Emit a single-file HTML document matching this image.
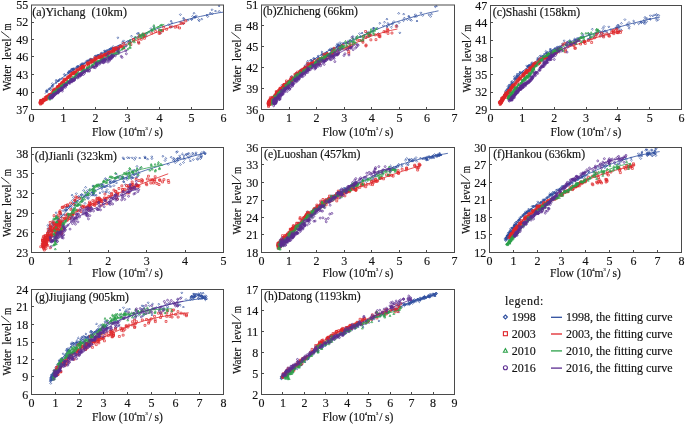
<!DOCTYPE html>
<html><head><meta charset="utf-8"><style>
html,body{margin:0;padding:0;background:#fff;}
svg{display:block;will-change:transform;}
svg{font-family:"Liberation Serif", serif;font-size:12px;} text{fill:#111;stroke:#111;stroke-width:0.15px;}
</style></head><body>
<svg width="685" height="424" viewBox="0 0 685 424">
<rect width="685" height="424" fill="#fff"/>
<defs><clipPath id="ca"><rect x="31.5" y="4.5" width="192.0" height="105.0"/></clipPath><clipPath id="cb"><rect x="261.5" y="4.5" width="193.0" height="105.0"/></clipPath><clipPath id="cc"><rect x="490.5" y="5.5" width="191.0" height="104.0"/></clipPath><clipPath id="cd"><rect x="31.5" y="147.5" width="192.0" height="105.0"/></clipPath><clipPath id="ce"><rect x="261.5" y="147.5" width="193.0" height="105.0"/></clipPath><clipPath id="cf"><rect x="489.5" y="147.5" width="192.0" height="105.0"/></clipPath><clipPath id="cg"><rect x="31.5" y="289.5" width="192.0" height="105.0"/></clipPath><clipPath id="ch"><rect x="261.5" y="289.5" width="193.0" height="105.0"/></clipPath></defs>
<g clip-path="url(#ca)"><path d="M73.0 68.5l0.95 0.95 -0.95 0.95 -0.95 -0.95zM89.7 58.9l0.95 0.95 -0.95 0.95 -0.95 -0.95zM46.7 90.1l0.95 0.95 -0.95 0.95 -0.95 -0.95zM107.0 50.2l0.95 0.95 -0.95 0.95 -0.95 -0.95zM73.1 68.4l0.95 0.95 -0.95 0.95 -0.95 -0.95zM57.9 80.0l0.95 0.95 -0.95 0.95 -0.95 -0.95zM98.2 54.2l0.95 0.95 -0.95 0.95 -0.95 -0.95zM69.5 70.2l0.95 0.95 -0.95 0.95 -0.95 -0.95zM71.5 68.3l0.95 0.95 -0.95 0.95 -0.95 -0.95zM56.1 79.3l0.95 0.95 -0.95 0.95 -0.95 -0.95zM65.1 74.3l0.95 0.95 -0.95 0.95 -0.95 -0.95zM78.1 66.0l0.95 0.95 -0.95 0.95 -0.95 -0.95zM77.6 65.3l0.95 0.95 -0.95 0.95 -0.95 -0.95zM52.4 85.5l0.95 0.95 -0.95 0.95 -0.95 -0.95zM49.5 87.8l0.95 0.95 -0.95 0.95 -0.95 -0.95zM90.7 57.9l0.95 0.95 -0.95 0.95 -0.95 -0.95zM71.5 69.3l0.95 0.95 -0.95 0.95 -0.95 -0.95zM59.7 78.4l0.95 0.95 -0.95 0.95 -0.95 -0.95zM88.0 60.0l0.95 0.95 -0.95 0.95 -0.95 -0.95zM70.8 70.5l0.95 0.95 -0.95 0.95 -0.95 -0.95zM47.4 88.9l0.95 0.95 -0.95 0.95 -0.95 -0.95zM68.7 71.7l0.95 0.95 -0.95 0.95 -0.95 -0.95zM47.2 91.1l0.95 0.95 -0.95 0.95 -0.95 -0.95zM81.4 64.1l0.95 0.95 -0.95 0.95 -0.95 -0.95zM86.9 59.9l0.95 0.95 -0.95 0.95 -0.95 -0.95zM102.0 51.9l0.95 0.95 -0.95 0.95 -0.95 -0.95zM86.3 60.9l0.95 0.95 -0.95 0.95 -0.95 -0.95zM73.9 67.7l0.95 0.95 -0.95 0.95 -0.95 -0.95zM97.1 54.7l0.95 0.95 -0.95 0.95 -0.95 -0.95zM80.9 65.1l0.95 0.95 -0.95 0.95 -0.95 -0.95zM100.5 53.0l0.95 0.95 -0.95 0.95 -0.95 -0.95zM80.9 64.0l0.95 0.95 -0.95 0.95 -0.95 -0.95zM73.2 67.9l0.95 0.95 -0.95 0.95 -0.95 -0.95zM108.8 49.3l0.95 0.95 -0.95 0.95 -0.95 -0.95zM90.0 58.9l0.95 0.95 -0.95 0.95 -0.95 -0.95zM94.8 55.2l0.95 0.95 -0.95 0.95 -0.95 -0.95zM104.6 50.1l0.95 0.95 -0.95 0.95 -0.95 -0.95zM58.5 80.0l0.95 0.95 -0.95 0.95 -0.95 -0.95zM89.7 59.7l0.95 0.95 -0.95 0.95 -0.95 -0.95zM50.6 88.7l0.95 0.95 -0.95 0.95 -0.95 -0.95zM110.6 49.3l0.95 0.95 -0.95 0.95 -0.95 -0.95zM109.3 48.3l0.95 0.95 -0.95 0.95 -0.95 -0.95zM107.1 49.2l0.95 0.95 -0.95 0.95 -0.95 -0.95zM84.9 61.9l0.95 0.95 -0.95 0.95 -0.95 -0.95zM96.7 54.9l0.95 0.95 -0.95 0.95 -0.95 -0.95zM83.9 62.9l0.95 0.95 -0.95 0.95 -0.95 -0.95zM90.9 58.4l0.95 0.95 -0.95 0.95 -0.95 -0.95zM59.1 79.2l0.95 0.95 -0.95 0.95 -0.95 -0.95zM52.4 82.7l0.95 0.95 -0.95 0.95 -0.95 -0.95zM90.3 58.6l0.95 0.95 -0.95 0.95 -0.95 -0.95zM82.7 63.2l0.95 0.95 -0.95 0.95 -0.95 -0.95zM95.9 55.0l0.95 0.95 -0.95 0.95 -0.95 -0.95zM77.6 65.9l0.95 0.95 -0.95 0.95 -0.95 -0.95zM97.8 55.2l0.95 0.95 -0.95 0.95 -0.95 -0.95zM56.1 81.8l0.95 0.95 -0.95 0.95 -0.95 -0.95zM98.9 54.3l0.95 0.95 -0.95 0.95 -0.95 -0.95zM70.6 70.0l0.95 0.95 -0.95 0.95 -0.95 -0.95zM56.7 80.5l0.95 0.95 -0.95 0.95 -0.95 -0.95zM110.0 48.2l0.95 0.95 -0.95 0.95 -0.95 -0.95zM77.4 66.6l0.95 0.95 -0.95 0.95 -0.95 -0.95zM73.8 68.9l0.95 0.95 -0.95 0.95 -0.95 -0.95zM72.6 67.9l0.95 0.95 -0.95 0.95 -0.95 -0.95zM46.2 90.1l0.95 0.95 -0.95 0.95 -0.95 -0.95zM98.0 54.3l0.95 0.95 -0.95 0.95 -0.95 -0.95zM76.4 66.7l0.95 0.95 -0.95 0.95 -0.95 -0.95zM68.7 71.6l0.95 0.95 -0.95 0.95 -0.95 -0.95zM101.1 52.5l0.95 0.95 -0.95 0.95 -0.95 -0.95zM80.8 63.8l0.95 0.95 -0.95 0.95 -0.95 -0.95zM104.7 49.8l0.95 0.95 -0.95 0.95 -0.95 -0.95zM67.9 72.3l0.95 0.95 -0.95 0.95 -0.95 -0.95zM77.3 65.9l0.95 0.95 -0.95 0.95 -0.95 -0.95zM68.9 70.6l0.95 0.95 -0.95 0.95 -0.95 -0.95zM111.1 47.8l0.95 0.95 -0.95 0.95 -0.95 -0.95zM87.9 59.7l0.95 0.95 -0.95 0.95 -0.95 -0.95zM111.6 48.4l0.95 0.95 -0.95 0.95 -0.95 -0.95zM64.3 73.4l0.95 0.95 -0.95 0.95 -0.95 -0.95zM69.2 71.2l0.95 0.95 -0.95 0.95 -0.95 -0.95zM110.8 47.5l0.95 0.95 -0.95 0.95 -0.95 -0.95zM105.7 51.5l0.95 0.95 -0.95 0.95 -0.95 -0.95zM105.0 51.2l0.95 0.95 -0.95 0.95 -0.95 -0.95zM74.1 67.9l0.95 0.95 -0.95 0.95 -0.95 -0.95zM52.8 84.2l0.95 0.95 -0.95 0.95 -0.95 -0.95zM61.9 77.8l0.95 0.95 -0.95 0.95 -0.95 -0.95zM105.4 50.8l0.95 0.95 -0.95 0.95 -0.95 -0.95zM71.7 69.6l0.95 0.95 -0.95 0.95 -0.95 -0.95zM51.8 85.3l0.95 0.95 -0.95 0.95 -0.95 -0.95zM82.0 62.8l0.95 0.95 -0.95 0.95 -0.95 -0.95zM50.1 87.4l0.95 0.95 -0.95 0.95 -0.95 -0.95zM82.7 62.6l0.95 0.95 -0.95 0.95 -0.95 -0.95zM78.7 65.2l0.95 0.95 -0.95 0.95 -0.95 -0.95z" fill="none" stroke="#2f4f9f" stroke-width="0.7"/>
<path d="M210.2 12.2l0.95 0.95 -0.95 0.95 -0.95 -0.95zM172.2 25.6l0.95 0.95 -0.95 0.95 -0.95 -0.95zM168.8 23.7l0.95 0.95 -0.95 0.95 -0.95 -0.95zM129.7 40.5l0.95 0.95 -0.95 0.95 -0.95 -0.95zM194.0 12.3l0.95 0.95 -0.95 0.95 -0.95 -0.95zM206.9 14.1l0.95 0.95 -0.95 0.95 -0.95 -0.95zM131.5 35.3l0.95 0.95 -0.95 0.95 -0.95 -0.95zM194.4 16.2l0.95 0.95 -0.95 0.95 -0.95 -0.95zM160.5 32.2l0.95 0.95 -0.95 0.95 -0.95 -0.95zM171.8 22.0l0.95 0.95 -0.95 0.95 -0.95 -0.95zM201.7 18.2l0.95 0.95 -0.95 0.95 -0.95 -0.95zM151.0 27.7l0.95 0.95 -0.95 0.95 -0.95 -0.95zM170.7 26.3l0.95 0.95 -0.95 0.95 -0.95 -0.95zM116.2 49.4l0.95 0.95 -0.95 0.95 -0.95 -0.95zM117.9 36.8l0.95 0.95 -0.95 0.95 -0.95 -0.95zM127.5 40.6l0.95 0.95 -0.95 0.95 -0.95 -0.95zM114.3 53.0l0.95 0.95 -0.95 0.95 -0.95 -0.95zM146.2 35.4l0.95 0.95 -0.95 0.95 -0.95 -0.95zM184.1 18.3l0.95 0.95 -0.95 0.95 -0.95 -0.95zM183.5 22.7l0.95 0.95 -0.95 0.95 -0.95 -0.95zM212.3 12.7l0.95 0.95 -0.95 0.95 -0.95 -0.95zM138.8 41.8l0.95 0.95 -0.95 0.95 -0.95 -0.95zM112.1 47.0l0.95 0.95 -0.95 0.95 -0.95 -0.95zM138.4 32.1l0.95 0.95 -0.95 0.95 -0.95 -0.95zM112.3 47.7l0.95 0.95 -0.95 0.95 -0.95 -0.95zM215.5 10.1l0.95 0.95 -0.95 0.95 -0.95 -0.95zM212.0 8.8l0.95 0.95 -0.95 0.95 -0.95 -0.95zM219.1 5.0l0.95 0.95 -0.95 0.95 -0.95 -0.95zM118.4 45.4l0.95 0.95 -0.95 0.95 -0.95 -0.95zM134.7 37.0l0.95 0.95 -0.95 0.95 -0.95 -0.95zM219.2 10.4l0.95 0.95 -0.95 0.95 -0.95 -0.95zM171.1 20.2l0.95 0.95 -0.95 0.95 -0.95 -0.95zM123.6 39.9l0.95 0.95 -0.95 0.95 -0.95 -0.95zM180.9 21.5l0.95 0.95 -0.95 0.95 -0.95 -0.95zM115.8 48.0l0.95 0.95 -0.95 0.95 -0.95 -0.95zM153.8 25.9l0.95 0.95 -0.95 0.95 -0.95 -0.95zM130.5 41.2l0.95 0.95 -0.95 0.95 -0.95 -0.95zM119.4 44.9l0.95 0.95 -0.95 0.95 -0.95 -0.95zM123.9 45.9l0.95 0.95 -0.95 0.95 -0.95 -0.95zM194.7 16.3l0.95 0.95 -0.95 0.95 -0.95 -0.95zM122.5 41.3l0.95 0.95 -0.95 0.95 -0.95 -0.95zM140.0 35.5l0.95 0.95 -0.95 0.95 -0.95 -0.95zM113.2 45.6l0.95 0.95 -0.95 0.95 -0.95 -0.95zM125.2 42.7l0.95 0.95 -0.95 0.95 -0.95 -0.95zM137.4 32.8l0.95 0.95 -0.95 0.95 -0.95 -0.95zM183.5 17.2l0.95 0.95 -0.95 0.95 -0.95 -0.95zM192.6 15.5l0.95 0.95 -0.95 0.95 -0.95 -0.95zM191.7 18.1l0.95 0.95 -0.95 0.95 -0.95 -0.95zM191.6 18.7l0.95 0.95 -0.95 0.95 -0.95 -0.95zM199.2 19.8l0.95 0.95 -0.95 0.95 -0.95 -0.95zM207.7 15.6l0.95 0.95 -0.95 0.95 -0.95 -0.95zM142.7 33.3l0.95 0.95 -0.95 0.95 -0.95 -0.95zM196.2 14.9l0.95 0.95 -0.95 0.95 -0.95 -0.95zM187.9 19.3l0.95 0.95 -0.95 0.95 -0.95 -0.95zM198.6 18.6l0.95 0.95 -0.95 0.95 -0.95 -0.95zM195.1 16.3l0.95 0.95 -0.95 0.95 -0.95 -0.95zM129.3 40.1l0.95 0.95 -0.95 0.95 -0.95 -0.95zM151.6 29.6l0.95 0.95 -0.95 0.95 -0.95 -0.95zM180.4 13.7l0.95 0.95 -0.95 0.95 -0.95 -0.95zM146.6 32.8l0.95 0.95 -0.95 0.95 -0.95 -0.95z" fill="none" stroke="#2f4f9f" stroke-width="0.7"/>
<polyline points="44.9,93.7 49.5,88.7 54.1,84.2 58.7,80.4 63.3,77.0 67.8,73.8 72.4,70.8 77.0,67.9 81.6,65.1 86.1,62.3 90.7,59.6 95.3,57.1 99.9,54.7 104.5,52.3 109.0,50.0 113.6,47.7 118.2,45.6 122.8,43.4 127.4,41.3 131.9,39.2 136.5,37.2 141.1,35.2 145.7,33.2 150.2,31.3 154.8,29.5 159.4,27.9 164.0,26.3 168.6,24.8 173.1,23.4 177.7,22.1 182.3,20.8 186.9,19.6 191.5,18.5 196.0,17.4 200.6,16.4 205.2,15.4 209.8,14.5 214.3,13.6 218.9,12.8 223.5,12.1" fill="none" stroke="#2f4f9f" stroke-width="0.8"/>
<path d="M42.1 99.1h1.9v1.9h-1.9zM105.3 53.2h1.9v1.9h-1.9zM40.3 99.6h1.9v1.9h-1.9zM53.7 89.6h1.9v1.9h-1.9zM68.2 75.1h1.9v1.9h-1.9zM46.8 95.2h1.9v1.9h-1.9zM105.1 53.6h1.9v1.9h-1.9zM43.0 98.7h1.9v1.9h-1.9zM82.8 65.8h1.9v1.9h-1.9zM63.1 78.8h1.9v1.9h-1.9zM86.4 62.0h1.9v1.9h-1.9zM110.8 50.6h1.9v1.9h-1.9zM49.1 94.1h1.9v1.9h-1.9zM79.3 66.7h1.9v1.9h-1.9zM81.3 65.6h1.9v1.9h-1.9zM45.2 98.7h1.9v1.9h-1.9zM48.8 93.5h1.9v1.9h-1.9zM90.3 60.9h1.9v1.9h-1.9zM103.8 54.2h1.9v1.9h-1.9zM81.6 65.9h1.9v1.9h-1.9zM98.3 56.5h1.9v1.9h-1.9zM115.2 46.7h1.9v1.9h-1.9zM101.0 55.2h1.9v1.9h-1.9zM52.7 90.1h1.9v1.9h-1.9zM108.1 51.0h1.9v1.9h-1.9zM45.6 95.4h1.9v1.9h-1.9zM72.2 72.5h1.9v1.9h-1.9zM117.5 47.3h1.9v1.9h-1.9zM99.2 56.2h1.9v1.9h-1.9zM42.3 99.2h1.9v1.9h-1.9zM110.3 50.4h1.9v1.9h-1.9zM42.8 100.1h1.9v1.9h-1.9zM100.7 56.1h1.9v1.9h-1.9zM108.9 51.5h1.9v1.9h-1.9zM40.5 100.6h1.9v1.9h-1.9zM42.3 98.2h1.9v1.9h-1.9zM112.8 50.2h1.9v1.9h-1.9zM40.5 100.4h1.9v1.9h-1.9zM52.9 89.6h1.9v1.9h-1.9zM79.8 68.3h1.9v1.9h-1.9zM51.2 91.8h1.9v1.9h-1.9zM107.1 51.5h1.9v1.9h-1.9zM104.1 54.1h1.9v1.9h-1.9zM68.8 75.0h1.9v1.9h-1.9zM74.9 72.1h1.9v1.9h-1.9zM65.1 78.7h1.9v1.9h-1.9zM92.6 60.1h1.9v1.9h-1.9zM90.0 58.9h1.9v1.9h-1.9zM74.4 71.2h1.9v1.9h-1.9zM118.0 47.1h1.9v1.9h-1.9zM105.0 53.4h1.9v1.9h-1.9zM58.7 83.5h1.9v1.9h-1.9zM81.7 65.6h1.9v1.9h-1.9zM47.9 94.0h1.9v1.9h-1.9zM47.0 96.2h1.9v1.9h-1.9zM59.1 84.4h1.9v1.9h-1.9zM99.5 56.8h1.9v1.9h-1.9zM112.0 49.5h1.9v1.9h-1.9zM40.9 101.3h1.9v1.9h-1.9zM44.9 96.5h1.9v1.9h-1.9zM40.6 100.6h1.9v1.9h-1.9zM100.3 55.8h1.9v1.9h-1.9zM82.2 67.2h1.9v1.9h-1.9zM81.5 67.1h1.9v1.9h-1.9zM71.8 72.8h1.9v1.9h-1.9zM40.5 101.6h1.9v1.9h-1.9zM55.9 87.9h1.9v1.9h-1.9zM82.9 65.0h1.9v1.9h-1.9zM49.7 94.1h1.9v1.9h-1.9zM57.3 85.5h1.9v1.9h-1.9zM107.8 52.5h1.9v1.9h-1.9zM87.5 64.2h1.9v1.9h-1.9zM52.9 88.1h1.9v1.9h-1.9zM39.4 102.3h1.9v1.9h-1.9zM88.0 62.9h1.9v1.9h-1.9zM112.9 47.8h1.9v1.9h-1.9zM82.5 66.1h1.9v1.9h-1.9zM55.8 87.6h1.9v1.9h-1.9zM39.7 99.9h1.9v1.9h-1.9zM64.8 78.3h1.9v1.9h-1.9zM103.3 53.8h1.9v1.9h-1.9zM113.4 48.6h1.9v1.9h-1.9zM75.1 69.0h1.9v1.9h-1.9zM40.2 101.7h1.9v1.9h-1.9zM73.8 72.2h1.9v1.9h-1.9zM81.6 65.5h1.9v1.9h-1.9zM73.0 71.7h1.9v1.9h-1.9zM57.4 86.6h1.9v1.9h-1.9zM116.2 47.4h1.9v1.9h-1.9zM119.7 45.3h1.9v1.9h-1.9zM100.2 53.7h1.9v1.9h-1.9zM94.2 60.8h1.9v1.9h-1.9zM40.0 101.4h1.9v1.9h-1.9zM72.5 72.9h1.9v1.9h-1.9zM51.9 90.4h1.9v1.9h-1.9zM49.9 93.4h1.9v1.9h-1.9zM108.5 51.7h1.9v1.9h-1.9zM40.6 101.5h1.9v1.9h-1.9zM40.1 101.0h1.9v1.9h-1.9zM89.9 61.8h1.9v1.9h-1.9zM77.0 68.1h1.9v1.9h-1.9zM102.1 54.8h1.9v1.9h-1.9zM70.2 72.8h1.9v1.9h-1.9zM58.6 83.8h1.9v1.9h-1.9zM91.9 60.2h1.9v1.9h-1.9zM48.2 94.3h1.9v1.9h-1.9zM120.9 45.3h1.9v1.9h-1.9zM44.4 98.4h1.9v1.9h-1.9zM61.3 81.3h1.9v1.9h-1.9zM61.0 81.6h1.9v1.9h-1.9zM41.3 101.2h1.9v1.9h-1.9zM58.3 86.2h1.9v1.9h-1.9zM59.2 84.8h1.9v1.9h-1.9zM98.8 56.2h1.9v1.9h-1.9zM113.4 49.0h1.9v1.9h-1.9zM101.2 55.2h1.9v1.9h-1.9zM53.4 89.3h1.9v1.9h-1.9zM66.8 76.4h1.9v1.9h-1.9zM42.2 99.5h1.9v1.9h-1.9zM91.5 59.8h1.9v1.9h-1.9zM39.8 99.7h1.9v1.9h-1.9zM45.8 98.2h1.9v1.9h-1.9zM82.8 66.8h1.9v1.9h-1.9zM88.9 61.1h1.9v1.9h-1.9zM79.0 67.2h1.9v1.9h-1.9zM68.3 76.6h1.9v1.9h-1.9zM71.0 72.7h1.9v1.9h-1.9zM73.1 71.1h1.9v1.9h-1.9zM57.2 85.7h1.9v1.9h-1.9zM114.9 48.2h1.9v1.9h-1.9zM41.4 99.9h1.9v1.9h-1.9zM63.2 79.8h1.9v1.9h-1.9zM77.6 69.0h1.9v1.9h-1.9zM40.3 102.3h1.9v1.9h-1.9zM47.3 95.8h1.9v1.9h-1.9zM101.3 55.2h1.9v1.9h-1.9zM52.7 89.7h1.9v1.9h-1.9zM40.1 100.2h1.9v1.9h-1.9zM91.6 60.0h1.9v1.9h-1.9zM69.5 75.0h1.9v1.9h-1.9zM80.7 67.2h1.9v1.9h-1.9zM66.9 76.3h1.9v1.9h-1.9zM41.6 99.9h1.9v1.9h-1.9zM56.3 86.1h1.9v1.9h-1.9zM101.6 56.9h1.9v1.9h-1.9zM62.9 80.5h1.9v1.9h-1.9zM104.3 53.5h1.9v1.9h-1.9zM94.8 58.0h1.9v1.9h-1.9zM53.2 89.5h1.9v1.9h-1.9zM69.8 74.4h1.9v1.9h-1.9zM46.6 95.5h1.9v1.9h-1.9zM39.6 103.2h1.9v1.9h-1.9zM85.6 64.3h1.9v1.9h-1.9zM44.0 98.9h1.9v1.9h-1.9zM57.7 85.4h1.9v1.9h-1.9zM42.4 98.8h1.9v1.9h-1.9zM44.8 97.5h1.9v1.9h-1.9zM87.2 62.2h1.9v1.9h-1.9zM81.1 67.4h1.9v1.9h-1.9zM119.8 45.2h1.9v1.9h-1.9zM41.7 99.7h1.9v1.9h-1.9zM44.2 96.6h1.9v1.9h-1.9zM105.2 53.1h1.9v1.9h-1.9zM94.1 59.9h1.9v1.9h-1.9zM65.4 78.4h1.9v1.9h-1.9zM48.5 94.1h1.9v1.9h-1.9zM87.5 63.2h1.9v1.9h-1.9zM79.6 68.5h1.9v1.9h-1.9zM42.6 99.0h1.9v1.9h-1.9zM40.2 100.0h1.9v1.9h-1.9zM58.7 84.2h1.9v1.9h-1.9zM45.4 96.7h1.9v1.9h-1.9zM100.6 57.8h1.9v1.9h-1.9zM44.9 98.0h1.9v1.9h-1.9zM96.4 57.2h1.9v1.9h-1.9zM92.8 58.9h1.9v1.9h-1.9zM69.8 74.0h1.9v1.9h-1.9zM94.3 58.7h1.9v1.9h-1.9zM66.4 77.2h1.9v1.9h-1.9zM98.5 56.0h1.9v1.9h-1.9zM105.3 54.6h1.9v1.9h-1.9zM40.8 100.8h1.9v1.9h-1.9zM39.2 102.0h1.9v1.9h-1.9zM50.7 92.8h1.9v1.9h-1.9zM52.9 90.4h1.9v1.9h-1.9zM107.8 52.1h1.9v1.9h-1.9zM49.7 93.8h1.9v1.9h-1.9zM73.0 72.5h1.9v1.9h-1.9zM40.8 101.0h1.9v1.9h-1.9zM116.3 48.2h1.9v1.9h-1.9zM43.0 98.7h1.9v1.9h-1.9zM103.5 53.4h1.9v1.9h-1.9zM101.1 55.6h1.9v1.9h-1.9zM91.0 60.8h1.9v1.9h-1.9zM43.2 99.6h1.9v1.9h-1.9zM96.6 57.0h1.9v1.9h-1.9zM63.5 78.2h1.9v1.9h-1.9zM67.6 75.8h1.9v1.9h-1.9zM39.5 101.2h1.9v1.9h-1.9zM56.5 86.8h1.9v1.9h-1.9zM109.9 51.3h1.9v1.9h-1.9zM46.4 96.7h1.9v1.9h-1.9zM68.5 75.9h1.9v1.9h-1.9zM53.8 88.5h1.9v1.9h-1.9zM97.7 55.6h1.9v1.9h-1.9zM73.8 71.6h1.9v1.9h-1.9zM60.7 82.4h1.9v1.9h-1.9zM62.9 81.1h1.9v1.9h-1.9zM54.6 88.3h1.9v1.9h-1.9zM39.5 101.3h1.9v1.9h-1.9zM94.3 58.2h1.9v1.9h-1.9zM41.4 102.1h1.9v1.9h-1.9zM40.6 101.2h1.9v1.9h-1.9zM45.0 96.9h1.9v1.9h-1.9zM60.6 82.6h1.9v1.9h-1.9zM56.3 86.9h1.9v1.9h-1.9zM56.8 85.5h1.9v1.9h-1.9zM93.9 56.8h1.9v1.9h-1.9zM112.7 49.1h1.9v1.9h-1.9zM92.5 60.3h1.9v1.9h-1.9zM86.5 62.3h1.9v1.9h-1.9zM112.6 50.8h1.9v1.9h-1.9zM92.4 59.6h1.9v1.9h-1.9zM107.2 52.7h1.9v1.9h-1.9zM42.7 99.0h1.9v1.9h-1.9zM38.9 101.5h1.9v1.9h-1.9zM39.9 99.4h1.9v1.9h-1.9zM71.9 71.7h1.9v1.9h-1.9zM95.0 57.2h1.9v1.9h-1.9zM82.1 65.8h1.9v1.9h-1.9zM76.2 70.1h1.9v1.9h-1.9zM91.5 60.9h1.9v1.9h-1.9zM94.7 57.7h1.9v1.9h-1.9zM75.0 71.8h1.9v1.9h-1.9zM76.6 69.2h1.9v1.9h-1.9zM80.4 67.3h1.9v1.9h-1.9zM40.3 101.7h1.9v1.9h-1.9zM46.0 97.0h1.9v1.9h-1.9zM62.5 80.6h1.9v1.9h-1.9zM81.5 65.4h1.9v1.9h-1.9z" fill="none" stroke="#e0262a" stroke-width="0.7"/>
<path d="M129.9 43.7h1.9v1.9h-1.9zM150.8 32.2h1.9v1.9h-1.9zM165.7 28.3h1.9v1.9h-1.9zM169.5 25.9h1.9v1.9h-1.9zM180.2 22.2h1.9v1.9h-1.9zM143.0 33.1h1.9v1.9h-1.9zM122.1 46.7h1.9v1.9h-1.9zM113.4 49.4h1.9v1.9h-1.9zM128.6 42.0h1.9v1.9h-1.9zM162.7 26.2h1.9v1.9h-1.9zM154.7 30.6h1.9v1.9h-1.9zM178.6 27.0h1.9v1.9h-1.9zM158.2 32.4h1.9v1.9h-1.9zM184.7 19.9h1.9v1.9h-1.9zM112.6 47.5h1.9v1.9h-1.9zM142.1 34.4h1.9v1.9h-1.9zM122.7 42.6h1.9v1.9h-1.9zM161.6 30.0h1.9v1.9h-1.9zM159.1 32.1h1.9v1.9h-1.9zM137.9 42.2h1.9v1.9h-1.9zM114.8 47.7h1.9v1.9h-1.9zM132.7 38.9h1.9v1.9h-1.9zM137.5 40.9h1.9v1.9h-1.9zM142.9 35.2h1.9v1.9h-1.9zM132.5 38.6h1.9v1.9h-1.9zM161.4 29.6h1.9v1.9h-1.9zM174.2 26.2h1.9v1.9h-1.9zM143.8 34.3h1.9v1.9h-1.9zM158.6 29.3h1.9v1.9h-1.9zM140.3 38.3h1.9v1.9h-1.9zM143.5 37.3h1.9v1.9h-1.9zM176.5 25.9h1.9v1.9h-1.9zM118.3 46.3h1.9v1.9h-1.9zM117.1 49.3h1.9v1.9h-1.9zM115.4 47.7h1.9v1.9h-1.9zM110.8 51.2h1.9v1.9h-1.9zM138.6 34.5h1.9v1.9h-1.9zM122.6 47.3h1.9v1.9h-1.9zM182.3 22.1h1.9v1.9h-1.9zM137.1 37.1h1.9v1.9h-1.9z" fill="none" stroke="#e0262a" stroke-width="0.7"/>
<polyline points="40.5,102.5 44.2,99.8 47.9,96.7 51.6,93.3 55.3,89.7 59.0,86.0 62.7,82.2 66.4,78.9 70.1,75.8 73.8,73.0 77.5,70.5 81.3,68.1 85.0,65.8 88.7,63.5 92.4,61.3 96.1,59.2 99.8,57.2 103.5,55.2 107.2,53.3 110.9,51.5 114.6,49.6 118.3,47.9 122.1,46.2 125.8,44.7 129.5,43.1 133.2,41.6 136.9,40.2 140.6,38.7 144.3,37.3 148.0,35.9 151.7,34.4 155.4,32.8 159.1,31.3 162.8,29.9 166.6,28.6 170.3,27.4 174.0,26.2 177.7,25.1 181.4,24.1 185.1,23.2" fill="none" stroke="#e0262a" stroke-width="0.8"/>
<path d="M54.6 92.3l0.95 1.71h-1.9zM112.4 55.8l0.95 1.71h-1.9zM66.6 81.8l0.95 1.71h-1.9zM66.8 81.9l0.95 1.71h-1.9zM61.0 87.1l0.95 1.71h-1.9zM53.9 91.5l0.95 1.71h-1.9zM108.1 56.0l0.95 1.71h-1.9zM108.1 55.1l0.95 1.71h-1.9zM111.9 54.5l0.95 1.71h-1.9zM72.7 76.1l0.95 1.71h-1.9zM60.9 86.6l0.95 1.71h-1.9zM111.3 55.0l0.95 1.71h-1.9zM57.3 90.3l0.95 1.71h-1.9zM83.9 69.0l0.95 1.71h-1.9zM66.7 81.9l0.95 1.71h-1.9zM83.3 69.1l0.95 1.71h-1.9zM92.1 63.8l0.95 1.71h-1.9zM52.4 93.4l0.95 1.71h-1.9zM95.9 61.6l0.95 1.71h-1.9zM94.2 62.8l0.95 1.71h-1.9zM95.7 61.7l0.95 1.71h-1.9zM50.4 96.2l0.95 1.71h-1.9zM54.9 90.7l0.95 1.71h-1.9zM58.3 89.2l0.95 1.71h-1.9zM72.0 78.3l0.95 1.71h-1.9zM96.1 62.6l0.95 1.71h-1.9zM83.6 68.7l0.95 1.71h-1.9zM97.5 60.1l0.95 1.71h-1.9zM53.9 92.4l0.95 1.71h-1.9zM56.3 89.0l0.95 1.71h-1.9zM52.1 94.0l0.95 1.71h-1.9zM61.4 85.3l0.95 1.71h-1.9zM75.7 76.5l0.95 1.71h-1.9zM92.4 64.8l0.95 1.71h-1.9zM49.4 95.8l0.95 1.71h-1.9zM113.3 52.8l0.95 1.71h-1.9zM103.5 58.3l0.95 1.71h-1.9zM48.6 96.5l0.95 1.71h-1.9zM101.4 58.4l0.95 1.71h-1.9zM50.8 94.8l0.95 1.71h-1.9zM108.4 54.8l0.95 1.71h-1.9zM50.4 96.6l0.95 1.71h-1.9zM87.1 67.6l0.95 1.71h-1.9zM62.7 85.4l0.95 1.71h-1.9zM59.0 87.5l0.95 1.71h-1.9zM74.4 76.4l0.95 1.71h-1.9zM76.1 73.4l0.95 1.71h-1.9zM69.6 79.4l0.95 1.71h-1.9zM109.2 55.3l0.95 1.71h-1.9zM51.4 94.9l0.95 1.71h-1.9zM54.2 90.6l0.95 1.71h-1.9zM59.2 87.8l0.95 1.71h-1.9zM62.6 84.9l0.95 1.71h-1.9zM109.0 55.8l0.95 1.71h-1.9zM103.5 58.0l0.95 1.71h-1.9zM99.9 60.1l0.95 1.71h-1.9zM98.1 60.4l0.95 1.71h-1.9zM56.4 90.5l0.95 1.71h-1.9zM62.4 84.5l0.95 1.71h-1.9zM118.6 50.6l0.95 1.71h-1.9zM63.3 83.1l0.95 1.71h-1.9zM102.1 59.2l0.95 1.71h-1.9zM118.2 52.6l0.95 1.71h-1.9zM99.7 59.8l0.95 1.71h-1.9zM106.5 58.4l0.95 1.71h-1.9zM65.2 82.8l0.95 1.71h-1.9zM74.3 75.7l0.95 1.71h-1.9zM70.5 77.9l0.95 1.71h-1.9zM86.9 66.8l0.95 1.71h-1.9zM50.8 94.7l0.95 1.71h-1.9zM62.1 86.3l0.95 1.71h-1.9zM113.0 53.7l0.95 1.71h-1.9zM65.9 82.1l0.95 1.71h-1.9zM63.4 84.4l0.95 1.71h-1.9zM59.4 87.6l0.95 1.71h-1.9zM89.4 65.8l0.95 1.71h-1.9zM82.4 70.7l0.95 1.71h-1.9zM54.9 91.0l0.95 1.71h-1.9zM82.1 70.0l0.95 1.71h-1.9zM78.3 71.3l0.95 1.71h-1.9zM102.2 58.5l0.95 1.71h-1.9zM64.9 83.4l0.95 1.71h-1.9zM75.9 74.0l0.95 1.71h-1.9zM50.8 96.5l0.95 1.71h-1.9zM67.7 80.6l0.95 1.71h-1.9zM86.0 68.9l0.95 1.71h-1.9zM50.0 96.5l0.95 1.71h-1.9zM87.7 66.7l0.95 1.71h-1.9zM56.4 90.9l0.95 1.71h-1.9zM121.8 48.4l0.95 1.71h-1.9zM116.2 52.8l0.95 1.71h-1.9zM73.1 77.3l0.95 1.71h-1.9zM70.5 78.4l0.95 1.71h-1.9zM77.6 72.6l0.95 1.71h-1.9zM53.6 91.2l0.95 1.71h-1.9zM83.9 69.8l0.95 1.71h-1.9zM69.0 80.8l0.95 1.71h-1.9zM87.5 66.9l0.95 1.71h-1.9zM77.0 73.0l0.95 1.71h-1.9zM107.9 56.1l0.95 1.71h-1.9zM84.5 70.1l0.95 1.71h-1.9zM89.4 65.1l0.95 1.71h-1.9zM66.0 83.1l0.95 1.71h-1.9zM111.9 54.1l0.95 1.71h-1.9zM104.3 56.5l0.95 1.71h-1.9zM83.7 70.6l0.95 1.71h-1.9zM61.0 84.6l0.95 1.71h-1.9zM115.3 52.1l0.95 1.71h-1.9zM65.3 83.5l0.95 1.71h-1.9zM104.3 57.5l0.95 1.71h-1.9zM50.6 96.0l0.95 1.71h-1.9zM72.4 78.0l0.95 1.71h-1.9zM49.1 98.0l0.95 1.71h-1.9zM81.5 71.6l0.95 1.71h-1.9zM53.3 92.8l0.95 1.71h-1.9zM65.6 82.3l0.95 1.71h-1.9zM118.5 51.6l0.95 1.71h-1.9zM67.7 80.1l0.95 1.71h-1.9zM94.4 61.6l0.95 1.71h-1.9zM58.8 88.5l0.95 1.71h-1.9zM99.1 60.3l0.95 1.71h-1.9zM67.8 81.8l0.95 1.71h-1.9zM52.9 95.0l0.95 1.71h-1.9zM81.2 71.2l0.95 1.71h-1.9zM65.3 83.0l0.95 1.71h-1.9zM117.5 51.0l0.95 1.71h-1.9zM67.3 81.0l0.95 1.71h-1.9zM63.6 84.6l0.95 1.71h-1.9zM50.8 95.6l0.95 1.71h-1.9zM50.1 95.7l0.95 1.71h-1.9zM54.0 91.5l0.95 1.71h-1.9zM93.0 64.4l0.95 1.71h-1.9zM111.3 52.8l0.95 1.71h-1.9zM70.7 78.6l0.95 1.71h-1.9zM76.4 75.1l0.95 1.71h-1.9zM53.4 93.3l0.95 1.71h-1.9zM100.1 59.5l0.95 1.71h-1.9zM97.6 61.2l0.95 1.71h-1.9zM54.6 91.9l0.95 1.71h-1.9zM64.4 84.4l0.95 1.71h-1.9zM57.0 88.0l0.95 1.71h-1.9zM49.7 95.5l0.95 1.71h-1.9zM100.7 59.9l0.95 1.71h-1.9zM50.6 95.7l0.95 1.71h-1.9zM52.6 92.6l0.95 1.71h-1.9zM75.8 74.0l0.95 1.71h-1.9zM98.5 60.3l0.95 1.71h-1.9zM91.8 65.8l0.95 1.71h-1.9zM50.1 98.3l0.95 1.71h-1.9zM63.2 84.0l0.95 1.71h-1.9zM50.9 94.2l0.95 1.71h-1.9zM50.6 94.4l0.95 1.71h-1.9zM88.8 67.7l0.95 1.71h-1.9zM100.4 61.2l0.95 1.71h-1.9zM53.3 92.2l0.95 1.71h-1.9zM55.2 91.8l0.95 1.71h-1.9zM84.5 68.9l0.95 1.71h-1.9zM71.9 78.3l0.95 1.71h-1.9zM72.1 78.2l0.95 1.71h-1.9zM118.2 49.9l0.95 1.71h-1.9z" fill="none" stroke="#2ca14a" stroke-width="0.7"/>
<path d="M143.5 34.1l0.95 1.71h-1.9zM142.7 32.6l0.95 1.71h-1.9zM123.9 46.8l0.95 1.71h-1.9zM161.8 23.9l0.95 1.71h-1.9zM141.7 36.4l0.95 1.71h-1.9zM134.4 41.0l0.95 1.71h-1.9zM141.7 33.7l0.95 1.71h-1.9zM148.8 31.1l0.95 1.71h-1.9zM159.4 28.9l0.95 1.71h-1.9zM140.6 35.6l0.95 1.71h-1.9zM127.9 48.0l0.95 1.71h-1.9zM154.1 27.1l0.95 1.71h-1.9zM129.2 42.4l0.95 1.71h-1.9zM161.2 29.1l0.95 1.71h-1.9zM129.6 46.5l0.95 1.71h-1.9zM154.6 27.9l0.95 1.71h-1.9zM130.2 43.9l0.95 1.71h-1.9zM139.5 33.7l0.95 1.71h-1.9zM135.4 36.0l0.95 1.71h-1.9zM158.4 26.0l0.95 1.71h-1.9zM123.9 46.6l0.95 1.71h-1.9zM160.4 24.4l0.95 1.71h-1.9zM130.3 46.5l0.95 1.71h-1.9zM152.4 29.6l0.95 1.71h-1.9zM143.9 34.6l0.95 1.71h-1.9zM153.9 24.5l0.95 1.71h-1.9zM151.9 28.8l0.95 1.71h-1.9zM161.1 29.2l0.95 1.71h-1.9zM146.4 32.2l0.95 1.71h-1.9zM130.1 39.2l0.95 1.71h-1.9z" fill="none" stroke="#2ca14a" stroke-width="0.7"/>
<polyline points="49.1,97.8 52.1,95.0 55.0,92.2 58.0,89.6 60.9,87.1 63.9,84.7 66.8,82.4 69.8,80.3 72.7,78.2 75.7,76.1 78.6,74.1 81.6,72.0 84.5,70.0 87.5,68.0 90.5,66.1 93.4,64.3 96.4,62.6 99.3,61.0 102.3,59.6 105.2,58.2 108.2,56.8 111.1,55.4 114.1,54.0 117.0,52.4 120.0,50.7 122.9,48.7 125.9,46.4 128.9,44.1 131.8,42.0 134.8,40.0 137.7,38.1 140.7,36.1 143.6,34.3 146.6,32.5 149.5,30.8 152.5,29.3 155.4,27.9 158.4,26.6 161.3,25.4 164.3,24.3" fill="none" stroke="#2ca14a" stroke-width="0.8"/>
<path d="M49.0 97.5a0.95 0.95 0 1 0 1.9 0a0.95 0.95 0 1 0 -1.9 0M51.1 96.7a0.95 0.95 0 1 0 1.9 0a0.95 0.95 0 1 0 -1.9 0M57.8 90.8a0.95 0.95 0 1 0 1.9 0a0.95 0.95 0 1 0 -1.9 0M102.6 62.5a0.95 0.95 0 1 0 1.9 0a0.95 0.95 0 1 0 -1.9 0M71.1 81.9a0.95 0.95 0 1 0 1.9 0a0.95 0.95 0 1 0 -1.9 0M71.1 79.7a0.95 0.95 0 1 0 1.9 0a0.95 0.95 0 1 0 -1.9 0M108.4 57.8a0.95 0.95 0 1 0 1.9 0a0.95 0.95 0 1 0 -1.9 0M59.5 89.4a0.95 0.95 0 1 0 1.9 0a0.95 0.95 0 1 0 -1.9 0M95.5 63.6a0.95 0.95 0 1 0 1.9 0a0.95 0.95 0 1 0 -1.9 0M63.9 84.8a0.95 0.95 0 1 0 1.9 0a0.95 0.95 0 1 0 -1.9 0M73.8 78.8a0.95 0.95 0 1 0 1.9 0a0.95 0.95 0 1 0 -1.9 0M52.3 94.1a0.95 0.95 0 1 0 1.9 0a0.95 0.95 0 1 0 -1.9 0M50.7 97.2a0.95 0.95 0 1 0 1.9 0a0.95 0.95 0 1 0 -1.9 0M103.9 62.0a0.95 0.95 0 1 0 1.9 0a0.95 0.95 0 1 0 -1.9 0M55.8 92.6a0.95 0.95 0 1 0 1.9 0a0.95 0.95 0 1 0 -1.9 0M51.1 96.8a0.95 0.95 0 1 0 1.9 0a0.95 0.95 0 1 0 -1.9 0M95.7 62.7a0.95 0.95 0 1 0 1.9 0a0.95 0.95 0 1 0 -1.9 0M83.4 71.9a0.95 0.95 0 1 0 1.9 0a0.95 0.95 0 1 0 -1.9 0M51.0 98.3a0.95 0.95 0 1 0 1.9 0a0.95 0.95 0 1 0 -1.9 0M73.6 80.0a0.95 0.95 0 1 0 1.9 0a0.95 0.95 0 1 0 -1.9 0M78.4 74.5a0.95 0.95 0 1 0 1.9 0a0.95 0.95 0 1 0 -1.9 0M86.1 70.8a0.95 0.95 0 1 0 1.9 0a0.95 0.95 0 1 0 -1.9 0M80.9 73.8a0.95 0.95 0 1 0 1.9 0a0.95 0.95 0 1 0 -1.9 0M108.1 59.7a0.95 0.95 0 1 0 1.9 0a0.95 0.95 0 1 0 -1.9 0M68.1 81.8a0.95 0.95 0 1 0 1.9 0a0.95 0.95 0 1 0 -1.9 0M101.8 60.4a0.95 0.95 0 1 0 1.9 0a0.95 0.95 0 1 0 -1.9 0M95.4 65.6a0.95 0.95 0 1 0 1.9 0a0.95 0.95 0 1 0 -1.9 0M68.8 83.5a0.95 0.95 0 1 0 1.9 0a0.95 0.95 0 1 0 -1.9 0M103.9 60.9a0.95 0.95 0 1 0 1.9 0a0.95 0.95 0 1 0 -1.9 0M64.5 87.3a0.95 0.95 0 1 0 1.9 0a0.95 0.95 0 1 0 -1.9 0M79.1 75.1a0.95 0.95 0 1 0 1.9 0a0.95 0.95 0 1 0 -1.9 0M101.6 62.1a0.95 0.95 0 1 0 1.9 0a0.95 0.95 0 1 0 -1.9 0M68.0 82.7a0.95 0.95 0 1 0 1.9 0a0.95 0.95 0 1 0 -1.9 0M59.0 90.9a0.95 0.95 0 1 0 1.9 0a0.95 0.95 0 1 0 -1.9 0M57.3 89.8a0.95 0.95 0 1 0 1.9 0a0.95 0.95 0 1 0 -1.9 0M72.3 79.9a0.95 0.95 0 1 0 1.9 0a0.95 0.95 0 1 0 -1.9 0M105.4 61.0a0.95 0.95 0 1 0 1.9 0a0.95 0.95 0 1 0 -1.9 0M69.2 82.1a0.95 0.95 0 1 0 1.9 0a0.95 0.95 0 1 0 -1.9 0M79.2 75.4a0.95 0.95 0 1 0 1.9 0a0.95 0.95 0 1 0 -1.9 0M60.4 88.3a0.95 0.95 0 1 0 1.9 0a0.95 0.95 0 1 0 -1.9 0M70.6 81.4a0.95 0.95 0 1 0 1.9 0a0.95 0.95 0 1 0 -1.9 0M51.6 95.8a0.95 0.95 0 1 0 1.9 0a0.95 0.95 0 1 0 -1.9 0M51.6 96.2a0.95 0.95 0 1 0 1.9 0a0.95 0.95 0 1 0 -1.9 0M57.4 90.5a0.95 0.95 0 1 0 1.9 0a0.95 0.95 0 1 0 -1.9 0M92.8 67.2a0.95 0.95 0 1 0 1.9 0a0.95 0.95 0 1 0 -1.9 0M68.6 82.0a0.95 0.95 0 1 0 1.9 0a0.95 0.95 0 1 0 -1.9 0M87.0 71.3a0.95 0.95 0 1 0 1.9 0a0.95 0.95 0 1 0 -1.9 0M50.8 97.5a0.95 0.95 0 1 0 1.9 0a0.95 0.95 0 1 0 -1.9 0M53.3 95.6a0.95 0.95 0 1 0 1.9 0a0.95 0.95 0 1 0 -1.9 0M51.5 96.4a0.95 0.95 0 1 0 1.9 0a0.95 0.95 0 1 0 -1.9 0M53.7 93.8a0.95 0.95 0 1 0 1.9 0a0.95 0.95 0 1 0 -1.9 0M96.2 65.7a0.95 0.95 0 1 0 1.9 0a0.95 0.95 0 1 0 -1.9 0M50.9 96.1a0.95 0.95 0 1 0 1.9 0a0.95 0.95 0 1 0 -1.9 0M61.2 89.3a0.95 0.95 0 1 0 1.9 0a0.95 0.95 0 1 0 -1.9 0M49.0 98.5a0.95 0.95 0 1 0 1.9 0a0.95 0.95 0 1 0 -1.9 0M55.3 93.1a0.95 0.95 0 1 0 1.9 0a0.95 0.95 0 1 0 -1.9 0M58.2 91.1a0.95 0.95 0 1 0 1.9 0a0.95 0.95 0 1 0 -1.9 0M61.9 87.7a0.95 0.95 0 1 0 1.9 0a0.95 0.95 0 1 0 -1.9 0M77.6 75.3a0.95 0.95 0 1 0 1.9 0a0.95 0.95 0 1 0 -1.9 0M70.8 79.0a0.95 0.95 0 1 0 1.9 0a0.95 0.95 0 1 0 -1.9 0M74.4 77.8a0.95 0.95 0 1 0 1.9 0a0.95 0.95 0 1 0 -1.9 0M100.4 62.4a0.95 0.95 0 1 0 1.9 0a0.95 0.95 0 1 0 -1.9 0M80.2 73.6a0.95 0.95 0 1 0 1.9 0a0.95 0.95 0 1 0 -1.9 0M109.9 57.6a0.95 0.95 0 1 0 1.9 0a0.95 0.95 0 1 0 -1.9 0M100.1 60.9a0.95 0.95 0 1 0 1.9 0a0.95 0.95 0 1 0 -1.9 0M80.4 74.0a0.95 0.95 0 1 0 1.9 0a0.95 0.95 0 1 0 -1.9 0M76.7 77.2a0.95 0.95 0 1 0 1.9 0a0.95 0.95 0 1 0 -1.9 0M52.1 96.4a0.95 0.95 0 1 0 1.9 0a0.95 0.95 0 1 0 -1.9 0M88.4 71.1a0.95 0.95 0 1 0 1.9 0a0.95 0.95 0 1 0 -1.9 0M66.1 84.7a0.95 0.95 0 1 0 1.9 0a0.95 0.95 0 1 0 -1.9 0M73.1 79.5a0.95 0.95 0 1 0 1.9 0a0.95 0.95 0 1 0 -1.9 0M50.9 95.6a0.95 0.95 0 1 0 1.9 0a0.95 0.95 0 1 0 -1.9 0M68.5 82.0a0.95 0.95 0 1 0 1.9 0a0.95 0.95 0 1 0 -1.9 0M94.4 67.7a0.95 0.95 0 1 0 1.9 0a0.95 0.95 0 1 0 -1.9 0M61.3 89.5a0.95 0.95 0 1 0 1.9 0a0.95 0.95 0 1 0 -1.9 0M108.5 60.8a0.95 0.95 0 1 0 1.9 0a0.95 0.95 0 1 0 -1.9 0M114.4 55.8a0.95 0.95 0 1 0 1.9 0a0.95 0.95 0 1 0 -1.9 0M54.4 94.4a0.95 0.95 0 1 0 1.9 0a0.95 0.95 0 1 0 -1.9 0M78.3 73.7a0.95 0.95 0 1 0 1.9 0a0.95 0.95 0 1 0 -1.9 0M78.5 76.9a0.95 0.95 0 1 0 1.9 0a0.95 0.95 0 1 0 -1.9 0M63.3 85.1a0.95 0.95 0 1 0 1.9 0a0.95 0.95 0 1 0 -1.9 0M71.9 80.8a0.95 0.95 0 1 0 1.9 0a0.95 0.95 0 1 0 -1.9 0M81.4 73.4a0.95 0.95 0 1 0 1.9 0a0.95 0.95 0 1 0 -1.9 0M51.6 96.7a0.95 0.95 0 1 0 1.9 0a0.95 0.95 0 1 0 -1.9 0M96.3 64.7a0.95 0.95 0 1 0 1.9 0a0.95 0.95 0 1 0 -1.9 0M68.0 82.3a0.95 0.95 0 1 0 1.9 0a0.95 0.95 0 1 0 -1.9 0M71.3 80.8a0.95 0.95 0 1 0 1.9 0a0.95 0.95 0 1 0 -1.9 0M59.2 90.4a0.95 0.95 0 1 0 1.9 0a0.95 0.95 0 1 0 -1.9 0M107.9 57.4a0.95 0.95 0 1 0 1.9 0a0.95 0.95 0 1 0 -1.9 0M98.4 62.6a0.95 0.95 0 1 0 1.9 0a0.95 0.95 0 1 0 -1.9 0M49.0 97.7a0.95 0.95 0 1 0 1.9 0a0.95 0.95 0 1 0 -1.9 0M111.4 56.2a0.95 0.95 0 1 0 1.9 0a0.95 0.95 0 1 0 -1.9 0M110.4 57.3a0.95 0.95 0 1 0 1.9 0a0.95 0.95 0 1 0 -1.9 0M95.5 64.5a0.95 0.95 0 1 0 1.9 0a0.95 0.95 0 1 0 -1.9 0M107.9 58.8a0.95 0.95 0 1 0 1.9 0a0.95 0.95 0 1 0 -1.9 0M54.7 94.1a0.95 0.95 0 1 0 1.9 0a0.95 0.95 0 1 0 -1.9 0M98.6 64.2a0.95 0.95 0 1 0 1.9 0a0.95 0.95 0 1 0 -1.9 0M57.3 92.9a0.95 0.95 0 1 0 1.9 0a0.95 0.95 0 1 0 -1.9 0M86.4 70.4a0.95 0.95 0 1 0 1.9 0a0.95 0.95 0 1 0 -1.9 0M55.9 93.3a0.95 0.95 0 1 0 1.9 0a0.95 0.95 0 1 0 -1.9 0M61.4 91.1a0.95 0.95 0 1 0 1.9 0a0.95 0.95 0 1 0 -1.9 0M71.2 80.6a0.95 0.95 0 1 0 1.9 0a0.95 0.95 0 1 0 -1.9 0M103.4 59.9a0.95 0.95 0 1 0 1.9 0a0.95 0.95 0 1 0 -1.9 0M75.7 76.3a0.95 0.95 0 1 0 1.9 0a0.95 0.95 0 1 0 -1.9 0M79.6 74.4a0.95 0.95 0 1 0 1.9 0a0.95 0.95 0 1 0 -1.9 0M72.8 80.4a0.95 0.95 0 1 0 1.9 0a0.95 0.95 0 1 0 -1.9 0M103.0 59.8a0.95 0.95 0 1 0 1.9 0a0.95 0.95 0 1 0 -1.9 0M50.8 97.2a0.95 0.95 0 1 0 1.9 0a0.95 0.95 0 1 0 -1.9 0M70.7 79.4a0.95 0.95 0 1 0 1.9 0a0.95 0.95 0 1 0 -1.9 0M112.8 55.9a0.95 0.95 0 1 0 1.9 0a0.95 0.95 0 1 0 -1.9 0M60.1 88.6a0.95 0.95 0 1 0 1.9 0a0.95 0.95 0 1 0 -1.9 0M103.0 59.7a0.95 0.95 0 1 0 1.9 0a0.95 0.95 0 1 0 -1.9 0M63.4 85.5a0.95 0.95 0 1 0 1.9 0a0.95 0.95 0 1 0 -1.9 0M108.4 57.9a0.95 0.95 0 1 0 1.9 0a0.95 0.95 0 1 0 -1.9 0M49.4 95.6a0.95 0.95 0 1 0 1.9 0a0.95 0.95 0 1 0 -1.9 0M60.9 89.7a0.95 0.95 0 1 0 1.9 0a0.95 0.95 0 1 0 -1.9 0M63.0 87.2a0.95 0.95 0 1 0 1.9 0a0.95 0.95 0 1 0 -1.9 0M51.8 94.9a0.95 0.95 0 1 0 1.9 0a0.95 0.95 0 1 0 -1.9 0M53.1 95.2a0.95 0.95 0 1 0 1.9 0a0.95 0.95 0 1 0 -1.9 0M102.4 62.8a0.95 0.95 0 1 0 1.9 0a0.95 0.95 0 1 0 -1.9 0M102.4 61.3a0.95 0.95 0 1 0 1.9 0a0.95 0.95 0 1 0 -1.9 0M82.4 71.8a0.95 0.95 0 1 0 1.9 0a0.95 0.95 0 1 0 -1.9 0M55.0 92.8a0.95 0.95 0 1 0 1.9 0a0.95 0.95 0 1 0 -1.9 0M106.4 59.5a0.95 0.95 0 1 0 1.9 0a0.95 0.95 0 1 0 -1.9 0M69.8 81.6a0.95 0.95 0 1 0 1.9 0a0.95 0.95 0 1 0 -1.9 0M111.4 56.9a0.95 0.95 0 1 0 1.9 0a0.95 0.95 0 1 0 -1.9 0M93.3 67.5a0.95 0.95 0 1 0 1.9 0a0.95 0.95 0 1 0 -1.9 0M49.5 97.8a0.95 0.95 0 1 0 1.9 0a0.95 0.95 0 1 0 -1.9 0M50.2 96.9a0.95 0.95 0 1 0 1.9 0a0.95 0.95 0 1 0 -1.9 0M82.4 74.5a0.95 0.95 0 1 0 1.9 0a0.95 0.95 0 1 0 -1.9 0M57.2 92.2a0.95 0.95 0 1 0 1.9 0a0.95 0.95 0 1 0 -1.9 0M83.5 73.3a0.95 0.95 0 1 0 1.9 0a0.95 0.95 0 1 0 -1.9 0M70.6 80.9a0.95 0.95 0 1 0 1.9 0a0.95 0.95 0 1 0 -1.9 0M91.3 66.9a0.95 0.95 0 1 0 1.9 0a0.95 0.95 0 1 0 -1.9 0M63.3 87.0a0.95 0.95 0 1 0 1.9 0a0.95 0.95 0 1 0 -1.9 0M60.3 88.3a0.95 0.95 0 1 0 1.9 0a0.95 0.95 0 1 0 -1.9 0M101.8 60.1a0.95 0.95 0 1 0 1.9 0a0.95 0.95 0 1 0 -1.9 0M51.5 95.9a0.95 0.95 0 1 0 1.9 0a0.95 0.95 0 1 0 -1.9 0M60.3 89.7a0.95 0.95 0 1 0 1.9 0a0.95 0.95 0 1 0 -1.9 0M94.7 65.2a0.95 0.95 0 1 0 1.9 0a0.95 0.95 0 1 0 -1.9 0M56.6 92.0a0.95 0.95 0 1 0 1.9 0a0.95 0.95 0 1 0 -1.9 0M80.0 73.8a0.95 0.95 0 1 0 1.9 0a0.95 0.95 0 1 0 -1.9 0M50.1 97.5a0.95 0.95 0 1 0 1.9 0a0.95 0.95 0 1 0 -1.9 0M95.3 66.1a0.95 0.95 0 1 0 1.9 0a0.95 0.95 0 1 0 -1.9 0M92.8 66.5a0.95 0.95 0 1 0 1.9 0a0.95 0.95 0 1 0 -1.9 0M61.0 88.4a0.95 0.95 0 1 0 1.9 0a0.95 0.95 0 1 0 -1.9 0M64.9 85.0a0.95 0.95 0 1 0 1.9 0a0.95 0.95 0 1 0 -1.9 0M76.7 78.0a0.95 0.95 0 1 0 1.9 0a0.95 0.95 0 1 0 -1.9 0M59.4 89.7a0.95 0.95 0 1 0 1.9 0a0.95 0.95 0 1 0 -1.9 0M58.1 91.6a0.95 0.95 0 1 0 1.9 0a0.95 0.95 0 1 0 -1.9 0M50.6 97.2a0.95 0.95 0 1 0 1.9 0a0.95 0.95 0 1 0 -1.9 0M104.2 59.3a0.95 0.95 0 1 0 1.9 0a0.95 0.95 0 1 0 -1.9 0M79.9 75.1a0.95 0.95 0 1 0 1.9 0a0.95 0.95 0 1 0 -1.9 0M56.8 92.6a0.95 0.95 0 1 0 1.9 0a0.95 0.95 0 1 0 -1.9 0M111.2 57.9a0.95 0.95 0 1 0 1.9 0a0.95 0.95 0 1 0 -1.9 0M52.9 94.9a0.95 0.95 0 1 0 1.9 0a0.95 0.95 0 1 0 -1.9 0M98.3 63.2a0.95 0.95 0 1 0 1.9 0a0.95 0.95 0 1 0 -1.9 0M52.2 96.5a0.95 0.95 0 1 0 1.9 0a0.95 0.95 0 1 0 -1.9 0M68.5 81.7a0.95 0.95 0 1 0 1.9 0a0.95 0.95 0 1 0 -1.9 0M79.5 74.1a0.95 0.95 0 1 0 1.9 0a0.95 0.95 0 1 0 -1.9 0M109.7 58.3a0.95 0.95 0 1 0 1.9 0a0.95 0.95 0 1 0 -1.9 0M73.7 79.3a0.95 0.95 0 1 0 1.9 0a0.95 0.95 0 1 0 -1.9 0M80.3 75.0a0.95 0.95 0 1 0 1.9 0a0.95 0.95 0 1 0 -1.9 0M65.4 85.4a0.95 0.95 0 1 0 1.9 0a0.95 0.95 0 1 0 -1.9 0M59.4 89.9a0.95 0.95 0 1 0 1.9 0a0.95 0.95 0 1 0 -1.9 0M95.2 63.7a0.95 0.95 0 1 0 1.9 0a0.95 0.95 0 1 0 -1.9 0M67.9 82.4a0.95 0.95 0 1 0 1.9 0a0.95 0.95 0 1 0 -1.9 0M64.2 85.7a0.95 0.95 0 1 0 1.9 0a0.95 0.95 0 1 0 -1.9 0M77.3 75.9a0.95 0.95 0 1 0 1.9 0a0.95 0.95 0 1 0 -1.9 0M61.1 87.4a0.95 0.95 0 1 0 1.9 0a0.95 0.95 0 1 0 -1.9 0M65.3 84.9a0.95 0.95 0 1 0 1.9 0a0.95 0.95 0 1 0 -1.9 0M61.3 89.0a0.95 0.95 0 1 0 1.9 0a0.95 0.95 0 1 0 -1.9 0M53.7 94.4a0.95 0.95 0 1 0 1.9 0a0.95 0.95 0 1 0 -1.9 0M51.9 96.8a0.95 0.95 0 1 0 1.9 0a0.95 0.95 0 1 0 -1.9 0M86.0 69.5a0.95 0.95 0 1 0 1.9 0a0.95 0.95 0 1 0 -1.9 0M64.4 84.8a0.95 0.95 0 1 0 1.9 0a0.95 0.95 0 1 0 -1.9 0M73.1 80.4a0.95 0.95 0 1 0 1.9 0a0.95 0.95 0 1 0 -1.9 0M71.5 80.5a0.95 0.95 0 1 0 1.9 0a0.95 0.95 0 1 0 -1.9 0M49.8 96.9a0.95 0.95 0 1 0 1.9 0a0.95 0.95 0 1 0 -1.9 0M84.0 71.5a0.95 0.95 0 1 0 1.9 0a0.95 0.95 0 1 0 -1.9 0M78.5 75.5a0.95 0.95 0 1 0 1.9 0a0.95 0.95 0 1 0 -1.9 0M84.0 71.3a0.95 0.95 0 1 0 1.9 0a0.95 0.95 0 1 0 -1.9 0M108.4 58.4a0.95 0.95 0 1 0 1.9 0a0.95 0.95 0 1 0 -1.9 0M88.9 68.4a0.95 0.95 0 1 0 1.9 0a0.95 0.95 0 1 0 -1.9 0M56.6 92.7a0.95 0.95 0 1 0 1.9 0a0.95 0.95 0 1 0 -1.9 0M51.5 95.4a0.95 0.95 0 1 0 1.9 0a0.95 0.95 0 1 0 -1.9 0M65.4 84.3a0.95 0.95 0 1 0 1.9 0a0.95 0.95 0 1 0 -1.9 0M51.3 96.9a0.95 0.95 0 1 0 1.9 0a0.95 0.95 0 1 0 -1.9 0M88.5 70.4a0.95 0.95 0 1 0 1.9 0a0.95 0.95 0 1 0 -1.9 0M80.1 75.2a0.95 0.95 0 1 0 1.9 0a0.95 0.95 0 1 0 -1.9 0" fill="none" stroke="#5b2c91" stroke-width="0.7"/>
<path d="M117.7 48.9a0.95 0.95 0 1 0 1.9 0a0.95 0.95 0 1 0 -1.9 0M120.3 56.3a0.95 0.95 0 1 0 1.9 0a0.95 0.95 0 1 0 -1.9 0M110.1 58.8a0.95 0.95 0 1 0 1.9 0a0.95 0.95 0 1 0 -1.9 0M104.3 59.6a0.95 0.95 0 1 0 1.9 0a0.95 0.95 0 1 0 -1.9 0M105.9 55.2a0.95 0.95 0 1 0 1.9 0a0.95 0.95 0 1 0 -1.9 0M109.3 59.4a0.95 0.95 0 1 0 1.9 0a0.95 0.95 0 1 0 -1.9 0M110.5 55.6a0.95 0.95 0 1 0 1.9 0a0.95 0.95 0 1 0 -1.9 0M107.0 62.1a0.95 0.95 0 1 0 1.9 0a0.95 0.95 0 1 0 -1.9 0M125.0 46.1a0.95 0.95 0 1 0 1.9 0a0.95 0.95 0 1 0 -1.9 0M111.4 55.0a0.95 0.95 0 1 0 1.9 0a0.95 0.95 0 1 0 -1.9 0M107.5 53.3a0.95 0.95 0 1 0 1.9 0a0.95 0.95 0 1 0 -1.9 0M124.9 50.7a0.95 0.95 0 1 0 1.9 0a0.95 0.95 0 1 0 -1.9 0M109.9 56.1a0.95 0.95 0 1 0 1.9 0a0.95 0.95 0 1 0 -1.9 0M105.0 58.1a0.95 0.95 0 1 0 1.9 0a0.95 0.95 0 1 0 -1.9 0M111.7 56.7a0.95 0.95 0 1 0 1.9 0a0.95 0.95 0 1 0 -1.9 0M116.1 51.3a0.95 0.95 0 1 0 1.9 0a0.95 0.95 0 1 0 -1.9 0M118.1 51.7a0.95 0.95 0 1 0 1.9 0a0.95 0.95 0 1 0 -1.9 0M125.4 53.8a0.95 0.95 0 1 0 1.9 0a0.95 0.95 0 1 0 -1.9 0M108.7 58.3a0.95 0.95 0 1 0 1.9 0a0.95 0.95 0 1 0 -1.9 0M121.1 57.4a0.95 0.95 0 1 0 1.9 0a0.95 0.95 0 1 0 -1.9 0" fill="none" stroke="#5b2c91" stroke-width="0.7"/>
<polyline points="50.7,97.8 52.7,96.1 54.6,94.5 56.6,92.8 58.6,91.2 60.5,89.7 62.5,88.1 64.5,86.6 66.5,85.1 68.4,83.6 70.4,82.1 72.4,80.7 74.3,79.2 76.3,77.9 78.3,76.5 80.2,75.2 82.2,73.9 84.2,72.6 86.1,71.4 88.1,70.2 90.1,69.0 92.1,67.8 94.0,66.6 96.0,65.5 98.0,64.3 99.9,63.2 101.9,62.1 103.9,61.0 105.8,59.9 107.8,58.9 109.8,57.9 111.7,56.9 113.7,55.9 115.7,55.0 117.7,54.1 119.6,53.2 121.6,52.4 123.6,51.6 125.5,50.8 127.5,50.0" fill="none" stroke="#5b2c91" stroke-width="0.8"/></g>
<g clip-path="url(#cb)"><path d="M279.3 92.0l0.95 0.95 -0.95 0.95 -0.95 -0.95zM331.0 50.0l0.95 0.95 -0.95 0.95 -0.95 -0.95zM282.8 86.7l0.95 0.95 -0.95 0.95 -0.95 -0.95zM275.0 97.5l0.95 0.95 -0.95 0.95 -0.95 -0.95zM352.7 40.6l0.95 0.95 -0.95 0.95 -0.95 -0.95zM333.0 49.3l0.95 0.95 -0.95 0.95 -0.95 -0.95zM285.3 83.7l0.95 0.95 -0.95 0.95 -0.95 -0.95zM280.6 88.3l0.95 0.95 -0.95 0.95 -0.95 -0.95zM313.1 60.8l0.95 0.95 -0.95 0.95 -0.95 -0.95zM286.7 84.2l0.95 0.95 -0.95 0.95 -0.95 -0.95zM341.0 45.6l0.95 0.95 -0.95 0.95 -0.95 -0.95zM321.8 53.3l0.95 0.95 -0.95 0.95 -0.95 -0.95zM339.2 45.6l0.95 0.95 -0.95 0.95 -0.95 -0.95zM312.8 58.6l0.95 0.95 -0.95 0.95 -0.95 -0.95zM340.6 44.0l0.95 0.95 -0.95 0.95 -0.95 -0.95zM337.5 43.9l0.95 0.95 -0.95 0.95 -0.95 -0.95zM305.2 64.8l0.95 0.95 -0.95 0.95 -0.95 -0.95zM282.1 88.8l0.95 0.95 -0.95 0.95 -0.95 -0.95zM306.6 63.2l0.95 0.95 -0.95 0.95 -0.95 -0.95zM281.9 90.3l0.95 0.95 -0.95 0.95 -0.95 -0.95zM282.6 87.5l0.95 0.95 -0.95 0.95 -0.95 -0.95zM307.7 60.3l0.95 0.95 -0.95 0.95 -0.95 -0.95zM304.8 66.2l0.95 0.95 -0.95 0.95 -0.95 -0.95zM336.4 47.4l0.95 0.95 -0.95 0.95 -0.95 -0.95zM348.6 39.9l0.95 0.95 -0.95 0.95 -0.95 -0.95zM347.2 42.1l0.95 0.95 -0.95 0.95 -0.95 -0.95zM311.2 59.2l0.95 0.95 -0.95 0.95 -0.95 -0.95zM290.0 81.1l0.95 0.95 -0.95 0.95 -0.95 -0.95zM326.9 51.2l0.95 0.95 -0.95 0.95 -0.95 -0.95zM322.6 53.6l0.95 0.95 -0.95 0.95 -0.95 -0.95zM288.5 82.1l0.95 0.95 -0.95 0.95 -0.95 -0.95zM291.3 75.7l0.95 0.95 -0.95 0.95 -0.95 -0.95zM321.9 51.0l0.95 0.95 -0.95 0.95 -0.95 -0.95zM341.5 42.8l0.95 0.95 -0.95 0.95 -0.95 -0.95zM273.1 97.5l0.95 0.95 -0.95 0.95 -0.95 -0.95zM286.9 82.7l0.95 0.95 -0.95 0.95 -0.95 -0.95zM351.5 41.2l0.95 0.95 -0.95 0.95 -0.95 -0.95zM282.6 86.3l0.95 0.95 -0.95 0.95 -0.95 -0.95zM291.9 75.7l0.95 0.95 -0.95 0.95 -0.95 -0.95zM276.7 92.8l0.95 0.95 -0.95 0.95 -0.95 -0.95zM338.8 44.7l0.95 0.95 -0.95 0.95 -0.95 -0.95zM318.1 55.0l0.95 0.95 -0.95 0.95 -0.95 -0.95zM281.8 84.6l0.95 0.95 -0.95 0.95 -0.95 -0.95zM332.1 47.8l0.95 0.95 -0.95 0.95 -0.95 -0.95zM308.0 63.7l0.95 0.95 -0.95 0.95 -0.95 -0.95zM297.3 72.2l0.95 0.95 -0.95 0.95 -0.95 -0.95zM290.7 77.8l0.95 0.95 -0.95 0.95 -0.95 -0.95zM290.4 79.8l0.95 0.95 -0.95 0.95 -0.95 -0.95zM338.6 44.2l0.95 0.95 -0.95 0.95 -0.95 -0.95zM313.8 57.3l0.95 0.95 -0.95 0.95 -0.95 -0.95zM314.6 58.1l0.95 0.95 -0.95 0.95 -0.95 -0.95zM336.8 46.2l0.95 0.95 -0.95 0.95 -0.95 -0.95zM288.3 82.6l0.95 0.95 -0.95 0.95 -0.95 -0.95zM274.2 96.4l0.95 0.95 -0.95 0.95 -0.95 -0.95zM333.3 47.6l0.95 0.95 -0.95 0.95 -0.95 -0.95zM288.2 80.5l0.95 0.95 -0.95 0.95 -0.95 -0.95zM274.3 99.0l0.95 0.95 -0.95 0.95 -0.95 -0.95zM330.7 47.8l0.95 0.95 -0.95 0.95 -0.95 -0.95zM318.3 57.3l0.95 0.95 -0.95 0.95 -0.95 -0.95zM281.8 89.2l0.95 0.95 -0.95 0.95 -0.95 -0.95zM279.9 92.6l0.95 0.95 -0.95 0.95 -0.95 -0.95zM304.4 67.9l0.95 0.95 -0.95 0.95 -0.95 -0.95zM304.0 68.9l0.95 0.95 -0.95 0.95 -0.95 -0.95zM304.9 66.4l0.95 0.95 -0.95 0.95 -0.95 -0.95zM329.1 49.0l0.95 0.95 -0.95 0.95 -0.95 -0.95zM340.0 41.7l0.95 0.95 -0.95 0.95 -0.95 -0.95zM279.5 89.7l0.95 0.95 -0.95 0.95 -0.95 -0.95zM277.7 91.6l0.95 0.95 -0.95 0.95 -0.95 -0.95zM325.5 52.4l0.95 0.95 -0.95 0.95 -0.95 -0.95zM301.6 68.9l0.95 0.95 -0.95 0.95 -0.95 -0.95zM309.7 63.2l0.95 0.95 -0.95 0.95 -0.95 -0.95zM283.1 86.1l0.95 0.95 -0.95 0.95 -0.95 -0.95zM321.8 54.4l0.95 0.95 -0.95 0.95 -0.95 -0.95zM299.7 70.6l0.95 0.95 -0.95 0.95 -0.95 -0.95zM291.3 80.4l0.95 0.95 -0.95 0.95 -0.95 -0.95zM339.5 44.8l0.95 0.95 -0.95 0.95 -0.95 -0.95zM283.8 85.9l0.95 0.95 -0.95 0.95 -0.95 -0.95zM279.1 91.3l0.95 0.95 -0.95 0.95 -0.95 -0.95zM301.6 69.6l0.95 0.95 -0.95 0.95 -0.95 -0.95zM330.4 48.9l0.95 0.95 -0.95 0.95 -0.95 -0.95zM286.5 82.0l0.95 0.95 -0.95 0.95 -0.95 -0.95zM271.7 98.0l0.95 0.95 -0.95 0.95 -0.95 -0.95zM307.6 61.9l0.95 0.95 -0.95 0.95 -0.95 -0.95zM287.7 82.1l0.95 0.95 -0.95 0.95 -0.95 -0.95zM336.9 44.6l0.95 0.95 -0.95 0.95 -0.95 -0.95zM280.1 89.9l0.95 0.95 -0.95 0.95 -0.95 -0.95zM291.9 79.8l0.95 0.95 -0.95 0.95 -0.95 -0.95zM290.5 79.7l0.95 0.95 -0.95 0.95 -0.95 -0.95zM274.8 97.0l0.95 0.95 -0.95 0.95 -0.95 -0.95zM323.5 53.7l0.95 0.95 -0.95 0.95 -0.95 -0.95zM314.6 57.9l0.95 0.95 -0.95 0.95 -0.95 -0.95zM333.8 48.2l0.95 0.95 -0.95 0.95 -0.95 -0.95zM295.3 75.7l0.95 0.95 -0.95 0.95 -0.95 -0.95zM296.5 72.6l0.95 0.95 -0.95 0.95 -0.95 -0.95zM350.2 39.2l0.95 0.95 -0.95 0.95 -0.95 -0.95zM278.5 96.1l0.95 0.95 -0.95 0.95 -0.95 -0.95zM300.6 69.1l0.95 0.95 -0.95 0.95 -0.95 -0.95zM336.5 50.3l0.95 0.95 -0.95 0.95 -0.95 -0.95zM300.5 69.9l0.95 0.95 -0.95 0.95 -0.95 -0.95zM337.7 42.9l0.95 0.95 -0.95 0.95 -0.95 -0.95zM310.4 59.4l0.95 0.95 -0.95 0.95 -0.95 -0.95zM275.7 94.4l0.95 0.95 -0.95 0.95 -0.95 -0.95zM337.4 46.4l0.95 0.95 -0.95 0.95 -0.95 -0.95zM338.9 44.7l0.95 0.95 -0.95 0.95 -0.95 -0.95zM311.9 60.2l0.95 0.95 -0.95 0.95 -0.95 -0.95zM305.3 66.1l0.95 0.95 -0.95 0.95 -0.95 -0.95zM308.2 66.0l0.95 0.95 -0.95 0.95 -0.95 -0.95zM283.4 88.8l0.95 0.95 -0.95 0.95 -0.95 -0.95zM325.2 53.4l0.95 0.95 -0.95 0.95 -0.95 -0.95zM288.2 81.2l0.95 0.95 -0.95 0.95 -0.95 -0.95zM317.9 56.7l0.95 0.95 -0.95 0.95 -0.95 -0.95zM296.6 71.8l0.95 0.95 -0.95 0.95 -0.95 -0.95zM294.4 76.7l0.95 0.95 -0.95 0.95 -0.95 -0.95zM308.3 66.4l0.95 0.95 -0.95 0.95 -0.95 -0.95zM344.3 42.5l0.95 0.95 -0.95 0.95 -0.95 -0.95zM343.4 42.1l0.95 0.95 -0.95 0.95 -0.95 -0.95zM318.3 58.3l0.95 0.95 -0.95 0.95 -0.95 -0.95zM308.3 63.7l0.95 0.95 -0.95 0.95 -0.95 -0.95zM331.4 49.4l0.95 0.95 -0.95 0.95 -0.95 -0.95zM294.1 77.1l0.95 0.95 -0.95 0.95 -0.95 -0.95z" fill="none" stroke="#2f4f9f" stroke-width="0.7"/>
<path d="M369.0 32.7l0.95 0.95 -0.95 0.95 -0.95 -0.95zM362.1 32.1l0.95 0.95 -0.95 0.95 -0.95 -0.95zM396.6 24.3l0.95 0.95 -0.95 0.95 -0.95 -0.95zM410.2 18.6l0.95 0.95 -0.95 0.95 -0.95 -0.95zM360.4 35.4l0.95 0.95 -0.95 0.95 -0.95 -0.95zM366.4 36.3l0.95 0.95 -0.95 0.95 -0.95 -0.95zM408.7 15.2l0.95 0.95 -0.95 0.95 -0.95 -0.95zM399.1 21.6l0.95 0.95 -0.95 0.95 -0.95 -0.95zM392.5 22.4l0.95 0.95 -0.95 0.95 -0.95 -0.95zM372.0 30.6l0.95 0.95 -0.95 0.95 -0.95 -0.95zM415.3 13.8l0.95 0.95 -0.95 0.95 -0.95 -0.95zM364.5 34.1l0.95 0.95 -0.95 0.95 -0.95 -0.95zM392.2 23.3l0.95 0.95 -0.95 0.95 -0.95 -0.95zM352.9 35.5l0.95 0.95 -0.95 0.95 -0.95 -0.95zM417.0 20.1l0.95 0.95 -0.95 0.95 -0.95 -0.95zM373.1 29.8l0.95 0.95 -0.95 0.95 -0.95 -0.95zM399.8 31.9l0.95 0.95 -0.95 0.95 -0.95 -0.95zM403.5 19.8l0.95 0.95 -0.95 0.95 -0.95 -0.95zM377.5 27.4l0.95 0.95 -0.95 0.95 -0.95 -0.95zM389.4 23.8l0.95 0.95 -0.95 0.95 -0.95 -0.95zM397.1 25.5l0.95 0.95 -0.95 0.95 -0.95 -0.95zM420.9 11.9l0.95 0.95 -0.95 0.95 -0.95 -0.95zM362.4 39.5l0.95 0.95 -0.95 0.95 -0.95 -0.95zM398.7 12.4l0.95 0.95 -0.95 0.95 -0.95 -0.95zM360.7 36.1l0.95 0.95 -0.95 0.95 -0.95 -0.95zM370.5 34.1l0.95 0.95 -0.95 0.95 -0.95 -0.95zM416.4 15.4l0.95 0.95 -0.95 0.95 -0.95 -0.95zM436.4 5.2l0.95 0.95 -0.95 0.95 -0.95 -0.95zM366.7 31.7l0.95 0.95 -0.95 0.95 -0.95 -0.95zM369.2 35.5l0.95 0.95 -0.95 0.95 -0.95 -0.95zM386.9 18.2l0.95 0.95 -0.95 0.95 -0.95 -0.95zM359.6 32.7l0.95 0.95 -0.95 0.95 -0.95 -0.95zM422.7 14.5l0.95 0.95 -0.95 0.95 -0.95 -0.95zM387.9 22.5l0.95 0.95 -0.95 0.95 -0.95 -0.95zM431.5 13.2l0.95 0.95 -0.95 0.95 -0.95 -0.95zM411.3 19.4l0.95 0.95 -0.95 0.95 -0.95 -0.95zM379.8 22.3l0.95 0.95 -0.95 0.95 -0.95 -0.95zM414.9 15.7l0.95 0.95 -0.95 0.95 -0.95 -0.95zM367.5 31.7l0.95 0.95 -0.95 0.95 -0.95 -0.95zM407.4 18.6l0.95 0.95 -0.95 0.95 -0.95 -0.95zM387.0 26.0l0.95 0.95 -0.95 0.95 -0.95 -0.95zM403.7 13.2l0.95 0.95 -0.95 0.95 -0.95 -0.95zM391.4 26.3l0.95 0.95 -0.95 0.95 -0.95 -0.95zM435.3 5.8l0.95 0.95 -0.95 0.95 -0.95 -0.95zM429.0 13.8l0.95 0.95 -0.95 0.95 -0.95 -0.95zM373.5 28.0l0.95 0.95 -0.95 0.95 -0.95 -0.95zM353.4 38.1l0.95 0.95 -0.95 0.95 -0.95 -0.95zM369.4 33.7l0.95 0.95 -0.95 0.95 -0.95 -0.95zM387.6 24.7l0.95 0.95 -0.95 0.95 -0.95 -0.95zM384.5 21.3l0.95 0.95 -0.95 0.95 -0.95 -0.95zM356.2 36.3l0.95 0.95 -0.95 0.95 -0.95 -0.95zM373.8 27.3l0.95 0.95 -0.95 0.95 -0.95 -0.95zM368.8 31.5l0.95 0.95 -0.95 0.95 -0.95 -0.95zM383.4 24.8l0.95 0.95 -0.95 0.95 -0.95 -0.95zM393.9 20.7l0.95 0.95 -0.95 0.95 -0.95 -0.95zM373.5 27.1l0.95 0.95 -0.95 0.95 -0.95 -0.95zM409.2 16.0l0.95 0.95 -0.95 0.95 -0.95 -0.95zM378.5 32.6l0.95 0.95 -0.95 0.95 -0.95 -0.95zM404.3 17.3l0.95 0.95 -0.95 0.95 -0.95 -0.95zM430.6 15.5l0.95 0.95 -0.95 0.95 -0.95 -0.95z" fill="none" stroke="#2f4f9f" stroke-width="0.7"/>
<polyline points="272.5,100.4 276.8,95.1 281.0,90.1 285.3,85.4 289.6,81.0 293.8,76.9 298.1,73.1 302.3,69.4 306.6,65.6 310.8,62.0 315.1,58.7 319.3,55.9 323.6,53.4 327.9,51.0 332.1,48.9 336.4,46.8 340.6,45.0 344.9,43.2 349.1,41.5 353.4,39.7 357.6,37.8 361.9,35.9 366.2,34.0 370.4,32.1 374.7,30.3 378.9,28.5 383.2,26.8 387.4,25.2 391.7,23.6 395.9,22.1 400.2,20.7 404.5,19.4 408.7,18.2 413.0,17.0 417.2,15.8 421.5,14.7 425.7,13.6 430.0,12.6 434.3,11.7 438.5,10.8" fill="none" stroke="#2f4f9f" stroke-width="0.8"/>
<path d="M285.5 80.0h1.9v1.9h-1.9zM267.6 102.5h1.9v1.9h-1.9zM273.6 96.2h1.9v1.9h-1.9zM282.2 86.2h1.9v1.9h-1.9zM275.6 92.2h1.9v1.9h-1.9zM267.7 102.5h1.9v1.9h-1.9zM291.9 77.5h1.9v1.9h-1.9zM280.3 88.2h1.9v1.9h-1.9zM267.2 102.2h1.9v1.9h-1.9zM316.0 59.9h1.9v1.9h-1.9zM283.3 85.9h1.9v1.9h-1.9zM313.9 62.2h1.9v1.9h-1.9zM292.2 77.7h1.9v1.9h-1.9zM267.7 101.0h1.9v1.9h-1.9zM268.1 102.1h1.9v1.9h-1.9zM311.9 62.8h1.9v1.9h-1.9zM326.1 52.7h1.9v1.9h-1.9zM279.5 88.5h1.9v1.9h-1.9zM306.9 66.2h1.9v1.9h-1.9zM292.9 78.2h1.9v1.9h-1.9zM290.7 78.8h1.9v1.9h-1.9zM270.5 98.7h1.9v1.9h-1.9zM328.4 54.0h1.9v1.9h-1.9zM303.0 67.5h1.9v1.9h-1.9zM273.0 98.6h1.9v1.9h-1.9zM283.5 84.3h1.9v1.9h-1.9zM290.9 76.2h1.9v1.9h-1.9zM268.2 99.6h1.9v1.9h-1.9zM270.9 99.6h1.9v1.9h-1.9zM291.0 79.5h1.9v1.9h-1.9zM299.2 70.4h1.9v1.9h-1.9zM311.9 61.8h1.9v1.9h-1.9zM275.2 94.0h1.9v1.9h-1.9zM318.8 57.8h1.9v1.9h-1.9zM306.8 62.5h1.9v1.9h-1.9zM274.0 93.9h1.9v1.9h-1.9zM301.0 68.4h1.9v1.9h-1.9zM288.1 80.8h1.9v1.9h-1.9zM287.8 81.2h1.9v1.9h-1.9zM267.6 105.5h1.9v1.9h-1.9zM316.2 60.3h1.9v1.9h-1.9zM279.2 87.2h1.9v1.9h-1.9zM267.9 101.8h1.9v1.9h-1.9zM273.9 95.9h1.9v1.9h-1.9zM267.5 103.7h1.9v1.9h-1.9zM299.0 71.8h1.9v1.9h-1.9zM291.0 78.4h1.9v1.9h-1.9zM276.1 91.2h1.9v1.9h-1.9zM267.4 101.7h1.9v1.9h-1.9zM271.5 100.6h1.9v1.9h-1.9zM269.8 98.2h1.9v1.9h-1.9zM282.1 86.0h1.9v1.9h-1.9zM290.8 79.8h1.9v1.9h-1.9zM271.1 99.6h1.9v1.9h-1.9zM271.2 100.9h1.9v1.9h-1.9zM305.3 66.2h1.9v1.9h-1.9zM268.3 103.3h1.9v1.9h-1.9zM307.0 64.3h1.9v1.9h-1.9zM286.6 82.7h1.9v1.9h-1.9zM268.7 101.0h1.9v1.9h-1.9zM320.3 58.0h1.9v1.9h-1.9zM315.1 63.0h1.9v1.9h-1.9zM279.6 89.1h1.9v1.9h-1.9zM269.0 100.5h1.9v1.9h-1.9zM319.5 57.8h1.9v1.9h-1.9zM318.8 59.0h1.9v1.9h-1.9zM326.9 56.9h1.9v1.9h-1.9zM268.3 101.3h1.9v1.9h-1.9zM318.6 62.8h1.9v1.9h-1.9zM276.0 92.5h1.9v1.9h-1.9zM310.9 62.3h1.9v1.9h-1.9zM274.0 95.3h1.9v1.9h-1.9zM269.8 99.6h1.9v1.9h-1.9zM298.5 71.8h1.9v1.9h-1.9zM304.8 67.8h1.9v1.9h-1.9zM276.4 91.9h1.9v1.9h-1.9zM283.5 87.2h1.9v1.9h-1.9zM321.2 59.1h1.9v1.9h-1.9zM317.2 60.6h1.9v1.9h-1.9zM272.7 96.0h1.9v1.9h-1.9zM299.3 70.3h1.9v1.9h-1.9zM303.7 68.8h1.9v1.9h-1.9zM273.0 96.5h1.9v1.9h-1.9zM303.4 68.7h1.9v1.9h-1.9zM275.7 92.0h1.9v1.9h-1.9zM277.7 91.4h1.9v1.9h-1.9zM289.0 80.2h1.9v1.9h-1.9zM325.0 54.7h1.9v1.9h-1.9zM323.0 57.0h1.9v1.9h-1.9zM268.8 103.2h1.9v1.9h-1.9zM289.8 77.7h1.9v1.9h-1.9zM284.6 83.8h1.9v1.9h-1.9zM271.8 98.2h1.9v1.9h-1.9zM278.9 90.9h1.9v1.9h-1.9zM315.8 61.2h1.9v1.9h-1.9zM314.2 62.3h1.9v1.9h-1.9zM319.4 60.0h1.9v1.9h-1.9zM325.6 54.9h1.9v1.9h-1.9zM328.0 53.4h1.9v1.9h-1.9zM269.3 102.8h1.9v1.9h-1.9zM283.5 83.6h1.9v1.9h-1.9zM282.2 87.3h1.9v1.9h-1.9zM289.4 80.3h1.9v1.9h-1.9zM283.1 84.8h1.9v1.9h-1.9zM323.2 54.8h1.9v1.9h-1.9zM331.5 52.3h1.9v1.9h-1.9zM309.4 63.6h1.9v1.9h-1.9zM275.3 90.7h1.9v1.9h-1.9zM272.0 98.7h1.9v1.9h-1.9zM268.3 101.4h1.9v1.9h-1.9zM317.3 59.2h1.9v1.9h-1.9zM287.4 84.0h1.9v1.9h-1.9zM279.4 87.5h1.9v1.9h-1.9zM297.4 74.2h1.9v1.9h-1.9zM275.9 93.1h1.9v1.9h-1.9zM312.1 63.2h1.9v1.9h-1.9zM310.7 62.3h1.9v1.9h-1.9zM307.8 66.2h1.9v1.9h-1.9zM329.1 54.3h1.9v1.9h-1.9zM268.6 103.3h1.9v1.9h-1.9zM311.6 63.4h1.9v1.9h-1.9zM272.4 98.3h1.9v1.9h-1.9zM273.0 97.7h1.9v1.9h-1.9zM290.9 79.8h1.9v1.9h-1.9zM293.0 77.3h1.9v1.9h-1.9zM305.5 67.0h1.9v1.9h-1.9zM294.0 78.2h1.9v1.9h-1.9zM328.4 53.7h1.9v1.9h-1.9zM300.4 72.0h1.9v1.9h-1.9zM284.2 86.2h1.9v1.9h-1.9zM313.5 59.9h1.9v1.9h-1.9zM276.2 91.7h1.9v1.9h-1.9zM268.4 101.2h1.9v1.9h-1.9zM299.7 72.5h1.9v1.9h-1.9zM270.4 99.1h1.9v1.9h-1.9zM330.8 52.5h1.9v1.9h-1.9zM290.1 79.6h1.9v1.9h-1.9zM302.8 69.1h1.9v1.9h-1.9zM278.7 90.3h1.9v1.9h-1.9zM301.6 69.8h1.9v1.9h-1.9zM281.0 86.9h1.9v1.9h-1.9zM269.2 101.6h1.9v1.9h-1.9zM269.9 99.1h1.9v1.9h-1.9zM296.3 74.9h1.9v1.9h-1.9zM271.4 100.3h1.9v1.9h-1.9zM268.5 103.2h1.9v1.9h-1.9zM295.7 74.2h1.9v1.9h-1.9zM283.2 84.1h1.9v1.9h-1.9zM304.0 66.1h1.9v1.9h-1.9zM278.2 89.2h1.9v1.9h-1.9zM292.9 78.6h1.9v1.9h-1.9zM295.2 72.6h1.9v1.9h-1.9zM274.2 94.8h1.9v1.9h-1.9zM324.5 57.2h1.9v1.9h-1.9zM293.0 77.9h1.9v1.9h-1.9zM309.8 66.1h1.9v1.9h-1.9zM270.9 99.8h1.9v1.9h-1.9zM307.4 64.5h1.9v1.9h-1.9zM298.7 72.6h1.9v1.9h-1.9zM267.1 102.8h1.9v1.9h-1.9zM294.8 74.4h1.9v1.9h-1.9zM278.2 92.1h1.9v1.9h-1.9zM275.4 92.1h1.9v1.9h-1.9zM267.7 104.4h1.9v1.9h-1.9zM309.0 63.0h1.9v1.9h-1.9zM298.9 70.6h1.9v1.9h-1.9zM283.5 83.8h1.9v1.9h-1.9zM273.0 96.9h1.9v1.9h-1.9zM321.0 56.9h1.9v1.9h-1.9zM296.9 72.8h1.9v1.9h-1.9zM310.4 65.2h1.9v1.9h-1.9zM275.9 93.9h1.9v1.9h-1.9zM268.3 103.1h1.9v1.9h-1.9zM271.4 98.6h1.9v1.9h-1.9zM327.8 53.5h1.9v1.9h-1.9zM268.1 101.0h1.9v1.9h-1.9zM268.0 102.5h1.9v1.9h-1.9zM282.8 84.4h1.9v1.9h-1.9zM275.0 93.5h1.9v1.9h-1.9zM271.0 96.4h1.9v1.9h-1.9zM274.1 97.9h1.9v1.9h-1.9zM309.9 62.6h1.9v1.9h-1.9zM284.9 85.7h1.9v1.9h-1.9zM328.5 53.9h1.9v1.9h-1.9zM320.2 59.0h1.9v1.9h-1.9zM312.3 63.8h1.9v1.9h-1.9zM278.8 88.0h1.9v1.9h-1.9zM296.7 71.1h1.9v1.9h-1.9zM318.0 59.2h1.9v1.9h-1.9zM304.4 68.1h1.9v1.9h-1.9zM270.4 99.8h1.9v1.9h-1.9zM295.1 74.0h1.9v1.9h-1.9zM267.6 101.9h1.9v1.9h-1.9zM326.1 52.9h1.9v1.9h-1.9zM289.3 81.6h1.9v1.9h-1.9zM274.0 95.9h1.9v1.9h-1.9zM268.8 101.3h1.9v1.9h-1.9zM272.9 96.4h1.9v1.9h-1.9zM302.8 68.4h1.9v1.9h-1.9zM278.2 90.8h1.9v1.9h-1.9zM291.0 77.2h1.9v1.9h-1.9zM268.7 100.8h1.9v1.9h-1.9zM269.3 99.7h1.9v1.9h-1.9zM280.4 87.1h1.9v1.9h-1.9zM267.6 100.6h1.9v1.9h-1.9zM277.9 92.7h1.9v1.9h-1.9zM312.2 62.5h1.9v1.9h-1.9zM277.2 93.3h1.9v1.9h-1.9zM271.0 98.0h1.9v1.9h-1.9zM317.2 60.5h1.9v1.9h-1.9zM269.4 96.8h1.9v1.9h-1.9zM282.5 85.6h1.9v1.9h-1.9zM328.0 53.6h1.9v1.9h-1.9zM287.8 83.7h1.9v1.9h-1.9zM269.5 103.3h1.9v1.9h-1.9zM272.0 98.7h1.9v1.9h-1.9zM273.6 95.5h1.9v1.9h-1.9zM268.8 98.8h1.9v1.9h-1.9zM315.6 61.1h1.9v1.9h-1.9zM323.7 57.8h1.9v1.9h-1.9zM275.4 93.5h1.9v1.9h-1.9zM287.4 81.8h1.9v1.9h-1.9zM271.0 99.8h1.9v1.9h-1.9zM288.1 80.8h1.9v1.9h-1.9zM275.9 90.9h1.9v1.9h-1.9zM302.8 68.3h1.9v1.9h-1.9zM291.0 78.5h1.9v1.9h-1.9zM287.4 82.9h1.9v1.9h-1.9zM279.7 89.4h1.9v1.9h-1.9zM288.8 80.0h1.9v1.9h-1.9zM299.7 71.6h1.9v1.9h-1.9zM327.3 54.1h1.9v1.9h-1.9zM301.0 70.9h1.9v1.9h-1.9zM268.9 102.2h1.9v1.9h-1.9zM268.8 102.2h1.9v1.9h-1.9zM314.9 61.9h1.9v1.9h-1.9zM275.5 94.3h1.9v1.9h-1.9zM331.7 53.6h1.9v1.9h-1.9zM270.9 97.8h1.9v1.9h-1.9zM279.3 89.8h1.9v1.9h-1.9zM269.7 99.7h1.9v1.9h-1.9zM274.2 95.0h1.9v1.9h-1.9zM319.1 59.0h1.9v1.9h-1.9zM268.6 100.9h1.9v1.9h-1.9zM276.0 93.2h1.9v1.9h-1.9zM277.6 89.5h1.9v1.9h-1.9zM282.2 84.2h1.9v1.9h-1.9zM283.2 83.8h1.9v1.9h-1.9zM323.0 53.3h1.9v1.9h-1.9zM281.6 86.5h1.9v1.9h-1.9zM284.6 83.1h1.9v1.9h-1.9zM294.3 74.5h1.9v1.9h-1.9zM322.1 58.0h1.9v1.9h-1.9zM275.1 95.2h1.9v1.9h-1.9zM283.7 87.0h1.9v1.9h-1.9zM315.2 62.1h1.9v1.9h-1.9zM283.6 85.1h1.9v1.9h-1.9zM273.2 96.7h1.9v1.9h-1.9zM293.9 73.5h1.9v1.9h-1.9zM316.9 58.6h1.9v1.9h-1.9zM289.0 82.1h1.9v1.9h-1.9zM305.9 66.5h1.9v1.9h-1.9zM267.8 102.0h1.9v1.9h-1.9zM289.0 79.3h1.9v1.9h-1.9zM285.6 81.7h1.9v1.9h-1.9zM290.4 80.8h1.9v1.9h-1.9zM281.7 87.0h1.9v1.9h-1.9zM283.9 85.1h1.9v1.9h-1.9zM286.8 84.0h1.9v1.9h-1.9zM325.7 53.5h1.9v1.9h-1.9zM300.6 69.7h1.9v1.9h-1.9zM283.0 87.1h1.9v1.9h-1.9zM293.9 78.4h1.9v1.9h-1.9zM274.0 94.9h1.9v1.9h-1.9zM332.4 51.2h1.9v1.9h-1.9zM281.0 87.4h1.9v1.9h-1.9zM271.3 97.2h1.9v1.9h-1.9zM269.7 98.1h1.9v1.9h-1.9zM276.9 92.7h1.9v1.9h-1.9zM324.7 57.5h1.9v1.9h-1.9z" fill="none" stroke="#e0262a" stroke-width="0.7"/>
<path d="M378.9 34.3h1.9v1.9h-1.9zM367.0 35.2h1.9v1.9h-1.9zM338.7 46.7h1.9v1.9h-1.9zM348.1 46.3h1.9v1.9h-1.9zM365.1 44.1h1.9v1.9h-1.9zM346.0 45.8h1.9v1.9h-1.9zM349.1 43.2h1.9v1.9h-1.9zM331.5 49.9h1.9v1.9h-1.9zM378.2 35.4h1.9v1.9h-1.9zM367.4 32.8h1.9v1.9h-1.9zM333.2 47.3h1.9v1.9h-1.9zM386.4 28.3h1.9v1.9h-1.9zM368.4 34.4h1.9v1.9h-1.9zM333.0 48.9h1.9v1.9h-1.9zM361.6 40.0h1.9v1.9h-1.9zM347.8 52.3h1.9v1.9h-1.9zM347.8 50.4h1.9v1.9h-1.9zM369.9 38.9h1.9v1.9h-1.9zM362.0 41.3h1.9v1.9h-1.9zM374.3 33.9h1.9v1.9h-1.9zM356.3 39.0h1.9v1.9h-1.9zM349.1 46.3h1.9v1.9h-1.9zM365.0 45.0h1.9v1.9h-1.9zM336.9 52.8h1.9v1.9h-1.9zM352.8 42.8h1.9v1.9h-1.9zM330.2 52.7h1.9v1.9h-1.9zM362.5 35.4h1.9v1.9h-1.9zM377.0 33.8h1.9v1.9h-1.9zM358.9 39.5h1.9v1.9h-1.9zM343.8 48.0h1.9v1.9h-1.9zM395.3 25.4h1.9v1.9h-1.9zM342.0 44.2h1.9v1.9h-1.9zM379.0 35.8h1.9v1.9h-1.9zM346.6 48.1h1.9v1.9h-1.9zM384.7 30.9h1.9v1.9h-1.9zM364.7 36.2h1.9v1.9h-1.9zM391.0 32.1h1.9v1.9h-1.9zM375.0 38.7h1.9v1.9h-1.9zM387.0 29.5h1.9v1.9h-1.9zM387.1 32.4h1.9v1.9h-1.9zM340.9 45.3h1.9v1.9h-1.9zM350.5 45.1h1.9v1.9h-1.9zM369.4 34.0h1.9v1.9h-1.9zM364.6 30.5h1.9v1.9h-1.9zM383.0 30.7h1.9v1.9h-1.9z" fill="none" stroke="#e0262a" stroke-width="0.7"/>
<polyline points="268.9,103.2 272.2,99.2 275.5,95.4 278.8,91.9 282.1,88.6 285.4,85.5 288.7,82.5 292.0,79.5 295.3,76.5 298.6,73.7 301.9,71.0 305.2,68.6 308.5,66.4 311.8,64.3 315.1,62.4 318.4,60.5 321.7,58.6 324.9,56.9 328.2,55.3 331.5,53.7 334.8,52.2 338.1,50.7 341.4,49.3 344.7,48.0 348.0,46.5 351.3,45.0 354.6,43.5 357.9,41.9 361.2,40.4 364.5,38.9 367.8,37.5 371.1,36.2 374.4,35.1 377.7,34.1 381.0,33.1 384.2,32.1 387.5,31.2 390.8,30.4 394.1,29.7 397.4,29.0" fill="none" stroke="#e0262a" stroke-width="0.8"/>
<path d="M302.5 72.6l0.95 1.71h-1.9zM282.2 89.2l0.95 1.71h-1.9zM278.3 94.3l0.95 1.71h-1.9zM289.0 80.5l0.95 1.71h-1.9zM335.0 50.7l0.95 1.71h-1.9zM285.8 85.8l0.95 1.71h-1.9zM286.6 83.6l0.95 1.71h-1.9zM322.2 57.1l0.95 1.71h-1.9zM278.0 92.3l0.95 1.71h-1.9zM317.2 61.1l0.95 1.71h-1.9zM328.7 54.2l0.95 1.71h-1.9zM335.3 48.6l0.95 1.71h-1.9zM310.4 64.9l0.95 1.71h-1.9zM272.4 101.5l0.95 1.71h-1.9zM302.7 71.2l0.95 1.71h-1.9zM277.7 93.3l0.95 1.71h-1.9zM316.5 59.5l0.95 1.71h-1.9zM285.8 86.5l0.95 1.71h-1.9zM277.1 95.1l0.95 1.71h-1.9zM284.0 87.7l0.95 1.71h-1.9zM280.0 92.2l0.95 1.71h-1.9zM276.2 97.9l0.95 1.71h-1.9zM274.3 98.0l0.95 1.71h-1.9zM276.7 94.0l0.95 1.71h-1.9zM323.7 59.4l0.95 1.71h-1.9zM318.9 59.6l0.95 1.71h-1.9zM275.1 99.0l0.95 1.71h-1.9zM308.2 67.8l0.95 1.71h-1.9zM340.2 47.6l0.95 1.71h-1.9zM273.0 100.6l0.95 1.71h-1.9zM289.9 80.1l0.95 1.71h-1.9zM272.3 100.6l0.95 1.71h-1.9zM318.2 60.0l0.95 1.71h-1.9zM299.9 73.8l0.95 1.71h-1.9zM289.8 82.1l0.95 1.71h-1.9zM344.4 45.8l0.95 1.71h-1.9zM339.9 46.6l0.95 1.71h-1.9zM283.0 86.9l0.95 1.71h-1.9zM341.8 44.4l0.95 1.71h-1.9zM315.6 61.2l0.95 1.71h-1.9zM319.9 57.3l0.95 1.71h-1.9zM292.8 78.2l0.95 1.71h-1.9zM301.5 73.3l0.95 1.71h-1.9zM304.8 70.2l0.95 1.71h-1.9zM317.6 59.6l0.95 1.71h-1.9zM301.8 72.6l0.95 1.71h-1.9zM301.1 72.4l0.95 1.71h-1.9zM329.5 54.2l0.95 1.71h-1.9zM324.0 56.0l0.95 1.71h-1.9zM315.4 61.5l0.95 1.71h-1.9zM272.4 98.4l0.95 1.71h-1.9zM330.3 52.4l0.95 1.71h-1.9zM285.4 84.0l0.95 1.71h-1.9zM280.2 90.6l0.95 1.71h-1.9zM321.6 58.5l0.95 1.71h-1.9zM275.3 99.1l0.95 1.71h-1.9zM289.7 81.7l0.95 1.71h-1.9zM296.4 73.7l0.95 1.71h-1.9zM316.0 61.7l0.95 1.71h-1.9zM286.4 84.8l0.95 1.71h-1.9zM276.6 97.9l0.95 1.71h-1.9zM296.5 76.4l0.95 1.71h-1.9zM278.0 95.2l0.95 1.71h-1.9zM275.5 95.9l0.95 1.71h-1.9zM273.7 98.8l0.95 1.71h-1.9zM275.7 97.8l0.95 1.71h-1.9zM341.9 47.3l0.95 1.71h-1.9zM321.8 58.0l0.95 1.71h-1.9zM319.6 57.8l0.95 1.71h-1.9zM274.1 100.2l0.95 1.71h-1.9zM297.2 75.0l0.95 1.71h-1.9zM332.3 51.0l0.95 1.71h-1.9zM326.5 55.0l0.95 1.71h-1.9zM322.3 58.4l0.95 1.71h-1.9zM272.9 102.5l0.95 1.71h-1.9zM325.5 54.9l0.95 1.71h-1.9zM293.3 77.1l0.95 1.71h-1.9zM288.0 81.8l0.95 1.71h-1.9zM327.6 54.0l0.95 1.71h-1.9zM275.5 98.4l0.95 1.71h-1.9zM271.8 103.3l0.95 1.71h-1.9zM302.5 71.2l0.95 1.71h-1.9zM330.3 53.8l0.95 1.71h-1.9zM300.1 71.5l0.95 1.71h-1.9zM288.7 81.7l0.95 1.71h-1.9zM342.9 45.0l0.95 1.71h-1.9zM291.0 81.3l0.95 1.71h-1.9zM322.3 57.4l0.95 1.71h-1.9zM325.0 56.6l0.95 1.71h-1.9zM296.2 76.8l0.95 1.71h-1.9zM280.8 91.9l0.95 1.71h-1.9zM343.2 46.5l0.95 1.71h-1.9zM275.0 96.8l0.95 1.71h-1.9zM279.9 90.4l0.95 1.71h-1.9zM273.0 100.7l0.95 1.71h-1.9zM273.4 101.1l0.95 1.71h-1.9zM288.8 83.2l0.95 1.71h-1.9zM315.1 61.9l0.95 1.71h-1.9zM282.6 90.1l0.95 1.71h-1.9zM324.1 55.3l0.95 1.71h-1.9zM304.6 69.4l0.95 1.71h-1.9zM294.7 77.6l0.95 1.71h-1.9zM288.7 83.2l0.95 1.71h-1.9zM320.4 59.9l0.95 1.71h-1.9zM277.3 95.6l0.95 1.71h-1.9zM312.5 65.1l0.95 1.71h-1.9zM274.8 100.1l0.95 1.71h-1.9zM339.8 48.8l0.95 1.71h-1.9zM329.1 54.1l0.95 1.71h-1.9zM277.6 95.7l0.95 1.71h-1.9zM272.4 99.4l0.95 1.71h-1.9zM274.1 94.9l0.95 1.71h-1.9zM284.7 88.4l0.95 1.71h-1.9zM330.3 52.0l0.95 1.71h-1.9zM338.2 47.5l0.95 1.71h-1.9zM310.6 65.6l0.95 1.71h-1.9zM272.9 100.9l0.95 1.71h-1.9zM294.8 76.2l0.95 1.71h-1.9zM283.8 89.5l0.95 1.71h-1.9zM297.6 74.4l0.95 1.71h-1.9zM301.3 73.2l0.95 1.71h-1.9zM311.5 64.6l0.95 1.71h-1.9zM273.4 100.2l0.95 1.71h-1.9zM305.3 68.1l0.95 1.71h-1.9zM282.2 89.8l0.95 1.71h-1.9zM328.4 53.2l0.95 1.71h-1.9zM279.2 91.1l0.95 1.71h-1.9zM305.3 69.7l0.95 1.71h-1.9zM293.7 79.4l0.95 1.71h-1.9zM322.4 58.2l0.95 1.71h-1.9zM296.7 76.6l0.95 1.71h-1.9zM277.0 95.0l0.95 1.71h-1.9zM300.0 71.5l0.95 1.71h-1.9zM299.6 72.1l0.95 1.71h-1.9zM329.2 54.1l0.95 1.71h-1.9zM274.7 99.7l0.95 1.71h-1.9zM341.7 45.3l0.95 1.71h-1.9zM314.8 62.0l0.95 1.71h-1.9zM275.0 99.7l0.95 1.71h-1.9zM296.8 76.0l0.95 1.71h-1.9zM327.1 53.5l0.95 1.71h-1.9zM310.2 65.1l0.95 1.71h-1.9zM309.5 66.4l0.95 1.71h-1.9zM319.4 59.0l0.95 1.71h-1.9zM315.4 62.1l0.95 1.71h-1.9zM319.0 60.3l0.95 1.71h-1.9zM314.6 63.7l0.95 1.71h-1.9zM292.6 79.1l0.95 1.71h-1.9zM295.2 74.6l0.95 1.71h-1.9zM310.3 65.4l0.95 1.71h-1.9zM322.4 57.5l0.95 1.71h-1.9zM276.1 96.9l0.95 1.71h-1.9zM325.2 55.9l0.95 1.71h-1.9zM333.0 48.9l0.95 1.71h-1.9zM297.6 73.1l0.95 1.71h-1.9zM295.3 76.5l0.95 1.71h-1.9zM272.9 99.8l0.95 1.71h-1.9zM322.3 59.5l0.95 1.71h-1.9zM329.7 53.5l0.95 1.71h-1.9zM319.0 60.5l0.95 1.71h-1.9zM308.1 66.1l0.95 1.71h-1.9zM277.9 92.8l0.95 1.71h-1.9zM301.5 73.2l0.95 1.71h-1.9zM281.2 91.2l0.95 1.71h-1.9zM321.5 56.5l0.95 1.71h-1.9zM304.6 70.4l0.95 1.71h-1.9zM306.9 69.2l0.95 1.71h-1.9zM281.8 90.7l0.95 1.71h-1.9zM303.4 69.1l0.95 1.71h-1.9zM313.2 64.9l0.95 1.71h-1.9z" fill="none" stroke="#2ca14a" stroke-width="0.7"/>
<path d="M373.4 31.7l0.95 1.71h-1.9zM346.2 41.8l0.95 1.71h-1.9zM353.1 40.6l0.95 1.71h-1.9zM349.7 43.3l0.95 1.71h-1.9zM354.6 40.8l0.95 1.71h-1.9zM352.9 43.1l0.95 1.71h-1.9zM356.6 36.8l0.95 1.71h-1.9zM373.6 33.4l0.95 1.71h-1.9zM363.2 36.8l0.95 1.71h-1.9zM352.7 37.4l0.95 1.71h-1.9zM346.9 45.0l0.95 1.71h-1.9zM368.8 34.7l0.95 1.71h-1.9zM370.7 30.6l0.95 1.71h-1.9zM374.5 29.7l0.95 1.71h-1.9zM367.4 32.6l0.95 1.71h-1.9zM363.8 35.2l0.95 1.71h-1.9zM370.0 31.8l0.95 1.71h-1.9zM363.1 39.1l0.95 1.71h-1.9zM357.4 35.3l0.95 1.71h-1.9zM371.1 28.5l0.95 1.71h-1.9zM349.9 39.9l0.95 1.71h-1.9zM345.5 40.4l0.95 1.71h-1.9zM355.4 42.0l0.95 1.71h-1.9zM360.8 39.5l0.95 1.71h-1.9zM376.2 27.5l0.95 1.71h-1.9z" fill="none" stroke="#2ca14a" stroke-width="0.7"/>
<polyline points="272.5,102.5 275.2,98.9 277.9,95.4 280.6,92.1 283.3,88.9 286.0,86.0 288.6,83.3 291.3,80.8 294.0,78.5 296.7,76.3 299.4,74.3 302.1,72.3 304.8,70.3 307.5,68.4 310.1,66.5 312.8,64.7 315.5,63.0 318.2,61.3 320.9,59.6 323.6,57.9 326.3,56.2 328.9,54.6 331.6,53.0 334.3,51.4 337.0,49.9 339.7,48.3 342.4,46.8 345.1,45.3 347.7,43.8 350.4,42.3 353.1,40.9 355.8,39.4 358.5,38.0 361.2,36.6 363.9,35.2 366.6,33.9 369.2,32.6 371.9,31.3 374.6,30.2 377.3,29.0" fill="none" stroke="#2ca14a" stroke-width="0.8"/>
<path d="M301.7 74.3a0.95 0.95 0 1 0 1.9 0a0.95 0.95 0 1 0 -1.9 0M282.2 93.9a0.95 0.95 0 1 0 1.9 0a0.95 0.95 0 1 0 -1.9 0M272.6 102.8a0.95 0.95 0 1 0 1.9 0a0.95 0.95 0 1 0 -1.9 0M331.5 56.2a0.95 0.95 0 1 0 1.9 0a0.95 0.95 0 1 0 -1.9 0M283.4 88.1a0.95 0.95 0 1 0 1.9 0a0.95 0.95 0 1 0 -1.9 0M323.8 61.3a0.95 0.95 0 1 0 1.9 0a0.95 0.95 0 1 0 -1.9 0M299.0 75.8a0.95 0.95 0 1 0 1.9 0a0.95 0.95 0 1 0 -1.9 0M336.6 54.4a0.95 0.95 0 1 0 1.9 0a0.95 0.95 0 1 0 -1.9 0M325.7 59.0a0.95 0.95 0 1 0 1.9 0a0.95 0.95 0 1 0 -1.9 0M300.5 76.4a0.95 0.95 0 1 0 1.9 0a0.95 0.95 0 1 0 -1.9 0M310.8 64.5a0.95 0.95 0 1 0 1.9 0a0.95 0.95 0 1 0 -1.9 0M274.9 102.3a0.95 0.95 0 1 0 1.9 0a0.95 0.95 0 1 0 -1.9 0M306.8 72.5a0.95 0.95 0 1 0 1.9 0a0.95 0.95 0 1 0 -1.9 0M283.8 91.9a0.95 0.95 0 1 0 1.9 0a0.95 0.95 0 1 0 -1.9 0M307.0 68.9a0.95 0.95 0 1 0 1.9 0a0.95 0.95 0 1 0 -1.9 0M275.4 98.4a0.95 0.95 0 1 0 1.9 0a0.95 0.95 0 1 0 -1.9 0M273.9 100.5a0.95 0.95 0 1 0 1.9 0a0.95 0.95 0 1 0 -1.9 0M304.7 72.3a0.95 0.95 0 1 0 1.9 0a0.95 0.95 0 1 0 -1.9 0M330.6 59.4a0.95 0.95 0 1 0 1.9 0a0.95 0.95 0 1 0 -1.9 0M323.3 64.4a0.95 0.95 0 1 0 1.9 0a0.95 0.95 0 1 0 -1.9 0M277.0 94.8a0.95 0.95 0 1 0 1.9 0a0.95 0.95 0 1 0 -1.9 0M274.9 100.9a0.95 0.95 0 1 0 1.9 0a0.95 0.95 0 1 0 -1.9 0M322.9 61.6a0.95 0.95 0 1 0 1.9 0a0.95 0.95 0 1 0 -1.9 0M333.2 58.4a0.95 0.95 0 1 0 1.9 0a0.95 0.95 0 1 0 -1.9 0M321.0 59.7a0.95 0.95 0 1 0 1.9 0a0.95 0.95 0 1 0 -1.9 0M274.2 101.5a0.95 0.95 0 1 0 1.9 0a0.95 0.95 0 1 0 -1.9 0M279.1 95.2a0.95 0.95 0 1 0 1.9 0a0.95 0.95 0 1 0 -1.9 0M320.7 63.6a0.95 0.95 0 1 0 1.9 0a0.95 0.95 0 1 0 -1.9 0M305.6 70.9a0.95 0.95 0 1 0 1.9 0a0.95 0.95 0 1 0 -1.9 0M333.4 56.1a0.95 0.95 0 1 0 1.9 0a0.95 0.95 0 1 0 -1.9 0M281.6 93.2a0.95 0.95 0 1 0 1.9 0a0.95 0.95 0 1 0 -1.9 0M273.3 103.8a0.95 0.95 0 1 0 1.9 0a0.95 0.95 0 1 0 -1.9 0M299.6 75.3a0.95 0.95 0 1 0 1.9 0a0.95 0.95 0 1 0 -1.9 0M299.8 75.6a0.95 0.95 0 1 0 1.9 0a0.95 0.95 0 1 0 -1.9 0M329.4 58.8a0.95 0.95 0 1 0 1.9 0a0.95 0.95 0 1 0 -1.9 0M314.4 68.2a0.95 0.95 0 1 0 1.9 0a0.95 0.95 0 1 0 -1.9 0M276.5 99.0a0.95 0.95 0 1 0 1.9 0a0.95 0.95 0 1 0 -1.9 0M273.2 102.4a0.95 0.95 0 1 0 1.9 0a0.95 0.95 0 1 0 -1.9 0M313.5 66.0a0.95 0.95 0 1 0 1.9 0a0.95 0.95 0 1 0 -1.9 0M280.2 90.4a0.95 0.95 0 1 0 1.9 0a0.95 0.95 0 1 0 -1.9 0M284.1 89.4a0.95 0.95 0 1 0 1.9 0a0.95 0.95 0 1 0 -1.9 0M277.1 96.0a0.95 0.95 0 1 0 1.9 0a0.95 0.95 0 1 0 -1.9 0M273.7 98.3a0.95 0.95 0 1 0 1.9 0a0.95 0.95 0 1 0 -1.9 0M284.9 88.8a0.95 0.95 0 1 0 1.9 0a0.95 0.95 0 1 0 -1.9 0M300.6 76.2a0.95 0.95 0 1 0 1.9 0a0.95 0.95 0 1 0 -1.9 0M309.5 69.7a0.95 0.95 0 1 0 1.9 0a0.95 0.95 0 1 0 -1.9 0M279.6 94.4a0.95 0.95 0 1 0 1.9 0a0.95 0.95 0 1 0 -1.9 0M273.4 104.0a0.95 0.95 0 1 0 1.9 0a0.95 0.95 0 1 0 -1.9 0M298.4 77.2a0.95 0.95 0 1 0 1.9 0a0.95 0.95 0 1 0 -1.9 0M272.8 101.1a0.95 0.95 0 1 0 1.9 0a0.95 0.95 0 1 0 -1.9 0M276.0 100.5a0.95 0.95 0 1 0 1.9 0a0.95 0.95 0 1 0 -1.9 0M276.7 98.0a0.95 0.95 0 1 0 1.9 0a0.95 0.95 0 1 0 -1.9 0M316.1 64.5a0.95 0.95 0 1 0 1.9 0a0.95 0.95 0 1 0 -1.9 0M273.4 100.2a0.95 0.95 0 1 0 1.9 0a0.95 0.95 0 1 0 -1.9 0M295.1 78.6a0.95 0.95 0 1 0 1.9 0a0.95 0.95 0 1 0 -1.9 0M332.5 57.6a0.95 0.95 0 1 0 1.9 0a0.95 0.95 0 1 0 -1.9 0M306.8 70.0a0.95 0.95 0 1 0 1.9 0a0.95 0.95 0 1 0 -1.9 0M274.0 99.7a0.95 0.95 0 1 0 1.9 0a0.95 0.95 0 1 0 -1.9 0M329.3 54.3a0.95 0.95 0 1 0 1.9 0a0.95 0.95 0 1 0 -1.9 0M288.4 89.5a0.95 0.95 0 1 0 1.9 0a0.95 0.95 0 1 0 -1.9 0M323.4 61.0a0.95 0.95 0 1 0 1.9 0a0.95 0.95 0 1 0 -1.9 0M279.2 94.0a0.95 0.95 0 1 0 1.9 0a0.95 0.95 0 1 0 -1.9 0M319.7 65.8a0.95 0.95 0 1 0 1.9 0a0.95 0.95 0 1 0 -1.9 0M301.5 74.6a0.95 0.95 0 1 0 1.9 0a0.95 0.95 0 1 0 -1.9 0M304.2 73.1a0.95 0.95 0 1 0 1.9 0a0.95 0.95 0 1 0 -1.9 0M286.2 91.4a0.95 0.95 0 1 0 1.9 0a0.95 0.95 0 1 0 -1.9 0M301.4 74.2a0.95 0.95 0 1 0 1.9 0a0.95 0.95 0 1 0 -1.9 0M274.5 101.4a0.95 0.95 0 1 0 1.9 0a0.95 0.95 0 1 0 -1.9 0M274.6 103.6a0.95 0.95 0 1 0 1.9 0a0.95 0.95 0 1 0 -1.9 0M328.1 57.6a0.95 0.95 0 1 0 1.9 0a0.95 0.95 0 1 0 -1.9 0M317.6 64.1a0.95 0.95 0 1 0 1.9 0a0.95 0.95 0 1 0 -1.9 0M291.8 84.4a0.95 0.95 0 1 0 1.9 0a0.95 0.95 0 1 0 -1.9 0M274.6 102.7a0.95 0.95 0 1 0 1.9 0a0.95 0.95 0 1 0 -1.9 0M286.7 86.1a0.95 0.95 0 1 0 1.9 0a0.95 0.95 0 1 0 -1.9 0M312.4 65.0a0.95 0.95 0 1 0 1.9 0a0.95 0.95 0 1 0 -1.9 0M281.0 94.1a0.95 0.95 0 1 0 1.9 0a0.95 0.95 0 1 0 -1.9 0M291.5 83.3a0.95 0.95 0 1 0 1.9 0a0.95 0.95 0 1 0 -1.9 0M314.8 67.8a0.95 0.95 0 1 0 1.9 0a0.95 0.95 0 1 0 -1.9 0M330.2 55.9a0.95 0.95 0 1 0 1.9 0a0.95 0.95 0 1 0 -1.9 0M291.6 86.1a0.95 0.95 0 1 0 1.9 0a0.95 0.95 0 1 0 -1.9 0M307.2 70.6a0.95 0.95 0 1 0 1.9 0a0.95 0.95 0 1 0 -1.9 0M284.9 88.7a0.95 0.95 0 1 0 1.9 0a0.95 0.95 0 1 0 -1.9 0M296.0 77.1a0.95 0.95 0 1 0 1.9 0a0.95 0.95 0 1 0 -1.9 0M311.7 65.6a0.95 0.95 0 1 0 1.9 0a0.95 0.95 0 1 0 -1.9 0M293.8 79.2a0.95 0.95 0 1 0 1.9 0a0.95 0.95 0 1 0 -1.9 0M291.6 83.4a0.95 0.95 0 1 0 1.9 0a0.95 0.95 0 1 0 -1.9 0M294.1 81.0a0.95 0.95 0 1 0 1.9 0a0.95 0.95 0 1 0 -1.9 0M286.0 88.0a0.95 0.95 0 1 0 1.9 0a0.95 0.95 0 1 0 -1.9 0M279.8 95.0a0.95 0.95 0 1 0 1.9 0a0.95 0.95 0 1 0 -1.9 0M321.7 60.6a0.95 0.95 0 1 0 1.9 0a0.95 0.95 0 1 0 -1.9 0M315.6 66.1a0.95 0.95 0 1 0 1.9 0a0.95 0.95 0 1 0 -1.9 0M317.3 66.2a0.95 0.95 0 1 0 1.9 0a0.95 0.95 0 1 0 -1.9 0M278.6 99.4a0.95 0.95 0 1 0 1.9 0a0.95 0.95 0 1 0 -1.9 0M289.6 87.4a0.95 0.95 0 1 0 1.9 0a0.95 0.95 0 1 0 -1.9 0M274.9 102.2a0.95 0.95 0 1 0 1.9 0a0.95 0.95 0 1 0 -1.9 0M278.8 94.5a0.95 0.95 0 1 0 1.9 0a0.95 0.95 0 1 0 -1.9 0M284.3 89.1a0.95 0.95 0 1 0 1.9 0a0.95 0.95 0 1 0 -1.9 0M282.3 90.1a0.95 0.95 0 1 0 1.9 0a0.95 0.95 0 1 0 -1.9 0M287.6 87.5a0.95 0.95 0 1 0 1.9 0a0.95 0.95 0 1 0 -1.9 0M292.6 83.6a0.95 0.95 0 1 0 1.9 0a0.95 0.95 0 1 0 -1.9 0M298.0 79.2a0.95 0.95 0 1 0 1.9 0a0.95 0.95 0 1 0 -1.9 0M308.0 69.8a0.95 0.95 0 1 0 1.9 0a0.95 0.95 0 1 0 -1.9 0M335.8 54.5a0.95 0.95 0 1 0 1.9 0a0.95 0.95 0 1 0 -1.9 0M280.4 92.5a0.95 0.95 0 1 0 1.9 0a0.95 0.95 0 1 0 -1.9 0M301.2 74.3a0.95 0.95 0 1 0 1.9 0a0.95 0.95 0 1 0 -1.9 0M291.2 84.6a0.95 0.95 0 1 0 1.9 0a0.95 0.95 0 1 0 -1.9 0M333.5 52.8a0.95 0.95 0 1 0 1.9 0a0.95 0.95 0 1 0 -1.9 0M291.7 85.4a0.95 0.95 0 1 0 1.9 0a0.95 0.95 0 1 0 -1.9 0M290.6 82.7a0.95 0.95 0 1 0 1.9 0a0.95 0.95 0 1 0 -1.9 0M275.0 103.2a0.95 0.95 0 1 0 1.9 0a0.95 0.95 0 1 0 -1.9 0M293.2 83.4a0.95 0.95 0 1 0 1.9 0a0.95 0.95 0 1 0 -1.9 0M281.9 91.9a0.95 0.95 0 1 0 1.9 0a0.95 0.95 0 1 0 -1.9 0M295.2 80.6a0.95 0.95 0 1 0 1.9 0a0.95 0.95 0 1 0 -1.9 0M318.5 64.3a0.95 0.95 0 1 0 1.9 0a0.95 0.95 0 1 0 -1.9 0M276.8 97.0a0.95 0.95 0 1 0 1.9 0a0.95 0.95 0 1 0 -1.9 0M336.0 54.4a0.95 0.95 0 1 0 1.9 0a0.95 0.95 0 1 0 -1.9 0M336.1 55.2a0.95 0.95 0 1 0 1.9 0a0.95 0.95 0 1 0 -1.9 0M315.0 64.4a0.95 0.95 0 1 0 1.9 0a0.95 0.95 0 1 0 -1.9 0M274.5 103.1a0.95 0.95 0 1 0 1.9 0a0.95 0.95 0 1 0 -1.9 0M274.6 99.3a0.95 0.95 0 1 0 1.9 0a0.95 0.95 0 1 0 -1.9 0M296.3 78.8a0.95 0.95 0 1 0 1.9 0a0.95 0.95 0 1 0 -1.9 0M293.8 79.7a0.95 0.95 0 1 0 1.9 0a0.95 0.95 0 1 0 -1.9 0M274.4 100.9a0.95 0.95 0 1 0 1.9 0a0.95 0.95 0 1 0 -1.9 0M330.7 56.7a0.95 0.95 0 1 0 1.9 0a0.95 0.95 0 1 0 -1.9 0M283.1 90.7a0.95 0.95 0 1 0 1.9 0a0.95 0.95 0 1 0 -1.9 0M327.4 56.0a0.95 0.95 0 1 0 1.9 0a0.95 0.95 0 1 0 -1.9 0M332.4 54.8a0.95 0.95 0 1 0 1.9 0a0.95 0.95 0 1 0 -1.9 0M334.8 55.1a0.95 0.95 0 1 0 1.9 0a0.95 0.95 0 1 0 -1.9 0M295.4 81.8a0.95 0.95 0 1 0 1.9 0a0.95 0.95 0 1 0 -1.9 0M306.3 67.8a0.95 0.95 0 1 0 1.9 0a0.95 0.95 0 1 0 -1.9 0M278.3 99.5a0.95 0.95 0 1 0 1.9 0a0.95 0.95 0 1 0 -1.9 0M272.8 101.5a0.95 0.95 0 1 0 1.9 0a0.95 0.95 0 1 0 -1.9 0M298.5 75.9a0.95 0.95 0 1 0 1.9 0a0.95 0.95 0 1 0 -1.9 0M305.5 72.3a0.95 0.95 0 1 0 1.9 0a0.95 0.95 0 1 0 -1.9 0M273.7 102.1a0.95 0.95 0 1 0 1.9 0a0.95 0.95 0 1 0 -1.9 0M278.3 96.0a0.95 0.95 0 1 0 1.9 0a0.95 0.95 0 1 0 -1.9 0M302.7 72.1a0.95 0.95 0 1 0 1.9 0a0.95 0.95 0 1 0 -1.9 0M279.7 96.9a0.95 0.95 0 1 0 1.9 0a0.95 0.95 0 1 0 -1.9 0M275.7 101.6a0.95 0.95 0 1 0 1.9 0a0.95 0.95 0 1 0 -1.9 0M272.7 103.4a0.95 0.95 0 1 0 1.9 0a0.95 0.95 0 1 0 -1.9 0M324.0 61.3a0.95 0.95 0 1 0 1.9 0a0.95 0.95 0 1 0 -1.9 0M279.4 95.2a0.95 0.95 0 1 0 1.9 0a0.95 0.95 0 1 0 -1.9 0M325.4 60.3a0.95 0.95 0 1 0 1.9 0a0.95 0.95 0 1 0 -1.9 0M305.3 70.7a0.95 0.95 0 1 0 1.9 0a0.95 0.95 0 1 0 -1.9 0M294.0 79.3a0.95 0.95 0 1 0 1.9 0a0.95 0.95 0 1 0 -1.9 0M280.7 94.6a0.95 0.95 0 1 0 1.9 0a0.95 0.95 0 1 0 -1.9 0M322.8 61.4a0.95 0.95 0 1 0 1.9 0a0.95 0.95 0 1 0 -1.9 0M291.6 84.5a0.95 0.95 0 1 0 1.9 0a0.95 0.95 0 1 0 -1.9 0M296.8 79.2a0.95 0.95 0 1 0 1.9 0a0.95 0.95 0 1 0 -1.9 0M294.6 80.6a0.95 0.95 0 1 0 1.9 0a0.95 0.95 0 1 0 -1.9 0M273.4 103.7a0.95 0.95 0 1 0 1.9 0a0.95 0.95 0 1 0 -1.9 0M319.0 60.7a0.95 0.95 0 1 0 1.9 0a0.95 0.95 0 1 0 -1.9 0M297.4 80.0a0.95 0.95 0 1 0 1.9 0a0.95 0.95 0 1 0 -1.9 0M286.6 87.2a0.95 0.95 0 1 0 1.9 0a0.95 0.95 0 1 0 -1.9 0M313.9 69.1a0.95 0.95 0 1 0 1.9 0a0.95 0.95 0 1 0 -1.9 0M288.9 89.1a0.95 0.95 0 1 0 1.9 0a0.95 0.95 0 1 0 -1.9 0M275.7 100.4a0.95 0.95 0 1 0 1.9 0a0.95 0.95 0 1 0 -1.9 0M284.8 87.8a0.95 0.95 0 1 0 1.9 0a0.95 0.95 0 1 0 -1.9 0M277.4 96.8a0.95 0.95 0 1 0 1.9 0a0.95 0.95 0 1 0 -1.9 0M288.4 84.9a0.95 0.95 0 1 0 1.9 0a0.95 0.95 0 1 0 -1.9 0M332.4 56.3a0.95 0.95 0 1 0 1.9 0a0.95 0.95 0 1 0 -1.9 0M279.3 98.9a0.95 0.95 0 1 0 1.9 0a0.95 0.95 0 1 0 -1.9 0M322.3 62.2a0.95 0.95 0 1 0 1.9 0a0.95 0.95 0 1 0 -1.9 0M286.7 87.2a0.95 0.95 0 1 0 1.9 0a0.95 0.95 0 1 0 -1.9 0M272.7 105.8a0.95 0.95 0 1 0 1.9 0a0.95 0.95 0 1 0 -1.9 0M315.3 67.4a0.95 0.95 0 1 0 1.9 0a0.95 0.95 0 1 0 -1.9 0M274.5 102.2a0.95 0.95 0 1 0 1.9 0a0.95 0.95 0 1 0 -1.9 0M281.1 93.3a0.95 0.95 0 1 0 1.9 0a0.95 0.95 0 1 0 -1.9 0M272.8 103.2a0.95 0.95 0 1 0 1.9 0a0.95 0.95 0 1 0 -1.9 0M279.2 96.2a0.95 0.95 0 1 0 1.9 0a0.95 0.95 0 1 0 -1.9 0M329.5 57.1a0.95 0.95 0 1 0 1.9 0a0.95 0.95 0 1 0 -1.9 0M314.4 66.6a0.95 0.95 0 1 0 1.9 0a0.95 0.95 0 1 0 -1.9 0M280.9 90.5a0.95 0.95 0 1 0 1.9 0a0.95 0.95 0 1 0 -1.9 0M278.0 97.7a0.95 0.95 0 1 0 1.9 0a0.95 0.95 0 1 0 -1.9 0M280.8 95.2a0.95 0.95 0 1 0 1.9 0a0.95 0.95 0 1 0 -1.9 0M296.0 81.2a0.95 0.95 0 1 0 1.9 0a0.95 0.95 0 1 0 -1.9 0M278.6 98.6a0.95 0.95 0 1 0 1.9 0a0.95 0.95 0 1 0 -1.9 0M303.0 73.2a0.95 0.95 0 1 0 1.9 0a0.95 0.95 0 1 0 -1.9 0M300.9 73.5a0.95 0.95 0 1 0 1.9 0a0.95 0.95 0 1 0 -1.9 0M282.5 92.5a0.95 0.95 0 1 0 1.9 0a0.95 0.95 0 1 0 -1.9 0M274.4 100.3a0.95 0.95 0 1 0 1.9 0a0.95 0.95 0 1 0 -1.9 0M283.6 90.1a0.95 0.95 0 1 0 1.9 0a0.95 0.95 0 1 0 -1.9 0M313.5 65.7a0.95 0.95 0 1 0 1.9 0a0.95 0.95 0 1 0 -1.9 0M286.9 88.8a0.95 0.95 0 1 0 1.9 0a0.95 0.95 0 1 0 -1.9 0M300.0 75.5a0.95 0.95 0 1 0 1.9 0a0.95 0.95 0 1 0 -1.9 0M305.4 71.0a0.95 0.95 0 1 0 1.9 0a0.95 0.95 0 1 0 -1.9 0M308.2 69.8a0.95 0.95 0 1 0 1.9 0a0.95 0.95 0 1 0 -1.9 0M272.4 100.0a0.95 0.95 0 1 0 1.9 0a0.95 0.95 0 1 0 -1.9 0M273.9 100.8a0.95 0.95 0 1 0 1.9 0a0.95 0.95 0 1 0 -1.9 0M275.0 101.8a0.95 0.95 0 1 0 1.9 0a0.95 0.95 0 1 0 -1.9 0M308.0 68.4a0.95 0.95 0 1 0 1.9 0a0.95 0.95 0 1 0 -1.9 0M274.4 98.4a0.95 0.95 0 1 0 1.9 0a0.95 0.95 0 1 0 -1.9 0M289.8 85.2a0.95 0.95 0 1 0 1.9 0a0.95 0.95 0 1 0 -1.9 0M281.8 94.3a0.95 0.95 0 1 0 1.9 0a0.95 0.95 0 1 0 -1.9 0M272.7 100.6a0.95 0.95 0 1 0 1.9 0a0.95 0.95 0 1 0 -1.9 0M327.0 59.2a0.95 0.95 0 1 0 1.9 0a0.95 0.95 0 1 0 -1.9 0M329.4 59.7a0.95 0.95 0 1 0 1.9 0a0.95 0.95 0 1 0 -1.9 0M287.5 87.3a0.95 0.95 0 1 0 1.9 0a0.95 0.95 0 1 0 -1.9 0M284.2 89.4a0.95 0.95 0 1 0 1.9 0a0.95 0.95 0 1 0 -1.9 0M307.7 70.2a0.95 0.95 0 1 0 1.9 0a0.95 0.95 0 1 0 -1.9 0M318.0 65.2a0.95 0.95 0 1 0 1.9 0a0.95 0.95 0 1 0 -1.9 0M298.4 77.7a0.95 0.95 0 1 0 1.9 0a0.95 0.95 0 1 0 -1.9 0M273.7 102.0a0.95 0.95 0 1 0 1.9 0a0.95 0.95 0 1 0 -1.9 0M278.0 95.8a0.95 0.95 0 1 0 1.9 0a0.95 0.95 0 1 0 -1.9 0M317.5 62.3a0.95 0.95 0 1 0 1.9 0a0.95 0.95 0 1 0 -1.9 0M275.6 97.6a0.95 0.95 0 1 0 1.9 0a0.95 0.95 0 1 0 -1.9 0M311.6 67.7a0.95 0.95 0 1 0 1.9 0a0.95 0.95 0 1 0 -1.9 0M303.7 75.1a0.95 0.95 0 1 0 1.9 0a0.95 0.95 0 1 0 -1.9 0M296.9 78.1a0.95 0.95 0 1 0 1.9 0a0.95 0.95 0 1 0 -1.9 0M278.1 95.7a0.95 0.95 0 1 0 1.9 0a0.95 0.95 0 1 0 -1.9 0M274.1 102.7a0.95 0.95 0 1 0 1.9 0a0.95 0.95 0 1 0 -1.9 0M283.9 90.4a0.95 0.95 0 1 0 1.9 0a0.95 0.95 0 1 0 -1.9 0M325.0 60.3a0.95 0.95 0 1 0 1.9 0a0.95 0.95 0 1 0 -1.9 0M323.8 60.8a0.95 0.95 0 1 0 1.9 0a0.95 0.95 0 1 0 -1.9 0M311.1 67.9a0.95 0.95 0 1 0 1.9 0a0.95 0.95 0 1 0 -1.9 0M298.5 78.5a0.95 0.95 0 1 0 1.9 0a0.95 0.95 0 1 0 -1.9 0M289.3 87.4a0.95 0.95 0 1 0 1.9 0a0.95 0.95 0 1 0 -1.9 0M325.7 59.1a0.95 0.95 0 1 0 1.9 0a0.95 0.95 0 1 0 -1.9 0M333.0 55.4a0.95 0.95 0 1 0 1.9 0a0.95 0.95 0 1 0 -1.9 0M301.7 76.7a0.95 0.95 0 1 0 1.9 0a0.95 0.95 0 1 0 -1.9 0M293.0 80.6a0.95 0.95 0 1 0 1.9 0a0.95 0.95 0 1 0 -1.9 0M306.9 69.6a0.95 0.95 0 1 0 1.9 0a0.95 0.95 0 1 0 -1.9 0M329.8 56.1a0.95 0.95 0 1 0 1.9 0a0.95 0.95 0 1 0 -1.9 0M296.7 78.8a0.95 0.95 0 1 0 1.9 0a0.95 0.95 0 1 0 -1.9 0M316.7 61.1a0.95 0.95 0 1 0 1.9 0a0.95 0.95 0 1 0 -1.9 0M275.3 98.3a0.95 0.95 0 1 0 1.9 0a0.95 0.95 0 1 0 -1.9 0M304.3 73.6a0.95 0.95 0 1 0 1.9 0a0.95 0.95 0 1 0 -1.9 0M287.0 87.9a0.95 0.95 0 1 0 1.9 0a0.95 0.95 0 1 0 -1.9 0M272.7 102.7a0.95 0.95 0 1 0 1.9 0a0.95 0.95 0 1 0 -1.9 0M337.4 54.1a0.95 0.95 0 1 0 1.9 0a0.95 0.95 0 1 0 -1.9 0" fill="none" stroke="#5b2c91" stroke-width="0.7"/>
<path d="M356.5 44.8a0.95 0.95 0 1 0 1.9 0a0.95 0.95 0 1 0 -1.9 0M354.6 48.0a0.95 0.95 0 1 0 1.9 0a0.95 0.95 0 1 0 -1.9 0M338.4 50.7a0.95 0.95 0 1 0 1.9 0a0.95 0.95 0 1 0 -1.9 0M336.2 50.8a0.95 0.95 0 1 0 1.9 0a0.95 0.95 0 1 0 -1.9 0M355.8 46.7a0.95 0.95 0 1 0 1.9 0a0.95 0.95 0 1 0 -1.9 0M352.2 49.7a0.95 0.95 0 1 0 1.9 0a0.95 0.95 0 1 0 -1.9 0M349.9 47.9a0.95 0.95 0 1 0 1.9 0a0.95 0.95 0 1 0 -1.9 0M351.3 46.9a0.95 0.95 0 1 0 1.9 0a0.95 0.95 0 1 0 -1.9 0M351.0 37.4a0.95 0.95 0 1 0 1.9 0a0.95 0.95 0 1 0 -1.9 0M349.9 48.2a0.95 0.95 0 1 0 1.9 0a0.95 0.95 0 1 0 -1.9 0M336.7 49.0a0.95 0.95 0 1 0 1.9 0a0.95 0.95 0 1 0 -1.9 0M332.2 57.4a0.95 0.95 0 1 0 1.9 0a0.95 0.95 0 1 0 -1.9 0M334.4 52.8a0.95 0.95 0 1 0 1.9 0a0.95 0.95 0 1 0 -1.9 0M343.0 55.5a0.95 0.95 0 1 0 1.9 0a0.95 0.95 0 1 0 -1.9 0M357.3 45.2a0.95 0.95 0 1 0 1.9 0a0.95 0.95 0 1 0 -1.9 0M334.4 54.1a0.95 0.95 0 1 0 1.9 0a0.95 0.95 0 1 0 -1.9 0M333.9 61.6a0.95 0.95 0 1 0 1.9 0a0.95 0.95 0 1 0 -1.9 0M348.5 48.0a0.95 0.95 0 1 0 1.9 0a0.95 0.95 0 1 0 -1.9 0M341.0 49.1a0.95 0.95 0 1 0 1.9 0a0.95 0.95 0 1 0 -1.9 0M337.6 53.1a0.95 0.95 0 1 0 1.9 0a0.95 0.95 0 1 0 -1.9 0M346.4 49.7a0.95 0.95 0 1 0 1.9 0a0.95 0.95 0 1 0 -1.9 0M337.9 52.6a0.95 0.95 0 1 0 1.9 0a0.95 0.95 0 1 0 -1.9 0M347.0 42.5a0.95 0.95 0 1 0 1.9 0a0.95 0.95 0 1 0 -1.9 0M348.0 55.0a0.95 0.95 0 1 0 1.9 0a0.95 0.95 0 1 0 -1.9 0M344.0 53.7a0.95 0.95 0 1 0 1.9 0a0.95 0.95 0 1 0 -1.9 0" fill="none" stroke="#5b2c91" stroke-width="0.7"/>
<polyline points="273.9,102.5 276.0,100.0 278.2,97.6 280.3,95.3 282.5,93.0 284.6,90.8 286.8,88.6 288.9,86.6 291.0,84.5 293.2,82.6 295.3,80.7 297.5,78.8 299.6,77.1 301.8,75.4 303.9,73.7 306.0,72.1 308.2,70.6 310.3,69.1 312.5,67.7 314.6,66.3 316.7,64.9 318.9,63.6 321.0,62.4 323.2,61.2 325.3,60.1 327.5,58.9 329.6,57.8 331.7,56.7 333.9,55.7 336.0,54.6 338.2,53.5 340.3,52.4 342.5,51.3 344.6,50.2 346.7,49.1 348.9,48.0 351.0,46.9 353.2,45.8 355.3,44.8 357.4,43.7" fill="none" stroke="#5b2c91" stroke-width="0.8"/></g>
<g clip-path="url(#cc)"><path d="M529.3 66.3l0.95 0.95 -0.95 0.95 -0.95 -0.95zM511.2 83.3l0.95 0.95 -0.95 0.95 -0.95 -0.95zM517.2 76.6l0.95 0.95 -0.95 0.95 -0.95 -0.95zM506.1 92.3l0.95 0.95 -0.95 0.95 -0.95 -0.95zM506.7 91.5l0.95 0.95 -0.95 0.95 -0.95 -0.95zM541.0 54.8l0.95 0.95 -0.95 0.95 -0.95 -0.95zM514.1 78.1l0.95 0.95 -0.95 0.95 -0.95 -0.95zM516.9 75.0l0.95 0.95 -0.95 0.95 -0.95 -0.95zM537.6 57.3l0.95 0.95 -0.95 0.95 -0.95 -0.95zM552.0 50.3l0.95 0.95 -0.95 0.95 -0.95 -0.95zM514.1 81.7l0.95 0.95 -0.95 0.95 -0.95 -0.95zM528.1 65.2l0.95 0.95 -0.95 0.95 -0.95 -0.95zM522.3 71.6l0.95 0.95 -0.95 0.95 -0.95 -0.95zM506.1 89.6l0.95 0.95 -0.95 0.95 -0.95 -0.95zM533.3 63.1l0.95 0.95 -0.95 0.95 -0.95 -0.95zM516.2 76.9l0.95 0.95 -0.95 0.95 -0.95 -0.95zM519.1 74.1l0.95 0.95 -0.95 0.95 -0.95 -0.95zM545.9 50.5l0.95 0.95 -0.95 0.95 -0.95 -0.95zM532.3 65.0l0.95 0.95 -0.95 0.95 -0.95 -0.95zM557.2 49.1l0.95 0.95 -0.95 0.95 -0.95 -0.95zM529.0 64.5l0.95 0.95 -0.95 0.95 -0.95 -0.95zM542.8 55.1l0.95 0.95 -0.95 0.95 -0.95 -0.95zM529.1 65.4l0.95 0.95 -0.95 0.95 -0.95 -0.95zM550.4 49.7l0.95 0.95 -0.95 0.95 -0.95 -0.95zM532.1 61.7l0.95 0.95 -0.95 0.95 -0.95 -0.95zM528.7 65.8l0.95 0.95 -0.95 0.95 -0.95 -0.95zM508.8 87.2l0.95 0.95 -0.95 0.95 -0.95 -0.95zM521.7 71.8l0.95 0.95 -0.95 0.95 -0.95 -0.95zM511.2 84.2l0.95 0.95 -0.95 0.95 -0.95 -0.95zM509.1 86.8l0.95 0.95 -0.95 0.95 -0.95 -0.95zM515.8 78.0l0.95 0.95 -0.95 0.95 -0.95 -0.95zM529.2 64.3l0.95 0.95 -0.95 0.95 -0.95 -0.95zM538.0 58.3l0.95 0.95 -0.95 0.95 -0.95 -0.95zM505.1 93.2l0.95 0.95 -0.95 0.95 -0.95 -0.95zM512.0 81.8l0.95 0.95 -0.95 0.95 -0.95 -0.95zM519.9 71.1l0.95 0.95 -0.95 0.95 -0.95 -0.95zM529.1 65.4l0.95 0.95 -0.95 0.95 -0.95 -0.95zM557.1 46.0l0.95 0.95 -0.95 0.95 -0.95 -0.95zM510.1 87.8l0.95 0.95 -0.95 0.95 -0.95 -0.95zM507.2 88.1l0.95 0.95 -0.95 0.95 -0.95 -0.95zM517.7 75.8l0.95 0.95 -0.95 0.95 -0.95 -0.95zM532.0 63.5l0.95 0.95 -0.95 0.95 -0.95 -0.95zM547.4 51.4l0.95 0.95 -0.95 0.95 -0.95 -0.95zM537.8 58.6l0.95 0.95 -0.95 0.95 -0.95 -0.95zM542.4 55.9l0.95 0.95 -0.95 0.95 -0.95 -0.95zM518.4 75.9l0.95 0.95 -0.95 0.95 -0.95 -0.95zM547.2 53.2l0.95 0.95 -0.95 0.95 -0.95 -0.95zM529.3 65.9l0.95 0.95 -0.95 0.95 -0.95 -0.95zM511.5 81.3l0.95 0.95 -0.95 0.95 -0.95 -0.95zM553.6 49.5l0.95 0.95 -0.95 0.95 -0.95 -0.95zM553.8 49.9l0.95 0.95 -0.95 0.95 -0.95 -0.95zM512.0 83.3l0.95 0.95 -0.95 0.95 -0.95 -0.95zM526.0 69.8l0.95 0.95 -0.95 0.95 -0.95 -0.95zM550.8 50.6l0.95 0.95 -0.95 0.95 -0.95 -0.95zM512.1 80.4l0.95 0.95 -0.95 0.95 -0.95 -0.95zM547.0 52.9l0.95 0.95 -0.95 0.95 -0.95 -0.95zM561.0 46.2l0.95 0.95 -0.95 0.95 -0.95 -0.95zM517.3 73.1l0.95 0.95 -0.95 0.95 -0.95 -0.95zM544.3 53.1l0.95 0.95 -0.95 0.95 -0.95 -0.95zM523.5 70.2l0.95 0.95 -0.95 0.95 -0.95 -0.95zM526.7 64.9l0.95 0.95 -0.95 0.95 -0.95 -0.95zM528.2 65.4l0.95 0.95 -0.95 0.95 -0.95 -0.95zM505.8 90.4l0.95 0.95 -0.95 0.95 -0.95 -0.95zM555.0 47.4l0.95 0.95 -0.95 0.95 -0.95 -0.95zM510.1 86.7l0.95 0.95 -0.95 0.95 -0.95 -0.95zM516.0 80.6l0.95 0.95 -0.95 0.95 -0.95 -0.95zM520.3 73.3l0.95 0.95 -0.95 0.95 -0.95 -0.95zM551.1 51.2l0.95 0.95 -0.95 0.95 -0.95 -0.95zM550.2 48.1l0.95 0.95 -0.95 0.95 -0.95 -0.95zM546.1 52.1l0.95 0.95 -0.95 0.95 -0.95 -0.95zM508.4 90.2l0.95 0.95 -0.95 0.95 -0.95 -0.95zM509.8 83.9l0.95 0.95 -0.95 0.95 -0.95 -0.95zM555.3 47.8l0.95 0.95 -0.95 0.95 -0.95 -0.95zM512.0 82.4l0.95 0.95 -0.95 0.95 -0.95 -0.95zM522.8 71.9l0.95 0.95 -0.95 0.95 -0.95 -0.95zM507.9 88.5l0.95 0.95 -0.95 0.95 -0.95 -0.95zM554.8 48.7l0.95 0.95 -0.95 0.95 -0.95 -0.95zM516.3 77.8l0.95 0.95 -0.95 0.95 -0.95 -0.95zM516.9 74.6l0.95 0.95 -0.95 0.95 -0.95 -0.95zM531.1 63.7l0.95 0.95 -0.95 0.95 -0.95 -0.95zM551.2 48.7l0.95 0.95 -0.95 0.95 -0.95 -0.95zM528.8 66.0l0.95 0.95 -0.95 0.95 -0.95 -0.95zM504.9 93.6l0.95 0.95 -0.95 0.95 -0.95 -0.95zM509.4 86.6l0.95 0.95 -0.95 0.95 -0.95 -0.95zM507.3 89.1l0.95 0.95 -0.95 0.95 -0.95 -0.95zM527.3 67.5l0.95 0.95 -0.95 0.95 -0.95 -0.95zM505.4 94.5l0.95 0.95 -0.95 0.95 -0.95 -0.95zM539.7 55.4l0.95 0.95 -0.95 0.95 -0.95 -0.95zM504.9 93.7l0.95 0.95 -0.95 0.95 -0.95 -0.95zM530.4 63.9l0.95 0.95 -0.95 0.95 -0.95 -0.95zM519.8 72.2l0.95 0.95 -0.95 0.95 -0.95 -0.95zM515.3 78.1l0.95 0.95 -0.95 0.95 -0.95 -0.95zM509.0 85.8l0.95 0.95 -0.95 0.95 -0.95 -0.95zM531.9 62.4l0.95 0.95 -0.95 0.95 -0.95 -0.95zM519.5 72.7l0.95 0.95 -0.95 0.95 -0.95 -0.95zM505.8 91.9l0.95 0.95 -0.95 0.95 -0.95 -0.95zM527.1 68.4l0.95 0.95 -0.95 0.95 -0.95 -0.95zM559.4 45.7l0.95 0.95 -0.95 0.95 -0.95 -0.95zM528.3 65.7l0.95 0.95 -0.95 0.95 -0.95 -0.95zM509.5 88.4l0.95 0.95 -0.95 0.95 -0.95 -0.95zM509.1 86.7l0.95 0.95 -0.95 0.95 -0.95 -0.95zM514.4 75.6l0.95 0.95 -0.95 0.95 -0.95 -0.95zM539.0 57.6l0.95 0.95 -0.95 0.95 -0.95 -0.95zM509.1 84.2l0.95 0.95 -0.95 0.95 -0.95 -0.95zM517.4 74.6l0.95 0.95 -0.95 0.95 -0.95 -0.95zM506.6 93.3l0.95 0.95 -0.95 0.95 -0.95 -0.95zM506.7 91.9l0.95 0.95 -0.95 0.95 -0.95 -0.95zM515.0 76.6l0.95 0.95 -0.95 0.95 -0.95 -0.95zM507.9 85.6l0.95 0.95 -0.95 0.95 -0.95 -0.95zM509.6 88.0l0.95 0.95 -0.95 0.95 -0.95 -0.95z" fill="none" stroke="#2f4f9f" stroke-width="0.7"/>
<path d="M629.0 21.6l0.95 0.95 -0.95 0.95 -0.95 -0.95zM604.1 25.6l0.95 0.95 -0.95 0.95 -0.95 -0.95zM592.3 28.3l0.95 0.95 -0.95 0.95 -0.95 -0.95zM588.7 38.2l0.95 0.95 -0.95 0.95 -0.95 -0.95zM654.7 13.9l0.95 0.95 -0.95 0.95 -0.95 -0.95zM582.7 34.9l0.95 0.95 -0.95 0.95 -0.95 -0.95zM588.7 32.9l0.95 0.95 -0.95 0.95 -0.95 -0.95zM590.0 36.1l0.95 0.95 -0.95 0.95 -0.95 -0.95zM619.7 25.5l0.95 0.95 -0.95 0.95 -0.95 -0.95zM596.2 32.3l0.95 0.95 -0.95 0.95 -0.95 -0.95zM601.0 31.3l0.95 0.95 -0.95 0.95 -0.95 -0.95zM627.5 24.3l0.95 0.95 -0.95 0.95 -0.95 -0.95zM624.9 18.7l0.95 0.95 -0.95 0.95 -0.95 -0.95zM617.1 27.3l0.95 0.95 -0.95 0.95 -0.95 -0.95zM593.9 35.9l0.95 0.95 -0.95 0.95 -0.95 -0.95zM575.3 41.5l0.95 0.95 -0.95 0.95 -0.95 -0.95zM577.2 37.4l0.95 0.95 -0.95 0.95 -0.95 -0.95zM574.5 38.0l0.95 0.95 -0.95 0.95 -0.95 -0.95zM603.5 29.7l0.95 0.95 -0.95 0.95 -0.95 -0.95zM589.9 37.9l0.95 0.95 -0.95 0.95 -0.95 -0.95zM641.2 21.7l0.95 0.95 -0.95 0.95 -0.95 -0.95zM658.7 14.4l0.95 0.95 -0.95 0.95 -0.95 -0.95zM600.6 33.2l0.95 0.95 -0.95 0.95 -0.95 -0.95zM658.1 18.6l0.95 0.95 -0.95 0.95 -0.95 -0.95zM570.7 41.0l0.95 0.95 -0.95 0.95 -0.95 -0.95zM570.2 42.6l0.95 0.95 -0.95 0.95 -0.95 -0.95zM569.7 39.5l0.95 0.95 -0.95 0.95 -0.95 -0.95zM620.8 28.8l0.95 0.95 -0.95 0.95 -0.95 -0.95zM571.0 41.1l0.95 0.95 -0.95 0.95 -0.95 -0.95zM652.8 14.9l0.95 0.95 -0.95 0.95 -0.95 -0.95zM582.8 40.4l0.95 0.95 -0.95 0.95 -0.95 -0.95zM644.9 22.7l0.95 0.95 -0.95 0.95 -0.95 -0.95zM616.7 26.4l0.95 0.95 -0.95 0.95 -0.95 -0.95zM564.1 39.8l0.95 0.95 -0.95 0.95 -0.95 -0.95zM629.1 25.4l0.95 0.95 -0.95 0.95 -0.95 -0.95zM568.3 42.4l0.95 0.95 -0.95 0.95 -0.95 -0.95zM656.6 13.5l0.95 0.95 -0.95 0.95 -0.95 -0.95zM643.7 21.8l0.95 0.95 -0.95 0.95 -0.95 -0.95zM638.7 22.8l0.95 0.95 -0.95 0.95 -0.95 -0.95zM644.6 21.2l0.95 0.95 -0.95 0.95 -0.95 -0.95zM649.8 18.1l0.95 0.95 -0.95 0.95 -0.95 -0.95zM602.9 27.4l0.95 0.95 -0.95 0.95 -0.95 -0.95zM617.4 24.7l0.95 0.95 -0.95 0.95 -0.95 -0.95zM582.9 33.5l0.95 0.95 -0.95 0.95 -0.95 -0.95zM603.1 31.8l0.95 0.95 -0.95 0.95 -0.95 -0.95zM599.6 30.2l0.95 0.95 -0.95 0.95 -0.95 -0.95zM617.8 27.4l0.95 0.95 -0.95 0.95 -0.95 -0.95zM634.3 22.8l0.95 0.95 -0.95 0.95 -0.95 -0.95zM650.4 14.8l0.95 0.95 -0.95 0.95 -0.95 -0.95zM619.1 26.3l0.95 0.95 -0.95 0.95 -0.95 -0.95zM619.1 30.2l0.95 0.95 -0.95 0.95 -0.95 -0.95zM615.9 26.8l0.95 0.95 -0.95 0.95 -0.95 -0.95zM627.2 23.4l0.95 0.95 -0.95 0.95 -0.95 -0.95zM587.9 38.3l0.95 0.95 -0.95 0.95 -0.95 -0.95zM633.7 20.0l0.95 0.95 -0.95 0.95 -0.95 -0.95zM646.6 20.7l0.95 0.95 -0.95 0.95 -0.95 -0.95zM578.8 37.2l0.95 0.95 -0.95 0.95 -0.95 -0.95zM656.8 14.7l0.95 0.95 -0.95 0.95 -0.95 -0.95zM621.4 22.4l0.95 0.95 -0.95 0.95 -0.95 -0.95zM596.1 31.6l0.95 0.95 -0.95 0.95 -0.95 -0.95zM640.7 21.0l0.95 0.95 -0.95 0.95 -0.95 -0.95zM629.1 27.3l0.95 0.95 -0.95 0.95 -0.95 -0.95zM590.1 33.8l0.95 0.95 -0.95 0.95 -0.95 -0.95zM596.5 33.1l0.95 0.95 -0.95 0.95 -0.95 -0.95zM641.6 21.3l0.95 0.95 -0.95 0.95 -0.95 -0.95zM647.1 17.7l0.95 0.95 -0.95 0.95 -0.95 -0.95zM645.9 17.6l0.95 0.95 -0.95 0.95 -0.95 -0.95zM608.8 25.9l0.95 0.95 -0.95 0.95 -0.95 -0.95zM574.9 38.8l0.95 0.95 -0.95 0.95 -0.95 -0.95zM644.0 19.5l0.95 0.95 -0.95 0.95 -0.95 -0.95zM562.8 42.7l0.95 0.95 -0.95 0.95 -0.95 -0.95zM581.6 36.6l0.95 0.95 -0.95 0.95 -0.95 -0.95zM567.4 41.4l0.95 0.95 -0.95 0.95 -0.95 -0.95zM605.1 30.0l0.95 0.95 -0.95 0.95 -0.95 -0.95zM610.8 28.7l0.95 0.95 -0.95 0.95 -0.95 -0.95zM606.9 31.2l0.95 0.95 -0.95 0.95 -0.95 -0.95zM562.5 44.2l0.95 0.95 -0.95 0.95 -0.95 -0.95zM589.2 33.7l0.95 0.95 -0.95 0.95 -0.95 -0.95zM602.9 35.5l0.95 0.95 -0.95 0.95 -0.95 -0.95zM655.8 17.3l0.95 0.95 -0.95 0.95 -0.95 -0.95zM570.5 41.1l0.95 0.95 -0.95 0.95 -0.95 -0.95zM609.0 33.2l0.95 0.95 -0.95 0.95 -0.95 -0.95zM645.0 16.4l0.95 0.95 -0.95 0.95 -0.95 -0.95zM618.2 24.1l0.95 0.95 -0.95 0.95 -0.95 -0.95zM602.1 34.4l0.95 0.95 -0.95 0.95 -0.95 -0.95zM650.3 18.3l0.95 0.95 -0.95 0.95 -0.95 -0.95zM656.8 19.5l0.95 0.95 -0.95 0.95 -0.95 -0.95zM571.6 44.1l0.95 0.95 -0.95 0.95 -0.95 -0.95zM567.1 44.1l0.95 0.95 -0.95 0.95 -0.95 -0.95zM574.6 40.2l0.95 0.95 -0.95 0.95 -0.95 -0.95z" fill="none" stroke="#2f4f9f" stroke-width="0.7"/>
<polyline points="504.8,94.5 508.8,88.3 512.8,82.6 516.8,77.6 520.7,73.2 524.7,69.5 528.7,66.5 532.7,63.6 536.6,60.6 540.6,57.4 544.6,54.4 548.6,51.9 552.5,49.7 556.5,47.8 560.5,46.0 564.5,44.2 568.4,42.4 572.4,40.8 576.4,39.2 580.4,37.9 584.3,36.6 588.3,35.5 592.3,34.4 596.3,33.4 600.2,32.3 604.2,31.3 608.2,30.1 612.2,29.0 616.1,27.8 620.1,26.7 624.1,25.6 628.1,24.5 632.0,23.4 636.0,22.5 640.0,21.5 644.0,20.5 647.9,19.6 651.9,18.7 655.9,17.9 659.9,17.1" fill="none" stroke="#2f4f9f" stroke-width="0.8"/>
<path d="M511.0 86.3h1.9v1.9h-1.9zM545.0 56.7h1.9v1.9h-1.9zM500.6 99.4h1.9v1.9h-1.9zM505.9 92.8h1.9v1.9h-1.9zM529.2 67.5h1.9v1.9h-1.9zM526.2 71.9h1.9v1.9h-1.9zM526.5 70.0h1.9v1.9h-1.9zM539.0 58.0h1.9v1.9h-1.9zM533.2 65.7h1.9v1.9h-1.9zM510.1 87.6h1.9v1.9h-1.9zM500.4 100.0h1.9v1.9h-1.9zM535.0 63.4h1.9v1.9h-1.9zM505.0 92.9h1.9v1.9h-1.9zM505.3 96.2h1.9v1.9h-1.9zM548.4 53.6h1.9v1.9h-1.9zM555.7 52.1h1.9v1.9h-1.9zM544.1 56.4h1.9v1.9h-1.9zM534.5 62.2h1.9v1.9h-1.9zM511.3 85.7h1.9v1.9h-1.9zM506.2 93.2h1.9v1.9h-1.9zM512.6 83.5h1.9v1.9h-1.9zM501.3 100.4h1.9v1.9h-1.9zM498.9 101.5h1.9v1.9h-1.9zM500.6 101.6h1.9v1.9h-1.9zM511.7 84.7h1.9v1.9h-1.9zM510.5 86.2h1.9v1.9h-1.9zM518.2 78.0h1.9v1.9h-1.9zM515.1 81.0h1.9v1.9h-1.9zM530.1 67.6h1.9v1.9h-1.9zM501.2 99.0h1.9v1.9h-1.9zM500.2 99.4h1.9v1.9h-1.9zM501.5 99.2h1.9v1.9h-1.9zM545.1 55.8h1.9v1.9h-1.9zM523.3 72.6h1.9v1.9h-1.9zM529.8 66.6h1.9v1.9h-1.9zM503.1 96.2h1.9v1.9h-1.9zM524.2 71.7h1.9v1.9h-1.9zM522.3 73.6h1.9v1.9h-1.9zM550.3 53.2h1.9v1.9h-1.9zM509.4 88.1h1.9v1.9h-1.9zM502.1 98.2h1.9v1.9h-1.9zM508.9 91.0h1.9v1.9h-1.9zM521.4 75.6h1.9v1.9h-1.9zM529.6 66.8h1.9v1.9h-1.9zM529.1 68.5h1.9v1.9h-1.9zM526.2 70.6h1.9v1.9h-1.9zM537.0 61.9h1.9v1.9h-1.9zM506.9 91.9h1.9v1.9h-1.9zM502.3 96.2h1.9v1.9h-1.9zM528.4 67.2h1.9v1.9h-1.9zM509.7 89.1h1.9v1.9h-1.9zM534.3 64.1h1.9v1.9h-1.9zM534.6 64.0h1.9v1.9h-1.9zM540.6 58.6h1.9v1.9h-1.9zM537.4 62.9h1.9v1.9h-1.9zM530.9 65.9h1.9v1.9h-1.9zM516.1 79.0h1.9v1.9h-1.9zM526.3 69.7h1.9v1.9h-1.9zM508.5 91.9h1.9v1.9h-1.9zM500.2 101.2h1.9v1.9h-1.9zM500.9 99.8h1.9v1.9h-1.9zM548.1 56.3h1.9v1.9h-1.9zM499.8 102.3h1.9v1.9h-1.9zM544.6 56.9h1.9v1.9h-1.9zM544.5 56.7h1.9v1.9h-1.9zM546.2 54.6h1.9v1.9h-1.9zM528.8 69.1h1.9v1.9h-1.9zM521.4 74.5h1.9v1.9h-1.9zM499.7 100.5h1.9v1.9h-1.9zM517.2 81.5h1.9v1.9h-1.9zM501.1 98.5h1.9v1.9h-1.9zM513.7 83.7h1.9v1.9h-1.9zM500.7 97.4h1.9v1.9h-1.9zM539.0 61.7h1.9v1.9h-1.9zM533.8 63.5h1.9v1.9h-1.9zM522.3 73.2h1.9v1.9h-1.9zM551.5 53.3h1.9v1.9h-1.9zM501.2 97.1h1.9v1.9h-1.9zM537.9 60.0h1.9v1.9h-1.9zM525.4 69.4h1.9v1.9h-1.9zM512.2 86.9h1.9v1.9h-1.9zM499.5 102.5h1.9v1.9h-1.9zM524.7 71.7h1.9v1.9h-1.9zM509.9 86.9h1.9v1.9h-1.9zM506.2 92.1h1.9v1.9h-1.9zM500.4 100.7h1.9v1.9h-1.9zM531.7 65.5h1.9v1.9h-1.9zM557.6 49.1h1.9v1.9h-1.9zM517.6 78.9h1.9v1.9h-1.9zM557.8 50.1h1.9v1.9h-1.9zM510.2 88.5h1.9v1.9h-1.9zM554.9 51.5h1.9v1.9h-1.9zM538.4 60.2h1.9v1.9h-1.9zM503.1 97.0h1.9v1.9h-1.9zM512.6 85.2h1.9v1.9h-1.9zM536.8 61.1h1.9v1.9h-1.9zM511.4 84.6h1.9v1.9h-1.9zM529.2 69.4h1.9v1.9h-1.9zM549.5 54.0h1.9v1.9h-1.9zM498.8 101.9h1.9v1.9h-1.9zM513.0 85.0h1.9v1.9h-1.9zM507.1 91.1h1.9v1.9h-1.9zM502.6 96.9h1.9v1.9h-1.9zM556.9 50.2h1.9v1.9h-1.9zM511.1 86.1h1.9v1.9h-1.9zM518.1 77.6h1.9v1.9h-1.9zM502.3 96.7h1.9v1.9h-1.9zM545.6 56.5h1.9v1.9h-1.9zM507.6 91.5h1.9v1.9h-1.9zM501.3 99.0h1.9v1.9h-1.9zM543.5 57.5h1.9v1.9h-1.9zM503.2 95.2h1.9v1.9h-1.9zM499.2 103.6h1.9v1.9h-1.9zM503.3 96.8h1.9v1.9h-1.9zM511.8 85.6h1.9v1.9h-1.9zM502.1 98.8h1.9v1.9h-1.9zM529.6 67.4h1.9v1.9h-1.9zM539.0 60.0h1.9v1.9h-1.9zM532.4 65.8h1.9v1.9h-1.9zM505.1 93.3h1.9v1.9h-1.9zM546.5 56.1h1.9v1.9h-1.9zM533.4 62.4h1.9v1.9h-1.9zM503.9 94.8h1.9v1.9h-1.9zM499.6 101.7h1.9v1.9h-1.9zM498.8 101.7h1.9v1.9h-1.9zM545.4 56.6h1.9v1.9h-1.9zM537.8 62.8h1.9v1.9h-1.9zM499.9 102.4h1.9v1.9h-1.9zM546.6 54.0h1.9v1.9h-1.9zM553.5 51.4h1.9v1.9h-1.9zM543.5 56.5h1.9v1.9h-1.9zM508.9 89.5h1.9v1.9h-1.9zM519.7 77.7h1.9v1.9h-1.9zM500.1 101.3h1.9v1.9h-1.9zM508.5 90.8h1.9v1.9h-1.9zM534.0 63.5h1.9v1.9h-1.9zM506.1 91.9h1.9v1.9h-1.9zM525.9 71.3h1.9v1.9h-1.9zM504.2 95.0h1.9v1.9h-1.9zM555.5 50.0h1.9v1.9h-1.9zM512.1 85.4h1.9v1.9h-1.9zM501.7 98.1h1.9v1.9h-1.9zM499.3 101.2h1.9v1.9h-1.9zM503.5 94.0h1.9v1.9h-1.9zM518.9 76.9h1.9v1.9h-1.9zM542.3 57.6h1.9v1.9h-1.9zM523.1 74.5h1.9v1.9h-1.9zM525.6 71.4h1.9v1.9h-1.9zM501.5 97.9h1.9v1.9h-1.9zM518.5 78.5h1.9v1.9h-1.9zM532.2 65.5h1.9v1.9h-1.9zM499.7 101.0h1.9v1.9h-1.9zM499.7 100.6h1.9v1.9h-1.9zM552.6 52.6h1.9v1.9h-1.9zM541.2 58.2h1.9v1.9h-1.9zM534.8 61.8h1.9v1.9h-1.9zM549.6 53.6h1.9v1.9h-1.9zM522.6 74.3h1.9v1.9h-1.9zM498.4 101.3h1.9v1.9h-1.9zM526.5 70.9h1.9v1.9h-1.9zM523.3 73.7h1.9v1.9h-1.9zM501.7 99.2h1.9v1.9h-1.9zM527.5 71.1h1.9v1.9h-1.9zM538.8 61.3h1.9v1.9h-1.9zM552.7 51.7h1.9v1.9h-1.9zM502.4 97.7h1.9v1.9h-1.9zM549.8 53.4h1.9v1.9h-1.9zM507.9 90.1h1.9v1.9h-1.9zM525.1 72.0h1.9v1.9h-1.9zM506.0 93.5h1.9v1.9h-1.9zM503.8 96.5h1.9v1.9h-1.9zM516.7 80.3h1.9v1.9h-1.9zM510.2 86.9h1.9v1.9h-1.9zM529.1 68.9h1.9v1.9h-1.9zM499.3 100.5h1.9v1.9h-1.9zM553.9 51.1h1.9v1.9h-1.9zM503.8 95.1h1.9v1.9h-1.9zM508.1 90.5h1.9v1.9h-1.9zM501.5 98.0h1.9v1.9h-1.9zM501.8 99.1h1.9v1.9h-1.9zM554.1 51.4h1.9v1.9h-1.9zM519.3 75.9h1.9v1.9h-1.9zM499.3 102.0h1.9v1.9h-1.9zM514.7 83.3h1.9v1.9h-1.9zM559.0 48.4h1.9v1.9h-1.9zM519.8 77.4h1.9v1.9h-1.9zM507.0 92.1h1.9v1.9h-1.9zM507.3 91.2h1.9v1.9h-1.9zM512.7 84.5h1.9v1.9h-1.9zM542.0 58.2h1.9v1.9h-1.9zM503.7 95.7h1.9v1.9h-1.9zM504.6 91.9h1.9v1.9h-1.9zM532.1 64.0h1.9v1.9h-1.9zM514.7 82.1h1.9v1.9h-1.9zM505.1 93.5h1.9v1.9h-1.9zM524.6 70.7h1.9v1.9h-1.9zM507.7 89.5h1.9v1.9h-1.9zM500.0 101.7h1.9v1.9h-1.9zM500.2 99.9h1.9v1.9h-1.9zM501.9 96.9h1.9v1.9h-1.9zM534.2 64.2h1.9v1.9h-1.9zM541.3 58.9h1.9v1.9h-1.9zM526.2 69.8h1.9v1.9h-1.9zM523.0 72.9h1.9v1.9h-1.9zM500.5 99.0h1.9v1.9h-1.9zM532.4 63.2h1.9v1.9h-1.9zM507.5 90.0h1.9v1.9h-1.9zM540.9 57.7h1.9v1.9h-1.9zM509.9 90.8h1.9v1.9h-1.9zM508.0 90.0h1.9v1.9h-1.9zM507.7 90.1h1.9v1.9h-1.9zM534.9 62.9h1.9v1.9h-1.9zM505.3 95.1h1.9v1.9h-1.9zM504.7 94.5h1.9v1.9h-1.9zM522.5 74.8h1.9v1.9h-1.9zM551.2 53.2h1.9v1.9h-1.9zM544.3 56.0h1.9v1.9h-1.9zM507.3 93.4h1.9v1.9h-1.9zM544.7 56.9h1.9v1.9h-1.9zM500.9 99.0h1.9v1.9h-1.9z" fill="none" stroke="#e0262a" stroke-width="0.7"/>
<path d="M574.6 41.9h1.9v1.9h-1.9zM564.0 42.4h1.9v1.9h-1.9zM599.2 35.1h1.9v1.9h-1.9zM579.6 43.1h1.9v1.9h-1.9zM607.8 34.8h1.9v1.9h-1.9zM583.4 40.7h1.9v1.9h-1.9zM605.8 33.0h1.9v1.9h-1.9zM583.8 40.4h1.9v1.9h-1.9zM558.2 48.3h1.9v1.9h-1.9zM612.5 29.8h1.9v1.9h-1.9zM583.1 41.3h1.9v1.9h-1.9zM612.4 31.4h1.9v1.9h-1.9zM564.6 49.1h1.9v1.9h-1.9zM600.7 32.2h1.9v1.9h-1.9zM619.6 31.4h1.9v1.9h-1.9zM584.3 42.5h1.9v1.9h-1.9zM602.8 33.8h1.9v1.9h-1.9zM583.1 40.5h1.9v1.9h-1.9zM616.6 31.5h1.9v1.9h-1.9zM573.9 47.2h1.9v1.9h-1.9zM610.7 31.3h1.9v1.9h-1.9zM595.4 33.7h1.9v1.9h-1.9zM568.1 44.9h1.9v1.9h-1.9zM572.9 44.6h1.9v1.9h-1.9zM617.3 31.8h1.9v1.9h-1.9zM614.7 29.3h1.9v1.9h-1.9zM593.4 36.9h1.9v1.9h-1.9zM562.0 43.7h1.9v1.9h-1.9zM578.0 39.3h1.9v1.9h-1.9zM602.7 36.0h1.9v1.9h-1.9zM608.5 35.2h1.9v1.9h-1.9zM617.7 30.1h1.9v1.9h-1.9zM596.6 32.0h1.9v1.9h-1.9zM590.2 38.0h1.9v1.9h-1.9zM594.8 35.5h1.9v1.9h-1.9zM574.4 47.3h1.9v1.9h-1.9zM612.8 32.7h1.9v1.9h-1.9zM587.5 39.6h1.9v1.9h-1.9zM590.7 41.5h1.9v1.9h-1.9zM570.4 42.8h1.9v1.9h-1.9zM571.8 42.1h1.9v1.9h-1.9zM615.8 28.2h1.9v1.9h-1.9zM564.3 50.8h1.9v1.9h-1.9zM615.9 31.7h1.9v1.9h-1.9zM611.9 29.8h1.9v1.9h-1.9z" fill="none" stroke="#e0262a" stroke-width="0.7"/>
<polyline points="500.1,103.1 503.2,98.7 506.4,94.4 509.5,90.4 512.7,86.6 515.8,83.0 519.0,79.6 522.1,76.4 525.3,73.3 528.4,70.2 531.6,67.2 534.7,64.6 537.9,62.4 541.0,60.3 544.2,58.4 547.3,56.5 550.5,54.8 553.6,53.2 556.8,51.6 559.9,50.3 563.1,49.0 566.2,47.8 569.4,46.8 572.5,45.7 575.7,44.8 578.8,43.8 582.0,42.7 585.1,41.6 588.3,40.5 591.4,39.3 594.6,38.3 597.7,37.2 600.9,36.2 604.0,35.3 607.2,34.5 610.3,33.6 613.5,32.8 616.6,32.0 619.8,31.3 622.9,30.6" fill="none" stroke="#e0262a" stroke-width="0.8"/>
<path d="M548.1 54.2l0.95 1.71h-1.9zM552.4 51.7l0.95 1.71h-1.9zM528.0 76.6l0.95 1.71h-1.9zM529.3 74.4l0.95 1.71h-1.9zM556.6 49.4l0.95 1.71h-1.9zM524.9 76.7l0.95 1.71h-1.9zM527.9 74.3l0.95 1.71h-1.9zM512.5 92.7l0.95 1.71h-1.9zM508.5 97.0l0.95 1.71h-1.9zM514.5 90.9l0.95 1.71h-1.9zM518.7 83.4l0.95 1.71h-1.9zM558.1 47.7l0.95 1.71h-1.9zM526.7 75.4l0.95 1.71h-1.9zM526.6 76.6l0.95 1.71h-1.9zM509.6 93.9l0.95 1.71h-1.9zM524.2 77.9l0.95 1.71h-1.9zM546.1 55.0l0.95 1.71h-1.9zM547.1 53.6l0.95 1.71h-1.9zM548.9 53.0l0.95 1.71h-1.9zM516.1 87.7l0.95 1.71h-1.9zM529.1 74.7l0.95 1.71h-1.9zM546.8 54.4l0.95 1.71h-1.9zM522.5 79.6l0.95 1.71h-1.9zM517.2 86.7l0.95 1.71h-1.9zM532.5 70.0l0.95 1.71h-1.9zM514.3 89.0l0.95 1.71h-1.9zM512.2 92.8l0.95 1.71h-1.9zM517.2 85.8l0.95 1.71h-1.9zM530.0 74.2l0.95 1.71h-1.9zM526.9 75.0l0.95 1.71h-1.9zM557.9 49.7l0.95 1.71h-1.9zM529.2 72.2l0.95 1.71h-1.9zM511.7 94.7l0.95 1.71h-1.9zM515.5 87.3l0.95 1.71h-1.9zM522.2 79.2l0.95 1.71h-1.9zM532.6 70.1l0.95 1.71h-1.9zM541.4 59.4l0.95 1.71h-1.9zM547.8 54.7l0.95 1.71h-1.9zM509.6 98.0l0.95 1.71h-1.9zM549.8 52.3l0.95 1.71h-1.9zM535.2 64.7l0.95 1.71h-1.9zM555.1 49.5l0.95 1.71h-1.9zM521.1 82.6l0.95 1.71h-1.9zM526.1 78.5l0.95 1.71h-1.9zM540.5 58.9l0.95 1.71h-1.9zM524.6 77.9l0.95 1.71h-1.9zM542.1 58.5l0.95 1.71h-1.9zM530.1 73.1l0.95 1.71h-1.9zM542.3 58.1l0.95 1.71h-1.9zM528.3 75.6l0.95 1.71h-1.9zM510.3 94.6l0.95 1.71h-1.9zM558.1 49.1l0.95 1.71h-1.9zM537.4 61.8l0.95 1.71h-1.9zM518.4 83.5l0.95 1.71h-1.9zM541.6 59.6l0.95 1.71h-1.9zM548.1 53.7l0.95 1.71h-1.9zM543.7 55.5l0.95 1.71h-1.9zM515.1 86.0l0.95 1.71h-1.9zM530.6 72.7l0.95 1.71h-1.9zM517.3 86.1l0.95 1.71h-1.9zM508.3 97.2l0.95 1.71h-1.9zM515.2 87.2l0.95 1.71h-1.9zM512.2 92.5l0.95 1.71h-1.9zM508.6 95.2l0.95 1.71h-1.9zM551.2 52.0l0.95 1.71h-1.9zM512.1 91.2l0.95 1.71h-1.9zM529.6 73.2l0.95 1.71h-1.9zM520.9 82.3l0.95 1.71h-1.9zM512.2 94.3l0.95 1.71h-1.9zM523.6 78.5l0.95 1.71h-1.9zM508.5 95.0l0.95 1.71h-1.9zM531.3 71.7l0.95 1.71h-1.9zM552.0 52.4l0.95 1.71h-1.9zM513.5 89.7l0.95 1.71h-1.9zM518.4 84.0l0.95 1.71h-1.9zM518.6 84.4l0.95 1.71h-1.9zM536.1 65.0l0.95 1.71h-1.9zM544.7 55.4l0.95 1.71h-1.9zM544.1 55.6l0.95 1.71h-1.9zM559.2 47.1l0.95 1.71h-1.9zM559.0 48.5l0.95 1.71h-1.9zM554.7 49.3l0.95 1.71h-1.9zM530.7 72.3l0.95 1.71h-1.9zM558.4 50.0l0.95 1.71h-1.9zM522.1 81.0l0.95 1.71h-1.9zM525.4 77.2l0.95 1.71h-1.9zM534.0 68.4l0.95 1.71h-1.9zM532.9 71.3l0.95 1.71h-1.9zM555.9 49.4l0.95 1.71h-1.9zM527.3 76.2l0.95 1.71h-1.9zM513.4 89.3l0.95 1.71h-1.9zM557.5 47.9l0.95 1.71h-1.9zM515.6 88.2l0.95 1.71h-1.9zM554.1 49.8l0.95 1.71h-1.9zM542.4 58.0l0.95 1.71h-1.9zM521.5 81.3l0.95 1.71h-1.9zM509.3 97.9l0.95 1.71h-1.9zM533.8 68.4l0.95 1.71h-1.9zM524.4 77.1l0.95 1.71h-1.9zM554.3 50.1l0.95 1.71h-1.9zM550.8 52.3l0.95 1.71h-1.9zM543.5 55.7l0.95 1.71h-1.9zM533.5 67.9l0.95 1.71h-1.9zM560.1 48.0l0.95 1.71h-1.9zM524.9 77.5l0.95 1.71h-1.9zM539.1 60.6l0.95 1.71h-1.9zM557.9 48.7l0.95 1.71h-1.9zM514.8 90.8l0.95 1.71h-1.9zM514.8 87.7l0.95 1.71h-1.9zM507.9 97.3l0.95 1.71h-1.9zM523.2 80.0l0.95 1.71h-1.9zM508.7 97.0l0.95 1.71h-1.9zM529.7 73.4l0.95 1.71h-1.9zM511.0 93.9l0.95 1.71h-1.9zM541.1 58.4l0.95 1.71h-1.9zM508.5 96.4l0.95 1.71h-1.9zM508.7 96.7l0.95 1.71h-1.9zM533.9 67.2l0.95 1.71h-1.9zM522.1 81.9l0.95 1.71h-1.9zM524.7 79.2l0.95 1.71h-1.9zM527.1 75.6l0.95 1.71h-1.9zM511.1 94.1l0.95 1.71h-1.9zM559.3 47.6l0.95 1.71h-1.9zM508.9 96.0l0.95 1.71h-1.9zM542.3 58.5l0.95 1.71h-1.9zM511.5 93.8l0.95 1.71h-1.9zM553.7 51.1l0.95 1.71h-1.9zM556.4 49.5l0.95 1.71h-1.9zM557.6 49.7l0.95 1.71h-1.9zM512.1 91.5l0.95 1.71h-1.9zM548.4 52.3l0.95 1.71h-1.9zM509.8 91.5l0.95 1.71h-1.9zM558.9 48.3l0.95 1.71h-1.9zM546.0 54.6l0.95 1.71h-1.9zM552.6 50.7l0.95 1.71h-1.9zM511.5 94.2l0.95 1.71h-1.9zM524.2 79.5l0.95 1.71h-1.9zM510.5 94.5l0.95 1.71h-1.9zM513.3 91.8l0.95 1.71h-1.9zM532.4 68.3l0.95 1.71h-1.9zM514.2 88.0l0.95 1.71h-1.9zM513.1 91.0l0.95 1.71h-1.9zM537.3 64.1l0.95 1.71h-1.9zM551.3 52.9l0.95 1.71h-1.9zM521.1 84.3l0.95 1.71h-1.9zM516.3 86.9l0.95 1.71h-1.9zM551.6 52.1l0.95 1.71h-1.9zM510.2 95.2l0.95 1.71h-1.9zM530.0 73.4l0.95 1.71h-1.9zM548.4 52.8l0.95 1.71h-1.9zM529.1 72.7l0.95 1.71h-1.9zM515.7 89.8l0.95 1.71h-1.9zM511.9 93.6l0.95 1.71h-1.9zM516.5 86.8l0.95 1.71h-1.9zM549.6 53.9l0.95 1.71h-1.9zM510.8 95.5l0.95 1.71h-1.9zM512.2 93.3l0.95 1.71h-1.9zM508.2 96.9l0.95 1.71h-1.9zM511.4 92.6l0.95 1.71h-1.9zM531.9 70.1l0.95 1.71h-1.9zM529.3 74.8l0.95 1.71h-1.9zM536.3 64.2l0.95 1.71h-1.9zM533.3 67.0l0.95 1.71h-1.9zM519.5 83.9l0.95 1.71h-1.9zM522.5 79.3l0.95 1.71h-1.9zM517.2 86.3l0.95 1.71h-1.9zM559.3 47.8l0.95 1.71h-1.9zM526.4 75.5l0.95 1.71h-1.9zM532.6 68.6l0.95 1.71h-1.9zM509.5 96.2l0.95 1.71h-1.9z" fill="none" stroke="#2ca14a" stroke-width="0.7"/>
<path d="M583.3 36.5l0.95 1.71h-1.9zM577.1 40.3l0.95 1.71h-1.9zM594.0 33.9l0.95 1.71h-1.9zM562.3 48.6l0.95 1.71h-1.9zM569.5 40.0l0.95 1.71h-1.9zM591.2 31.7l0.95 1.71h-1.9zM583.8 36.0l0.95 1.71h-1.9zM596.6 28.7l0.95 1.71h-1.9zM578.1 38.3l0.95 1.71h-1.9zM597.8 28.7l0.95 1.71h-1.9zM598.3 29.5l0.95 1.71h-1.9zM588.2 32.0l0.95 1.71h-1.9zM596.6 28.4l0.95 1.71h-1.9zM591.9 35.7l0.95 1.71h-1.9zM590.3 36.4l0.95 1.71h-1.9zM581.7 32.3l0.95 1.71h-1.9zM575.7 42.8l0.95 1.71h-1.9zM570.2 41.1l0.95 1.71h-1.9zM585.9 32.3l0.95 1.71h-1.9zM581.4 36.5l0.95 1.71h-1.9zM561.6 47.7l0.95 1.71h-1.9zM579.3 38.5l0.95 1.71h-1.9zM597.6 29.8l0.95 1.71h-1.9zM580.3 36.3l0.95 1.71h-1.9zM563.3 49.9l0.95 1.71h-1.9zM581.3 40.7l0.95 1.71h-1.9zM583.8 38.3l0.95 1.71h-1.9zM565.9 43.7l0.95 1.71h-1.9zM581.2 36.4l0.95 1.71h-1.9zM573.4 41.8l0.95 1.71h-1.9z" fill="none" stroke="#2ca14a" stroke-width="0.7"/>
<polyline points="508.6,97.9 511.0,94.7 513.3,91.6 515.6,88.6 518.0,85.9 520.3,83.4 522.6,81.1 524.9,78.9 527.3,76.7 529.6,74.3 531.9,71.6 534.2,68.4 536.6,65.3 538.9,62.3 541.2,59.7 543.5,57.8 545.9,56.1 548.2,54.7 550.5,53.3 552.8,52.1 555.2,50.9 557.5,49.8 559.8,48.6 562.1,47.4 564.5,46.2 566.8,45.0 569.1,43.9 571.5,42.7 573.8,41.6 576.1,40.5 578.4,39.5 580.8,38.5 583.1,37.5 585.4,36.6 587.7,35.7 590.1,34.8 592.4,33.9 594.7,33.1 597.0,32.3 599.4,31.5" fill="none" stroke="#2ca14a" stroke-width="0.8"/>
<path d="M529.1 80.3a0.95 0.95 0 1 0 1.9 0a0.95 0.95 0 1 0 -1.9 0M520.6 86.8a0.95 0.95 0 1 0 1.9 0a0.95 0.95 0 1 0 -1.9 0M519.9 89.3a0.95 0.95 0 1 0 1.9 0a0.95 0.95 0 1 0 -1.9 0M522.9 83.8a0.95 0.95 0 1 0 1.9 0a0.95 0.95 0 1 0 -1.9 0M544.1 61.0a0.95 0.95 0 1 0 1.9 0a0.95 0.95 0 1 0 -1.9 0M534.1 73.8a0.95 0.95 0 1 0 1.9 0a0.95 0.95 0 1 0 -1.9 0M528.6 81.8a0.95 0.95 0 1 0 1.9 0a0.95 0.95 0 1 0 -1.9 0M525.2 83.0a0.95 0.95 0 1 0 1.9 0a0.95 0.95 0 1 0 -1.9 0M520.9 87.1a0.95 0.95 0 1 0 1.9 0a0.95 0.95 0 1 0 -1.9 0M511.4 97.3a0.95 0.95 0 1 0 1.9 0a0.95 0.95 0 1 0 -1.9 0M527.6 82.8a0.95 0.95 0 1 0 1.9 0a0.95 0.95 0 1 0 -1.9 0M521.7 86.2a0.95 0.95 0 1 0 1.9 0a0.95 0.95 0 1 0 -1.9 0M545.6 61.8a0.95 0.95 0 1 0 1.9 0a0.95 0.95 0 1 0 -1.9 0M518.7 88.3a0.95 0.95 0 1 0 1.9 0a0.95 0.95 0 1 0 -1.9 0M514.4 94.5a0.95 0.95 0 1 0 1.9 0a0.95 0.95 0 1 0 -1.9 0M521.9 87.2a0.95 0.95 0 1 0 1.9 0a0.95 0.95 0 1 0 -1.9 0M517.7 90.7a0.95 0.95 0 1 0 1.9 0a0.95 0.95 0 1 0 -1.9 0M533.9 75.1a0.95 0.95 0 1 0 1.9 0a0.95 0.95 0 1 0 -1.9 0M514.1 93.7a0.95 0.95 0 1 0 1.9 0a0.95 0.95 0 1 0 -1.9 0M552.4 55.4a0.95 0.95 0 1 0 1.9 0a0.95 0.95 0 1 0 -1.9 0M546.3 60.6a0.95 0.95 0 1 0 1.9 0a0.95 0.95 0 1 0 -1.9 0M514.6 94.2a0.95 0.95 0 1 0 1.9 0a0.95 0.95 0 1 0 -1.9 0M521.3 86.1a0.95 0.95 0 1 0 1.9 0a0.95 0.95 0 1 0 -1.9 0M519.7 88.5a0.95 0.95 0 1 0 1.9 0a0.95 0.95 0 1 0 -1.9 0M510.5 98.0a0.95 0.95 0 1 0 1.9 0a0.95 0.95 0 1 0 -1.9 0M543.8 64.1a0.95 0.95 0 1 0 1.9 0a0.95 0.95 0 1 0 -1.9 0M548.9 58.7a0.95 0.95 0 1 0 1.9 0a0.95 0.95 0 1 0 -1.9 0M543.0 62.3a0.95 0.95 0 1 0 1.9 0a0.95 0.95 0 1 0 -1.9 0M550.5 56.9a0.95 0.95 0 1 0 1.9 0a0.95 0.95 0 1 0 -1.9 0M535.3 72.4a0.95 0.95 0 1 0 1.9 0a0.95 0.95 0 1 0 -1.9 0M541.1 66.9a0.95 0.95 0 1 0 1.9 0a0.95 0.95 0 1 0 -1.9 0M514.0 94.9a0.95 0.95 0 1 0 1.9 0a0.95 0.95 0 1 0 -1.9 0M521.1 85.9a0.95 0.95 0 1 0 1.9 0a0.95 0.95 0 1 0 -1.9 0M512.1 96.0a0.95 0.95 0 1 0 1.9 0a0.95 0.95 0 1 0 -1.9 0M533.1 72.8a0.95 0.95 0 1 0 1.9 0a0.95 0.95 0 1 0 -1.9 0M533.4 74.8a0.95 0.95 0 1 0 1.9 0a0.95 0.95 0 1 0 -1.9 0M511.9 97.3a0.95 0.95 0 1 0 1.9 0a0.95 0.95 0 1 0 -1.9 0M535.0 73.3a0.95 0.95 0 1 0 1.9 0a0.95 0.95 0 1 0 -1.9 0M548.9 59.9a0.95 0.95 0 1 0 1.9 0a0.95 0.95 0 1 0 -1.9 0M521.4 87.9a0.95 0.95 0 1 0 1.9 0a0.95 0.95 0 1 0 -1.9 0M510.5 99.7a0.95 0.95 0 1 0 1.9 0a0.95 0.95 0 1 0 -1.9 0M527.9 82.3a0.95 0.95 0 1 0 1.9 0a0.95 0.95 0 1 0 -1.9 0M521.1 85.4a0.95 0.95 0 1 0 1.9 0a0.95 0.95 0 1 0 -1.9 0M516.1 92.0a0.95 0.95 0 1 0 1.9 0a0.95 0.95 0 1 0 -1.9 0M544.1 63.7a0.95 0.95 0 1 0 1.9 0a0.95 0.95 0 1 0 -1.9 0M511.7 98.0a0.95 0.95 0 1 0 1.9 0a0.95 0.95 0 1 0 -1.9 0M524.5 84.7a0.95 0.95 0 1 0 1.9 0a0.95 0.95 0 1 0 -1.9 0M542.1 65.5a0.95 0.95 0 1 0 1.9 0a0.95 0.95 0 1 0 -1.9 0M550.2 55.9a0.95 0.95 0 1 0 1.9 0a0.95 0.95 0 1 0 -1.9 0M516.9 92.1a0.95 0.95 0 1 0 1.9 0a0.95 0.95 0 1 0 -1.9 0M515.2 91.6a0.95 0.95 0 1 0 1.9 0a0.95 0.95 0 1 0 -1.9 0M536.7 73.5a0.95 0.95 0 1 0 1.9 0a0.95 0.95 0 1 0 -1.9 0M530.9 78.8a0.95 0.95 0 1 0 1.9 0a0.95 0.95 0 1 0 -1.9 0M510.6 96.9a0.95 0.95 0 1 0 1.9 0a0.95 0.95 0 1 0 -1.9 0M534.5 75.6a0.95 0.95 0 1 0 1.9 0a0.95 0.95 0 1 0 -1.9 0M519.9 87.9a0.95 0.95 0 1 0 1.9 0a0.95 0.95 0 1 0 -1.9 0M527.8 81.1a0.95 0.95 0 1 0 1.9 0a0.95 0.95 0 1 0 -1.9 0M509.2 100.0a0.95 0.95 0 1 0 1.9 0a0.95 0.95 0 1 0 -1.9 0M517.6 90.7a0.95 0.95 0 1 0 1.9 0a0.95 0.95 0 1 0 -1.9 0M549.6 58.2a0.95 0.95 0 1 0 1.9 0a0.95 0.95 0 1 0 -1.9 0M550.0 59.7a0.95 0.95 0 1 0 1.9 0a0.95 0.95 0 1 0 -1.9 0M520.1 88.1a0.95 0.95 0 1 0 1.9 0a0.95 0.95 0 1 0 -1.9 0M536.3 72.3a0.95 0.95 0 1 0 1.9 0a0.95 0.95 0 1 0 -1.9 0M546.6 59.3a0.95 0.95 0 1 0 1.9 0a0.95 0.95 0 1 0 -1.9 0M532.3 75.6a0.95 0.95 0 1 0 1.9 0a0.95 0.95 0 1 0 -1.9 0M550.1 59.1a0.95 0.95 0 1 0 1.9 0a0.95 0.95 0 1 0 -1.9 0M520.3 86.9a0.95 0.95 0 1 0 1.9 0a0.95 0.95 0 1 0 -1.9 0M521.4 86.5a0.95 0.95 0 1 0 1.9 0a0.95 0.95 0 1 0 -1.9 0M513.7 95.0a0.95 0.95 0 1 0 1.9 0a0.95 0.95 0 1 0 -1.9 0M518.3 89.1a0.95 0.95 0 1 0 1.9 0a0.95 0.95 0 1 0 -1.9 0M548.3 57.0a0.95 0.95 0 1 0 1.9 0a0.95 0.95 0 1 0 -1.9 0M521.6 87.1a0.95 0.95 0 1 0 1.9 0a0.95 0.95 0 1 0 -1.9 0M511.0 100.1a0.95 0.95 0 1 0 1.9 0a0.95 0.95 0 1 0 -1.9 0M529.8 78.7a0.95 0.95 0 1 0 1.9 0a0.95 0.95 0 1 0 -1.9 0M537.9 70.0a0.95 0.95 0 1 0 1.9 0a0.95 0.95 0 1 0 -1.9 0M508.0 100.4a0.95 0.95 0 1 0 1.9 0a0.95 0.95 0 1 0 -1.9 0M544.4 64.6a0.95 0.95 0 1 0 1.9 0a0.95 0.95 0 1 0 -1.9 0M512.9 96.9a0.95 0.95 0 1 0 1.9 0a0.95 0.95 0 1 0 -1.9 0M520.2 87.7a0.95 0.95 0 1 0 1.9 0a0.95 0.95 0 1 0 -1.9 0M521.2 86.7a0.95 0.95 0 1 0 1.9 0a0.95 0.95 0 1 0 -1.9 0M519.7 86.0a0.95 0.95 0 1 0 1.9 0a0.95 0.95 0 1 0 -1.9 0M512.9 95.0a0.95 0.95 0 1 0 1.9 0a0.95 0.95 0 1 0 -1.9 0M530.0 78.9a0.95 0.95 0 1 0 1.9 0a0.95 0.95 0 1 0 -1.9 0M514.5 92.8a0.95 0.95 0 1 0 1.9 0a0.95 0.95 0 1 0 -1.9 0M523.7 84.2a0.95 0.95 0 1 0 1.9 0a0.95 0.95 0 1 0 -1.9 0M525.2 82.8a0.95 0.95 0 1 0 1.9 0a0.95 0.95 0 1 0 -1.9 0M531.7 77.6a0.95 0.95 0 1 0 1.9 0a0.95 0.95 0 1 0 -1.9 0M523.7 84.8a0.95 0.95 0 1 0 1.9 0a0.95 0.95 0 1 0 -1.9 0M516.8 90.8a0.95 0.95 0 1 0 1.9 0a0.95 0.95 0 1 0 -1.9 0M514.7 94.4a0.95 0.95 0 1 0 1.9 0a0.95 0.95 0 1 0 -1.9 0M511.4 98.1a0.95 0.95 0 1 0 1.9 0a0.95 0.95 0 1 0 -1.9 0M522.4 87.4a0.95 0.95 0 1 0 1.9 0a0.95 0.95 0 1 0 -1.9 0M526.8 82.2a0.95 0.95 0 1 0 1.9 0a0.95 0.95 0 1 0 -1.9 0M516.7 88.5a0.95 0.95 0 1 0 1.9 0a0.95 0.95 0 1 0 -1.9 0M516.9 92.6a0.95 0.95 0 1 0 1.9 0a0.95 0.95 0 1 0 -1.9 0M547.6 58.6a0.95 0.95 0 1 0 1.9 0a0.95 0.95 0 1 0 -1.9 0M550.7 56.5a0.95 0.95 0 1 0 1.9 0a0.95 0.95 0 1 0 -1.9 0M551.2 56.2a0.95 0.95 0 1 0 1.9 0a0.95 0.95 0 1 0 -1.9 0M542.9 63.4a0.95 0.95 0 1 0 1.9 0a0.95 0.95 0 1 0 -1.9 0M526.5 82.9a0.95 0.95 0 1 0 1.9 0a0.95 0.95 0 1 0 -1.9 0M529.8 80.5a0.95 0.95 0 1 0 1.9 0a0.95 0.95 0 1 0 -1.9 0M508.4 101.1a0.95 0.95 0 1 0 1.9 0a0.95 0.95 0 1 0 -1.9 0M526.3 83.6a0.95 0.95 0 1 0 1.9 0a0.95 0.95 0 1 0 -1.9 0M510.1 98.5a0.95 0.95 0 1 0 1.9 0a0.95 0.95 0 1 0 -1.9 0M524.9 83.3a0.95 0.95 0 1 0 1.9 0a0.95 0.95 0 1 0 -1.9 0M550.4 56.2a0.95 0.95 0 1 0 1.9 0a0.95 0.95 0 1 0 -1.9 0M523.4 84.9a0.95 0.95 0 1 0 1.9 0a0.95 0.95 0 1 0 -1.9 0M510.4 99.4a0.95 0.95 0 1 0 1.9 0a0.95 0.95 0 1 0 -1.9 0M539.2 69.7a0.95 0.95 0 1 0 1.9 0a0.95 0.95 0 1 0 -1.9 0M553.6 53.6a0.95 0.95 0 1 0 1.9 0a0.95 0.95 0 1 0 -1.9 0M520.4 87.6a0.95 0.95 0 1 0 1.9 0a0.95 0.95 0 1 0 -1.9 0M523.7 83.3a0.95 0.95 0 1 0 1.9 0a0.95 0.95 0 1 0 -1.9 0M517.5 91.1a0.95 0.95 0 1 0 1.9 0a0.95 0.95 0 1 0 -1.9 0M524.5 84.6a0.95 0.95 0 1 0 1.9 0a0.95 0.95 0 1 0 -1.9 0M545.9 62.7a0.95 0.95 0 1 0 1.9 0a0.95 0.95 0 1 0 -1.9 0M518.4 88.8a0.95 0.95 0 1 0 1.9 0a0.95 0.95 0 1 0 -1.9 0M513.0 96.1a0.95 0.95 0 1 0 1.9 0a0.95 0.95 0 1 0 -1.9 0M534.6 72.6a0.95 0.95 0 1 0 1.9 0a0.95 0.95 0 1 0 -1.9 0M552.8 56.3a0.95 0.95 0 1 0 1.9 0a0.95 0.95 0 1 0 -1.9 0M546.8 62.5a0.95 0.95 0 1 0 1.9 0a0.95 0.95 0 1 0 -1.9 0M515.1 92.5a0.95 0.95 0 1 0 1.9 0a0.95 0.95 0 1 0 -1.9 0M513.4 95.5a0.95 0.95 0 1 0 1.9 0a0.95 0.95 0 1 0 -1.9 0M548.0 56.8a0.95 0.95 0 1 0 1.9 0a0.95 0.95 0 1 0 -1.9 0M543.0 61.7a0.95 0.95 0 1 0 1.9 0a0.95 0.95 0 1 0 -1.9 0M511.3 97.5a0.95 0.95 0 1 0 1.9 0a0.95 0.95 0 1 0 -1.9 0M547.2 59.4a0.95 0.95 0 1 0 1.9 0a0.95 0.95 0 1 0 -1.9 0M553.7 54.3a0.95 0.95 0 1 0 1.9 0a0.95 0.95 0 1 0 -1.9 0M550.2 57.2a0.95 0.95 0 1 0 1.9 0a0.95 0.95 0 1 0 -1.9 0M522.4 84.5a0.95 0.95 0 1 0 1.9 0a0.95 0.95 0 1 0 -1.9 0M539.8 67.7a0.95 0.95 0 1 0 1.9 0a0.95 0.95 0 1 0 -1.9 0M516.3 90.4a0.95 0.95 0 1 0 1.9 0a0.95 0.95 0 1 0 -1.9 0M515.3 93.5a0.95 0.95 0 1 0 1.9 0a0.95 0.95 0 1 0 -1.9 0M524.7 84.4a0.95 0.95 0 1 0 1.9 0a0.95 0.95 0 1 0 -1.9 0M522.7 84.6a0.95 0.95 0 1 0 1.9 0a0.95 0.95 0 1 0 -1.9 0M520.3 86.6a0.95 0.95 0 1 0 1.9 0a0.95 0.95 0 1 0 -1.9 0M519.3 87.6a0.95 0.95 0 1 0 1.9 0a0.95 0.95 0 1 0 -1.9 0M542.9 63.2a0.95 0.95 0 1 0 1.9 0a0.95 0.95 0 1 0 -1.9 0M518.9 87.8a0.95 0.95 0 1 0 1.9 0a0.95 0.95 0 1 0 -1.9 0M541.3 67.0a0.95 0.95 0 1 0 1.9 0a0.95 0.95 0 1 0 -1.9 0M515.3 93.8a0.95 0.95 0 1 0 1.9 0a0.95 0.95 0 1 0 -1.9 0M517.1 91.0a0.95 0.95 0 1 0 1.9 0a0.95 0.95 0 1 0 -1.9 0M509.9 99.9a0.95 0.95 0 1 0 1.9 0a0.95 0.95 0 1 0 -1.9 0M523.0 83.9a0.95 0.95 0 1 0 1.9 0a0.95 0.95 0 1 0 -1.9 0M531.4 78.6a0.95 0.95 0 1 0 1.9 0a0.95 0.95 0 1 0 -1.9 0M541.1 66.2a0.95 0.95 0 1 0 1.9 0a0.95 0.95 0 1 0 -1.9 0M540.1 66.9a0.95 0.95 0 1 0 1.9 0a0.95 0.95 0 1 0 -1.9 0M546.2 59.7a0.95 0.95 0 1 0 1.9 0a0.95 0.95 0 1 0 -1.9 0M552.0 55.4a0.95 0.95 0 1 0 1.9 0a0.95 0.95 0 1 0 -1.9 0M526.2 81.9a0.95 0.95 0 1 0 1.9 0a0.95 0.95 0 1 0 -1.9 0M531.3 78.7a0.95 0.95 0 1 0 1.9 0a0.95 0.95 0 1 0 -1.9 0M534.6 72.2a0.95 0.95 0 1 0 1.9 0a0.95 0.95 0 1 0 -1.9 0M529.7 77.3a0.95 0.95 0 1 0 1.9 0a0.95 0.95 0 1 0 -1.9 0M540.9 65.6a0.95 0.95 0 1 0 1.9 0a0.95 0.95 0 1 0 -1.9 0M509.7 98.9a0.95 0.95 0 1 0 1.9 0a0.95 0.95 0 1 0 -1.9 0M509.9 100.0a0.95 0.95 0 1 0 1.9 0a0.95 0.95 0 1 0 -1.9 0M546.1 60.3a0.95 0.95 0 1 0 1.9 0a0.95 0.95 0 1 0 -1.9 0M521.2 85.7a0.95 0.95 0 1 0 1.9 0a0.95 0.95 0 1 0 -1.9 0M542.3 66.4a0.95 0.95 0 1 0 1.9 0a0.95 0.95 0 1 0 -1.9 0M532.4 77.1a0.95 0.95 0 1 0 1.9 0a0.95 0.95 0 1 0 -1.9 0M542.1 65.9a0.95 0.95 0 1 0 1.9 0a0.95 0.95 0 1 0 -1.9 0M549.7 56.3a0.95 0.95 0 1 0 1.9 0a0.95 0.95 0 1 0 -1.9 0M510.5 99.6a0.95 0.95 0 1 0 1.9 0a0.95 0.95 0 1 0 -1.9 0M519.4 89.4a0.95 0.95 0 1 0 1.9 0a0.95 0.95 0 1 0 -1.9 0M513.4 97.7a0.95 0.95 0 1 0 1.9 0a0.95 0.95 0 1 0 -1.9 0M519.2 87.3a0.95 0.95 0 1 0 1.9 0a0.95 0.95 0 1 0 -1.9 0M523.1 86.3a0.95 0.95 0 1 0 1.9 0a0.95 0.95 0 1 0 -1.9 0M515.0 93.6a0.95 0.95 0 1 0 1.9 0a0.95 0.95 0 1 0 -1.9 0M550.8 55.7a0.95 0.95 0 1 0 1.9 0a0.95 0.95 0 1 0 -1.9 0M551.8 55.9a0.95 0.95 0 1 0 1.9 0a0.95 0.95 0 1 0 -1.9 0M530.9 77.2a0.95 0.95 0 1 0 1.9 0a0.95 0.95 0 1 0 -1.9 0M539.0 68.3a0.95 0.95 0 1 0 1.9 0a0.95 0.95 0 1 0 -1.9 0M513.5 95.5a0.95 0.95 0 1 0 1.9 0a0.95 0.95 0 1 0 -1.9 0M531.1 76.7a0.95 0.95 0 1 0 1.9 0a0.95 0.95 0 1 0 -1.9 0M515.5 93.3a0.95 0.95 0 1 0 1.9 0a0.95 0.95 0 1 0 -1.9 0M519.9 89.5a0.95 0.95 0 1 0 1.9 0a0.95 0.95 0 1 0 -1.9 0M512.2 96.0a0.95 0.95 0 1 0 1.9 0a0.95 0.95 0 1 0 -1.9 0M539.5 67.7a0.95 0.95 0 1 0 1.9 0a0.95 0.95 0 1 0 -1.9 0M522.1 87.0a0.95 0.95 0 1 0 1.9 0a0.95 0.95 0 1 0 -1.9 0M529.0 81.1a0.95 0.95 0 1 0 1.9 0a0.95 0.95 0 1 0 -1.9 0M524.6 85.8a0.95 0.95 0 1 0 1.9 0a0.95 0.95 0 1 0 -1.9 0M520.0 87.1a0.95 0.95 0 1 0 1.9 0a0.95 0.95 0 1 0 -1.9 0M538.8 70.5a0.95 0.95 0 1 0 1.9 0a0.95 0.95 0 1 0 -1.9 0M526.3 82.9a0.95 0.95 0 1 0 1.9 0a0.95 0.95 0 1 0 -1.9 0M511.2 99.9a0.95 0.95 0 1 0 1.9 0a0.95 0.95 0 1 0 -1.9 0M550.7 57.1a0.95 0.95 0 1 0 1.9 0a0.95 0.95 0 1 0 -1.9 0M530.3 80.1a0.95 0.95 0 1 0 1.9 0a0.95 0.95 0 1 0 -1.9 0M553.0 54.7a0.95 0.95 0 1 0 1.9 0a0.95 0.95 0 1 0 -1.9 0M512.0 98.4a0.95 0.95 0 1 0 1.9 0a0.95 0.95 0 1 0 -1.9 0M510.3 99.6a0.95 0.95 0 1 0 1.9 0a0.95 0.95 0 1 0 -1.9 0M528.0 80.4a0.95 0.95 0 1 0 1.9 0a0.95 0.95 0 1 0 -1.9 0M519.4 88.6a0.95 0.95 0 1 0 1.9 0a0.95 0.95 0 1 0 -1.9 0M511.1 98.5a0.95 0.95 0 1 0 1.9 0a0.95 0.95 0 1 0 -1.9 0M519.4 89.0a0.95 0.95 0 1 0 1.9 0a0.95 0.95 0 1 0 -1.9 0M515.4 91.3a0.95 0.95 0 1 0 1.9 0a0.95 0.95 0 1 0 -1.9 0M513.3 96.3a0.95 0.95 0 1 0 1.9 0a0.95 0.95 0 1 0 -1.9 0M522.1 85.8a0.95 0.95 0 1 0 1.9 0a0.95 0.95 0 1 0 -1.9 0M543.4 63.5a0.95 0.95 0 1 0 1.9 0a0.95 0.95 0 1 0 -1.9 0M542.9 66.5a0.95 0.95 0 1 0 1.9 0a0.95 0.95 0 1 0 -1.9 0M531.6 77.2a0.95 0.95 0 1 0 1.9 0a0.95 0.95 0 1 0 -1.9 0M519.9 87.5a0.95 0.95 0 1 0 1.9 0a0.95 0.95 0 1 0 -1.9 0" fill="none" stroke="#5b2c91" stroke-width="0.7"/>
<path d="M566.4 42.3a0.95 0.95 0 1 0 1.9 0a0.95 0.95 0 1 0 -1.9 0M550.6 55.5a0.95 0.95 0 1 0 1.9 0a0.95 0.95 0 1 0 -1.9 0M565.4 44.8a0.95 0.95 0 1 0 1.9 0a0.95 0.95 0 1 0 -1.9 0M555.2 53.3a0.95 0.95 0 1 0 1.9 0a0.95 0.95 0 1 0 -1.9 0M544.2 63.0a0.95 0.95 0 1 0 1.9 0a0.95 0.95 0 1 0 -1.9 0M569.2 44.9a0.95 0.95 0 1 0 1.9 0a0.95 0.95 0 1 0 -1.9 0M563.8 48.4a0.95 0.95 0 1 0 1.9 0a0.95 0.95 0 1 0 -1.9 0M560.8 51.0a0.95 0.95 0 1 0 1.9 0a0.95 0.95 0 1 0 -1.9 0M550.3 55.1a0.95 0.95 0 1 0 1.9 0a0.95 0.95 0 1 0 -1.9 0M557.7 48.0a0.95 0.95 0 1 0 1.9 0a0.95 0.95 0 1 0 -1.9 0M574.3 43.2a0.95 0.95 0 1 0 1.9 0a0.95 0.95 0 1 0 -1.9 0M569.1 43.5a0.95 0.95 0 1 0 1.9 0a0.95 0.95 0 1 0 -1.9 0M552.3 54.7a0.95 0.95 0 1 0 1.9 0a0.95 0.95 0 1 0 -1.9 0M566.6 47.2a0.95 0.95 0 1 0 1.9 0a0.95 0.95 0 1 0 -1.9 0M557.8 50.8a0.95 0.95 0 1 0 1.9 0a0.95 0.95 0 1 0 -1.9 0M548.4 59.7a0.95 0.95 0 1 0 1.9 0a0.95 0.95 0 1 0 -1.9 0M570.6 44.7a0.95 0.95 0 1 0 1.9 0a0.95 0.95 0 1 0 -1.9 0M578.2 40.5a0.95 0.95 0 1 0 1.9 0a0.95 0.95 0 1 0 -1.9 0M558.4 51.9a0.95 0.95 0 1 0 1.9 0a0.95 0.95 0 1 0 -1.9 0M545.8 61.1a0.95 0.95 0 1 0 1.9 0a0.95 0.95 0 1 0 -1.9 0M555.8 49.2a0.95 0.95 0 1 0 1.9 0a0.95 0.95 0 1 0 -1.9 0M576.0 40.8a0.95 0.95 0 1 0 1.9 0a0.95 0.95 0 1 0 -1.9 0M550.1 52.9a0.95 0.95 0 1 0 1.9 0a0.95 0.95 0 1 0 -1.9 0M556.6 50.8a0.95 0.95 0 1 0 1.9 0a0.95 0.95 0 1 0 -1.9 0M553.3 59.5a0.95 0.95 0 1 0 1.9 0a0.95 0.95 0 1 0 -1.9 0M566.1 52.1a0.95 0.95 0 1 0 1.9 0a0.95 0.95 0 1 0 -1.9 0M560.3 46.9a0.95 0.95 0 1 0 1.9 0a0.95 0.95 0 1 0 -1.9 0M573.0 42.9a0.95 0.95 0 1 0 1.9 0a0.95 0.95 0 1 0 -1.9 0M549.2 56.5a0.95 0.95 0 1 0 1.9 0a0.95 0.95 0 1 0 -1.9 0M554.6 53.5a0.95 0.95 0 1 0 1.9 0a0.95 0.95 0 1 0 -1.9 0M545.4 62.5a0.95 0.95 0 1 0 1.9 0a0.95 0.95 0 1 0 -1.9 0M543.2 63.9a0.95 0.95 0 1 0 1.9 0a0.95 0.95 0 1 0 -1.9 0M545.4 62.0a0.95 0.95 0 1 0 1.9 0a0.95 0.95 0 1 0 -1.9 0M575.5 40.4a0.95 0.95 0 1 0 1.9 0a0.95 0.95 0 1 0 -1.9 0M554.5 55.4a0.95 0.95 0 1 0 1.9 0a0.95 0.95 0 1 0 -1.9 0" fill="none" stroke="#5b2c91" stroke-width="0.7"/>
<polyline points="509.9,100.8 511.7,98.5 513.5,96.3 515.3,94.2 517.1,92.1 518.9,90.2 520.6,88.3 522.4,86.5 524.2,84.9 526.0,83.3 527.8,81.7 529.6,80.1 531.4,78.4 533.2,76.6 534.9,74.7 536.7,72.8 538.5,70.8 540.3,68.7 542.1,66.6 543.9,64.6 545.7,62.6 547.5,60.7 549.2,59.1 551.0,57.5 552.8,56.1 554.6,54.7 556.4,53.3 558.2,52.0 560.0,50.8 561.8,49.6 563.5,48.5 565.3,47.4 567.1,46.4 568.9,45.4 570.7,44.5 572.5,43.6 574.3,42.8 576.1,42.1 577.8,41.4 579.6,40.7" fill="none" stroke="#5b2c91" stroke-width="0.8"/></g>
<g clip-path="url(#cd)"><path d="M86.6 192.1l0.95 0.95 -0.95 0.95 -0.95 -0.95zM116.9 176.5l0.95 0.95 -0.95 0.95 -0.95 -0.95zM89.9 188.4l0.95 0.95 -0.95 0.95 -0.95 -0.95zM82.1 200.6l0.95 0.95 -0.95 0.95 -0.95 -0.95zM93.1 191.3l0.95 0.95 -0.95 0.95 -0.95 -0.95zM128.5 170.3l0.95 0.95 -0.95 0.95 -0.95 -0.95zM107.0 185.1l0.95 0.95 -0.95 0.95 -0.95 -0.95zM114.3 179.7l0.95 0.95 -0.95 0.95 -0.95 -0.95zM106.2 190.6l0.95 0.95 -0.95 0.95 -0.95 -0.95zM60.1 221.3l0.95 0.95 -0.95 0.95 -0.95 -0.95zM85.6 186.4l0.95 0.95 -0.95 0.95 -0.95 -0.95zM72.6 202.5l0.95 0.95 -0.95 0.95 -0.95 -0.95zM73.6 196.6l0.95 0.95 -0.95 0.95 -0.95 -0.95zM51.6 230.3l0.95 0.95 -0.95 0.95 -0.95 -0.95zM78.5 203.1l0.95 0.95 -0.95 0.95 -0.95 -0.95zM123.6 178.2l0.95 0.95 -0.95 0.95 -0.95 -0.95zM72.1 194.2l0.95 0.95 -0.95 0.95 -0.95 -0.95zM53.3 220.8l0.95 0.95 -0.95 0.95 -0.95 -0.95zM50.6 229.3l0.95 0.95 -0.95 0.95 -0.95 -0.95zM122.7 177.4l0.95 0.95 -0.95 0.95 -0.95 -0.95zM117.3 176.0l0.95 0.95 -0.95 0.95 -0.95 -0.95zM135.9 176.8l0.95 0.95 -0.95 0.95 -0.95 -0.95zM100.8 183.6l0.95 0.95 -0.95 0.95 -0.95 -0.95zM109.3 191.6l0.95 0.95 -0.95 0.95 -0.95 -0.95zM102.9 183.4l0.95 0.95 -0.95 0.95 -0.95 -0.95zM126.9 177.1l0.95 0.95 -0.95 0.95 -0.95 -0.95zM85.9 194.5l0.95 0.95 -0.95 0.95 -0.95 -0.95zM113.9 184.7l0.95 0.95 -0.95 0.95 -0.95 -0.95zM76.3 203.6l0.95 0.95 -0.95 0.95 -0.95 -0.95zM48.2 234.2l0.95 0.95 -0.95 0.95 -0.95 -0.95zM105.3 186.0l0.95 0.95 -0.95 0.95 -0.95 -0.95zM87.5 191.2l0.95 0.95 -0.95 0.95 -0.95 -0.95zM110.0 181.0l0.95 0.95 -0.95 0.95 -0.95 -0.95zM133.1 176.9l0.95 0.95 -0.95 0.95 -0.95 -0.95zM134.4 169.1l0.95 0.95 -0.95 0.95 -0.95 -0.95zM55.8 221.7l0.95 0.95 -0.95 0.95 -0.95 -0.95zM71.1 213.7l0.95 0.95 -0.95 0.95 -0.95 -0.95zM72.0 208.4l0.95 0.95 -0.95 0.95 -0.95 -0.95zM76.3 192.7l0.95 0.95 -0.95 0.95 -0.95 -0.95zM106.0 178.5l0.95 0.95 -0.95 0.95 -0.95 -0.95zM69.1 205.4l0.95 0.95 -0.95 0.95 -0.95 -0.95zM60.9 213.8l0.95 0.95 -0.95 0.95 -0.95 -0.95zM56.2 225.1l0.95 0.95 -0.95 0.95 -0.95 -0.95zM56.1 215.0l0.95 0.95 -0.95 0.95 -0.95 -0.95zM66.4 206.1l0.95 0.95 -0.95 0.95 -0.95 -0.95zM132.7 170.0l0.95 0.95 -0.95 0.95 -0.95 -0.95zM59.9 222.7l0.95 0.95 -0.95 0.95 -0.95 -0.95zM93.1 184.9l0.95 0.95 -0.95 0.95 -0.95 -0.95zM49.7 228.0l0.95 0.95 -0.95 0.95 -0.95 -0.95zM107.1 188.6l0.95 0.95 -0.95 0.95 -0.95 -0.95zM77.6 200.2l0.95 0.95 -0.95 0.95 -0.95 -0.95zM102.3 184.4l0.95 0.95 -0.95 0.95 -0.95 -0.95zM87.6 189.7l0.95 0.95 -0.95 0.95 -0.95 -0.95zM57.1 217.4l0.95 0.95 -0.95 0.95 -0.95 -0.95zM68.3 206.3l0.95 0.95 -0.95 0.95 -0.95 -0.95zM63.1 209.7l0.95 0.95 -0.95 0.95 -0.95 -0.95zM61.4 216.2l0.95 0.95 -0.95 0.95 -0.95 -0.95zM130.4 176.2l0.95 0.95 -0.95 0.95 -0.95 -0.95zM136.4 173.0l0.95 0.95 -0.95 0.95 -0.95 -0.95zM106.0 191.3l0.95 0.95 -0.95 0.95 -0.95 -0.95zM104.6 185.6l0.95 0.95 -0.95 0.95 -0.95 -0.95zM88.3 196.6l0.95 0.95 -0.95 0.95 -0.95 -0.95zM56.1 211.8l0.95 0.95 -0.95 0.95 -0.95 -0.95zM85.2 195.6l0.95 0.95 -0.95 0.95 -0.95 -0.95zM75.1 199.3l0.95 0.95 -0.95 0.95 -0.95 -0.95zM49.4 229.5l0.95 0.95 -0.95 0.95 -0.95 -0.95zM137.0 165.4l0.95 0.95 -0.95 0.95 -0.95 -0.95zM74.9 204.1l0.95 0.95 -0.95 0.95 -0.95 -0.95zM123.5 177.1l0.95 0.95 -0.95 0.95 -0.95 -0.95zM85.3 194.2l0.95 0.95 -0.95 0.95 -0.95 -0.95zM57.8 217.5l0.95 0.95 -0.95 0.95 -0.95 -0.95zM87.8 194.2l0.95 0.95 -0.95 0.95 -0.95 -0.95zM47.8 224.5l0.95 0.95 -0.95 0.95 -0.95 -0.95zM75.8 200.4l0.95 0.95 -0.95 0.95 -0.95 -0.95zM127.2 178.6l0.95 0.95 -0.95 0.95 -0.95 -0.95zM66.7 206.1l0.95 0.95 -0.95 0.95 -0.95 -0.95zM67.3 207.6l0.95 0.95 -0.95 0.95 -0.95 -0.95zM90.4 194.4l0.95 0.95 -0.95 0.95 -0.95 -0.95zM88.1 197.7l0.95 0.95 -0.95 0.95 -0.95 -0.95zM53.0 223.7l0.95 0.95 -0.95 0.95 -0.95 -0.95zM137.5 168.6l0.95 0.95 -0.95 0.95 -0.95 -0.95zM127.5 173.6l0.95 0.95 -0.95 0.95 -0.95 -0.95zM49.0 229.7l0.95 0.95 -0.95 0.95 -0.95 -0.95zM110.3 179.9l0.95 0.95 -0.95 0.95 -0.95 -0.95zM126.1 177.4l0.95 0.95 -0.95 0.95 -0.95 -0.95zM120.0 177.7l0.95 0.95 -0.95 0.95 -0.95 -0.95zM133.3 171.0l0.95 0.95 -0.95 0.95 -0.95 -0.95zM61.9 219.5l0.95 0.95 -0.95 0.95 -0.95 -0.95zM125.4 183.7l0.95 0.95 -0.95 0.95 -0.95 -0.95zM49.6 224.3l0.95 0.95 -0.95 0.95 -0.95 -0.95zM101.8 187.8l0.95 0.95 -0.95 0.95 -0.95 -0.95zM118.3 175.9l0.95 0.95 -0.95 0.95 -0.95 -0.95zM64.9 209.5l0.95 0.95 -0.95 0.95 -0.95 -0.95zM67.9 214.5l0.95 0.95 -0.95 0.95 -0.95 -0.95zM83.7 189.5l0.95 0.95 -0.95 0.95 -0.95 -0.95zM78.2 204.1l0.95 0.95 -0.95 0.95 -0.95 -0.95zM72.4 199.6l0.95 0.95 -0.95 0.95 -0.95 -0.95zM58.3 223.2l0.95 0.95 -0.95 0.95 -0.95 -0.95zM52.6 222.5l0.95 0.95 -0.95 0.95 -0.95 -0.95zM82.6 194.2l0.95 0.95 -0.95 0.95 -0.95 -0.95zM58.4 219.4l0.95 0.95 -0.95 0.95 -0.95 -0.95zM94.5 189.0l0.95 0.95 -0.95 0.95 -0.95 -0.95zM103.8 186.0l0.95 0.95 -0.95 0.95 -0.95 -0.95zM96.2 194.3l0.95 0.95 -0.95 0.95 -0.95 -0.95zM65.6 208.6l0.95 0.95 -0.95 0.95 -0.95 -0.95zM140.2 167.2l0.95 0.95 -0.95 0.95 -0.95 -0.95zM113.7 180.7l0.95 0.95 -0.95 0.95 -0.95 -0.95zM49.3 228.0l0.95 0.95 -0.95 0.95 -0.95 -0.95zM120.0 175.4l0.95 0.95 -0.95 0.95 -0.95 -0.95zM139.0 172.3l0.95 0.95 -0.95 0.95 -0.95 -0.95zM66.2 209.4l0.95 0.95 -0.95 0.95 -0.95 -0.95zM94.0 191.4l0.95 0.95 -0.95 0.95 -0.95 -0.95zM123.9 181.1l0.95 0.95 -0.95 0.95 -0.95 -0.95zM66.2 208.9l0.95 0.95 -0.95 0.95 -0.95 -0.95zM110.8 185.6l0.95 0.95 -0.95 0.95 -0.95 -0.95zM122.5 175.9l0.95 0.95 -0.95 0.95 -0.95 -0.95zM64.5 214.1l0.95 0.95 -0.95 0.95 -0.95 -0.95zM75.8 201.6l0.95 0.95 -0.95 0.95 -0.95 -0.95zM102.2 184.3l0.95 0.95 -0.95 0.95 -0.95 -0.95zM122.4 175.9l0.95 0.95 -0.95 0.95 -0.95 -0.95zM48.7 232.1l0.95 0.95 -0.95 0.95 -0.95 -0.95zM99.4 183.7l0.95 0.95 -0.95 0.95 -0.95 -0.95zM93.3 194.2l0.95 0.95 -0.95 0.95 -0.95 -0.95zM102.9 190.7l0.95 0.95 -0.95 0.95 -0.95 -0.95zM69.5 204.9l0.95 0.95 -0.95 0.95 -0.95 -0.95zM92.5 188.6l0.95 0.95 -0.95 0.95 -0.95 -0.95zM131.3 177.7l0.95 0.95 -0.95 0.95 -0.95 -0.95zM132.0 176.6l0.95 0.95 -0.95 0.95 -0.95 -0.95zM87.1 196.6l0.95 0.95 -0.95 0.95 -0.95 -0.95zM92.1 191.2l0.95 0.95 -0.95 0.95 -0.95 -0.95zM85.0 202.4l0.95 0.95 -0.95 0.95 -0.95 -0.95zM58.3 218.7l0.95 0.95 -0.95 0.95 -0.95 -0.95zM110.3 181.8l0.95 0.95 -0.95 0.95 -0.95 -0.95zM138.0 174.7l0.95 0.95 -0.95 0.95 -0.95 -0.95zM93.9 192.0l0.95 0.95 -0.95 0.95 -0.95 -0.95zM108.6 178.7l0.95 0.95 -0.95 0.95 -0.95 -0.95zM123.5 180.4l0.95 0.95 -0.95 0.95 -0.95 -0.95zM131.7 172.4l0.95 0.95 -0.95 0.95 -0.95 -0.95zM82.3 199.8l0.95 0.95 -0.95 0.95 -0.95 -0.95zM74.4 206.5l0.95 0.95 -0.95 0.95 -0.95 -0.95zM83.6 196.2l0.95 0.95 -0.95 0.95 -0.95 -0.95zM63.4 221.0l0.95 0.95 -0.95 0.95 -0.95 -0.95zM93.3 185.6l0.95 0.95 -0.95 0.95 -0.95 -0.95zM80.8 194.1l0.95 0.95 -0.95 0.95 -0.95 -0.95zM58.3 221.3l0.95 0.95 -0.95 0.95 -0.95 -0.95zM67.4 214.5l0.95 0.95 -0.95 0.95 -0.95 -0.95zM93.0 193.2l0.95 0.95 -0.95 0.95 -0.95 -0.95zM137.3 175.9l0.95 0.95 -0.95 0.95 -0.95 -0.95zM137.7 170.3l0.95 0.95 -0.95 0.95 -0.95 -0.95zM134.0 173.7l0.95 0.95 -0.95 0.95 -0.95 -0.95zM93.0 192.5l0.95 0.95 -0.95 0.95 -0.95 -0.95zM51.4 226.0l0.95 0.95 -0.95 0.95 -0.95 -0.95zM78.4 195.6l0.95 0.95 -0.95 0.95 -0.95 -0.95zM52.3 221.9l0.95 0.95 -0.95 0.95 -0.95 -0.95zM116.3 173.1l0.95 0.95 -0.95 0.95 -0.95 -0.95zM81.7 193.4l0.95 0.95 -0.95 0.95 -0.95 -0.95zM53.5 223.9l0.95 0.95 -0.95 0.95 -0.95 -0.95zM101.6 185.8l0.95 0.95 -0.95 0.95 -0.95 -0.95zM92.4 194.2l0.95 0.95 -0.95 0.95 -0.95 -0.95zM132.0 176.4l0.95 0.95 -0.95 0.95 -0.95 -0.95zM47.6 231.3l0.95 0.95 -0.95 0.95 -0.95 -0.95zM105.4 177.6l0.95 0.95 -0.95 0.95 -0.95 -0.95zM99.9 192.0l0.95 0.95 -0.95 0.95 -0.95 -0.95zM94.9 194.4l0.95 0.95 -0.95 0.95 -0.95 -0.95zM111.8 180.8l0.95 0.95 -0.95 0.95 -0.95 -0.95zM71.5 203.6l0.95 0.95 -0.95 0.95 -0.95 -0.95zM113.6 181.2l0.95 0.95 -0.95 0.95 -0.95 -0.95zM109.7 185.4l0.95 0.95 -0.95 0.95 -0.95 -0.95zM71.4 205.9l0.95 0.95 -0.95 0.95 -0.95 -0.95zM48.2 227.4l0.95 0.95 -0.95 0.95 -0.95 -0.95zM49.1 230.4l0.95 0.95 -0.95 0.95 -0.95 -0.95zM134.2 173.7l0.95 0.95 -0.95 0.95 -0.95 -0.95zM115.3 179.7l0.95 0.95 -0.95 0.95 -0.95 -0.95zM78.8 195.9l0.95 0.95 -0.95 0.95 -0.95 -0.95zM61.7 221.5l0.95 0.95 -0.95 0.95 -0.95 -0.95zM116.5 182.0l0.95 0.95 -0.95 0.95 -0.95 -0.95zM51.2 225.8l0.95 0.95 -0.95 0.95 -0.95 -0.95zM99.3 186.4l0.95 0.95 -0.95 0.95 -0.95 -0.95zM73.7 202.2l0.95 0.95 -0.95 0.95 -0.95 -0.95zM61.4 213.0l0.95 0.95 -0.95 0.95 -0.95 -0.95z" fill="none" stroke="#2f4f9f" stroke-width="0.7"/>
<path d="M134.5 158.5l0.95 0.95 -0.95 0.95 -0.95 -0.95zM144.8 155.9l0.95 0.95 -0.95 0.95 -0.95 -0.95zM129.2 156.9l0.95 0.95 -0.95 0.95 -0.95 -0.95zM132.3 156.9l0.95 0.95 -0.95 0.95 -0.95 -0.95zM123.0 156.8l0.95 0.95 -0.95 0.95 -0.95 -0.95zM151.8 155.8l0.95 0.95 -0.95 0.95 -0.95 -0.95zM123.9 158.1l0.95 0.95 -0.95 0.95 -0.95 -0.95zM135.6 156.7l0.95 0.95 -0.95 0.95 -0.95 -0.95zM145.3 156.9l0.95 0.95 -0.95 0.95 -0.95 -0.95zM147.6 158.2l0.95 0.95 -0.95 0.95 -0.95 -0.95zM127.5 156.7l0.95 0.95 -0.95 0.95 -0.95 -0.95zM151.9 157.7l0.95 0.95 -0.95 0.95 -0.95 -0.95zM139.7 157.1l0.95 0.95 -0.95 0.95 -0.95 -0.95zM145.1 157.1l0.95 0.95 -0.95 0.95 -0.95 -0.95z" fill="none" stroke="#2f4f9f" stroke-width="0.7"/>
<path d="M192.6 152.3l0.95 0.95 -0.95 0.95 -0.95 -0.95zM197.2 157.6l0.95 0.95 -0.95 0.95 -0.95 -0.95zM201.2 156.3l0.95 0.95 -0.95 0.95 -0.95 -0.95zM201.4 155.8l0.95 0.95 -0.95 0.95 -0.95 -0.95zM201.4 154.8l0.95 0.95 -0.95 0.95 -0.95 -0.95zM179.7 154.9l0.95 0.95 -0.95 0.95 -0.95 -0.95zM189.4 157.3l0.95 0.95 -0.95 0.95 -0.95 -0.95zM168.3 163.4l0.95 0.95 -0.95 0.95 -0.95 -0.95zM177.7 159.8l0.95 0.95 -0.95 0.95 -0.95 -0.95zM203.9 151.0l0.95 0.95 -0.95 0.95 -0.95 -0.95zM205.1 153.0l0.95 0.95 -0.95 0.95 -0.95 -0.95zM174.1 158.4l0.95 0.95 -0.95 0.95 -0.95 -0.95zM180.2 157.4l0.95 0.95 -0.95 0.95 -0.95 -0.95zM178.0 157.8l0.95 0.95 -0.95 0.95 -0.95 -0.95zM186.2 153.3l0.95 0.95 -0.95 0.95 -0.95 -0.95zM190.8 154.7l0.95 0.95 -0.95 0.95 -0.95 -0.95zM188.2 155.8l0.95 0.95 -0.95 0.95 -0.95 -0.95zM177.8 157.4l0.95 0.95 -0.95 0.95 -0.95 -0.95zM197.7 158.5l0.95 0.95 -0.95 0.95 -0.95 -0.95zM162.9 155.3l0.95 0.95 -0.95 0.95 -0.95 -0.95zM177.2 150.7l0.95 0.95 -0.95 0.95 -0.95 -0.95zM199.1 155.4l0.95 0.95 -0.95 0.95 -0.95 -0.95zM187.9 153.0l0.95 0.95 -0.95 0.95 -0.95 -0.95zM196.0 153.2l0.95 0.95 -0.95 0.95 -0.95 -0.95zM177.2 157.9l0.95 0.95 -0.95 0.95 -0.95 -0.95zM193.4 153.2l0.95 0.95 -0.95 0.95 -0.95 -0.95zM183.9 154.9l0.95 0.95 -0.95 0.95 -0.95 -0.95zM165.8 157.5l0.95 0.95 -0.95 0.95 -0.95 -0.95zM183.8 157.2l0.95 0.95 -0.95 0.95 -0.95 -0.95zM171.2 156.3l0.95 0.95 -0.95 0.95 -0.95 -0.95zM188.8 152.4l0.95 0.95 -0.95 0.95 -0.95 -0.95zM184.6 158.3l0.95 0.95 -0.95 0.95 -0.95 -0.95zM180.4 163.5l0.95 0.95 -0.95 0.95 -0.95 -0.95zM175.6 159.6l0.95 0.95 -0.95 0.95 -0.95 -0.95zM173.6 159.6l0.95 0.95 -0.95 0.95 -0.95 -0.95zM190.4 160.1l0.95 0.95 -0.95 0.95 -0.95 -0.95zM186.3 153.9l0.95 0.95 -0.95 0.95 -0.95 -0.95zM200.8 153.1l0.95 0.95 -0.95 0.95 -0.95 -0.95zM205.0 152.5l0.95 0.95 -0.95 0.95 -0.95 -0.95zM196.0 151.8l0.95 0.95 -0.95 0.95 -0.95 -0.95zM173.7 157.4l0.95 0.95 -0.95 0.95 -0.95 -0.95zM175.3 161.6l0.95 0.95 -0.95 0.95 -0.95 -0.95zM201.9 151.6l0.95 0.95 -0.95 0.95 -0.95 -0.95zM182.4 153.0l0.95 0.95 -0.95 0.95 -0.95 -0.95zM179.9 156.9l0.95 0.95 -0.95 0.95 -0.95 -0.95zM193.3 158.7l0.95 0.95 -0.95 0.95 -0.95 -0.95zM183.5 161.5l0.95 0.95 -0.95 0.95 -0.95 -0.95zM165.1 159.6l0.95 0.95 -0.95 0.95 -0.95 -0.95zM176.6 151.3l0.95 0.95 -0.95 0.95 -0.95 -0.95zM200.4 157.7l0.95 0.95 -0.95 0.95 -0.95 -0.95z" fill="none" stroke="#2f4f9f" stroke-width="0.7"/>
<polyline points="47.6,231.5 51.7,227.1 55.8,222.8 59.8,218.4 63.9,213.9 68.0,209.0 72.0,204.7 76.1,201.6 80.2,198.9 84.2,196.5 88.3,194.3 92.4,192.2 96.4,190.2 100.5,188.2 104.6,186.3 108.6,184.4 112.7,182.7 116.8,180.9 120.8,179.3 124.9,177.7 129.0,176.1 133.0,174.6 137.1,173.2 141.2,171.8 145.2,170.4 149.3,169.1 153.4,167.8 157.4,166.6 161.5,165.3 165.6,164.1 169.6,162.9 173.7,161.7 177.8,160.5 181.8,159.3 185.9,158.2 190.0,157.0 194.0,155.9 198.1,154.8 202.2,153.8 206.2,152.8" fill="none" stroke="#2f4f9f" stroke-width="0.8"/>
<path d="M43.1 235.2h1.9v1.9h-1.9zM56.3 227.6h1.9v1.9h-1.9zM49.8 235.4h1.9v1.9h-1.9zM41.3 242.9h1.9v1.9h-1.9zM42.4 235.8h1.9v1.9h-1.9zM47.5 231.0h1.9v1.9h-1.9zM42.6 246.8h1.9v1.9h-1.9zM55.5 226.5h1.9v1.9h-1.9zM46.7 244.5h1.9v1.9h-1.9zM43.4 249.1h1.9v1.9h-1.9zM52.0 234.1h1.9v1.9h-1.9zM42.9 239.1h1.9v1.9h-1.9zM45.0 243.6h1.9v1.9h-1.9zM58.0 228.8h1.9v1.9h-1.9zM41.4 245.0h1.9v1.9h-1.9zM52.5 234.5h1.9v1.9h-1.9zM43.5 241.1h1.9v1.9h-1.9zM53.7 230.2h1.9v1.9h-1.9zM58.9 224.7h1.9v1.9h-1.9zM55.5 231.9h1.9v1.9h-1.9zM50.7 231.6h1.9v1.9h-1.9zM46.1 234.7h1.9v1.9h-1.9zM47.3 228.7h1.9v1.9h-1.9zM41.2 252.5h1.9v1.9h-1.9zM44.6 237.1h1.9v1.9h-1.9zM57.9 221.9h1.9v1.9h-1.9zM43.7 238.3h1.9v1.9h-1.9zM50.4 234.0h1.9v1.9h-1.9zM45.1 238.3h1.9v1.9h-1.9zM53.4 221.9h1.9v1.9h-1.9zM55.1 233.2h1.9v1.9h-1.9zM61.4 228.0h1.9v1.9h-1.9zM41.9 237.8h1.9v1.9h-1.9zM51.8 227.3h1.9v1.9h-1.9zM41.5 239.5h1.9v1.9h-1.9zM55.4 224.5h1.9v1.9h-1.9zM45.3 238.8h1.9v1.9h-1.9zM55.9 230.9h1.9v1.9h-1.9zM59.7 221.2h1.9v1.9h-1.9zM45.0 242.5h1.9v1.9h-1.9zM45.0 237.0h1.9v1.9h-1.9zM49.1 226.7h1.9v1.9h-1.9zM59.4 229.0h1.9v1.9h-1.9zM49.0 234.5h1.9v1.9h-1.9zM42.1 241.1h1.9v1.9h-1.9zM53.6 228.1h1.9v1.9h-1.9zM60.3 233.3h1.9v1.9h-1.9zM57.5 224.7h1.9v1.9h-1.9zM59.6 229.3h1.9v1.9h-1.9zM44.3 239.8h1.9v1.9h-1.9zM49.9 235.2h1.9v1.9h-1.9zM55.8 229.1h1.9v1.9h-1.9zM45.2 240.2h1.9v1.9h-1.9zM49.8 229.4h1.9v1.9h-1.9zM61.0 230.8h1.9v1.9h-1.9zM44.5 240.3h1.9v1.9h-1.9zM42.9 245.3h1.9v1.9h-1.9zM45.5 241.6h1.9v1.9h-1.9zM52.9 224.5h1.9v1.9h-1.9zM52.9 229.2h1.9v1.9h-1.9zM48.0 240.0h1.9v1.9h-1.9zM46.5 232.3h1.9v1.9h-1.9zM47.2 235.3h1.9v1.9h-1.9zM45.7 241.5h1.9v1.9h-1.9zM45.1 247.4h1.9v1.9h-1.9zM42.3 242.3h1.9v1.9h-1.9zM46.6 238.6h1.9v1.9h-1.9zM44.0 242.2h1.9v1.9h-1.9zM44.0 246.2h1.9v1.9h-1.9zM44.5 234.7h1.9v1.9h-1.9zM57.2 230.1h1.9v1.9h-1.9zM42.8 247.7h1.9v1.9h-1.9zM49.4 235.3h1.9v1.9h-1.9zM59.2 223.6h1.9v1.9h-1.9zM44.7 236.4h1.9v1.9h-1.9zM56.4 233.0h1.9v1.9h-1.9zM55.0 223.1h1.9v1.9h-1.9zM59.6 229.8h1.9v1.9h-1.9zM44.8 240.5h1.9v1.9h-1.9zM45.6 243.5h1.9v1.9h-1.9zM53.7 229.8h1.9v1.9h-1.9zM55.6 233.7h1.9v1.9h-1.9zM42.9 244.7h1.9v1.9h-1.9zM41.7 239.8h1.9v1.9h-1.9zM43.5 240.4h1.9v1.9h-1.9zM42.0 243.0h1.9v1.9h-1.9zM54.0 224.7h1.9v1.9h-1.9zM60.5 228.9h1.9v1.9h-1.9zM44.1 236.2h1.9v1.9h-1.9zM53.8 227.5h1.9v1.9h-1.9zM50.8 229.6h1.9v1.9h-1.9zM48.1 237.8h1.9v1.9h-1.9zM49.7 226.3h1.9v1.9h-1.9zM47.2 238.4h1.9v1.9h-1.9zM49.2 236.6h1.9v1.9h-1.9zM52.6 222.2h1.9v1.9h-1.9zM43.5 243.3h1.9v1.9h-1.9zM49.4 225.3h1.9v1.9h-1.9zM59.6 223.5h1.9v1.9h-1.9zM45.3 242.8h1.9v1.9h-1.9zM50.9 232.5h1.9v1.9h-1.9zM45.3 244.1h1.9v1.9h-1.9zM47.5 234.9h1.9v1.9h-1.9zM62.9 227.2h1.9v1.9h-1.9zM43.5 238.9h1.9v1.9h-1.9zM49.3 246.8h1.9v1.9h-1.9zM44.4 244.5h1.9v1.9h-1.9zM55.7 232.5h1.9v1.9h-1.9zM45.5 243.2h1.9v1.9h-1.9zM51.9 229.0h1.9v1.9h-1.9zM41.6 243.5h1.9v1.9h-1.9zM55.1 223.7h1.9v1.9h-1.9zM55.6 231.8h1.9v1.9h-1.9zM46.1 236.8h1.9v1.9h-1.9zM60.6 232.6h1.9v1.9h-1.9zM45.2 238.5h1.9v1.9h-1.9zM56.7 230.8h1.9v1.9h-1.9zM49.5 234.5h1.9v1.9h-1.9zM54.5 232.8h1.9v1.9h-1.9zM42.4 242.1h1.9v1.9h-1.9zM49.2 224.6h1.9v1.9h-1.9zM59.7 229.9h1.9v1.9h-1.9zM48.2 232.2h1.9v1.9h-1.9zM50.7 229.2h1.9v1.9h-1.9zM41.5 239.4h1.9v1.9h-1.9zM49.3 234.1h1.9v1.9h-1.9zM49.2 238.4h1.9v1.9h-1.9zM46.9 235.3h1.9v1.9h-1.9zM46.3 235.2h1.9v1.9h-1.9zM44.7 234.8h1.9v1.9h-1.9zM42.0 246.0h1.9v1.9h-1.9zM46.7 234.8h1.9v1.9h-1.9zM55.5 223.4h1.9v1.9h-1.9zM55.3 228.1h1.9v1.9h-1.9zM49.4 238.7h1.9v1.9h-1.9zM58.0 223.2h1.9v1.9h-1.9zM55.5 230.8h1.9v1.9h-1.9zM42.5 245.1h1.9v1.9h-1.9zM39.8 245.8h1.9v1.9h-1.9zM59.0 219.5h1.9v1.9h-1.9zM46.7 232.9h1.9v1.9h-1.9zM47.3 238.7h1.9v1.9h-1.9zM42.3 246.1h1.9v1.9h-1.9zM42.9 245.0h1.9v1.9h-1.9zM50.1 228.1h1.9v1.9h-1.9zM60.2 228.9h1.9v1.9h-1.9zM51.5 227.0h1.9v1.9h-1.9zM61.2 226.4h1.9v1.9h-1.9zM51.4 229.6h1.9v1.9h-1.9zM42.9 238.6h1.9v1.9h-1.9z" fill="none" stroke="#e0262a" stroke-width="0.7"/>
<path d="M69.7 202.1h1.9v1.9h-1.9zM73.0 203.4h1.9v1.9h-1.9zM49.2 221.5h1.9v1.9h-1.9zM73.9 199.6h1.9v1.9h-1.9zM57.3 214.1h1.9v1.9h-1.9zM78.9 197.3h1.9v1.9h-1.9zM64.7 204.7h1.9v1.9h-1.9zM74.9 195.9h1.9v1.9h-1.9zM74.0 199.1h1.9v1.9h-1.9zM66.7 203.8h1.9v1.9h-1.9zM58.7 211.4h1.9v1.9h-1.9zM66.5 204.7h1.9v1.9h-1.9zM61.2 206.6h1.9v1.9h-1.9zM53.1 214.7h1.9v1.9h-1.9zM59.0 211.4h1.9v1.9h-1.9zM51.9 220.7h1.9v1.9h-1.9zM59.6 212.7h1.9v1.9h-1.9zM57.8 216.4h1.9v1.9h-1.9zM63.0 205.9h1.9v1.9h-1.9zM59.1 209.9h1.9v1.9h-1.9zM76.0 196.9h1.9v1.9h-1.9zM61.7 206.2h1.9v1.9h-1.9z" fill="none" stroke="#e0262a" stroke-width="0.7"/>
<path d="M97.9 201.0h1.9v1.9h-1.9zM89.1 205.6h1.9v1.9h-1.9zM100.2 198.7h1.9v1.9h-1.9zM98.4 197.3h1.9v1.9h-1.9zM118.0 187.5h1.9v1.9h-1.9zM115.6 196.5h1.9v1.9h-1.9zM116.7 192.2h1.9v1.9h-1.9zM59.1 223.1h1.9v1.9h-1.9zM85.8 207.3h1.9v1.9h-1.9zM73.0 212.8h1.9v1.9h-1.9zM116.9 193.4h1.9v1.9h-1.9zM68.5 214.0h1.9v1.9h-1.9zM99.0 199.1h1.9v1.9h-1.9zM104.9 200.0h1.9v1.9h-1.9zM104.9 197.4h1.9v1.9h-1.9zM57.3 226.4h1.9v1.9h-1.9zM110.0 195.9h1.9v1.9h-1.9zM88.6 201.1h1.9v1.9h-1.9zM89.3 202.9h1.9v1.9h-1.9zM93.8 204.5h1.9v1.9h-1.9zM87.7 206.4h1.9v1.9h-1.9zM127.4 184.8h1.9v1.9h-1.9zM60.1 222.3h1.9v1.9h-1.9zM61.8 220.7h1.9v1.9h-1.9zM82.9 205.2h1.9v1.9h-1.9zM129.3 186.4h1.9v1.9h-1.9zM53.5 228.7h1.9v1.9h-1.9zM96.6 200.2h1.9v1.9h-1.9zM65.7 219.4h1.9v1.9h-1.9zM115.0 190.4h1.9v1.9h-1.9zM107.9 195.4h1.9v1.9h-1.9zM94.1 200.0h1.9v1.9h-1.9zM55.6 225.6h1.9v1.9h-1.9zM56.8 221.6h1.9v1.9h-1.9zM91.9 203.6h1.9v1.9h-1.9zM130.6 184.4h1.9v1.9h-1.9zM55.3 227.4h1.9v1.9h-1.9zM96.2 197.3h1.9v1.9h-1.9zM88.3 202.8h1.9v1.9h-1.9zM135.5 183.7h1.9v1.9h-1.9zM58.2 222.1h1.9v1.9h-1.9zM100.4 204.3h1.9v1.9h-1.9zM53.7 229.0h1.9v1.9h-1.9zM56.9 220.3h1.9v1.9h-1.9zM93.9 203.4h1.9v1.9h-1.9zM121.9 188.6h1.9v1.9h-1.9zM89.3 205.6h1.9v1.9h-1.9zM131.2 183.6h1.9v1.9h-1.9zM64.9 214.2h1.9v1.9h-1.9zM60.1 224.1h1.9v1.9h-1.9zM63.8 218.0h1.9v1.9h-1.9zM93.0 202.7h1.9v1.9h-1.9zM136.4 185.0h1.9v1.9h-1.9zM114.6 190.6h1.9v1.9h-1.9zM71.7 213.3h1.9v1.9h-1.9zM95.7 201.3h1.9v1.9h-1.9zM116.2 193.4h1.9v1.9h-1.9zM56.9 223.9h1.9v1.9h-1.9zM131.8 186.8h1.9v1.9h-1.9zM90.0 202.7h1.9v1.9h-1.9zM81.6 205.9h1.9v1.9h-1.9zM128.0 191.9h1.9v1.9h-1.9zM80.0 210.7h1.9v1.9h-1.9zM86.5 205.9h1.9v1.9h-1.9zM80.6 205.0h1.9v1.9h-1.9zM88.1 207.4h1.9v1.9h-1.9zM104.0 193.1h1.9v1.9h-1.9zM131.9 183.5h1.9v1.9h-1.9zM61.7 217.2h1.9v1.9h-1.9zM83.5 206.0h1.9v1.9h-1.9zM127.1 185.9h1.9v1.9h-1.9zM71.4 214.0h1.9v1.9h-1.9zM87.0 204.8h1.9v1.9h-1.9zM53.8 227.5h1.9v1.9h-1.9zM106.0 197.3h1.9v1.9h-1.9zM59.2 225.7h1.9v1.9h-1.9zM136.1 184.8h1.9v1.9h-1.9zM54.5 232.7h1.9v1.9h-1.9zM56.7 228.3h1.9v1.9h-1.9zM96.0 197.8h1.9v1.9h-1.9zM88.4 204.4h1.9v1.9h-1.9zM75.8 210.1h1.9v1.9h-1.9zM66.9 216.6h1.9v1.9h-1.9zM69.9 208.4h1.9v1.9h-1.9zM124.0 188.3h1.9v1.9h-1.9zM120.9 184.9h1.9v1.9h-1.9zM68.7 217.2h1.9v1.9h-1.9zM101.1 200.8h1.9v1.9h-1.9zM68.6 217.6h1.9v1.9h-1.9zM57.5 222.5h1.9v1.9h-1.9zM99.4 199.2h1.9v1.9h-1.9zM113.0 189.2h1.9v1.9h-1.9zM116.4 198.1h1.9v1.9h-1.9zM64.9 217.2h1.9v1.9h-1.9zM110.8 192.4h1.9v1.9h-1.9zM128.7 186.3h1.9v1.9h-1.9zM126.3 192.1h1.9v1.9h-1.9zM59.5 220.4h1.9v1.9h-1.9zM91.9 199.7h1.9v1.9h-1.9zM133.5 186.9h1.9v1.9h-1.9zM136.4 184.8h1.9v1.9h-1.9zM96.0 202.5h1.9v1.9h-1.9zM55.1 226.6h1.9v1.9h-1.9zM53.7 228.4h1.9v1.9h-1.9zM66.5 213.2h1.9v1.9h-1.9zM110.6 193.5h1.9v1.9h-1.9zM66.8 219.0h1.9v1.9h-1.9zM121.6 188.4h1.9v1.9h-1.9zM70.9 214.1h1.9v1.9h-1.9zM58.6 227.5h1.9v1.9h-1.9zM55.7 227.6h1.9v1.9h-1.9zM88.0 208.9h1.9v1.9h-1.9zM71.2 213.0h1.9v1.9h-1.9zM64.0 217.3h1.9v1.9h-1.9zM98.5 199.1h1.9v1.9h-1.9zM105.7 202.8h1.9v1.9h-1.9zM77.1 209.3h1.9v1.9h-1.9zM54.6 225.7h1.9v1.9h-1.9zM99.2 200.7h1.9v1.9h-1.9zM130.0 188.1h1.9v1.9h-1.9zM58.1 222.5h1.9v1.9h-1.9zM98.0 197.1h1.9v1.9h-1.9zM100.5 200.5h1.9v1.9h-1.9zM121.9 190.7h1.9v1.9h-1.9zM125.5 184.6h1.9v1.9h-1.9zM55.2 228.6h1.9v1.9h-1.9zM70.9 213.2h1.9v1.9h-1.9zM69.9 216.2h1.9v1.9h-1.9zM103.4 197.0h1.9v1.9h-1.9zM133.5 186.1h1.9v1.9h-1.9z" fill="none" stroke="#e0262a" stroke-width="0.7"/>
<path d="M138.1 185.4h1.9v1.9h-1.9zM134.7 184.7h1.9v1.9h-1.9zM151.2 178.8h1.9v1.9h-1.9zM140.7 180.9h1.9v1.9h-1.9zM152.5 182.1h1.9v1.9h-1.9zM147.5 175.2h1.9v1.9h-1.9zM138.0 179.6h1.9v1.9h-1.9zM149.1 179.0h1.9v1.9h-1.9zM161.6 181.0h1.9v1.9h-1.9zM163.0 178.7h1.9v1.9h-1.9zM158.7 178.9h1.9v1.9h-1.9zM155.9 182.5h1.9v1.9h-1.9zM158.9 179.4h1.9v1.9h-1.9zM145.8 183.8h1.9v1.9h-1.9zM146.4 178.1h1.9v1.9h-1.9zM135.2 178.2h1.9v1.9h-1.9zM151.8 179.1h1.9v1.9h-1.9zM137.2 184.6h1.9v1.9h-1.9zM153.7 178.8h1.9v1.9h-1.9zM167.3 179.5h1.9v1.9h-1.9zM154.2 175.8h1.9v1.9h-1.9zM141.6 179.7h1.9v1.9h-1.9zM167.8 181.5h1.9v1.9h-1.9zM149.9 182.1h1.9v1.9h-1.9zM131.2 181.0h1.9v1.9h-1.9zM130.3 187.6h1.9v1.9h-1.9zM145.3 182.7h1.9v1.9h-1.9zM158.1 183.6h1.9v1.9h-1.9zM140.7 178.7h1.9v1.9h-1.9zM153.8 180.3h1.9v1.9h-1.9z" fill="none" stroke="#e0262a" stroke-width="0.7"/>
<polyline points="44.9,245.9 48.1,239.7 51.3,234.2 54.4,229.7 57.6,226.1 60.7,223.0 63.9,220.2 67.1,217.7 70.2,215.5 73.4,213.5 76.5,211.7 79.7,210.0 82.9,208.4 86.0,206.9 89.2,205.4 92.3,203.9 95.5,202.5 98.7,201.2 101.8,199.9 105.0,198.6 108.2,197.3 111.3,196.0 114.5,194.7 117.6,193.4 120.8,192.2 124.0,190.9 127.1,189.6 130.3,188.4 133.4,187.1 136.6,185.9 139.8,184.6 142.9,183.4 146.1,182.2 149.2,180.9 152.4,179.7 155.6,178.5 158.7,177.3 161.9,176.1 165.0,174.9 168.2,173.8" fill="none" stroke="#e0262a" stroke-width="0.8"/>
<path d="M54.4 218.4l0.95 1.71h-1.9zM55.4 243.3l0.95 1.71h-1.9zM57.9 216.7l0.95 1.71h-1.9zM54.3 232.9l0.95 1.71h-1.9zM55.3 248.0l0.95 1.71h-1.9zM53.6 232.6l0.95 1.71h-1.9zM53.6 217.7l0.95 1.71h-1.9zM56.5 221.1l0.95 1.71h-1.9zM56.3 242.8l0.95 1.71h-1.9zM54.2 243.9l0.95 1.71h-1.9zM56.6 220.8l0.95 1.71h-1.9zM56.2 226.4l0.95 1.71h-1.9zM57.6 230.3l0.95 1.71h-1.9zM55.4 234.4l0.95 1.71h-1.9zM55.3 218.1l0.95 1.71h-1.9zM55.8 239.2l0.95 1.71h-1.9zM54.8 234.7l0.95 1.71h-1.9zM57.0 221.0l0.95 1.71h-1.9zM56.5 217.2l0.95 1.71h-1.9zM53.5 244.1l0.95 1.71h-1.9zM55.9 216.7l0.95 1.71h-1.9zM54.8 239.6l0.95 1.71h-1.9zM56.0 236.9l0.95 1.71h-1.9zM56.7 215.4l0.95 1.71h-1.9zM57.0 220.9l0.95 1.71h-1.9zM55.6 240.0l0.95 1.71h-1.9zM54.9 241.9l0.95 1.71h-1.9zM54.7 240.1l0.95 1.71h-1.9zM54.1 254.3l0.95 1.71h-1.9zM55.0 229.9l0.95 1.71h-1.9zM55.6 240.3l0.95 1.71h-1.9zM54.5 235.2l0.95 1.71h-1.9zM54.7 237.3l0.95 1.71h-1.9zM54.3 229.1l0.95 1.71h-1.9zM55.8 216.7l0.95 1.71h-1.9z" fill="none" stroke="#2ca14a" stroke-width="0.7"/>
<path d="M82.8 198.0l0.95 1.71h-1.9zM72.4 210.3l0.95 1.71h-1.9zM114.9 177.1l0.95 1.71h-1.9zM77.0 204.7l0.95 1.71h-1.9zM63.6 223.5l0.95 1.71h-1.9zM98.9 184.6l0.95 1.71h-1.9zM68.5 213.5l0.95 1.71h-1.9zM94.2 186.4l0.95 1.71h-1.9zM67.9 212.8l0.95 1.71h-1.9zM81.3 196.1l0.95 1.71h-1.9zM107.1 181.4l0.95 1.71h-1.9zM104.1 180.2l0.95 1.71h-1.9zM96.8 184.3l0.95 1.71h-1.9zM75.0 207.4l0.95 1.71h-1.9zM62.5 224.2l0.95 1.71h-1.9zM73.7 209.8l0.95 1.71h-1.9zM80.3 203.7l0.95 1.71h-1.9zM63.0 222.6l0.95 1.71h-1.9zM92.3 188.1l0.95 1.71h-1.9zM103.7 179.8l0.95 1.71h-1.9zM85.1 191.4l0.95 1.71h-1.9zM65.3 221.3l0.95 1.71h-1.9zM80.5 201.1l0.95 1.71h-1.9zM112.5 176.0l0.95 1.71h-1.9zM71.4 214.3l0.95 1.71h-1.9zM89.7 188.8l0.95 1.71h-1.9zM73.7 211.7l0.95 1.71h-1.9zM88.8 192.5l0.95 1.71h-1.9zM61.5 227.5l0.95 1.71h-1.9zM109.9 175.8l0.95 1.71h-1.9zM97.0 185.3l0.95 1.71h-1.9zM101.7 184.9l0.95 1.71h-1.9zM93.7 192.1l0.95 1.71h-1.9zM93.7 185.3l0.95 1.71h-1.9zM62.5 226.1l0.95 1.71h-1.9zM81.7 200.3l0.95 1.71h-1.9zM77.6 204.6l0.95 1.71h-1.9zM76.6 201.0l0.95 1.71h-1.9zM95.2 184.9l0.95 1.71h-1.9zM87.9 193.7l0.95 1.71h-1.9zM73.6 209.5l0.95 1.71h-1.9zM62.7 222.4l0.95 1.71h-1.9zM72.0 211.8l0.95 1.71h-1.9zM73.7 208.6l0.95 1.71h-1.9zM78.9 203.5l0.95 1.71h-1.9zM82.4 199.5l0.95 1.71h-1.9zM75.2 204.0l0.95 1.71h-1.9zM87.5 193.7l0.95 1.71h-1.9zM115.5 177.1l0.95 1.71h-1.9zM63.3 223.6l0.95 1.71h-1.9zM61.2 229.0l0.95 1.71h-1.9zM107.0 179.1l0.95 1.71h-1.9zM93.9 188.2l0.95 1.71h-1.9zM73.5 208.4l0.95 1.71h-1.9zM95.4 189.9l0.95 1.71h-1.9zM59.7 230.9l0.95 1.71h-1.9zM69.2 213.0l0.95 1.71h-1.9zM98.1 183.5l0.95 1.71h-1.9zM105.9 181.7l0.95 1.71h-1.9zM111.1 175.7l0.95 1.71h-1.9zM63.6 222.6l0.95 1.71h-1.9zM64.7 220.0l0.95 1.71h-1.9zM93.4 189.5l0.95 1.71h-1.9zM93.0 189.8l0.95 1.71h-1.9zM77.6 203.6l0.95 1.71h-1.9zM96.6 183.9l0.95 1.71h-1.9zM66.0 219.6l0.95 1.71h-1.9zM76.1 208.9l0.95 1.71h-1.9zM103.4 180.7l0.95 1.71h-1.9zM84.6 198.3l0.95 1.71h-1.9z" fill="none" stroke="#2ca14a" stroke-width="0.7"/>
<path d="M124.2 172.0l0.95 1.71h-1.9zM141.3 166.1l0.95 1.71h-1.9zM129.3 171.8l0.95 1.71h-1.9zM149.8 169.3l0.95 1.71h-1.9zM155.1 163.4l0.95 1.71h-1.9zM138.1 173.5l0.95 1.71h-1.9zM155.2 170.2l0.95 1.71h-1.9zM128.9 176.9l0.95 1.71h-1.9zM129.8 173.5l0.95 1.71h-1.9zM130.2 168.3l0.95 1.71h-1.9zM115.7 176.9l0.95 1.71h-1.9zM121.5 177.6l0.95 1.71h-1.9zM126.6 173.3l0.95 1.71h-1.9zM135.8 170.4l0.95 1.71h-1.9zM152.2 168.3l0.95 1.71h-1.9zM137.1 167.5l0.95 1.71h-1.9zM133.2 171.8l0.95 1.71h-1.9zM160.9 163.1l0.95 1.71h-1.9zM151.2 163.5l0.95 1.71h-1.9zM159.4 167.9l0.95 1.71h-1.9zM126.3 171.5l0.95 1.71h-1.9zM158.5 161.4l0.95 1.71h-1.9zM115.5 172.1l0.95 1.71h-1.9zM125.5 173.0l0.95 1.71h-1.9zM151.4 164.6l0.95 1.71h-1.9zM159.6 167.1l0.95 1.71h-1.9zM132.6 171.0l0.95 1.71h-1.9zM129.3 174.9l0.95 1.71h-1.9zM118.2 176.4l0.95 1.71h-1.9zM155.6 169.0l0.95 1.71h-1.9zM122.7 175.7l0.95 1.71h-1.9zM158.2 163.2l0.95 1.71h-1.9zM132.2 170.4l0.95 1.71h-1.9zM129.6 167.3l0.95 1.71h-1.9zM128.6 172.4l0.95 1.71h-1.9z" fill="none" stroke="#2ca14a" stroke-width="0.7"/>
<polyline points="55.3,242.7 58.1,236.2 60.8,230.3 63.6,224.9 66.4,220.0 69.1,215.6 71.9,211.6 74.7,208.0 77.4,204.6 80.2,201.4 83.0,198.2 85.7,195.2 88.5,192.6 91.3,190.4 94.0,188.3 96.8,186.4 99.6,184.6 102.3,183.1 105.1,181.6 107.9,180.3 110.6,179.1 113.4,178.0 116.2,177.0 118.9,175.9 121.7,175.0 124.5,174.0 127.2,173.1 130.0,172.3 132.8,171.4 135.5,170.7 138.3,170.0 141.1,169.3 143.8,168.7 146.6,168.1 149.4,167.5 152.1,167.0 154.9,166.5 157.7,166.0 160.4,165.6 163.2,165.2" fill="none" stroke="#2ca14a" stroke-width="0.8"/>
<path d="M52.3 236.9a0.95 0.95 0 1 0 1.9 0a0.95 0.95 0 1 0 -1.9 0M54.8 239.7a0.95 0.95 0 1 0 1.9 0a0.95 0.95 0 1 0 -1.9 0M123.8 195.4a0.95 0.95 0 1 0 1.9 0a0.95 0.95 0 1 0 -1.9 0M74.6 221.2a0.95 0.95 0 1 0 1.9 0a0.95 0.95 0 1 0 -1.9 0M97.0 209.6a0.95 0.95 0 1 0 1.9 0a0.95 0.95 0 1 0 -1.9 0M134.2 193.3a0.95 0.95 0 1 0 1.9 0a0.95 0.95 0 1 0 -1.9 0M49.6 240.7a0.95 0.95 0 1 0 1.9 0a0.95 0.95 0 1 0 -1.9 0M73.2 219.0a0.95 0.95 0 1 0 1.9 0a0.95 0.95 0 1 0 -1.9 0M125.9 191.7a0.95 0.95 0 1 0 1.9 0a0.95 0.95 0 1 0 -1.9 0M116.3 195.8a0.95 0.95 0 1 0 1.9 0a0.95 0.95 0 1 0 -1.9 0M50.1 241.7a0.95 0.95 0 1 0 1.9 0a0.95 0.95 0 1 0 -1.9 0M88.9 208.8a0.95 0.95 0 1 0 1.9 0a0.95 0.95 0 1 0 -1.9 0M62.0 225.6a0.95 0.95 0 1 0 1.9 0a0.95 0.95 0 1 0 -1.9 0M55.9 234.5a0.95 0.95 0 1 0 1.9 0a0.95 0.95 0 1 0 -1.9 0M85.6 213.0a0.95 0.95 0 1 0 1.9 0a0.95 0.95 0 1 0 -1.9 0M129.6 190.8a0.95 0.95 0 1 0 1.9 0a0.95 0.95 0 1 0 -1.9 0M98.2 202.5a0.95 0.95 0 1 0 1.9 0a0.95 0.95 0 1 0 -1.9 0M58.5 236.2a0.95 0.95 0 1 0 1.9 0a0.95 0.95 0 1 0 -1.9 0M62.3 238.0a0.95 0.95 0 1 0 1.9 0a0.95 0.95 0 1 0 -1.9 0M98.0 209.4a0.95 0.95 0 1 0 1.9 0a0.95 0.95 0 1 0 -1.9 0M64.6 229.8a0.95 0.95 0 1 0 1.9 0a0.95 0.95 0 1 0 -1.9 0M107.7 202.3a0.95 0.95 0 1 0 1.9 0a0.95 0.95 0 1 0 -1.9 0M60.5 232.1a0.95 0.95 0 1 0 1.9 0a0.95 0.95 0 1 0 -1.9 0M129.3 184.7a0.95 0.95 0 1 0 1.9 0a0.95 0.95 0 1 0 -1.9 0M74.8 217.1a0.95 0.95 0 1 0 1.9 0a0.95 0.95 0 1 0 -1.9 0M63.2 227.2a0.95 0.95 0 1 0 1.9 0a0.95 0.95 0 1 0 -1.9 0M132.7 187.2a0.95 0.95 0 1 0 1.9 0a0.95 0.95 0 1 0 -1.9 0M63.5 231.3a0.95 0.95 0 1 0 1.9 0a0.95 0.95 0 1 0 -1.9 0M127.6 196.3a0.95 0.95 0 1 0 1.9 0a0.95 0.95 0 1 0 -1.9 0M72.2 217.3a0.95 0.95 0 1 0 1.9 0a0.95 0.95 0 1 0 -1.9 0M86.4 216.0a0.95 0.95 0 1 0 1.9 0a0.95 0.95 0 1 0 -1.9 0M50.2 246.5a0.95 0.95 0 1 0 1.9 0a0.95 0.95 0 1 0 -1.9 0M129.5 188.2a0.95 0.95 0 1 0 1.9 0a0.95 0.95 0 1 0 -1.9 0M83.8 210.0a0.95 0.95 0 1 0 1.9 0a0.95 0.95 0 1 0 -1.9 0M129.1 184.6a0.95 0.95 0 1 0 1.9 0a0.95 0.95 0 1 0 -1.9 0M71.5 223.6a0.95 0.95 0 1 0 1.9 0a0.95 0.95 0 1 0 -1.9 0M111.7 204.0a0.95 0.95 0 1 0 1.9 0a0.95 0.95 0 1 0 -1.9 0M56.2 241.4a0.95 0.95 0 1 0 1.9 0a0.95 0.95 0 1 0 -1.9 0M96.5 209.5a0.95 0.95 0 1 0 1.9 0a0.95 0.95 0 1 0 -1.9 0M108.7 198.5a0.95 0.95 0 1 0 1.9 0a0.95 0.95 0 1 0 -1.9 0M84.7 212.5a0.95 0.95 0 1 0 1.9 0a0.95 0.95 0 1 0 -1.9 0M62.9 230.7a0.95 0.95 0 1 0 1.9 0a0.95 0.95 0 1 0 -1.9 0M83.9 212.9a0.95 0.95 0 1 0 1.9 0a0.95 0.95 0 1 0 -1.9 0M97.8 204.6a0.95 0.95 0 1 0 1.9 0a0.95 0.95 0 1 0 -1.9 0M72.1 220.2a0.95 0.95 0 1 0 1.9 0a0.95 0.95 0 1 0 -1.9 0M76.1 218.9a0.95 0.95 0 1 0 1.9 0a0.95 0.95 0 1 0 -1.9 0M103.8 200.5a0.95 0.95 0 1 0 1.9 0a0.95 0.95 0 1 0 -1.9 0M135.0 189.4a0.95 0.95 0 1 0 1.9 0a0.95 0.95 0 1 0 -1.9 0M87.5 208.4a0.95 0.95 0 1 0 1.9 0a0.95 0.95 0 1 0 -1.9 0M62.5 226.8a0.95 0.95 0 1 0 1.9 0a0.95 0.95 0 1 0 -1.9 0M84.9 215.0a0.95 0.95 0 1 0 1.9 0a0.95 0.95 0 1 0 -1.9 0M50.9 240.6a0.95 0.95 0 1 0 1.9 0a0.95 0.95 0 1 0 -1.9 0M60.1 234.2a0.95 0.95 0 1 0 1.9 0a0.95 0.95 0 1 0 -1.9 0M59.4 232.6a0.95 0.95 0 1 0 1.9 0a0.95 0.95 0 1 0 -1.9 0M91.1 208.8a0.95 0.95 0 1 0 1.9 0a0.95 0.95 0 1 0 -1.9 0M104.7 200.6a0.95 0.95 0 1 0 1.9 0a0.95 0.95 0 1 0 -1.9 0M103.6 200.3a0.95 0.95 0 1 0 1.9 0a0.95 0.95 0 1 0 -1.9 0M110.6 198.1a0.95 0.95 0 1 0 1.9 0a0.95 0.95 0 1 0 -1.9 0M121.6 196.7a0.95 0.95 0 1 0 1.9 0a0.95 0.95 0 1 0 -1.9 0M56.0 238.5a0.95 0.95 0 1 0 1.9 0a0.95 0.95 0 1 0 -1.9 0M123.8 199.4a0.95 0.95 0 1 0 1.9 0a0.95 0.95 0 1 0 -1.9 0M65.2 226.5a0.95 0.95 0 1 0 1.9 0a0.95 0.95 0 1 0 -1.9 0M113.4 197.1a0.95 0.95 0 1 0 1.9 0a0.95 0.95 0 1 0 -1.9 0M136.9 191.7a0.95 0.95 0 1 0 1.9 0a0.95 0.95 0 1 0 -1.9 0M85.8 210.3a0.95 0.95 0 1 0 1.9 0a0.95 0.95 0 1 0 -1.9 0M113.9 196.1a0.95 0.95 0 1 0 1.9 0a0.95 0.95 0 1 0 -1.9 0M120.5 194.6a0.95 0.95 0 1 0 1.9 0a0.95 0.95 0 1 0 -1.9 0M58.0 233.0a0.95 0.95 0 1 0 1.9 0a0.95 0.95 0 1 0 -1.9 0M51.7 240.7a0.95 0.95 0 1 0 1.9 0a0.95 0.95 0 1 0 -1.9 0M120.7 199.9a0.95 0.95 0 1 0 1.9 0a0.95 0.95 0 1 0 -1.9 0M107.8 202.7a0.95 0.95 0 1 0 1.9 0a0.95 0.95 0 1 0 -1.9 0M133.8 187.3a0.95 0.95 0 1 0 1.9 0a0.95 0.95 0 1 0 -1.9 0M86.4 209.8a0.95 0.95 0 1 0 1.9 0a0.95 0.95 0 1 0 -1.9 0M112.5 198.4a0.95 0.95 0 1 0 1.9 0a0.95 0.95 0 1 0 -1.9 0M86.6 215.8a0.95 0.95 0 1 0 1.9 0a0.95 0.95 0 1 0 -1.9 0M74.2 218.2a0.95 0.95 0 1 0 1.9 0a0.95 0.95 0 1 0 -1.9 0M50.6 241.9a0.95 0.95 0 1 0 1.9 0a0.95 0.95 0 1 0 -1.9 0M133.1 189.3a0.95 0.95 0 1 0 1.9 0a0.95 0.95 0 1 0 -1.9 0M131.3 187.9a0.95 0.95 0 1 0 1.9 0a0.95 0.95 0 1 0 -1.9 0M63.4 229.3a0.95 0.95 0 1 0 1.9 0a0.95 0.95 0 1 0 -1.9 0M56.5 241.4a0.95 0.95 0 1 0 1.9 0a0.95 0.95 0 1 0 -1.9 0M130.9 189.5a0.95 0.95 0 1 0 1.9 0a0.95 0.95 0 1 0 -1.9 0M52.1 240.8a0.95 0.95 0 1 0 1.9 0a0.95 0.95 0 1 0 -1.9 0M116.6 199.5a0.95 0.95 0 1 0 1.9 0a0.95 0.95 0 1 0 -1.9 0M62.8 234.9a0.95 0.95 0 1 0 1.9 0a0.95 0.95 0 1 0 -1.9 0M111.2 197.8a0.95 0.95 0 1 0 1.9 0a0.95 0.95 0 1 0 -1.9 0M85.0 208.2a0.95 0.95 0 1 0 1.9 0a0.95 0.95 0 1 0 -1.9 0M129.1 187.5a0.95 0.95 0 1 0 1.9 0a0.95 0.95 0 1 0 -1.9 0M86.8 207.5a0.95 0.95 0 1 0 1.9 0a0.95 0.95 0 1 0 -1.9 0M99.0 206.7a0.95 0.95 0 1 0 1.9 0a0.95 0.95 0 1 0 -1.9 0M89.0 211.2a0.95 0.95 0 1 0 1.9 0a0.95 0.95 0 1 0 -1.9 0M112.2 198.9a0.95 0.95 0 1 0 1.9 0a0.95 0.95 0 1 0 -1.9 0M51.5 241.3a0.95 0.95 0 1 0 1.9 0a0.95 0.95 0 1 0 -1.9 0M122.4 191.5a0.95 0.95 0 1 0 1.9 0a0.95 0.95 0 1 0 -1.9 0M70.1 218.8a0.95 0.95 0 1 0 1.9 0a0.95 0.95 0 1 0 -1.9 0M61.9 232.8a0.95 0.95 0 1 0 1.9 0a0.95 0.95 0 1 0 -1.9 0M97.6 202.6a0.95 0.95 0 1 0 1.9 0a0.95 0.95 0 1 0 -1.9 0M95.8 208.9a0.95 0.95 0 1 0 1.9 0a0.95 0.95 0 1 0 -1.9 0M87.5 218.9a0.95 0.95 0 1 0 1.9 0a0.95 0.95 0 1 0 -1.9 0M85.4 213.4a0.95 0.95 0 1 0 1.9 0a0.95 0.95 0 1 0 -1.9 0M85.0 214.3a0.95 0.95 0 1 0 1.9 0a0.95 0.95 0 1 0 -1.9 0M86.7 209.4a0.95 0.95 0 1 0 1.9 0a0.95 0.95 0 1 0 -1.9 0M55.5 237.3a0.95 0.95 0 1 0 1.9 0a0.95 0.95 0 1 0 -1.9 0M61.2 236.1a0.95 0.95 0 1 0 1.9 0a0.95 0.95 0 1 0 -1.9 0M70.9 217.5a0.95 0.95 0 1 0 1.9 0a0.95 0.95 0 1 0 -1.9 0M114.8 194.7a0.95 0.95 0 1 0 1.9 0a0.95 0.95 0 1 0 -1.9 0M76.0 215.1a0.95 0.95 0 1 0 1.9 0a0.95 0.95 0 1 0 -1.9 0M124.3 192.6a0.95 0.95 0 1 0 1.9 0a0.95 0.95 0 1 0 -1.9 0M92.6 211.0a0.95 0.95 0 1 0 1.9 0a0.95 0.95 0 1 0 -1.9 0M108.4 204.0a0.95 0.95 0 1 0 1.9 0a0.95 0.95 0 1 0 -1.9 0M127.4 188.7a0.95 0.95 0 1 0 1.9 0a0.95 0.95 0 1 0 -1.9 0M55.1 236.3a0.95 0.95 0 1 0 1.9 0a0.95 0.95 0 1 0 -1.9 0M115.0 198.8a0.95 0.95 0 1 0 1.9 0a0.95 0.95 0 1 0 -1.9 0M110.0 202.2a0.95 0.95 0 1 0 1.9 0a0.95 0.95 0 1 0 -1.9 0M82.1 212.1a0.95 0.95 0 1 0 1.9 0a0.95 0.95 0 1 0 -1.9 0M89.9 210.9a0.95 0.95 0 1 0 1.9 0a0.95 0.95 0 1 0 -1.9 0M63.6 228.8a0.95 0.95 0 1 0 1.9 0a0.95 0.95 0 1 0 -1.9 0M121.9 192.1a0.95 0.95 0 1 0 1.9 0a0.95 0.95 0 1 0 -1.9 0M52.1 241.0a0.95 0.95 0 1 0 1.9 0a0.95 0.95 0 1 0 -1.9 0M135.4 184.3a0.95 0.95 0 1 0 1.9 0a0.95 0.95 0 1 0 -1.9 0M127.1 191.7a0.95 0.95 0 1 0 1.9 0a0.95 0.95 0 1 0 -1.9 0M127.9 192.0a0.95 0.95 0 1 0 1.9 0a0.95 0.95 0 1 0 -1.9 0M102.4 203.8a0.95 0.95 0 1 0 1.9 0a0.95 0.95 0 1 0 -1.9 0M49.6 238.0a0.95 0.95 0 1 0 1.9 0a0.95 0.95 0 1 0 -1.9 0M128.5 190.2a0.95 0.95 0 1 0 1.9 0a0.95 0.95 0 1 0 -1.9 0M82.1 209.8a0.95 0.95 0 1 0 1.9 0a0.95 0.95 0 1 0 -1.9 0M61.4 235.5a0.95 0.95 0 1 0 1.9 0a0.95 0.95 0 1 0 -1.9 0M70.4 221.2a0.95 0.95 0 1 0 1.9 0a0.95 0.95 0 1 0 -1.9 0M135.4 181.4a0.95 0.95 0 1 0 1.9 0a0.95 0.95 0 1 0 -1.9 0M79.7 208.3a0.95 0.95 0 1 0 1.9 0a0.95 0.95 0 1 0 -1.9 0M75.1 217.9a0.95 0.95 0 1 0 1.9 0a0.95 0.95 0 1 0 -1.9 0M67.1 225.0a0.95 0.95 0 1 0 1.9 0a0.95 0.95 0 1 0 -1.9 0M77.6 214.5a0.95 0.95 0 1 0 1.9 0a0.95 0.95 0 1 0 -1.9 0M82.0 214.0a0.95 0.95 0 1 0 1.9 0a0.95 0.95 0 1 0 -1.9 0M56.8 232.5a0.95 0.95 0 1 0 1.9 0a0.95 0.95 0 1 0 -1.9 0M99.6 209.9a0.95 0.95 0 1 0 1.9 0a0.95 0.95 0 1 0 -1.9 0M51.5 240.4a0.95 0.95 0 1 0 1.9 0a0.95 0.95 0 1 0 -1.9 0M63.2 228.2a0.95 0.95 0 1 0 1.9 0a0.95 0.95 0 1 0 -1.9 0M74.5 224.2a0.95 0.95 0 1 0 1.9 0a0.95 0.95 0 1 0 -1.9 0M59.0 232.2a0.95 0.95 0 1 0 1.9 0a0.95 0.95 0 1 0 -1.9 0M77.0 221.9a0.95 0.95 0 1 0 1.9 0a0.95 0.95 0 1 0 -1.9 0M78.7 216.9a0.95 0.95 0 1 0 1.9 0a0.95 0.95 0 1 0 -1.9 0M114.0 195.6a0.95 0.95 0 1 0 1.9 0a0.95 0.95 0 1 0 -1.9 0M53.9 238.6a0.95 0.95 0 1 0 1.9 0a0.95 0.95 0 1 0 -1.9 0M90.1 207.5a0.95 0.95 0 1 0 1.9 0a0.95 0.95 0 1 0 -1.9 0M55.4 235.7a0.95 0.95 0 1 0 1.9 0a0.95 0.95 0 1 0 -1.9 0M115.1 200.3a0.95 0.95 0 1 0 1.9 0a0.95 0.95 0 1 0 -1.9 0M88.9 215.6a0.95 0.95 0 1 0 1.9 0a0.95 0.95 0 1 0 -1.9 0M69.1 229.1a0.95 0.95 0 1 0 1.9 0a0.95 0.95 0 1 0 -1.9 0M73.1 221.9a0.95 0.95 0 1 0 1.9 0a0.95 0.95 0 1 0 -1.9 0M90.5 208.6a0.95 0.95 0 1 0 1.9 0a0.95 0.95 0 1 0 -1.9 0M59.8 231.3a0.95 0.95 0 1 0 1.9 0a0.95 0.95 0 1 0 -1.9 0M102.6 203.7a0.95 0.95 0 1 0 1.9 0a0.95 0.95 0 1 0 -1.9 0M73.2 218.9a0.95 0.95 0 1 0 1.9 0a0.95 0.95 0 1 0 -1.9 0M57.2 238.0a0.95 0.95 0 1 0 1.9 0a0.95 0.95 0 1 0 -1.9 0M57.1 232.4a0.95 0.95 0 1 0 1.9 0a0.95 0.95 0 1 0 -1.9 0M60.2 236.5a0.95 0.95 0 1 0 1.9 0a0.95 0.95 0 1 0 -1.9 0M109.4 204.4a0.95 0.95 0 1 0 1.9 0a0.95 0.95 0 1 0 -1.9 0M86.9 214.1a0.95 0.95 0 1 0 1.9 0a0.95 0.95 0 1 0 -1.9 0M54.2 237.6a0.95 0.95 0 1 0 1.9 0a0.95 0.95 0 1 0 -1.9 0M57.7 237.0a0.95 0.95 0 1 0 1.9 0a0.95 0.95 0 1 0 -1.9 0M49.1 237.1a0.95 0.95 0 1 0 1.9 0a0.95 0.95 0 1 0 -1.9 0M75.7 214.4a0.95 0.95 0 1 0 1.9 0a0.95 0.95 0 1 0 -1.9 0M61.1 237.8a0.95 0.95 0 1 0 1.9 0a0.95 0.95 0 1 0 -1.9 0M77.2 213.8a0.95 0.95 0 1 0 1.9 0a0.95 0.95 0 1 0 -1.9 0M121.7 197.8a0.95 0.95 0 1 0 1.9 0a0.95 0.95 0 1 0 -1.9 0M78.9 210.6a0.95 0.95 0 1 0 1.9 0a0.95 0.95 0 1 0 -1.9 0M59.2 233.7a0.95 0.95 0 1 0 1.9 0a0.95 0.95 0 1 0 -1.9 0M132.9 194.0a0.95 0.95 0 1 0 1.9 0a0.95 0.95 0 1 0 -1.9 0M137.8 189.7a0.95 0.95 0 1 0 1.9 0a0.95 0.95 0 1 0 -1.9 0M76.6 216.9a0.95 0.95 0 1 0 1.9 0a0.95 0.95 0 1 0 -1.9 0M121.6 195.1a0.95 0.95 0 1 0 1.9 0a0.95 0.95 0 1 0 -1.9 0M58.3 234.7a0.95 0.95 0 1 0 1.9 0a0.95 0.95 0 1 0 -1.9 0M75.6 214.0a0.95 0.95 0 1 0 1.9 0a0.95 0.95 0 1 0 -1.9 0M56.4 233.6a0.95 0.95 0 1 0 1.9 0a0.95 0.95 0 1 0 -1.9 0M109.3 200.9a0.95 0.95 0 1 0 1.9 0a0.95 0.95 0 1 0 -1.9 0M114.5 194.6a0.95 0.95 0 1 0 1.9 0a0.95 0.95 0 1 0 -1.9 0M49.5 239.0a0.95 0.95 0 1 0 1.9 0a0.95 0.95 0 1 0 -1.9 0M103.2 206.7a0.95 0.95 0 1 0 1.9 0a0.95 0.95 0 1 0 -1.9 0M128.1 192.1a0.95 0.95 0 1 0 1.9 0a0.95 0.95 0 1 0 -1.9 0" fill="none" stroke="#5b2c91" stroke-width="0.7"/>
<polyline points="50.7,242.0 53.0,240.0 55.2,238.0 57.5,235.9 59.8,233.8 62.0,231.6 64.3,229.4 66.6,227.0 68.8,224.4 71.1,222.0 73.3,220.1 75.6,218.5 77.9,217.0 80.1,215.7 82.4,214.5 84.7,213.4 86.9,212.3 89.2,211.1 91.5,210.0 93.7,208.9 96.0,207.9 98.3,206.9 100.5,205.8 102.8,204.8 105.1,203.7 107.3,202.6 109.6,201.4 111.8,200.2 114.1,199.0 116.4,197.8 118.6,196.6 120.9,195.6 123.2,194.5 125.4,193.5 127.7,192.6 130.0,191.6 132.2,190.7 134.5,189.8 136.8,189.0 139.0,188.2" fill="none" stroke="#5b2c91" stroke-width="0.8"/></g>
<g clip-path="url(#ce)"><path d="M287.1 235.7l0.95 0.95 -0.95 0.95 -0.95 -0.95zM281.0 242.1l0.95 0.95 -0.95 0.95 -0.95 -0.95zM328.9 198.5l0.95 0.95 -0.95 0.95 -0.95 -0.95zM289.8 233.7l0.95 0.95 -0.95 0.95 -0.95 -0.95zM353.1 184.8l0.95 0.95 -0.95 0.95 -0.95 -0.95zM280.2 243.8l0.95 0.95 -0.95 0.95 -0.95 -0.95zM350.5 188.9l0.95 0.95 -0.95 0.95 -0.95 -0.95zM281.0 243.3l0.95 0.95 -0.95 0.95 -0.95 -0.95zM282.0 240.2l0.95 0.95 -0.95 0.95 -0.95 -0.95zM313.1 209.5l0.95 0.95 -0.95 0.95 -0.95 -0.95zM278.9 242.6l0.95 0.95 -0.95 0.95 -0.95 -0.95zM292.8 232.3l0.95 0.95 -0.95 0.95 -0.95 -0.95zM307.3 210.7l0.95 0.95 -0.95 0.95 -0.95 -0.95zM308.9 216.2l0.95 0.95 -0.95 0.95 -0.95 -0.95zM321.8 205.0l0.95 0.95 -0.95 0.95 -0.95 -0.95zM279.7 242.4l0.95 0.95 -0.95 0.95 -0.95 -0.95zM301.0 220.8l0.95 0.95 -0.95 0.95 -0.95 -0.95zM280.9 241.3l0.95 0.95 -0.95 0.95 -0.95 -0.95zM280.3 241.8l0.95 0.95 -0.95 0.95 -0.95 -0.95zM308.8 213.8l0.95 0.95 -0.95 0.95 -0.95 -0.95zM281.3 238.8l0.95 0.95 -0.95 0.95 -0.95 -0.95zM284.0 239.1l0.95 0.95 -0.95 0.95 -0.95 -0.95zM316.3 206.7l0.95 0.95 -0.95 0.95 -0.95 -0.95zM280.2 245.2l0.95 0.95 -0.95 0.95 -0.95 -0.95zM306.5 215.8l0.95 0.95 -0.95 0.95 -0.95 -0.95zM315.7 209.5l0.95 0.95 -0.95 0.95 -0.95 -0.95zM279.1 242.9l0.95 0.95 -0.95 0.95 -0.95 -0.95zM280.4 238.7l0.95 0.95 -0.95 0.95 -0.95 -0.95zM292.1 233.0l0.95 0.95 -0.95 0.95 -0.95 -0.95zM287.6 234.2l0.95 0.95 -0.95 0.95 -0.95 -0.95zM299.0 224.7l0.95 0.95 -0.95 0.95 -0.95 -0.95zM288.1 235.9l0.95 0.95 -0.95 0.95 -0.95 -0.95zM334.4 194.3l0.95 0.95 -0.95 0.95 -0.95 -0.95zM289.7 233.4l0.95 0.95 -0.95 0.95 -0.95 -0.95zM279.1 242.9l0.95 0.95 -0.95 0.95 -0.95 -0.95zM326.6 200.2l0.95 0.95 -0.95 0.95 -0.95 -0.95zM284.8 236.7l0.95 0.95 -0.95 0.95 -0.95 -0.95zM346.4 187.8l0.95 0.95 -0.95 0.95 -0.95 -0.95zM283.9 240.4l0.95 0.95 -0.95 0.95 -0.95 -0.95zM280.3 242.9l0.95 0.95 -0.95 0.95 -0.95 -0.95zM284.8 238.6l0.95 0.95 -0.95 0.95 -0.95 -0.95zM327.2 199.7l0.95 0.95 -0.95 0.95 -0.95 -0.95zM352.1 183.2l0.95 0.95 -0.95 0.95 -0.95 -0.95zM338.3 194.5l0.95 0.95 -0.95 0.95 -0.95 -0.95zM279.0 242.2l0.95 0.95 -0.95 0.95 -0.95 -0.95zM292.1 230.7l0.95 0.95 -0.95 0.95 -0.95 -0.95zM330.9 196.9l0.95 0.95 -0.95 0.95 -0.95 -0.95zM307.4 212.8l0.95 0.95 -0.95 0.95 -0.95 -0.95zM281.6 239.7l0.95 0.95 -0.95 0.95 -0.95 -0.95zM344.7 189.8l0.95 0.95 -0.95 0.95 -0.95 -0.95zM284.3 237.2l0.95 0.95 -0.95 0.95 -0.95 -0.95zM293.5 230.4l0.95 0.95 -0.95 0.95 -0.95 -0.95zM332.1 195.9l0.95 0.95 -0.95 0.95 -0.95 -0.95zM298.8 222.5l0.95 0.95 -0.95 0.95 -0.95 -0.95zM298.2 223.9l0.95 0.95 -0.95 0.95 -0.95 -0.95zM348.9 186.0l0.95 0.95 -0.95 0.95 -0.95 -0.95zM319.7 204.9l0.95 0.95 -0.95 0.95 -0.95 -0.95zM356.9 182.3l0.95 0.95 -0.95 0.95 -0.95 -0.95zM314.6 210.6l0.95 0.95 -0.95 0.95 -0.95 -0.95zM314.0 209.1l0.95 0.95 -0.95 0.95 -0.95 -0.95zM319.4 206.1l0.95 0.95 -0.95 0.95 -0.95 -0.95zM355.2 181.3l0.95 0.95 -0.95 0.95 -0.95 -0.95zM326.1 198.7l0.95 0.95 -0.95 0.95 -0.95 -0.95zM280.6 240.9l0.95 0.95 -0.95 0.95 -0.95 -0.95zM332.5 194.8l0.95 0.95 -0.95 0.95 -0.95 -0.95zM354.8 181.9l0.95 0.95 -0.95 0.95 -0.95 -0.95zM342.7 190.2l0.95 0.95 -0.95 0.95 -0.95 -0.95zM282.1 240.5l0.95 0.95 -0.95 0.95 -0.95 -0.95zM308.5 213.4l0.95 0.95 -0.95 0.95 -0.95 -0.95zM355.0 184.4l0.95 0.95 -0.95 0.95 -0.95 -0.95zM327.2 200.4l0.95 0.95 -0.95 0.95 -0.95 -0.95zM357.3 183.5l0.95 0.95 -0.95 0.95 -0.95 -0.95zM335.6 194.4l0.95 0.95 -0.95 0.95 -0.95 -0.95zM346.9 188.9l0.95 0.95 -0.95 0.95 -0.95 -0.95zM283.4 238.7l0.95 0.95 -0.95 0.95 -0.95 -0.95zM301.9 219.2l0.95 0.95 -0.95 0.95 -0.95 -0.95zM311.2 212.6l0.95 0.95 -0.95 0.95 -0.95 -0.95zM298.9 224.2l0.95 0.95 -0.95 0.95 -0.95 -0.95zM353.1 185.9l0.95 0.95 -0.95 0.95 -0.95 -0.95zM355.0 183.3l0.95 0.95 -0.95 0.95 -0.95 -0.95zM346.8 189.4l0.95 0.95 -0.95 0.95 -0.95 -0.95zM344.4 187.3l0.95 0.95 -0.95 0.95 -0.95 -0.95zM285.6 236.1l0.95 0.95 -0.95 0.95 -0.95 -0.95zM323.3 205.0l0.95 0.95 -0.95 0.95 -0.95 -0.95zM334.8 194.7l0.95 0.95 -0.95 0.95 -0.95 -0.95zM284.8 238.0l0.95 0.95 -0.95 0.95 -0.95 -0.95zM295.3 224.9l0.95 0.95 -0.95 0.95 -0.95 -0.95zM284.9 236.1l0.95 0.95 -0.95 0.95 -0.95 -0.95zM330.7 195.0l0.95 0.95 -0.95 0.95 -0.95 -0.95zM302.6 221.2l0.95 0.95 -0.95 0.95 -0.95 -0.95zM340.6 191.2l0.95 0.95 -0.95 0.95 -0.95 -0.95zM348.5 186.2l0.95 0.95 -0.95 0.95 -0.95 -0.95zM280.0 242.3l0.95 0.95 -0.95 0.95 -0.95 -0.95zM353.5 183.3l0.95 0.95 -0.95 0.95 -0.95 -0.95zM286.9 235.9l0.95 0.95 -0.95 0.95 -0.95 -0.95zM284.0 238.1l0.95 0.95 -0.95 0.95 -0.95 -0.95zM280.2 242.4l0.95 0.95 -0.95 0.95 -0.95 -0.95zM304.2 222.3l0.95 0.95 -0.95 0.95 -0.95 -0.95zM303.1 218.6l0.95 0.95 -0.95 0.95 -0.95 -0.95zM331.9 196.9l0.95 0.95 -0.95 0.95 -0.95 -0.95zM353.9 183.7l0.95 0.95 -0.95 0.95 -0.95 -0.95zM357.5 183.4l0.95 0.95 -0.95 0.95 -0.95 -0.95zM287.2 235.9l0.95 0.95 -0.95 0.95 -0.95 -0.95zM303.6 218.3l0.95 0.95 -0.95 0.95 -0.95 -0.95zM319.4 204.0l0.95 0.95 -0.95 0.95 -0.95 -0.95zM299.6 224.2l0.95 0.95 -0.95 0.95 -0.95 -0.95zM282.4 241.2l0.95 0.95 -0.95 0.95 -0.95 -0.95zM357.2 183.0l0.95 0.95 -0.95 0.95 -0.95 -0.95zM340.4 192.5l0.95 0.95 -0.95 0.95 -0.95 -0.95zM343.3 188.9l0.95 0.95 -0.95 0.95 -0.95 -0.95zM352.0 185.7l0.95 0.95 -0.95 0.95 -0.95 -0.95zM287.0 236.1l0.95 0.95 -0.95 0.95 -0.95 -0.95zM282.6 242.8l0.95 0.95 -0.95 0.95 -0.95 -0.95zM357.3 183.6l0.95 0.95 -0.95 0.95 -0.95 -0.95zM309.9 214.4l0.95 0.95 -0.95 0.95 -0.95 -0.95zM285.1 238.0l0.95 0.95 -0.95 0.95 -0.95 -0.95zM278.8 241.6l0.95 0.95 -0.95 0.95 -0.95 -0.95zM315.6 208.2l0.95 0.95 -0.95 0.95 -0.95 -0.95zM307.2 213.4l0.95 0.95 -0.95 0.95 -0.95 -0.95zM287.0 237.2l0.95 0.95 -0.95 0.95 -0.95 -0.95zM355.5 183.1l0.95 0.95 -0.95 0.95 -0.95 -0.95zM285.4 236.5l0.95 0.95 -0.95 0.95 -0.95 -0.95zM283.7 238.3l0.95 0.95 -0.95 0.95 -0.95 -0.95zM286.0 238.9l0.95 0.95 -0.95 0.95 -0.95 -0.95zM320.9 204.3l0.95 0.95 -0.95 0.95 -0.95 -0.95zM286.3 235.0l0.95 0.95 -0.95 0.95 -0.95 -0.95zM289.1 236.5l0.95 0.95 -0.95 0.95 -0.95 -0.95zM294.5 229.0l0.95 0.95 -0.95 0.95 -0.95 -0.95zM313.5 211.3l0.95 0.95 -0.95 0.95 -0.95 -0.95zM356.4 183.6l0.95 0.95 -0.95 0.95 -0.95 -0.95zM337.1 194.2l0.95 0.95 -0.95 0.95 -0.95 -0.95zM337.4 194.0l0.95 0.95 -0.95 0.95 -0.95 -0.95zM330.3 196.5l0.95 0.95 -0.95 0.95 -0.95 -0.95zM326.3 199.7l0.95 0.95 -0.95 0.95 -0.95 -0.95zM343.6 187.7l0.95 0.95 -0.95 0.95 -0.95 -0.95zM345.9 188.0l0.95 0.95 -0.95 0.95 -0.95 -0.95zM279.7 242.2l0.95 0.95 -0.95 0.95 -0.95 -0.95zM285.3 236.1l0.95 0.95 -0.95 0.95 -0.95 -0.95zM298.8 222.1l0.95 0.95 -0.95 0.95 -0.95 -0.95zM341.0 191.1l0.95 0.95 -0.95 0.95 -0.95 -0.95zM281.4 241.1l0.95 0.95 -0.95 0.95 -0.95 -0.95zM306.6 214.5l0.95 0.95 -0.95 0.95 -0.95 -0.95zM291.7 231.5l0.95 0.95 -0.95 0.95 -0.95 -0.95zM286.8 236.9l0.95 0.95 -0.95 0.95 -0.95 -0.95zM282.7 241.5l0.95 0.95 -0.95 0.95 -0.95 -0.95zM299.3 221.9l0.95 0.95 -0.95 0.95 -0.95 -0.95zM302.4 224.2l0.95 0.95 -0.95 0.95 -0.95 -0.95zM303.2 223.0l0.95 0.95 -0.95 0.95 -0.95 -0.95zM286.1 234.8l0.95 0.95 -0.95 0.95 -0.95 -0.95zM328.2 197.2l0.95 0.95 -0.95 0.95 -0.95 -0.95zM292.4 229.2l0.95 0.95 -0.95 0.95 -0.95 -0.95zM295.8 225.5l0.95 0.95 -0.95 0.95 -0.95 -0.95zM279.4 243.8l0.95 0.95 -0.95 0.95 -0.95 -0.95zM307.8 213.2l0.95 0.95 -0.95 0.95 -0.95 -0.95zM343.7 190.6l0.95 0.95 -0.95 0.95 -0.95 -0.95zM282.4 242.9l0.95 0.95 -0.95 0.95 -0.95 -0.95zM294.6 225.1l0.95 0.95 -0.95 0.95 -0.95 -0.95zM321.6 201.5l0.95 0.95 -0.95 0.95 -0.95 -0.95zM288.2 232.9l0.95 0.95 -0.95 0.95 -0.95 -0.95zM316.5 205.6l0.95 0.95 -0.95 0.95 -0.95 -0.95zM335.9 194.0l0.95 0.95 -0.95 0.95 -0.95 -0.95zM302.5 219.1l0.95 0.95 -0.95 0.95 -0.95 -0.95zM280.9 240.5l0.95 0.95 -0.95 0.95 -0.95 -0.95zM338.0 195.1l0.95 0.95 -0.95 0.95 -0.95 -0.95zM344.3 189.1l0.95 0.95 -0.95 0.95 -0.95 -0.95zM310.4 215.4l0.95 0.95 -0.95 0.95 -0.95 -0.95zM324.5 201.2l0.95 0.95 -0.95 0.95 -0.95 -0.95zM285.3 238.0l0.95 0.95 -0.95 0.95 -0.95 -0.95zM293.2 228.1l0.95 0.95 -0.95 0.95 -0.95 -0.95zM356.0 184.8l0.95 0.95 -0.95 0.95 -0.95 -0.95zM321.3 204.6l0.95 0.95 -0.95 0.95 -0.95 -0.95zM329.2 199.3l0.95 0.95 -0.95 0.95 -0.95 -0.95zM322.5 202.0l0.95 0.95 -0.95 0.95 -0.95 -0.95zM338.1 194.2l0.95 0.95 -0.95 0.95 -0.95 -0.95zM282.4 242.0l0.95 0.95 -0.95 0.95 -0.95 -0.95zM312.8 212.0l0.95 0.95 -0.95 0.95 -0.95 -0.95zM337.6 192.4l0.95 0.95 -0.95 0.95 -0.95 -0.95zM281.3 241.4l0.95 0.95 -0.95 0.95 -0.95 -0.95zM288.2 236.3l0.95 0.95 -0.95 0.95 -0.95 -0.95zM321.5 203.4l0.95 0.95 -0.95 0.95 -0.95 -0.95zM298.1 224.9l0.95 0.95 -0.95 0.95 -0.95 -0.95zM352.4 185.9l0.95 0.95 -0.95 0.95 -0.95 -0.95zM280.9 241.4l0.95 0.95 -0.95 0.95 -0.95 -0.95zM290.6 232.4l0.95 0.95 -0.95 0.95 -0.95 -0.95zM325.7 202.0l0.95 0.95 -0.95 0.95 -0.95 -0.95zM293.6 227.6l0.95 0.95 -0.95 0.95 -0.95 -0.95zM345.1 187.8l0.95 0.95 -0.95 0.95 -0.95 -0.95zM332.1 195.4l0.95 0.95 -0.95 0.95 -0.95 -0.95zM310.6 214.2l0.95 0.95 -0.95 0.95 -0.95 -0.95zM321.8 200.7l0.95 0.95 -0.95 0.95 -0.95 -0.95zM297.6 225.2l0.95 0.95 -0.95 0.95 -0.95 -0.95zM279.7 241.3l0.95 0.95 -0.95 0.95 -0.95 -0.95zM282.9 242.2l0.95 0.95 -0.95 0.95 -0.95 -0.95zM328.7 197.9l0.95 0.95 -0.95 0.95 -0.95 -0.95zM340.2 189.0l0.95 0.95 -0.95 0.95 -0.95 -0.95zM351.9 184.6l0.95 0.95 -0.95 0.95 -0.95 -0.95zM295.8 227.3l0.95 0.95 -0.95 0.95 -0.95 -0.95zM289.0 232.6l0.95 0.95 -0.95 0.95 -0.95 -0.95zM314.4 211.7l0.95 0.95 -0.95 0.95 -0.95 -0.95zM331.9 196.2l0.95 0.95 -0.95 0.95 -0.95 -0.95z" fill="none" stroke="#2f4f9f" stroke-width="0.7"/>
<path d="M398.7 163.4l0.95 0.95 -0.95 0.95 -0.95 -0.95zM395.9 166.2l0.95 0.95 -0.95 0.95 -0.95 -0.95zM388.7 168.0l0.95 0.95 -0.95 0.95 -0.95 -0.95zM364.4 177.4l0.95 0.95 -0.95 0.95 -0.95 -0.95zM375.9 175.5l0.95 0.95 -0.95 0.95 -0.95 -0.95zM390.8 168.2l0.95 0.95 -0.95 0.95 -0.95 -0.95zM397.9 165.7l0.95 0.95 -0.95 0.95 -0.95 -0.95zM402.0 163.5l0.95 0.95 -0.95 0.95 -0.95 -0.95zM374.9 174.2l0.95 0.95 -0.95 0.95 -0.95 -0.95zM395.0 168.0l0.95 0.95 -0.95 0.95 -0.95 -0.95zM394.3 168.2l0.95 0.95 -0.95 0.95 -0.95 -0.95zM366.6 178.0l0.95 0.95 -0.95 0.95 -0.95 -0.95zM411.8 160.1l0.95 0.95 -0.95 0.95 -0.95 -0.95zM413.0 160.2l0.95 0.95 -0.95 0.95 -0.95 -0.95zM396.2 166.0l0.95 0.95 -0.95 0.95 -0.95 -0.95zM373.1 178.2l0.95 0.95 -0.95 0.95 -0.95 -0.95zM389.5 167.8l0.95 0.95 -0.95 0.95 -0.95 -0.95zM392.1 167.7l0.95 0.95 -0.95 0.95 -0.95 -0.95zM393.4 166.5l0.95 0.95 -0.95 0.95 -0.95 -0.95zM406.7 157.5l0.95 0.95 -0.95 0.95 -0.95 -0.95zM389.8 168.6l0.95 0.95 -0.95 0.95 -0.95 -0.95zM401.8 165.3l0.95 0.95 -0.95 0.95 -0.95 -0.95zM408.2 163.9l0.95 0.95 -0.95 0.95 -0.95 -0.95zM390.6 165.0l0.95 0.95 -0.95 0.95 -0.95 -0.95zM411.5 158.3l0.95 0.95 -0.95 0.95 -0.95 -0.95zM416.7 160.3l0.95 0.95 -0.95 0.95 -0.95 -0.95zM420.5 157.2l0.95 0.95 -0.95 0.95 -0.95 -0.95zM406.7 163.3l0.95 0.95 -0.95 0.95 -0.95 -0.95zM416.0 156.7l0.95 0.95 -0.95 0.95 -0.95 -0.95zM366.3 180.7l0.95 0.95 -0.95 0.95 -0.95 -0.95zM383.6 168.9l0.95 0.95 -0.95 0.95 -0.95 -0.95zM371.2 177.3l0.95 0.95 -0.95 0.95 -0.95 -0.95zM408.5 161.6l0.95 0.95 -0.95 0.95 -0.95 -0.95zM409.1 158.8l0.95 0.95 -0.95 0.95 -0.95 -0.95zM398.2 164.8l0.95 0.95 -0.95 0.95 -0.95 -0.95z" fill="none" stroke="#2f4f9f" stroke-width="0.7"/>
<path d="M438.5 154.1l0.95 0.95 -0.95 0.95 -0.95 -0.95zM425.8 157.2l0.95 0.95 -0.95 0.95 -0.95 -0.95zM432.3 156.3l0.95 0.95 -0.95 0.95 -0.95 -0.95zM437.3 155.2l0.95 0.95 -0.95 0.95 -0.95 -0.95zM437.8 153.8l0.95 0.95 -0.95 0.95 -0.95 -0.95zM426.9 158.0l0.95 0.95 -0.95 0.95 -0.95 -0.95zM433.3 154.7l0.95 0.95 -0.95 0.95 -0.95 -0.95zM426.4 157.8l0.95 0.95 -0.95 0.95 -0.95 -0.95zM426.2 157.8l0.95 0.95 -0.95 0.95 -0.95 -0.95zM433.1 155.6l0.95 0.95 -0.95 0.95 -0.95 -0.95zM439.6 152.2l0.95 0.95 -0.95 0.95 -0.95 -0.95zM439.4 153.2l0.95 0.95 -0.95 0.95 -0.95 -0.95zM439.6 153.9l0.95 0.95 -0.95 0.95 -0.95 -0.95zM432.7 156.1l0.95 0.95 -0.95 0.95 -0.95 -0.95zM440.1 153.7l0.95 0.95 -0.95 0.95 -0.95 -0.95zM439.4 154.3l0.95 0.95 -0.95 0.95 -0.95 -0.95zM429.4 155.7l0.95 0.95 -0.95 0.95 -0.95 -0.95zM440.0 154.3l0.95 0.95 -0.95 0.95 -0.95 -0.95zM425.2 156.8l0.95 0.95 -0.95 0.95 -0.95 -0.95zM437.7 153.8l0.95 0.95 -0.95 0.95 -0.95 -0.95zM425.5 158.5l0.95 0.95 -0.95 0.95 -0.95 -0.95zM439.5 154.3l0.95 0.95 -0.95 0.95 -0.95 -0.95zM435.6 155.2l0.95 0.95 -0.95 0.95 -0.95 -0.95zM434.0 156.9l0.95 0.95 -0.95 0.95 -0.95 -0.95zM428.0 158.7l0.95 0.95 -0.95 0.95 -0.95 -0.95zM430.0 156.4l0.95 0.95 -0.95 0.95 -0.95 -0.95zM422.7 158.0l0.95 0.95 -0.95 0.95 -0.95 -0.95zM431.6 156.3l0.95 0.95 -0.95 0.95 -0.95 -0.95zM432.4 155.2l0.95 0.95 -0.95 0.95 -0.95 -0.95zM429.7 156.8l0.95 0.95 -0.95 0.95 -0.95 -0.95zM437.2 154.8l0.95 0.95 -0.95 0.95 -0.95 -0.95zM423.4 157.2l0.95 0.95 -0.95 0.95 -0.95 -0.95zM427.2 159.1l0.95 0.95 -0.95 0.95 -0.95 -0.95zM431.3 157.2l0.95 0.95 -0.95 0.95 -0.95 -0.95zM434.6 153.6l0.95 0.95 -0.95 0.95 -0.95 -0.95zM438.2 154.1l0.95 0.95 -0.95 0.95 -0.95 -0.95zM435.6 154.3l0.95 0.95 -0.95 0.95 -0.95 -0.95zM428.8 155.7l0.95 0.95 -0.95 0.95 -0.95 -0.95zM441.0 154.1l0.95 0.95 -0.95 0.95 -0.95 -0.95zM426.6 158.8l0.95 0.95 -0.95 0.95 -0.95 -0.95zM436.9 155.7l0.95 0.95 -0.95 0.95 -0.95 -0.95zM438.5 154.9l0.95 0.95 -0.95 0.95 -0.95 -0.95zM440.5 154.2l0.95 0.95 -0.95 0.95 -0.95 -0.95zM427.2 155.9l0.95 0.95 -0.95 0.95 -0.95 -0.95zM439.9 154.1l0.95 0.95 -0.95 0.95 -0.95 -0.95z" fill="none" stroke="#2f4f9f" stroke-width="0.7"/>
<path d="M409.2 159.0l0.95 0.95 -0.95 0.95 -0.95 -0.95zM411.3 160.2l0.95 0.95 -0.95 0.95 -0.95 -0.95zM405.5 159.3l0.95 0.95 -0.95 0.95 -0.95 -0.95zM414.6 158.2l0.95 0.95 -0.95 0.95 -0.95 -0.95zM413.1 158.8l0.95 0.95 -0.95 0.95 -0.95 -0.95zM409.5 158.8l0.95 0.95 -0.95 0.95 -0.95 -0.95z" fill="none" stroke="#2f4f9f" stroke-width="0.7"/>
<polyline points="279.4,243.8 283.7,239.9 288.1,235.9 292.4,231.8 296.7,227.4 301.0,222.9 305.3,218.5 309.7,214.2 314.0,210.3 318.3,206.9 322.6,203.8 326.9,200.9 331.3,198.2 335.6,195.6 339.9,193.1 344.2,190.7 348.5,188.3 352.9,186.0 357.2,183.7 361.5,181.6 365.8,179.5 370.1,177.4 374.5,175.4 378.8,173.4 383.1,171.5 387.4,169.6 391.7,167.8 396.0,166.2 400.4,164.7 404.7,163.3 409.0,162.0 413.3,160.8 417.6,159.6 422.0,158.6 426.3,157.6 430.6,156.6 434.9,155.7 439.2,154.8 443.6,154.1 447.9,153.3" fill="none" stroke="#2f4f9f" stroke-width="0.8"/>
<path d="M352.7 188.0h1.9v1.9h-1.9zM292.7 227.3h1.9v1.9h-1.9zM321.2 203.9h1.9v1.9h-1.9zM294.3 227.7h1.9v1.9h-1.9zM279.4 241.4h1.9v1.9h-1.9zM290.6 228.1h1.9v1.9h-1.9zM345.9 191.3h1.9v1.9h-1.9zM351.6 188.4h1.9v1.9h-1.9zM290.7 232.1h1.9v1.9h-1.9zM316.6 205.2h1.9v1.9h-1.9zM284.0 236.3h1.9v1.9h-1.9zM309.7 212.5h1.9v1.9h-1.9zM332.4 195.7h1.9v1.9h-1.9zM278.6 243.2h1.9v1.9h-1.9zM305.4 213.4h1.9v1.9h-1.9zM349.4 187.9h1.9v1.9h-1.9zM305.4 217.5h1.9v1.9h-1.9zM301.3 221.5h1.9v1.9h-1.9zM337.2 193.6h1.9v1.9h-1.9zM277.4 245.0h1.9v1.9h-1.9zM286.5 232.9h1.9v1.9h-1.9zM289.8 228.7h1.9v1.9h-1.9zM354.1 188.3h1.9v1.9h-1.9zM291.8 227.2h1.9v1.9h-1.9zM277.1 243.9h1.9v1.9h-1.9zM282.6 238.8h1.9v1.9h-1.9zM291.6 230.7h1.9v1.9h-1.9zM338.5 191.2h1.9v1.9h-1.9zM283.2 241.0h1.9v1.9h-1.9zM319.8 200.2h1.9v1.9h-1.9zM337.8 193.2h1.9v1.9h-1.9zM355.2 186.6h1.9v1.9h-1.9zM325.5 201.5h1.9v1.9h-1.9zM333.7 197.8h1.9v1.9h-1.9zM354.9 189.4h1.9v1.9h-1.9zM290.6 229.0h1.9v1.9h-1.9zM280.6 240.2h1.9v1.9h-1.9zM327.5 199.4h1.9v1.9h-1.9zM286.1 233.5h1.9v1.9h-1.9zM323.6 200.6h1.9v1.9h-1.9zM285.9 234.4h1.9v1.9h-1.9zM295.3 225.1h1.9v1.9h-1.9zM355.0 189.1h1.9v1.9h-1.9zM277.2 245.9h1.9v1.9h-1.9zM300.9 219.0h1.9v1.9h-1.9zM332.4 196.0h1.9v1.9h-1.9zM289.1 232.6h1.9v1.9h-1.9zM326.2 200.8h1.9v1.9h-1.9zM277.0 242.2h1.9v1.9h-1.9zM328.5 195.1h1.9v1.9h-1.9zM281.1 240.9h1.9v1.9h-1.9zM277.3 244.7h1.9v1.9h-1.9zM278.9 241.3h1.9v1.9h-1.9zM304.1 216.2h1.9v1.9h-1.9zM322.0 198.5h1.9v1.9h-1.9zM277.1 244.8h1.9v1.9h-1.9zM304.5 216.1h1.9v1.9h-1.9zM279.4 246.2h1.9v1.9h-1.9zM313.2 208.0h1.9v1.9h-1.9zM283.1 237.8h1.9v1.9h-1.9zM347.0 190.2h1.9v1.9h-1.9zM346.7 190.3h1.9v1.9h-1.9zM277.3 242.1h1.9v1.9h-1.9zM305.1 216.1h1.9v1.9h-1.9zM284.2 234.9h1.9v1.9h-1.9zM288.3 231.6h1.9v1.9h-1.9zM335.5 192.7h1.9v1.9h-1.9zM284.0 238.3h1.9v1.9h-1.9zM352.0 186.4h1.9v1.9h-1.9zM329.5 198.2h1.9v1.9h-1.9zM276.8 244.4h1.9v1.9h-1.9zM280.0 240.2h1.9v1.9h-1.9zM319.2 204.1h1.9v1.9h-1.9zM340.4 193.8h1.9v1.9h-1.9zM309.3 212.2h1.9v1.9h-1.9zM327.7 197.7h1.9v1.9h-1.9zM278.2 242.8h1.9v1.9h-1.9zM321.8 203.9h1.9v1.9h-1.9zM280.1 241.4h1.9v1.9h-1.9zM315.9 204.1h1.9v1.9h-1.9zM302.0 219.1h1.9v1.9h-1.9zM320.3 204.2h1.9v1.9h-1.9zM333.7 195.9h1.9v1.9h-1.9zM296.2 222.3h1.9v1.9h-1.9zM291.5 227.6h1.9v1.9h-1.9zM325.0 201.8h1.9v1.9h-1.9zM348.8 189.9h1.9v1.9h-1.9zM283.6 236.6h1.9v1.9h-1.9zM304.6 215.3h1.9v1.9h-1.9zM327.5 198.7h1.9v1.9h-1.9zM306.2 213.5h1.9v1.9h-1.9zM284.0 234.7h1.9v1.9h-1.9zM323.6 200.0h1.9v1.9h-1.9zM324.8 199.5h1.9v1.9h-1.9zM292.3 224.9h1.9v1.9h-1.9zM334.8 195.1h1.9v1.9h-1.9zM348.4 190.8h1.9v1.9h-1.9zM304.5 217.2h1.9v1.9h-1.9zM282.0 236.5h1.9v1.9h-1.9zM277.6 245.2h1.9v1.9h-1.9zM341.2 193.3h1.9v1.9h-1.9zM349.8 188.6h1.9v1.9h-1.9zM299.2 216.7h1.9v1.9h-1.9zM281.6 234.7h1.9v1.9h-1.9zM283.5 239.3h1.9v1.9h-1.9zM283.3 237.5h1.9v1.9h-1.9zM288.0 231.2h1.9v1.9h-1.9zM278.4 244.6h1.9v1.9h-1.9zM293.0 229.2h1.9v1.9h-1.9zM277.2 246.9h1.9v1.9h-1.9zM313.2 207.9h1.9v1.9h-1.9zM345.1 191.6h1.9v1.9h-1.9zM293.6 229.4h1.9v1.9h-1.9zM304.9 214.7h1.9v1.9h-1.9zM322.8 204.7h1.9v1.9h-1.9zM321.3 202.8h1.9v1.9h-1.9zM289.3 228.2h1.9v1.9h-1.9zM292.8 226.3h1.9v1.9h-1.9zM337.1 197.1h1.9v1.9h-1.9zM319.7 205.2h1.9v1.9h-1.9zM295.7 222.4h1.9v1.9h-1.9zM288.2 232.0h1.9v1.9h-1.9zM355.5 183.6h1.9v1.9h-1.9zM356.4 187.1h1.9v1.9h-1.9zM339.7 193.0h1.9v1.9h-1.9zM295.9 225.9h1.9v1.9h-1.9zM293.7 226.7h1.9v1.9h-1.9zM277.5 243.9h1.9v1.9h-1.9zM304.8 215.0h1.9v1.9h-1.9zM353.2 184.9h1.9v1.9h-1.9zM318.9 207.2h1.9v1.9h-1.9zM306.6 211.7h1.9v1.9h-1.9zM314.1 207.3h1.9v1.9h-1.9zM310.7 212.4h1.9v1.9h-1.9zM331.4 199.4h1.9v1.9h-1.9zM281.2 241.3h1.9v1.9h-1.9zM294.2 226.9h1.9v1.9h-1.9zM277.6 243.0h1.9v1.9h-1.9zM343.5 189.6h1.9v1.9h-1.9zM291.5 227.7h1.9v1.9h-1.9zM342.0 192.5h1.9v1.9h-1.9zM291.7 227.2h1.9v1.9h-1.9zM311.6 210.3h1.9v1.9h-1.9zM322.9 203.4h1.9v1.9h-1.9zM317.2 205.3h1.9v1.9h-1.9zM325.2 203.9h1.9v1.9h-1.9zM289.5 228.7h1.9v1.9h-1.9zM325.1 200.6h1.9v1.9h-1.9zM295.4 224.5h1.9v1.9h-1.9zM280.1 243.5h1.9v1.9h-1.9zM346.8 188.8h1.9v1.9h-1.9zM332.1 195.4h1.9v1.9h-1.9zM325.3 200.8h1.9v1.9h-1.9zM343.9 194.9h1.9v1.9h-1.9zM294.8 225.8h1.9v1.9h-1.9zM347.2 189.4h1.9v1.9h-1.9zM292.9 228.8h1.9v1.9h-1.9zM306.0 214.0h1.9v1.9h-1.9zM314.6 210.0h1.9v1.9h-1.9zM295.2 225.1h1.9v1.9h-1.9zM278.1 244.3h1.9v1.9h-1.9zM278.2 244.7h1.9v1.9h-1.9zM285.7 237.2h1.9v1.9h-1.9zM281.2 238.3h1.9v1.9h-1.9zM288.9 231.9h1.9v1.9h-1.9zM280.0 242.8h1.9v1.9h-1.9zM288.4 232.7h1.9v1.9h-1.9zM297.8 222.3h1.9v1.9h-1.9zM313.1 209.2h1.9v1.9h-1.9zM317.8 207.3h1.9v1.9h-1.9zM305.4 214.0h1.9v1.9h-1.9zM319.4 204.6h1.9v1.9h-1.9zM320.2 202.1h1.9v1.9h-1.9zM305.9 215.9h1.9v1.9h-1.9zM325.2 198.6h1.9v1.9h-1.9zM277.4 247.3h1.9v1.9h-1.9zM349.8 187.8h1.9v1.9h-1.9zM316.3 206.2h1.9v1.9h-1.9zM279.5 242.6h1.9v1.9h-1.9zM328.6 197.5h1.9v1.9h-1.9zM340.9 194.5h1.9v1.9h-1.9zM335.3 194.2h1.9v1.9h-1.9zM335.5 196.9h1.9v1.9h-1.9zM286.8 235.3h1.9v1.9h-1.9zM302.8 216.6h1.9v1.9h-1.9zM291.7 228.1h1.9v1.9h-1.9zM342.0 192.5h1.9v1.9h-1.9zM310.2 212.4h1.9v1.9h-1.9zM317.8 207.5h1.9v1.9h-1.9zM336.0 194.6h1.9v1.9h-1.9zM306.4 214.7h1.9v1.9h-1.9zM279.8 242.7h1.9v1.9h-1.9zM278.6 245.4h1.9v1.9h-1.9zM314.6 208.4h1.9v1.9h-1.9zM277.1 243.1h1.9v1.9h-1.9zM280.3 239.4h1.9v1.9h-1.9zM319.7 204.0h1.9v1.9h-1.9zM350.6 187.0h1.9v1.9h-1.9zM284.1 238.4h1.9v1.9h-1.9zM283.2 236.6h1.9v1.9h-1.9zM337.7 191.0h1.9v1.9h-1.9zM314.7 208.3h1.9v1.9h-1.9zM329.0 200.6h1.9v1.9h-1.9zM293.5 228.7h1.9v1.9h-1.9zM332.0 195.9h1.9v1.9h-1.9zM306.4 212.3h1.9v1.9h-1.9zM307.4 211.3h1.9v1.9h-1.9zM299.0 217.9h1.9v1.9h-1.9zM279.1 240.1h1.9v1.9h-1.9zM279.5 240.7h1.9v1.9h-1.9zM343.0 192.3h1.9v1.9h-1.9zM277.4 243.3h1.9v1.9h-1.9zM303.5 216.3h1.9v1.9h-1.9zM282.5 238.2h1.9v1.9h-1.9zM278.1 244.0h1.9v1.9h-1.9zM318.4 205.7h1.9v1.9h-1.9zM282.1 241.2h1.9v1.9h-1.9zM322.9 203.5h1.9v1.9h-1.9zM306.5 212.7h1.9v1.9h-1.9zM277.1 244.3h1.9v1.9h-1.9zM354.7 188.8h1.9v1.9h-1.9zM300.8 222.1h1.9v1.9h-1.9zM308.5 212.0h1.9v1.9h-1.9zM330.2 197.3h1.9v1.9h-1.9zM336.5 193.8h1.9v1.9h-1.9zM348.3 189.9h1.9v1.9h-1.9zM337.3 190.1h1.9v1.9h-1.9zM292.8 224.9h1.9v1.9h-1.9zM339.2 194.7h1.9v1.9h-1.9zM335.8 200.0h1.9v1.9h-1.9zM320.8 204.5h1.9v1.9h-1.9zM311.8 210.6h1.9v1.9h-1.9zM324.2 201.3h1.9v1.9h-1.9zM290.7 232.2h1.9v1.9h-1.9zM347.9 189.3h1.9v1.9h-1.9zM313.1 208.9h1.9v1.9h-1.9zM346.2 189.4h1.9v1.9h-1.9zM302.1 217.5h1.9v1.9h-1.9zM327.7 198.0h1.9v1.9h-1.9zM283.3 237.5h1.9v1.9h-1.9z" fill="none" stroke="#e0262a" stroke-width="0.7"/>
<path d="M358.9 186.4h1.9v1.9h-1.9zM417.8 166.4h1.9v1.9h-1.9zM360.9 183.6h1.9v1.9h-1.9zM405.8 167.4h1.9v1.9h-1.9zM396.6 171.4h1.9v1.9h-1.9zM419.1 164.0h1.9v1.9h-1.9zM374.7 180.3h1.9v1.9h-1.9zM364.8 185.8h1.9v1.9h-1.9zM388.2 174.3h1.9v1.9h-1.9zM366.2 183.4h1.9v1.9h-1.9zM382.6 177.9h1.9v1.9h-1.9zM387.6 174.5h1.9v1.9h-1.9zM379.5 177.0h1.9v1.9h-1.9zM385.6 173.9h1.9v1.9h-1.9zM374.4 178.3h1.9v1.9h-1.9zM371.0 180.3h1.9v1.9h-1.9zM405.3 168.9h1.9v1.9h-1.9zM418.3 164.1h1.9v1.9h-1.9zM416.7 169.1h1.9v1.9h-1.9zM376.7 180.0h1.9v1.9h-1.9zM369.6 183.2h1.9v1.9h-1.9zM416.8 166.9h1.9v1.9h-1.9zM379.4 177.2h1.9v1.9h-1.9zM362.9 184.9h1.9v1.9h-1.9zM405.6 167.0h1.9v1.9h-1.9zM380.4 176.9h1.9v1.9h-1.9zM413.8 165.0h1.9v1.9h-1.9zM418.2 163.1h1.9v1.9h-1.9zM397.5 172.5h1.9v1.9h-1.9zM370.5 180.4h1.9v1.9h-1.9zM360.4 184.6h1.9v1.9h-1.9zM374.9 178.8h1.9v1.9h-1.9zM397.2 169.7h1.9v1.9h-1.9zM372.2 182.0h1.9v1.9h-1.9zM371.6 183.7h1.9v1.9h-1.9zM392.2 175.2h1.9v1.9h-1.9zM362.6 182.9h1.9v1.9h-1.9zM360.8 182.9h1.9v1.9h-1.9zM415.7 166.3h1.9v1.9h-1.9zM413.8 164.2h1.9v1.9h-1.9zM375.6 180.5h1.9v1.9h-1.9zM401.2 168.3h1.9v1.9h-1.9zM373.2 180.0h1.9v1.9h-1.9zM390.6 174.4h1.9v1.9h-1.9zM397.7 172.0h1.9v1.9h-1.9z" fill="none" stroke="#e0262a" stroke-width="0.7"/>
<polyline points="278.0,245.5 281.7,241.3 285.4,237.2 289.1,233.3 292.7,229.5 296.4,225.7 300.1,222.0 303.7,218.4 307.4,215.0 311.1,211.8 314.7,209.0 318.4,206.4 322.1,204.0 325.7,201.8 329.4,199.7 333.1,197.7 336.7,195.9 340.4,194.1 344.1,192.5 347.8,190.9 351.4,189.5 355.1,188.2 358.8,187.0 362.4,185.8 366.1,184.5 369.8,183.2 373.4,181.9 377.1,180.4 380.8,179.0 384.4,177.5 388.1,176.2 391.8,174.9 395.5,173.6 399.1,172.4 402.8,171.1 406.5,170.0 410.1,168.8 413.8,167.7 417.5,166.6 421.1,165.6" fill="none" stroke="#e0262a" stroke-width="0.8"/>
<path d="M322.0 202.6l0.95 1.71h-1.9zM300.6 222.1l0.95 1.71h-1.9zM302.3 220.2l0.95 1.71h-1.9zM288.3 232.9l0.95 1.71h-1.9zM337.4 194.2l0.95 1.71h-1.9zM322.0 201.0l0.95 1.71h-1.9zM319.9 206.6l0.95 1.71h-1.9zM299.0 224.1l0.95 1.71h-1.9zM311.2 214.4l0.95 1.71h-1.9zM280.3 243.7l0.95 1.71h-1.9zM286.6 238.5l0.95 1.71h-1.9zM312.5 210.9l0.95 1.71h-1.9zM311.8 213.6l0.95 1.71h-1.9zM295.9 225.3l0.95 1.71h-1.9zM355.5 184.6l0.95 1.71h-1.9zM357.1 184.9l0.95 1.71h-1.9zM295.7 228.6l0.95 1.71h-1.9zM290.5 234.4l0.95 1.71h-1.9zM288.6 236.2l0.95 1.71h-1.9zM295.7 225.7l0.95 1.71h-1.9zM340.1 191.4l0.95 1.71h-1.9zM288.2 234.9l0.95 1.71h-1.9zM287.4 238.1l0.95 1.71h-1.9zM299.5 226.2l0.95 1.71h-1.9zM341.4 196.0l0.95 1.71h-1.9zM329.8 199.2l0.95 1.71h-1.9zM305.9 216.8l0.95 1.71h-1.9zM286.9 238.1l0.95 1.71h-1.9zM334.2 196.4l0.95 1.71h-1.9zM284.9 241.0l0.95 1.71h-1.9zM278.1 247.4l0.95 1.71h-1.9zM289.9 235.8l0.95 1.71h-1.9zM286.8 236.5l0.95 1.71h-1.9zM332.1 198.6l0.95 1.71h-1.9zM315.2 207.7l0.95 1.71h-1.9zM278.5 243.0l0.95 1.71h-1.9zM349.5 188.7l0.95 1.71h-1.9zM334.5 195.5l0.95 1.71h-1.9zM290.0 230.8l0.95 1.71h-1.9zM306.9 215.6l0.95 1.71h-1.9zM322.0 205.3l0.95 1.71h-1.9zM293.8 233.2l0.95 1.71h-1.9zM319.3 205.8l0.95 1.71h-1.9zM313.2 212.9l0.95 1.71h-1.9zM291.0 233.3l0.95 1.71h-1.9zM350.9 188.9l0.95 1.71h-1.9zM330.8 199.7l0.95 1.71h-1.9zM283.9 240.4l0.95 1.71h-1.9zM322.4 201.4l0.95 1.71h-1.9zM314.9 211.6l0.95 1.71h-1.9zM301.1 225.6l0.95 1.71h-1.9zM312.3 211.9l0.95 1.71h-1.9zM285.8 238.1l0.95 1.71h-1.9zM344.9 189.5l0.95 1.71h-1.9zM332.8 197.4l0.95 1.71h-1.9zM324.6 203.8l0.95 1.71h-1.9zM314.8 212.7l0.95 1.71h-1.9zM305.4 217.8l0.95 1.71h-1.9zM346.6 189.2l0.95 1.71h-1.9zM341.0 191.7l0.95 1.71h-1.9zM312.3 213.8l0.95 1.71h-1.9zM297.6 228.0l0.95 1.71h-1.9zM314.3 209.1l0.95 1.71h-1.9zM292.4 232.8l0.95 1.71h-1.9zM349.6 186.1l0.95 1.71h-1.9zM337.1 194.2l0.95 1.71h-1.9zM280.7 243.8l0.95 1.71h-1.9zM324.1 204.5l0.95 1.71h-1.9zM352.9 183.6l0.95 1.71h-1.9zM284.7 240.6l0.95 1.71h-1.9zM355.1 184.5l0.95 1.71h-1.9zM293.8 232.3l0.95 1.71h-1.9zM310.3 214.6l0.95 1.71h-1.9zM311.9 216.1l0.95 1.71h-1.9zM280.2 242.3l0.95 1.71h-1.9zM279.3 246.3l0.95 1.71h-1.9zM303.0 221.1l0.95 1.71h-1.9zM280.5 240.9l0.95 1.71h-1.9zM354.4 184.7l0.95 1.71h-1.9zM304.0 221.8l0.95 1.71h-1.9zM334.2 194.9l0.95 1.71h-1.9zM320.8 206.0l0.95 1.71h-1.9zM351.6 183.7l0.95 1.71h-1.9zM328.8 198.6l0.95 1.71h-1.9zM290.0 232.1l0.95 1.71h-1.9zM346.4 189.7l0.95 1.71h-1.9zM347.3 187.0l0.95 1.71h-1.9zM292.7 230.9l0.95 1.71h-1.9zM319.2 205.6l0.95 1.71h-1.9zM353.1 182.5l0.95 1.71h-1.9zM312.4 210.9l0.95 1.71h-1.9zM316.8 207.8l0.95 1.71h-1.9zM347.2 189.2l0.95 1.71h-1.9zM284.6 239.3l0.95 1.71h-1.9zM297.5 224.6l0.95 1.71h-1.9zM292.0 230.5l0.95 1.71h-1.9zM310.7 210.6l0.95 1.71h-1.9zM326.6 199.3l0.95 1.71h-1.9zM353.8 186.7l0.95 1.71h-1.9zM327.7 200.8l0.95 1.71h-1.9zM309.6 214.6l0.95 1.71h-1.9zM285.3 237.6l0.95 1.71h-1.9zM283.4 241.5l0.95 1.71h-1.9zM300.8 222.7l0.95 1.71h-1.9zM300.4 222.3l0.95 1.71h-1.9zM282.1 243.2l0.95 1.71h-1.9zM307.5 213.6l0.95 1.71h-1.9zM334.7 195.5l0.95 1.71h-1.9zM296.9 231.3l0.95 1.71h-1.9zM336.2 194.6l0.95 1.71h-1.9zM354.4 183.5l0.95 1.71h-1.9zM344.7 190.4l0.95 1.71h-1.9zM283.7 242.8l0.95 1.71h-1.9zM281.8 242.0l0.95 1.71h-1.9zM334.0 198.3l0.95 1.71h-1.9zM350.4 189.4l0.95 1.71h-1.9zM281.4 243.6l0.95 1.71h-1.9zM342.5 191.5l0.95 1.71h-1.9zM294.5 228.6l0.95 1.71h-1.9zM344.3 189.6l0.95 1.71h-1.9zM322.8 205.0l0.95 1.71h-1.9zM279.2 244.0l0.95 1.71h-1.9zM289.4 232.7l0.95 1.71h-1.9zM319.1 207.6l0.95 1.71h-1.9zM297.0 224.4l0.95 1.71h-1.9zM341.3 192.0l0.95 1.71h-1.9zM331.2 196.0l0.95 1.71h-1.9zM317.5 209.0l0.95 1.71h-1.9zM304.4 218.0l0.95 1.71h-1.9zM296.1 227.9l0.95 1.71h-1.9zM338.0 193.4l0.95 1.71h-1.9zM345.4 189.6l0.95 1.71h-1.9zM294.2 230.1l0.95 1.71h-1.9zM281.6 243.3l0.95 1.71h-1.9zM319.0 207.7l0.95 1.71h-1.9zM308.6 215.5l0.95 1.71h-1.9zM302.5 222.6l0.95 1.71h-1.9zM280.3 243.6l0.95 1.71h-1.9zM307.6 217.6l0.95 1.71h-1.9zM285.5 238.6l0.95 1.71h-1.9zM292.0 236.7l0.95 1.71h-1.9zM320.3 205.9l0.95 1.71h-1.9zM293.1 230.8l0.95 1.71h-1.9zM348.1 188.2l0.95 1.71h-1.9zM295.5 227.2l0.95 1.71h-1.9zM285.6 239.4l0.95 1.71h-1.9zM291.1 234.4l0.95 1.71h-1.9zM301.7 222.0l0.95 1.71h-1.9zM284.3 238.6l0.95 1.71h-1.9zM280.8 245.0l0.95 1.71h-1.9zM333.7 196.8l0.95 1.71h-1.9zM313.1 208.8l0.95 1.71h-1.9zM346.4 189.4l0.95 1.71h-1.9zM280.2 248.3l0.95 1.71h-1.9zM285.5 240.3l0.95 1.71h-1.9zM294.2 230.7l0.95 1.71h-1.9zM279.4 247.9l0.95 1.71h-1.9zM347.0 188.5l0.95 1.71h-1.9zM338.1 191.6l0.95 1.71h-1.9zM341.6 191.0l0.95 1.71h-1.9zM282.6 241.8l0.95 1.71h-1.9zM298.9 226.2l0.95 1.71h-1.9zM319.6 206.1l0.95 1.71h-1.9zM283.0 244.7l0.95 1.71h-1.9zM323.9 206.2l0.95 1.71h-1.9zM279.9 240.1l0.95 1.71h-1.9zM288.5 236.2l0.95 1.71h-1.9zM331.4 194.8l0.95 1.71h-1.9zM288.2 236.7l0.95 1.71h-1.9zM310.0 215.0l0.95 1.71h-1.9zM311.8 212.1l0.95 1.71h-1.9zM279.5 245.9l0.95 1.71h-1.9zM298.8 224.0l0.95 1.71h-1.9zM351.4 185.8l0.95 1.71h-1.9zM338.0 194.8l0.95 1.71h-1.9zM279.8 246.2l0.95 1.71h-1.9zM312.6 210.1l0.95 1.71h-1.9zM280.0 244.7l0.95 1.71h-1.9zM329.1 198.1l0.95 1.71h-1.9zM293.5 231.5l0.95 1.71h-1.9zM279.7 243.9l0.95 1.71h-1.9zM306.8 215.4l0.95 1.71h-1.9zM320.1 207.3l0.95 1.71h-1.9zM341.6 191.6l0.95 1.71h-1.9zM289.7 236.3l0.95 1.71h-1.9zM285.3 238.0l0.95 1.71h-1.9zM341.0 193.1l0.95 1.71h-1.9zM313.1 210.5l0.95 1.71h-1.9zM318.0 208.6l0.95 1.71h-1.9zM352.4 183.6l0.95 1.71h-1.9zM308.9 213.9l0.95 1.71h-1.9zM309.4 213.8l0.95 1.71h-1.9zM289.4 234.4l0.95 1.71h-1.9zM316.5 208.7l0.95 1.71h-1.9zM288.2 237.1l0.95 1.71h-1.9zM286.0 240.0l0.95 1.71h-1.9zM300.4 226.7l0.95 1.71h-1.9zM286.5 241.0l0.95 1.71h-1.9zM318.2 208.2l0.95 1.71h-1.9zM358.0 183.9l0.95 1.71h-1.9z" fill="none" stroke="#2ca14a" stroke-width="0.7"/>
<path d="M391.2 169.0l0.95 1.71h-1.9zM379.4 176.4l0.95 1.71h-1.9zM379.5 173.7l0.95 1.71h-1.9zM376.9 172.7l0.95 1.71h-1.9zM381.7 174.8l0.95 1.71h-1.9zM394.6 169.0l0.95 1.71h-1.9zM390.1 171.4l0.95 1.71h-1.9zM362.7 182.8l0.95 1.71h-1.9zM393.0 167.8l0.95 1.71h-1.9zM370.3 178.4l0.95 1.71h-1.9zM378.1 175.1l0.95 1.71h-1.9zM378.8 170.8l0.95 1.71h-1.9zM362.9 179.9l0.95 1.71h-1.9zM379.1 177.4l0.95 1.71h-1.9zM362.8 179.2l0.95 1.71h-1.9zM362.8 178.9l0.95 1.71h-1.9zM382.8 171.6l0.95 1.71h-1.9zM389.2 166.0l0.95 1.71h-1.9zM395.6 169.2l0.95 1.71h-1.9zM358.3 182.6l0.95 1.71h-1.9zM383.0 173.2l0.95 1.71h-1.9zM395.1 170.5l0.95 1.71h-1.9zM386.3 169.6l0.95 1.71h-1.9zM393.0 168.6l0.95 1.71h-1.9zM362.7 183.5l0.95 1.71h-1.9zM382.1 170.5l0.95 1.71h-1.9zM368.2 179.1l0.95 1.71h-1.9zM368.0 177.9l0.95 1.71h-1.9zM385.3 170.1l0.95 1.71h-1.9zM388.0 173.7l0.95 1.71h-1.9z" fill="none" stroke="#2ca14a" stroke-width="0.7"/>
<polyline points="279.4,246.7 282.4,243.3 285.5,240.0 288.5,236.8 291.5,233.6 294.5,230.5 297.5,227.3 300.6,224.2 303.6,221.2 306.6,218.2 309.6,215.4 312.6,212.7 315.6,210.1 318.7,207.8 321.7,205.5 324.7,203.4 327.7,201.3 330.7,199.3 333.8,197.4 336.8,195.6 339.8,193.8 342.8,192.0 345.8,190.4 348.9,188.7 351.9,187.1 354.9,185.6 357.9,184.0 360.9,182.6 363.9,181.2 367.0,179.9 370.0,178.6 373.0,177.3 376.0,176.2 379.0,175.0 382.1,173.9 385.1,172.8 388.1,171.8 391.1,170.9 394.1,169.9 397.2,169.1" fill="none" stroke="#2ca14a" stroke-width="0.8"/>
<path d="M333.8 197.1a0.95 0.95 0 1 0 1.9 0a0.95 0.95 0 1 0 -1.9 0M342.3 195.4a0.95 0.95 0 1 0 1.9 0a0.95 0.95 0 1 0 -1.9 0M290.8 235.7a0.95 0.95 0 1 0 1.9 0a0.95 0.95 0 1 0 -1.9 0M293.5 232.7a0.95 0.95 0 1 0 1.9 0a0.95 0.95 0 1 0 -1.9 0M308.9 215.6a0.95 0.95 0 1 0 1.9 0a0.95 0.95 0 1 0 -1.9 0M295.4 234.1a0.95 0.95 0 1 0 1.9 0a0.95 0.95 0 1 0 -1.9 0M293.6 235.5a0.95 0.95 0 1 0 1.9 0a0.95 0.95 0 1 0 -1.9 0M302.9 224.1a0.95 0.95 0 1 0 1.9 0a0.95 0.95 0 1 0 -1.9 0M288.5 239.4a0.95 0.95 0 1 0 1.9 0a0.95 0.95 0 1 0 -1.9 0M297.6 229.6a0.95 0.95 0 1 0 1.9 0a0.95 0.95 0 1 0 -1.9 0M339.3 192.7a0.95 0.95 0 1 0 1.9 0a0.95 0.95 0 1 0 -1.9 0M329.6 199.6a0.95 0.95 0 1 0 1.9 0a0.95 0.95 0 1 0 -1.9 0M282.7 245.8a0.95 0.95 0 1 0 1.9 0a0.95 0.95 0 1 0 -1.9 0M341.3 194.3a0.95 0.95 0 1 0 1.9 0a0.95 0.95 0 1 0 -1.9 0M337.4 192.4a0.95 0.95 0 1 0 1.9 0a0.95 0.95 0 1 0 -1.9 0M355.6 182.3a0.95 0.95 0 1 0 1.9 0a0.95 0.95 0 1 0 -1.9 0M329.6 199.1a0.95 0.95 0 1 0 1.9 0a0.95 0.95 0 1 0 -1.9 0M281.9 242.9a0.95 0.95 0 1 0 1.9 0a0.95 0.95 0 1 0 -1.9 0M349.3 186.1a0.95 0.95 0 1 0 1.9 0a0.95 0.95 0 1 0 -1.9 0M350.1 185.6a0.95 0.95 0 1 0 1.9 0a0.95 0.95 0 1 0 -1.9 0M280.8 243.7a0.95 0.95 0 1 0 1.9 0a0.95 0.95 0 1 0 -1.9 0M291.4 237.3a0.95 0.95 0 1 0 1.9 0a0.95 0.95 0 1 0 -1.9 0M279.6 246.0a0.95 0.95 0 1 0 1.9 0a0.95 0.95 0 1 0 -1.9 0M291.5 236.8a0.95 0.95 0 1 0 1.9 0a0.95 0.95 0 1 0 -1.9 0M346.9 186.6a0.95 0.95 0 1 0 1.9 0a0.95 0.95 0 1 0 -1.9 0M301.6 227.5a0.95 0.95 0 1 0 1.9 0a0.95 0.95 0 1 0 -1.9 0M353.3 185.1a0.95 0.95 0 1 0 1.9 0a0.95 0.95 0 1 0 -1.9 0M338.0 193.4a0.95 0.95 0 1 0 1.9 0a0.95 0.95 0 1 0 -1.9 0M353.3 185.2a0.95 0.95 0 1 0 1.9 0a0.95 0.95 0 1 0 -1.9 0M299.9 230.2a0.95 0.95 0 1 0 1.9 0a0.95 0.95 0 1 0 -1.9 0M288.2 238.7a0.95 0.95 0 1 0 1.9 0a0.95 0.95 0 1 0 -1.9 0M303.8 225.0a0.95 0.95 0 1 0 1.9 0a0.95 0.95 0 1 0 -1.9 0M292.3 234.8a0.95 0.95 0 1 0 1.9 0a0.95 0.95 0 1 0 -1.9 0M351.7 182.5a0.95 0.95 0 1 0 1.9 0a0.95 0.95 0 1 0 -1.9 0M281.1 240.6a0.95 0.95 0 1 0 1.9 0a0.95 0.95 0 1 0 -1.9 0M297.1 233.3a0.95 0.95 0 1 0 1.9 0a0.95 0.95 0 1 0 -1.9 0M315.5 211.0a0.95 0.95 0 1 0 1.9 0a0.95 0.95 0 1 0 -1.9 0M306.3 220.6a0.95 0.95 0 1 0 1.9 0a0.95 0.95 0 1 0 -1.9 0M299.8 226.8a0.95 0.95 0 1 0 1.9 0a0.95 0.95 0 1 0 -1.9 0M302.0 228.1a0.95 0.95 0 1 0 1.9 0a0.95 0.95 0 1 0 -1.9 0M316.6 210.0a0.95 0.95 0 1 0 1.9 0a0.95 0.95 0 1 0 -1.9 0M285.1 240.4a0.95 0.95 0 1 0 1.9 0a0.95 0.95 0 1 0 -1.9 0M279.8 240.1a0.95 0.95 0 1 0 1.9 0a0.95 0.95 0 1 0 -1.9 0M291.1 234.5a0.95 0.95 0 1 0 1.9 0a0.95 0.95 0 1 0 -1.9 0M280.8 238.2a0.95 0.95 0 1 0 1.9 0a0.95 0.95 0 1 0 -1.9 0M296.6 228.9a0.95 0.95 0 1 0 1.9 0a0.95 0.95 0 1 0 -1.9 0M331.9 198.1a0.95 0.95 0 1 0 1.9 0a0.95 0.95 0 1 0 -1.9 0M329.2 205.2a0.95 0.95 0 1 0 1.9 0a0.95 0.95 0 1 0 -1.9 0M313.9 213.7a0.95 0.95 0 1 0 1.9 0a0.95 0.95 0 1 0 -1.9 0M320.6 207.2a0.95 0.95 0 1 0 1.9 0a0.95 0.95 0 1 0 -1.9 0M340.4 194.4a0.95 0.95 0 1 0 1.9 0a0.95 0.95 0 1 0 -1.9 0M342.6 190.3a0.95 0.95 0 1 0 1.9 0a0.95 0.95 0 1 0 -1.9 0M317.3 209.7a0.95 0.95 0 1 0 1.9 0a0.95 0.95 0 1 0 -1.9 0M284.7 241.6a0.95 0.95 0 1 0 1.9 0a0.95 0.95 0 1 0 -1.9 0M348.0 186.3a0.95 0.95 0 1 0 1.9 0a0.95 0.95 0 1 0 -1.9 0M285.7 239.6a0.95 0.95 0 1 0 1.9 0a0.95 0.95 0 1 0 -1.9 0M284.7 241.4a0.95 0.95 0 1 0 1.9 0a0.95 0.95 0 1 0 -1.9 0M320.3 206.1a0.95 0.95 0 1 0 1.9 0a0.95 0.95 0 1 0 -1.9 0M290.6 236.6a0.95 0.95 0 1 0 1.9 0a0.95 0.95 0 1 0 -1.9 0M334.4 197.9a0.95 0.95 0 1 0 1.9 0a0.95 0.95 0 1 0 -1.9 0M334.6 197.1a0.95 0.95 0 1 0 1.9 0a0.95 0.95 0 1 0 -1.9 0M283.8 243.8a0.95 0.95 0 1 0 1.9 0a0.95 0.95 0 1 0 -1.9 0M286.0 240.0a0.95 0.95 0 1 0 1.9 0a0.95 0.95 0 1 0 -1.9 0M292.6 235.8a0.95 0.95 0 1 0 1.9 0a0.95 0.95 0 1 0 -1.9 0M354.9 178.6a0.95 0.95 0 1 0 1.9 0a0.95 0.95 0 1 0 -1.9 0M317.9 209.0a0.95 0.95 0 1 0 1.9 0a0.95 0.95 0 1 0 -1.9 0M305.3 220.4a0.95 0.95 0 1 0 1.9 0a0.95 0.95 0 1 0 -1.9 0M353.4 183.9a0.95 0.95 0 1 0 1.9 0a0.95 0.95 0 1 0 -1.9 0M280.2 245.5a0.95 0.95 0 1 0 1.9 0a0.95 0.95 0 1 0 -1.9 0M300.5 227.7a0.95 0.95 0 1 0 1.9 0a0.95 0.95 0 1 0 -1.9 0M296.0 233.0a0.95 0.95 0 1 0 1.9 0a0.95 0.95 0 1 0 -1.9 0M285.9 241.9a0.95 0.95 0 1 0 1.9 0a0.95 0.95 0 1 0 -1.9 0M279.9 244.3a0.95 0.95 0 1 0 1.9 0a0.95 0.95 0 1 0 -1.9 0M314.1 212.2a0.95 0.95 0 1 0 1.9 0a0.95 0.95 0 1 0 -1.9 0M283.3 243.0a0.95 0.95 0 1 0 1.9 0a0.95 0.95 0 1 0 -1.9 0M280.0 242.9a0.95 0.95 0 1 0 1.9 0a0.95 0.95 0 1 0 -1.9 0M282.2 244.9a0.95 0.95 0 1 0 1.9 0a0.95 0.95 0 1 0 -1.9 0M314.2 209.3a0.95 0.95 0 1 0 1.9 0a0.95 0.95 0 1 0 -1.9 0M301.6 223.1a0.95 0.95 0 1 0 1.9 0a0.95 0.95 0 1 0 -1.9 0M291.5 237.2a0.95 0.95 0 1 0 1.9 0a0.95 0.95 0 1 0 -1.9 0M307.4 220.3a0.95 0.95 0 1 0 1.9 0a0.95 0.95 0 1 0 -1.9 0M338.1 193.9a0.95 0.95 0 1 0 1.9 0a0.95 0.95 0 1 0 -1.9 0M291.6 238.2a0.95 0.95 0 1 0 1.9 0a0.95 0.95 0 1 0 -1.9 0M336.1 193.7a0.95 0.95 0 1 0 1.9 0a0.95 0.95 0 1 0 -1.9 0M280.0 242.7a0.95 0.95 0 1 0 1.9 0a0.95 0.95 0 1 0 -1.9 0M292.8 236.0a0.95 0.95 0 1 0 1.9 0a0.95 0.95 0 1 0 -1.9 0M352.8 188.1a0.95 0.95 0 1 0 1.9 0a0.95 0.95 0 1 0 -1.9 0M333.2 196.7a0.95 0.95 0 1 0 1.9 0a0.95 0.95 0 1 0 -1.9 0M290.5 238.2a0.95 0.95 0 1 0 1.9 0a0.95 0.95 0 1 0 -1.9 0M298.3 229.2a0.95 0.95 0 1 0 1.9 0a0.95 0.95 0 1 0 -1.9 0M328.3 202.6a0.95 0.95 0 1 0 1.9 0a0.95 0.95 0 1 0 -1.9 0M307.9 219.8a0.95 0.95 0 1 0 1.9 0a0.95 0.95 0 1 0 -1.9 0M309.3 220.1a0.95 0.95 0 1 0 1.9 0a0.95 0.95 0 1 0 -1.9 0M291.6 237.1a0.95 0.95 0 1 0 1.9 0a0.95 0.95 0 1 0 -1.9 0M327.9 200.4a0.95 0.95 0 1 0 1.9 0a0.95 0.95 0 1 0 -1.9 0M303.6 225.1a0.95 0.95 0 1 0 1.9 0a0.95 0.95 0 1 0 -1.9 0M348.5 188.3a0.95 0.95 0 1 0 1.9 0a0.95 0.95 0 1 0 -1.9 0M287.4 239.1a0.95 0.95 0 1 0 1.9 0a0.95 0.95 0 1 0 -1.9 0M347.4 188.7a0.95 0.95 0 1 0 1.9 0a0.95 0.95 0 1 0 -1.9 0M299.3 231.5a0.95 0.95 0 1 0 1.9 0a0.95 0.95 0 1 0 -1.9 0M291.1 237.0a0.95 0.95 0 1 0 1.9 0a0.95 0.95 0 1 0 -1.9 0M340.5 190.0a0.95 0.95 0 1 0 1.9 0a0.95 0.95 0 1 0 -1.9 0M303.5 224.8a0.95 0.95 0 1 0 1.9 0a0.95 0.95 0 1 0 -1.9 0M340.4 193.0a0.95 0.95 0 1 0 1.9 0a0.95 0.95 0 1 0 -1.9 0M290.7 234.7a0.95 0.95 0 1 0 1.9 0a0.95 0.95 0 1 0 -1.9 0M307.2 221.3a0.95 0.95 0 1 0 1.9 0a0.95 0.95 0 1 0 -1.9 0M279.8 241.7a0.95 0.95 0 1 0 1.9 0a0.95 0.95 0 1 0 -1.9 0M336.8 192.8a0.95 0.95 0 1 0 1.9 0a0.95 0.95 0 1 0 -1.9 0M300.7 228.2a0.95 0.95 0 1 0 1.9 0a0.95 0.95 0 1 0 -1.9 0M285.4 241.3a0.95 0.95 0 1 0 1.9 0a0.95 0.95 0 1 0 -1.9 0M298.8 228.7a0.95 0.95 0 1 0 1.9 0a0.95 0.95 0 1 0 -1.9 0M280.6 244.7a0.95 0.95 0 1 0 1.9 0a0.95 0.95 0 1 0 -1.9 0M331.1 200.5a0.95 0.95 0 1 0 1.9 0a0.95 0.95 0 1 0 -1.9 0M290.2 236.9a0.95 0.95 0 1 0 1.9 0a0.95 0.95 0 1 0 -1.9 0M284.4 245.3a0.95 0.95 0 1 0 1.9 0a0.95 0.95 0 1 0 -1.9 0M355.2 183.8a0.95 0.95 0 1 0 1.9 0a0.95 0.95 0 1 0 -1.9 0M340.9 194.6a0.95 0.95 0 1 0 1.9 0a0.95 0.95 0 1 0 -1.9 0M352.4 185.5a0.95 0.95 0 1 0 1.9 0a0.95 0.95 0 1 0 -1.9 0M338.7 194.3a0.95 0.95 0 1 0 1.9 0a0.95 0.95 0 1 0 -1.9 0M299.8 226.4a0.95 0.95 0 1 0 1.9 0a0.95 0.95 0 1 0 -1.9 0M288.1 240.7a0.95 0.95 0 1 0 1.9 0a0.95 0.95 0 1 0 -1.9 0M285.3 242.1a0.95 0.95 0 1 0 1.9 0a0.95 0.95 0 1 0 -1.9 0M306.2 225.0a0.95 0.95 0 1 0 1.9 0a0.95 0.95 0 1 0 -1.9 0M304.0 223.1a0.95 0.95 0 1 0 1.9 0a0.95 0.95 0 1 0 -1.9 0M345.2 189.9a0.95 0.95 0 1 0 1.9 0a0.95 0.95 0 1 0 -1.9 0M352.9 185.2a0.95 0.95 0 1 0 1.9 0a0.95 0.95 0 1 0 -1.9 0M300.3 225.6a0.95 0.95 0 1 0 1.9 0a0.95 0.95 0 1 0 -1.9 0M285.5 240.2a0.95 0.95 0 1 0 1.9 0a0.95 0.95 0 1 0 -1.9 0M280.4 242.5a0.95 0.95 0 1 0 1.9 0a0.95 0.95 0 1 0 -1.9 0M298.8 226.3a0.95 0.95 0 1 0 1.9 0a0.95 0.95 0 1 0 -1.9 0M285.6 242.0a0.95 0.95 0 1 0 1.9 0a0.95 0.95 0 1 0 -1.9 0M306.6 219.8a0.95 0.95 0 1 0 1.9 0a0.95 0.95 0 1 0 -1.9 0M340.7 188.9a0.95 0.95 0 1 0 1.9 0a0.95 0.95 0 1 0 -1.9 0M318.9 210.2a0.95 0.95 0 1 0 1.9 0a0.95 0.95 0 1 0 -1.9 0M282.2 244.4a0.95 0.95 0 1 0 1.9 0a0.95 0.95 0 1 0 -1.9 0M322.5 206.5a0.95 0.95 0 1 0 1.9 0a0.95 0.95 0 1 0 -1.9 0M296.7 233.0a0.95 0.95 0 1 0 1.9 0a0.95 0.95 0 1 0 -1.9 0M320.3 210.9a0.95 0.95 0 1 0 1.9 0a0.95 0.95 0 1 0 -1.9 0M310.5 215.9a0.95 0.95 0 1 0 1.9 0a0.95 0.95 0 1 0 -1.9 0M293.3 234.7a0.95 0.95 0 1 0 1.9 0a0.95 0.95 0 1 0 -1.9 0M319.0 207.3a0.95 0.95 0 1 0 1.9 0a0.95 0.95 0 1 0 -1.9 0M299.3 229.8a0.95 0.95 0 1 0 1.9 0a0.95 0.95 0 1 0 -1.9 0M293.8 233.2a0.95 0.95 0 1 0 1.9 0a0.95 0.95 0 1 0 -1.9 0M351.5 185.5a0.95 0.95 0 1 0 1.9 0a0.95 0.95 0 1 0 -1.9 0M282.0 242.0a0.95 0.95 0 1 0 1.9 0a0.95 0.95 0 1 0 -1.9 0M285.8 238.0a0.95 0.95 0 1 0 1.9 0a0.95 0.95 0 1 0 -1.9 0M339.0 197.9a0.95 0.95 0 1 0 1.9 0a0.95 0.95 0 1 0 -1.9 0M291.3 233.1a0.95 0.95 0 1 0 1.9 0a0.95 0.95 0 1 0 -1.9 0M310.8 215.3a0.95 0.95 0 1 0 1.9 0a0.95 0.95 0 1 0 -1.9 0M292.1 237.1a0.95 0.95 0 1 0 1.9 0a0.95 0.95 0 1 0 -1.9 0M280.4 243.5a0.95 0.95 0 1 0 1.9 0a0.95 0.95 0 1 0 -1.9 0M318.9 207.8a0.95 0.95 0 1 0 1.9 0a0.95 0.95 0 1 0 -1.9 0M340.1 192.2a0.95 0.95 0 1 0 1.9 0a0.95 0.95 0 1 0 -1.9 0M315.1 211.2a0.95 0.95 0 1 0 1.9 0a0.95 0.95 0 1 0 -1.9 0M320.9 206.4a0.95 0.95 0 1 0 1.9 0a0.95 0.95 0 1 0 -1.9 0M332.9 197.5a0.95 0.95 0 1 0 1.9 0a0.95 0.95 0 1 0 -1.9 0M307.7 220.6a0.95 0.95 0 1 0 1.9 0a0.95 0.95 0 1 0 -1.9 0M325.2 201.0a0.95 0.95 0 1 0 1.9 0a0.95 0.95 0 1 0 -1.9 0M280.5 243.1a0.95 0.95 0 1 0 1.9 0a0.95 0.95 0 1 0 -1.9 0M328.7 201.5a0.95 0.95 0 1 0 1.9 0a0.95 0.95 0 1 0 -1.9 0M308.3 219.2a0.95 0.95 0 1 0 1.9 0a0.95 0.95 0 1 0 -1.9 0M279.3 245.2a0.95 0.95 0 1 0 1.9 0a0.95 0.95 0 1 0 -1.9 0M321.6 211.1a0.95 0.95 0 1 0 1.9 0a0.95 0.95 0 1 0 -1.9 0M285.8 240.7a0.95 0.95 0 1 0 1.9 0a0.95 0.95 0 1 0 -1.9 0M332.5 199.3a0.95 0.95 0 1 0 1.9 0a0.95 0.95 0 1 0 -1.9 0M286.4 238.4a0.95 0.95 0 1 0 1.9 0a0.95 0.95 0 1 0 -1.9 0M283.2 239.9a0.95 0.95 0 1 0 1.9 0a0.95 0.95 0 1 0 -1.9 0M302.0 229.0a0.95 0.95 0 1 0 1.9 0a0.95 0.95 0 1 0 -1.9 0M353.7 184.7a0.95 0.95 0 1 0 1.9 0a0.95 0.95 0 1 0 -1.9 0M283.4 242.0a0.95 0.95 0 1 0 1.9 0a0.95 0.95 0 1 0 -1.9 0M292.1 235.4a0.95 0.95 0 1 0 1.9 0a0.95 0.95 0 1 0 -1.9 0M284.5 242.1a0.95 0.95 0 1 0 1.9 0a0.95 0.95 0 1 0 -1.9 0M299.0 227.9a0.95 0.95 0 1 0 1.9 0a0.95 0.95 0 1 0 -1.9 0M282.9 241.9a0.95 0.95 0 1 0 1.9 0a0.95 0.95 0 1 0 -1.9 0M327.6 201.9a0.95 0.95 0 1 0 1.9 0a0.95 0.95 0 1 0 -1.9 0M322.7 205.8a0.95 0.95 0 1 0 1.9 0a0.95 0.95 0 1 0 -1.9 0M282.5 240.2a0.95 0.95 0 1 0 1.9 0a0.95 0.95 0 1 0 -1.9 0M279.9 243.1a0.95 0.95 0 1 0 1.9 0a0.95 0.95 0 1 0 -1.9 0M302.1 224.3a0.95 0.95 0 1 0 1.9 0a0.95 0.95 0 1 0 -1.9 0M280.1 244.6a0.95 0.95 0 1 0 1.9 0a0.95 0.95 0 1 0 -1.9 0M303.7 221.4a0.95 0.95 0 1 0 1.9 0a0.95 0.95 0 1 0 -1.9 0M345.3 191.4a0.95 0.95 0 1 0 1.9 0a0.95 0.95 0 1 0 -1.9 0M280.3 246.5a0.95 0.95 0 1 0 1.9 0a0.95 0.95 0 1 0 -1.9 0M353.7 180.2a0.95 0.95 0 1 0 1.9 0a0.95 0.95 0 1 0 -1.9 0M308.2 218.2a0.95 0.95 0 1 0 1.9 0a0.95 0.95 0 1 0 -1.9 0M297.6 229.8a0.95 0.95 0 1 0 1.9 0a0.95 0.95 0 1 0 -1.9 0M323.8 207.6a0.95 0.95 0 1 0 1.9 0a0.95 0.95 0 1 0 -1.9 0M349.7 186.2a0.95 0.95 0 1 0 1.9 0a0.95 0.95 0 1 0 -1.9 0M346.4 189.4a0.95 0.95 0 1 0 1.9 0a0.95 0.95 0 1 0 -1.9 0M345.3 193.0a0.95 0.95 0 1 0 1.9 0a0.95 0.95 0 1 0 -1.9 0M306.6 220.8a0.95 0.95 0 1 0 1.9 0a0.95 0.95 0 1 0 -1.9 0M280.9 243.8a0.95 0.95 0 1 0 1.9 0a0.95 0.95 0 1 0 -1.9 0M303.4 220.8a0.95 0.95 0 1 0 1.9 0a0.95 0.95 0 1 0 -1.9 0M317.6 211.3a0.95 0.95 0 1 0 1.9 0a0.95 0.95 0 1 0 -1.9 0M286.8 242.4a0.95 0.95 0 1 0 1.9 0a0.95 0.95 0 1 0 -1.9 0M286.5 238.0a0.95 0.95 0 1 0 1.9 0a0.95 0.95 0 1 0 -1.9 0M282.2 242.1a0.95 0.95 0 1 0 1.9 0a0.95 0.95 0 1 0 -1.9 0M282.0 244.6a0.95 0.95 0 1 0 1.9 0a0.95 0.95 0 1 0 -1.9 0M287.4 239.7a0.95 0.95 0 1 0 1.9 0a0.95 0.95 0 1 0 -1.9 0M336.7 192.7a0.95 0.95 0 1 0 1.9 0a0.95 0.95 0 1 0 -1.9 0M287.5 240.8a0.95 0.95 0 1 0 1.9 0a0.95 0.95 0 1 0 -1.9 0M295.1 233.7a0.95 0.95 0 1 0 1.9 0a0.95 0.95 0 1 0 -1.9 0M295.4 232.4a0.95 0.95 0 1 0 1.9 0a0.95 0.95 0 1 0 -1.9 0M354.5 182.8a0.95 0.95 0 1 0 1.9 0a0.95 0.95 0 1 0 -1.9 0M299.7 229.1a0.95 0.95 0 1 0 1.9 0a0.95 0.95 0 1 0 -1.9 0M289.8 240.2a0.95 0.95 0 1 0 1.9 0a0.95 0.95 0 1 0 -1.9 0M335.2 196.9a0.95 0.95 0 1 0 1.9 0a0.95 0.95 0 1 0 -1.9 0M355.4 182.9a0.95 0.95 0 1 0 1.9 0a0.95 0.95 0 1 0 -1.9 0M321.0 205.3a0.95 0.95 0 1 0 1.9 0a0.95 0.95 0 1 0 -1.9 0M286.1 240.8a0.95 0.95 0 1 0 1.9 0a0.95 0.95 0 1 0 -1.9 0M341.0 194.0a0.95 0.95 0 1 0 1.9 0a0.95 0.95 0 1 0 -1.9 0M285.1 240.7a0.95 0.95 0 1 0 1.9 0a0.95 0.95 0 1 0 -1.9 0M331.6 197.4a0.95 0.95 0 1 0 1.9 0a0.95 0.95 0 1 0 -1.9 0M315.6 212.9a0.95 0.95 0 1 0 1.9 0a0.95 0.95 0 1 0 -1.9 0M316.5 208.9a0.95 0.95 0 1 0 1.9 0a0.95 0.95 0 1 0 -1.9 0M341.7 191.7a0.95 0.95 0 1 0 1.9 0a0.95 0.95 0 1 0 -1.9 0M312.3 213.8a0.95 0.95 0 1 0 1.9 0a0.95 0.95 0 1 0 -1.9 0M322.2 206.0a0.95 0.95 0 1 0 1.9 0a0.95 0.95 0 1 0 -1.9 0M319.0 206.0a0.95 0.95 0 1 0 1.9 0a0.95 0.95 0 1 0 -1.9 0M295.8 232.7a0.95 0.95 0 1 0 1.9 0a0.95 0.95 0 1 0 -1.9 0M293.0 235.2a0.95 0.95 0 1 0 1.9 0a0.95 0.95 0 1 0 -1.9 0M308.3 220.1a0.95 0.95 0 1 0 1.9 0a0.95 0.95 0 1 0 -1.9 0M338.9 194.8a0.95 0.95 0 1 0 1.9 0a0.95 0.95 0 1 0 -1.9 0M313.0 216.3a0.95 0.95 0 1 0 1.9 0a0.95 0.95 0 1 0 -1.9 0M324.1 201.8a0.95 0.95 0 1 0 1.9 0a0.95 0.95 0 1 0 -1.9 0M300.3 224.6a0.95 0.95 0 1 0 1.9 0a0.95 0.95 0 1 0 -1.9 0M286.7 240.1a0.95 0.95 0 1 0 1.9 0a0.95 0.95 0 1 0 -1.9 0M281.0 241.1a0.95 0.95 0 1 0 1.9 0a0.95 0.95 0 1 0 -1.9 0M287.8 239.3a0.95 0.95 0 1 0 1.9 0a0.95 0.95 0 1 0 -1.9 0M286.8 237.7a0.95 0.95 0 1 0 1.9 0a0.95 0.95 0 1 0 -1.9 0M310.1 214.8a0.95 0.95 0 1 0 1.9 0a0.95 0.95 0 1 0 -1.9 0M347.7 186.6a0.95 0.95 0 1 0 1.9 0a0.95 0.95 0 1 0 -1.9 0M303.7 225.7a0.95 0.95 0 1 0 1.9 0a0.95 0.95 0 1 0 -1.9 0M302.9 226.2a0.95 0.95 0 1 0 1.9 0a0.95 0.95 0 1 0 -1.9 0M330.4 198.8a0.95 0.95 0 1 0 1.9 0a0.95 0.95 0 1 0 -1.9 0M346.0 191.0a0.95 0.95 0 1 0 1.9 0a0.95 0.95 0 1 0 -1.9 0M296.0 233.5a0.95 0.95 0 1 0 1.9 0a0.95 0.95 0 1 0 -1.9 0M288.9 240.7a0.95 0.95 0 1 0 1.9 0a0.95 0.95 0 1 0 -1.9 0M327.8 201.6a0.95 0.95 0 1 0 1.9 0a0.95 0.95 0 1 0 -1.9 0M284.9 242.2a0.95 0.95 0 1 0 1.9 0a0.95 0.95 0 1 0 -1.9 0M292.8 236.7a0.95 0.95 0 1 0 1.9 0a0.95 0.95 0 1 0 -1.9 0M345.7 188.1a0.95 0.95 0 1 0 1.9 0a0.95 0.95 0 1 0 -1.9 0M330.1 201.0a0.95 0.95 0 1 0 1.9 0a0.95 0.95 0 1 0 -1.9 0M303.7 226.1a0.95 0.95 0 1 0 1.9 0a0.95 0.95 0 1 0 -1.9 0M289.0 236.6a0.95 0.95 0 1 0 1.9 0a0.95 0.95 0 1 0 -1.9 0M311.5 217.9a0.95 0.95 0 1 0 1.9 0a0.95 0.95 0 1 0 -1.9 0M339.5 193.4a0.95 0.95 0 1 0 1.9 0a0.95 0.95 0 1 0 -1.9 0M284.8 244.9a0.95 0.95 0 1 0 1.9 0a0.95 0.95 0 1 0 -1.9 0M344.6 192.0a0.95 0.95 0 1 0 1.9 0a0.95 0.95 0 1 0 -1.9 0M307.5 220.5a0.95 0.95 0 1 0 1.9 0a0.95 0.95 0 1 0 -1.9 0" fill="none" stroke="#5b2c91" stroke-width="0.7"/>
<path d="M382.2 169.8a0.95 0.95 0 1 0 1.9 0a0.95 0.95 0 1 0 -1.9 0M380.7 172.9a0.95 0.95 0 1 0 1.9 0a0.95 0.95 0 1 0 -1.9 0M365.8 173.2a0.95 0.95 0 1 0 1.9 0a0.95 0.95 0 1 0 -1.9 0M374.6 173.8a0.95 0.95 0 1 0 1.9 0a0.95 0.95 0 1 0 -1.9 0M368.2 172.4a0.95 0.95 0 1 0 1.9 0a0.95 0.95 0 1 0 -1.9 0M374.4 168.9a0.95 0.95 0 1 0 1.9 0a0.95 0.95 0 1 0 -1.9 0M363.3 177.4a0.95 0.95 0 1 0 1.9 0a0.95 0.95 0 1 0 -1.9 0M360.1 179.4a0.95 0.95 0 1 0 1.9 0a0.95 0.95 0 1 0 -1.9 0M377.2 173.0a0.95 0.95 0 1 0 1.9 0a0.95 0.95 0 1 0 -1.9 0M388.7 169.7a0.95 0.95 0 1 0 1.9 0a0.95 0.95 0 1 0 -1.9 0M373.0 172.2a0.95 0.95 0 1 0 1.9 0a0.95 0.95 0 1 0 -1.9 0M380.6 171.3a0.95 0.95 0 1 0 1.9 0a0.95 0.95 0 1 0 -1.9 0M374.4 172.2a0.95 0.95 0 1 0 1.9 0a0.95 0.95 0 1 0 -1.9 0M374.0 169.3a0.95 0.95 0 1 0 1.9 0a0.95 0.95 0 1 0 -1.9 0M377.9 166.6a0.95 0.95 0 1 0 1.9 0a0.95 0.95 0 1 0 -1.9 0M359.7 177.8a0.95 0.95 0 1 0 1.9 0a0.95 0.95 0 1 0 -1.9 0M358.6 179.2a0.95 0.95 0 1 0 1.9 0a0.95 0.95 0 1 0 -1.9 0M370.8 175.3a0.95 0.95 0 1 0 1.9 0a0.95 0.95 0 1 0 -1.9 0M372.7 176.4a0.95 0.95 0 1 0 1.9 0a0.95 0.95 0 1 0 -1.9 0M387.5 169.2a0.95 0.95 0 1 0 1.9 0a0.95 0.95 0 1 0 -1.9 0M385.7 170.0a0.95 0.95 0 1 0 1.9 0a0.95 0.95 0 1 0 -1.9 0M370.0 173.2a0.95 0.95 0 1 0 1.9 0a0.95 0.95 0 1 0 -1.9 0M374.6 167.6a0.95 0.95 0 1 0 1.9 0a0.95 0.95 0 1 0 -1.9 0M372.9 171.3a0.95 0.95 0 1 0 1.9 0a0.95 0.95 0 1 0 -1.9 0M389.4 171.3a0.95 0.95 0 1 0 1.9 0a0.95 0.95 0 1 0 -1.9 0M377.9 171.6a0.95 0.95 0 1 0 1.9 0a0.95 0.95 0 1 0 -1.9 0M373.4 172.3a0.95 0.95 0 1 0 1.9 0a0.95 0.95 0 1 0 -1.9 0M384.2 166.6a0.95 0.95 0 1 0 1.9 0a0.95 0.95 0 1 0 -1.9 0M365.2 177.0a0.95 0.95 0 1 0 1.9 0a0.95 0.95 0 1 0 -1.9 0M358.6 182.1a0.95 0.95 0 1 0 1.9 0a0.95 0.95 0 1 0 -1.9 0" fill="none" stroke="#5b2c91" stroke-width="0.7"/>
<path d="M313.0 221.3a0.95 0.95 0 1 0 1.9 0a0.95 0.95 0 1 0 -1.9 0M321.9 217.8a0.95 0.95 0 1 0 1.9 0a0.95 0.95 0 1 0 -1.9 0M308.4 223.4a0.95 0.95 0 1 0 1.9 0a0.95 0.95 0 1 0 -1.9 0M324.8 219.3a0.95 0.95 0 1 0 1.9 0a0.95 0.95 0 1 0 -1.9 0M330.9 213.4a0.95 0.95 0 1 0 1.9 0a0.95 0.95 0 1 0 -1.9 0M314.2 221.0a0.95 0.95 0 1 0 1.9 0a0.95 0.95 0 1 0 -1.9 0M325.3 221.8a0.95 0.95 0 1 0 1.9 0a0.95 0.95 0 1 0 -1.9 0M319.2 218.1a0.95 0.95 0 1 0 1.9 0a0.95 0.95 0 1 0 -1.9 0M328.8 214.1a0.95 0.95 0 1 0 1.9 0a0.95 0.95 0 1 0 -1.9 0M327.3 218.4a0.95 0.95 0 1 0 1.9 0a0.95 0.95 0 1 0 -1.9 0" fill="none" stroke="#5b2c91" stroke-width="0.7"/>
<polyline points="280.8,243.8 283.7,242.4 286.6,240.7 289.5,238.8 292.4,236.4 295.3,233.6 298.2,230.5 301.1,227.5 304.0,224.5 306.9,221.5 309.8,218.4 312.7,215.4 315.6,212.6 318.5,210.1 321.4,207.6 324.3,205.3 327.2,203.0 330.1,200.8 333.0,198.7 335.9,196.6 338.8,194.5 341.7,192.4 344.6,190.4 347.5,188.3 350.4,186.2 353.3,184.1 356.2,182.0 359.1,180.0 362.0,178.2 364.9,176.6 367.8,175.2 370.7,174.1 373.6,173.0 376.5,172.0 379.4,171.0 382.2,170.1 385.1,169.4 388.0,168.7 390.9,168.2 393.8,167.9" fill="none" stroke="#5b2c91" stroke-width="0.8"/></g>
<g clip-path="url(#cf)"><path d="M535.7 205.4l0.95 0.95 -0.95 0.95 -0.95 -0.95zM527.0 211.1l0.95 0.95 -0.95 0.95 -0.95 -0.95zM509.1 231.8l0.95 0.95 -0.95 0.95 -0.95 -0.95zM551.6 193.0l0.95 0.95 -0.95 0.95 -0.95 -0.95zM537.0 203.5l0.95 0.95 -0.95 0.95 -0.95 -0.95zM557.5 188.8l0.95 0.95 -0.95 0.95 -0.95 -0.95zM507.7 234.8l0.95 0.95 -0.95 0.95 -0.95 -0.95zM540.6 201.5l0.95 0.95 -0.95 0.95 -0.95 -0.95zM578.9 177.1l0.95 0.95 -0.95 0.95 -0.95 -0.95zM527.3 210.4l0.95 0.95 -0.95 0.95 -0.95 -0.95zM509.9 233.3l0.95 0.95 -0.95 0.95 -0.95 -0.95zM529.0 210.2l0.95 0.95 -0.95 0.95 -0.95 -0.95zM523.1 215.1l0.95 0.95 -0.95 0.95 -0.95 -0.95zM544.2 198.6l0.95 0.95 -0.95 0.95 -0.95 -0.95zM551.9 194.7l0.95 0.95 -0.95 0.95 -0.95 -0.95zM562.4 185.1l0.95 0.95 -0.95 0.95 -0.95 -0.95zM569.8 182.4l0.95 0.95 -0.95 0.95 -0.95 -0.95zM541.9 200.7l0.95 0.95 -0.95 0.95 -0.95 -0.95zM515.7 221.6l0.95 0.95 -0.95 0.95 -0.95 -0.95zM550.1 194.2l0.95 0.95 -0.95 0.95 -0.95 -0.95zM507.1 235.9l0.95 0.95 -0.95 0.95 -0.95 -0.95zM506.4 236.9l0.95 0.95 -0.95 0.95 -0.95 -0.95zM582.3 175.9l0.95 0.95 -0.95 0.95 -0.95 -0.95zM510.7 230.6l0.95 0.95 -0.95 0.95 -0.95 -0.95zM510.2 230.8l0.95 0.95 -0.95 0.95 -0.95 -0.95zM507.9 235.7l0.95 0.95 -0.95 0.95 -0.95 -0.95zM567.4 183.0l0.95 0.95 -0.95 0.95 -0.95 -0.95zM537.0 204.6l0.95 0.95 -0.95 0.95 -0.95 -0.95zM534.9 205.6l0.95 0.95 -0.95 0.95 -0.95 -0.95zM562.4 188.1l0.95 0.95 -0.95 0.95 -0.95 -0.95zM528.6 208.3l0.95 0.95 -0.95 0.95 -0.95 -0.95zM527.2 211.4l0.95 0.95 -0.95 0.95 -0.95 -0.95zM514.7 225.5l0.95 0.95 -0.95 0.95 -0.95 -0.95zM506.3 236.7l0.95 0.95 -0.95 0.95 -0.95 -0.95zM515.4 223.7l0.95 0.95 -0.95 0.95 -0.95 -0.95zM514.9 224.7l0.95 0.95 -0.95 0.95 -0.95 -0.95zM521.1 215.9l0.95 0.95 -0.95 0.95 -0.95 -0.95zM560.3 187.6l0.95 0.95 -0.95 0.95 -0.95 -0.95zM524.4 213.4l0.95 0.95 -0.95 0.95 -0.95 -0.95zM533.1 205.8l0.95 0.95 -0.95 0.95 -0.95 -0.95zM513.7 229.0l0.95 0.95 -0.95 0.95 -0.95 -0.95zM515.6 223.8l0.95 0.95 -0.95 0.95 -0.95 -0.95zM546.9 196.7l0.95 0.95 -0.95 0.95 -0.95 -0.95zM573.2 178.7l0.95 0.95 -0.95 0.95 -0.95 -0.95zM528.4 210.4l0.95 0.95 -0.95 0.95 -0.95 -0.95zM507.4 235.0l0.95 0.95 -0.95 0.95 -0.95 -0.95zM578.0 178.7l0.95 0.95 -0.95 0.95 -0.95 -0.95zM545.2 199.2l0.95 0.95 -0.95 0.95 -0.95 -0.95zM523.5 214.0l0.95 0.95 -0.95 0.95 -0.95 -0.95zM507.4 235.1l0.95 0.95 -0.95 0.95 -0.95 -0.95zM506.2 237.9l0.95 0.95 -0.95 0.95 -0.95 -0.95zM537.8 200.9l0.95 0.95 -0.95 0.95 -0.95 -0.95zM565.4 184.9l0.95 0.95 -0.95 0.95 -0.95 -0.95zM569.8 183.4l0.95 0.95 -0.95 0.95 -0.95 -0.95zM510.1 229.3l0.95 0.95 -0.95 0.95 -0.95 -0.95zM562.0 185.9l0.95 0.95 -0.95 0.95 -0.95 -0.95zM535.8 204.7l0.95 0.95 -0.95 0.95 -0.95 -0.95zM547.0 197.6l0.95 0.95 -0.95 0.95 -0.95 -0.95zM517.4 220.4l0.95 0.95 -0.95 0.95 -0.95 -0.95zM531.3 210.0l0.95 0.95 -0.95 0.95 -0.95 -0.95zM551.9 193.5l0.95 0.95 -0.95 0.95 -0.95 -0.95zM508.4 234.8l0.95 0.95 -0.95 0.95 -0.95 -0.95zM566.9 183.8l0.95 0.95 -0.95 0.95 -0.95 -0.95zM509.2 234.1l0.95 0.95 -0.95 0.95 -0.95 -0.95zM569.2 183.2l0.95 0.95 -0.95 0.95 -0.95 -0.95zM513.2 226.9l0.95 0.95 -0.95 0.95 -0.95 -0.95zM507.7 235.7l0.95 0.95 -0.95 0.95 -0.95 -0.95zM560.4 187.5l0.95 0.95 -0.95 0.95 -0.95 -0.95zM569.6 180.7l0.95 0.95 -0.95 0.95 -0.95 -0.95zM577.4 178.3l0.95 0.95 -0.95 0.95 -0.95 -0.95zM510.8 227.7l0.95 0.95 -0.95 0.95 -0.95 -0.95zM569.0 182.9l0.95 0.95 -0.95 0.95 -0.95 -0.95zM517.7 220.6l0.95 0.95 -0.95 0.95 -0.95 -0.95zM515.1 222.6l0.95 0.95 -0.95 0.95 -0.95 -0.95zM564.7 185.8l0.95 0.95 -0.95 0.95 -0.95 -0.95zM525.9 212.6l0.95 0.95 -0.95 0.95 -0.95 -0.95zM527.2 210.8l0.95 0.95 -0.95 0.95 -0.95 -0.95zM554.6 193.3l0.95 0.95 -0.95 0.95 -0.95 -0.95zM519.9 219.4l0.95 0.95 -0.95 0.95 -0.95 -0.95zM549.5 195.8l0.95 0.95 -0.95 0.95 -0.95 -0.95zM530.2 208.5l0.95 0.95 -0.95 0.95 -0.95 -0.95zM514.9 224.4l0.95 0.95 -0.95 0.95 -0.95 -0.95zM567.2 183.5l0.95 0.95 -0.95 0.95 -0.95 -0.95zM510.0 231.7l0.95 0.95 -0.95 0.95 -0.95 -0.95zM525.3 212.1l0.95 0.95 -0.95 0.95 -0.95 -0.95zM533.5 205.3l0.95 0.95 -0.95 0.95 -0.95 -0.95zM519.5 218.2l0.95 0.95 -0.95 0.95 -0.95 -0.95zM569.1 182.5l0.95 0.95 -0.95 0.95 -0.95 -0.95zM506.7 237.3l0.95 0.95 -0.95 0.95 -0.95 -0.95zM514.4 224.2l0.95 0.95 -0.95 0.95 -0.95 -0.95zM564.0 185.2l0.95 0.95 -0.95 0.95 -0.95 -0.95zM540.8 202.1l0.95 0.95 -0.95 0.95 -0.95 -0.95zM507.0 236.0l0.95 0.95 -0.95 0.95 -0.95 -0.95zM505.2 238.8l0.95 0.95 -0.95 0.95 -0.95 -0.95zM535.8 204.9l0.95 0.95 -0.95 0.95 -0.95 -0.95zM511.3 231.1l0.95 0.95 -0.95 0.95 -0.95 -0.95zM506.8 238.8l0.95 0.95 -0.95 0.95 -0.95 -0.95zM508.4 236.0l0.95 0.95 -0.95 0.95 -0.95 -0.95zM508.2 234.4l0.95 0.95 -0.95 0.95 -0.95 -0.95zM536.4 204.4l0.95 0.95 -0.95 0.95 -0.95 -0.95zM514.5 224.3l0.95 0.95 -0.95 0.95 -0.95 -0.95zM549.6 193.0l0.95 0.95 -0.95 0.95 -0.95 -0.95zM572.1 181.9l0.95 0.95 -0.95 0.95 -0.95 -0.95zM514.4 224.8l0.95 0.95 -0.95 0.95 -0.95 -0.95zM550.0 194.2l0.95 0.95 -0.95 0.95 -0.95 -0.95zM569.2 183.7l0.95 0.95 -0.95 0.95 -0.95 -0.95zM582.7 175.5l0.95 0.95 -0.95 0.95 -0.95 -0.95zM518.1 221.9l0.95 0.95 -0.95 0.95 -0.95 -0.95zM508.9 231.5l0.95 0.95 -0.95 0.95 -0.95 -0.95zM512.4 229.2l0.95 0.95 -0.95 0.95 -0.95 -0.95zM509.8 232.7l0.95 0.95 -0.95 0.95 -0.95 -0.95zM509.4 232.8l0.95 0.95 -0.95 0.95 -0.95 -0.95zM563.9 187.6l0.95 0.95 -0.95 0.95 -0.95 -0.95zM531.6 208.5l0.95 0.95 -0.95 0.95 -0.95 -0.95zM583.5 176.5l0.95 0.95 -0.95 0.95 -0.95 -0.95zM523.6 214.0l0.95 0.95 -0.95 0.95 -0.95 -0.95zM518.6 219.2l0.95 0.95 -0.95 0.95 -0.95 -0.95zM513.6 226.6l0.95 0.95 -0.95 0.95 -0.95 -0.95zM533.4 205.4l0.95 0.95 -0.95 0.95 -0.95 -0.95zM519.3 218.6l0.95 0.95 -0.95 0.95 -0.95 -0.95zM531.5 208.5l0.95 0.95 -0.95 0.95 -0.95 -0.95zM507.7 235.3l0.95 0.95 -0.95 0.95 -0.95 -0.95zM559.5 188.7l0.95 0.95 -0.95 0.95 -0.95 -0.95zM527.3 210.8l0.95 0.95 -0.95 0.95 -0.95 -0.95zM526.1 212.1l0.95 0.95 -0.95 0.95 -0.95 -0.95zM509.5 232.1l0.95 0.95 -0.95 0.95 -0.95 -0.95zM506.9 236.9l0.95 0.95 -0.95 0.95 -0.95 -0.95zM508.9 233.4l0.95 0.95 -0.95 0.95 -0.95 -0.95zM510.5 231.6l0.95 0.95 -0.95 0.95 -0.95 -0.95zM512.7 226.8l0.95 0.95 -0.95 0.95 -0.95 -0.95zM554.9 191.5l0.95 0.95 -0.95 0.95 -0.95 -0.95zM523.0 213.9l0.95 0.95 -0.95 0.95 -0.95 -0.95zM528.8 209.3l0.95 0.95 -0.95 0.95 -0.95 -0.95zM508.5 237.9l0.95 0.95 -0.95 0.95 -0.95 -0.95zM554.5 191.4l0.95 0.95 -0.95 0.95 -0.95 -0.95zM578.6 175.9l0.95 0.95 -0.95 0.95 -0.95 -0.95zM507.4 236.8l0.95 0.95 -0.95 0.95 -0.95 -0.95zM552.5 193.1l0.95 0.95 -0.95 0.95 -0.95 -0.95zM548.4 195.6l0.95 0.95 -0.95 0.95 -0.95 -0.95zM511.9 227.2l0.95 0.95 -0.95 0.95 -0.95 -0.95zM526.0 212.3l0.95 0.95 -0.95 0.95 -0.95 -0.95zM525.7 210.8l0.95 0.95 -0.95 0.95 -0.95 -0.95zM552.7 193.9l0.95 0.95 -0.95 0.95 -0.95 -0.95zM505.3 237.6l0.95 0.95 -0.95 0.95 -0.95 -0.95zM530.0 209.8l0.95 0.95 -0.95 0.95 -0.95 -0.95zM561.2 187.7l0.95 0.95 -0.95 0.95 -0.95 -0.95zM532.1 205.4l0.95 0.95 -0.95 0.95 -0.95 -0.95zM543.0 198.8l0.95 0.95 -0.95 0.95 -0.95 -0.95zM507.7 235.2l0.95 0.95 -0.95 0.95 -0.95 -0.95zM538.8 202.4l0.95 0.95 -0.95 0.95 -0.95 -0.95zM514.2 224.2l0.95 0.95 -0.95 0.95 -0.95 -0.95zM507.6 234.6l0.95 0.95 -0.95 0.95 -0.95 -0.95zM531.5 208.2l0.95 0.95 -0.95 0.95 -0.95 -0.95zM509.2 235.3l0.95 0.95 -0.95 0.95 -0.95 -0.95zM529.2 210.2l0.95 0.95 -0.95 0.95 -0.95 -0.95zM558.9 188.7l0.95 0.95 -0.95 0.95 -0.95 -0.95zM519.9 216.9l0.95 0.95 -0.95 0.95 -0.95 -0.95zM506.4 236.4l0.95 0.95 -0.95 0.95 -0.95 -0.95zM508.4 234.3l0.95 0.95 -0.95 0.95 -0.95 -0.95zM524.5 212.6l0.95 0.95 -0.95 0.95 -0.95 -0.95zM577.9 178.2l0.95 0.95 -0.95 0.95 -0.95 -0.95zM526.2 212.2l0.95 0.95 -0.95 0.95 -0.95 -0.95zM513.0 227.6l0.95 0.95 -0.95 0.95 -0.95 -0.95zM582.3 174.5l0.95 0.95 -0.95 0.95 -0.95 -0.95zM510.9 229.7l0.95 0.95 -0.95 0.95 -0.95 -0.95zM512.1 226.9l0.95 0.95 -0.95 0.95 -0.95 -0.95zM517.0 224.2l0.95 0.95 -0.95 0.95 -0.95 -0.95zM507.1 234.5l0.95 0.95 -0.95 0.95 -0.95 -0.95zM514.1 225.5l0.95 0.95 -0.95 0.95 -0.95 -0.95zM544.1 199.8l0.95 0.95 -0.95 0.95 -0.95 -0.95zM522.0 215.4l0.95 0.95 -0.95 0.95 -0.95 -0.95zM563.5 187.3l0.95 0.95 -0.95 0.95 -0.95 -0.95zM547.2 196.8l0.95 0.95 -0.95 0.95 -0.95 -0.95zM572.4 182.3l0.95 0.95 -0.95 0.95 -0.95 -0.95zM515.7 223.5l0.95 0.95 -0.95 0.95 -0.95 -0.95zM550.8 193.3l0.95 0.95 -0.95 0.95 -0.95 -0.95zM526.0 211.9l0.95 0.95 -0.95 0.95 -0.95 -0.95zM516.5 221.3l0.95 0.95 -0.95 0.95 -0.95 -0.95zM544.2 199.0l0.95 0.95 -0.95 0.95 -0.95 -0.95zM509.7 233.5l0.95 0.95 -0.95 0.95 -0.95 -0.95zM575.9 179.6l0.95 0.95 -0.95 0.95 -0.95 -0.95zM580.5 176.6l0.95 0.95 -0.95 0.95 -0.95 -0.95zM507.5 235.8l0.95 0.95 -0.95 0.95 -0.95 -0.95zM543.1 200.8l0.95 0.95 -0.95 0.95 -0.95 -0.95zM552.9 191.2l0.95 0.95 -0.95 0.95 -0.95 -0.95zM508.0 232.5l0.95 0.95 -0.95 0.95 -0.95 -0.95zM510.7 230.8l0.95 0.95 -0.95 0.95 -0.95 -0.95zM582.3 175.0l0.95 0.95 -0.95 0.95 -0.95 -0.95zM559.3 189.5l0.95 0.95 -0.95 0.95 -0.95 -0.95zM508.6 235.5l0.95 0.95 -0.95 0.95 -0.95 -0.95zM506.3 237.7l0.95 0.95 -0.95 0.95 -0.95 -0.95zM585.0 174.5l0.95 0.95 -0.95 0.95 -0.95 -0.95zM507.7 236.4l0.95 0.95 -0.95 0.95 -0.95 -0.95zM581.6 177.1l0.95 0.95 -0.95 0.95 -0.95 -0.95zM554.2 191.7l0.95 0.95 -0.95 0.95 -0.95 -0.95zM509.5 233.8l0.95 0.95 -0.95 0.95 -0.95 -0.95zM555.1 192.1l0.95 0.95 -0.95 0.95 -0.95 -0.95zM511.7 230.8l0.95 0.95 -0.95 0.95 -0.95 -0.95zM541.2 201.4l0.95 0.95 -0.95 0.95 -0.95 -0.95zM505.8 237.5l0.95 0.95 -0.95 0.95 -0.95 -0.95zM575.2 179.8l0.95 0.95 -0.95 0.95 -0.95 -0.95zM556.4 189.1l0.95 0.95 -0.95 0.95 -0.95 -0.95zM508.3 236.0l0.95 0.95 -0.95 0.95 -0.95 -0.95zM509.2 234.3l0.95 0.95 -0.95 0.95 -0.95 -0.95zM550.8 193.8l0.95 0.95 -0.95 0.95 -0.95 -0.95zM585.0 174.7l0.95 0.95 -0.95 0.95 -0.95 -0.95zM505.6 239.7l0.95 0.95 -0.95 0.95 -0.95 -0.95zM519.1 219.0l0.95 0.95 -0.95 0.95 -0.95 -0.95zM514.5 224.7l0.95 0.95 -0.95 0.95 -0.95 -0.95zM507.8 234.6l0.95 0.95 -0.95 0.95 -0.95 -0.95z" fill="none" stroke="#2f4f9f" stroke-width="0.7"/>
<path d="M620.0 161.3l0.95 0.95 -0.95 0.95 -0.95 -0.95zM604.1 165.1l0.95 0.95 -0.95 0.95 -0.95 -0.95zM626.0 158.4l0.95 0.95 -0.95 0.95 -0.95 -0.95zM586.9 174.4l0.95 0.95 -0.95 0.95 -0.95 -0.95zM593.4 171.2l0.95 0.95 -0.95 0.95 -0.95 -0.95zM604.4 163.4l0.95 0.95 -0.95 0.95 -0.95 -0.95zM606.8 164.8l0.95 0.95 -0.95 0.95 -0.95 -0.95zM631.4 159.3l0.95 0.95 -0.95 0.95 -0.95 -0.95zM595.0 173.4l0.95 0.95 -0.95 0.95 -0.95 -0.95zM606.6 164.7l0.95 0.95 -0.95 0.95 -0.95 -0.95zM588.8 171.0l0.95 0.95 -0.95 0.95 -0.95 -0.95zM597.7 166.3l0.95 0.95 -0.95 0.95 -0.95 -0.95zM601.8 164.2l0.95 0.95 -0.95 0.95 -0.95 -0.95zM615.3 163.0l0.95 0.95 -0.95 0.95 -0.95 -0.95zM624.6 157.7l0.95 0.95 -0.95 0.95 -0.95 -0.95zM618.1 162.8l0.95 0.95 -0.95 0.95 -0.95 -0.95zM595.1 170.7l0.95 0.95 -0.95 0.95 -0.95 -0.95zM622.3 158.9l0.95 0.95 -0.95 0.95 -0.95 -0.95zM604.8 166.8l0.95 0.95 -0.95 0.95 -0.95 -0.95zM587.6 171.6l0.95 0.95 -0.95 0.95 -0.95 -0.95zM619.5 163.2l0.95 0.95 -0.95 0.95 -0.95 -0.95zM588.2 178.2l0.95 0.95 -0.95 0.95 -0.95 -0.95zM609.1 162.3l0.95 0.95 -0.95 0.95 -0.95 -0.95zM631.1 156.9l0.95 0.95 -0.95 0.95 -0.95 -0.95zM588.8 170.3l0.95 0.95 -0.95 0.95 -0.95 -0.95z" fill="none" stroke="#2f4f9f" stroke-width="0.7"/>
<path d="M639.1 154.7l0.95 0.95 -0.95 0.95 -0.95 -0.95zM655.8 154.6l0.95 0.95 -0.95 0.95 -0.95 -0.95zM642.0 153.5l0.95 0.95 -0.95 0.95 -0.95 -0.95zM640.4 154.1l0.95 0.95 -0.95 0.95 -0.95 -0.95zM642.1 151.0l0.95 0.95 -0.95 0.95 -0.95 -0.95zM649.3 151.0l0.95 0.95 -0.95 0.95 -0.95 -0.95zM651.6 148.9l0.95 0.95 -0.95 0.95 -0.95 -0.95zM652.6 154.7l0.95 0.95 -0.95 0.95 -0.95 -0.95zM650.0 153.2l0.95 0.95 -0.95 0.95 -0.95 -0.95zM641.7 155.1l0.95 0.95 -0.95 0.95 -0.95 -0.95zM647.3 154.7l0.95 0.95 -0.95 0.95 -0.95 -0.95zM647.0 153.7l0.95 0.95 -0.95 0.95 -0.95 -0.95zM638.4 152.8l0.95 0.95 -0.95 0.95 -0.95 -0.95zM654.8 153.1l0.95 0.95 -0.95 0.95 -0.95 -0.95zM649.0 153.3l0.95 0.95 -0.95 0.95 -0.95 -0.95zM648.7 153.6l0.95 0.95 -0.95 0.95 -0.95 -0.95zM646.4 148.0l0.95 0.95 -0.95 0.95 -0.95 -0.95zM655.0 149.9l0.95 0.95 -0.95 0.95 -0.95 -0.95zM645.7 149.3l0.95 0.95 -0.95 0.95 -0.95 -0.95zM655.5 152.9l0.95 0.95 -0.95 0.95 -0.95 -0.95zM640.7 157.6l0.95 0.95 -0.95 0.95 -0.95 -0.95zM648.9 151.9l0.95 0.95 -0.95 0.95 -0.95 -0.95zM647.4 153.8l0.95 0.95 -0.95 0.95 -0.95 -0.95zM651.8 149.5l0.95 0.95 -0.95 0.95 -0.95 -0.95zM639.1 155.4l0.95 0.95 -0.95 0.95 -0.95 -0.95zM647.8 153.0l0.95 0.95 -0.95 0.95 -0.95 -0.95zM647.2 149.3l0.95 0.95 -0.95 0.95 -0.95 -0.95zM653.9 152.2l0.95 0.95 -0.95 0.95 -0.95 -0.95zM655.7 148.1l0.95 0.95 -0.95 0.95 -0.95 -0.95zM653.7 152.0l0.95 0.95 -0.95 0.95 -0.95 -0.95zM650.8 152.8l0.95 0.95 -0.95 0.95 -0.95 -0.95zM641.7 152.1l0.95 0.95 -0.95 0.95 -0.95 -0.95zM655.1 151.7l0.95 0.95 -0.95 0.95 -0.95 -0.95zM647.9 152.7l0.95 0.95 -0.95 0.95 -0.95 -0.95zM647.0 152.0l0.95 0.95 -0.95 0.95 -0.95 -0.95zM653.1 151.8l0.95 0.95 -0.95 0.95 -0.95 -0.95zM651.9 154.6l0.95 0.95 -0.95 0.95 -0.95 -0.95zM654.8 150.2l0.95 0.95 -0.95 0.95 -0.95 -0.95zM648.2 152.8l0.95 0.95 -0.95 0.95 -0.95 -0.95zM656.1 147.4l0.95 0.95 -0.95 0.95 -0.95 -0.95z" fill="none" stroke="#2f4f9f" stroke-width="0.7"/>
<polyline points="506.1,239.4 510.0,232.9 513.9,227.0 517.9,221.6 521.8,216.7 525.8,213.0 529.7,210.0 533.6,207.3 537.6,204.6 541.5,201.8 545.4,199.0 549.4,196.3 553.3,193.7 557.3,191.1 561.2,188.6 565.1,186.2 569.1,183.8 573.0,181.6 577.0,179.5 580.9,177.4 584.8,175.5 588.8,173.6 592.7,171.8 596.6,170.0 600.6,168.3 604.5,166.7 608.5,165.1 612.4,163.5 616.3,162.1 620.3,160.7 624.2,159.5 628.2,158.3 632.1,157.2 636.0,156.2 640.0,155.2 643.9,154.4 647.8,153.6 651.8,152.9 655.7,152.2 659.7,151.6" fill="none" stroke="#2f4f9f" stroke-width="0.8"/>
<path d="M515.4 228.3h1.9v1.9h-1.9zM517.8 224.3h1.9v1.9h-1.9zM559.7 193.5h1.9v1.9h-1.9zM566.6 190.9h1.9v1.9h-1.9zM511.4 232.9h1.9v1.9h-1.9zM580.9 180.9h1.9v1.9h-1.9zM534.6 209.3h1.9v1.9h-1.9zM510.7 232.4h1.9v1.9h-1.9zM527.1 213.5h1.9v1.9h-1.9zM560.5 194.2h1.9v1.9h-1.9zM553.5 198.4h1.9v1.9h-1.9zM560.0 192.8h1.9v1.9h-1.9zM560.9 194.1h1.9v1.9h-1.9zM539.1 205.5h1.9v1.9h-1.9zM574.4 185.6h1.9v1.9h-1.9zM542.3 203.7h1.9v1.9h-1.9zM511.0 234.1h1.9v1.9h-1.9zM524.8 215.6h1.9v1.9h-1.9zM540.9 204.8h1.9v1.9h-1.9zM514.6 228.2h1.9v1.9h-1.9zM514.8 227.1h1.9v1.9h-1.9zM552.2 197.8h1.9v1.9h-1.9zM544.3 203.0h1.9v1.9h-1.9zM512.6 231.3h1.9v1.9h-1.9zM531.6 209.9h1.9v1.9h-1.9zM517.1 225.4h1.9v1.9h-1.9zM550.9 199.1h1.9v1.9h-1.9zM524.9 217.9h1.9v1.9h-1.9zM542.0 204.3h1.9v1.9h-1.9zM578.0 182.6h1.9v1.9h-1.9zM510.4 236.0h1.9v1.9h-1.9zM579.7 181.5h1.9v1.9h-1.9zM528.1 212.5h1.9v1.9h-1.9zM583.6 180.1h1.9v1.9h-1.9zM526.8 215.7h1.9v1.9h-1.9zM535.5 208.7h1.9v1.9h-1.9zM509.6 233.7h1.9v1.9h-1.9zM561.7 193.8h1.9v1.9h-1.9zM536.7 207.8h1.9v1.9h-1.9zM512.8 229.4h1.9v1.9h-1.9zM545.9 201.1h1.9v1.9h-1.9zM510.1 233.1h1.9v1.9h-1.9zM537.3 206.7h1.9v1.9h-1.9zM581.1 181.5h1.9v1.9h-1.9zM578.4 184.9h1.9v1.9h-1.9zM546.4 201.2h1.9v1.9h-1.9zM512.6 230.7h1.9v1.9h-1.9zM544.8 203.7h1.9v1.9h-1.9zM584.6 180.0h1.9v1.9h-1.9zM511.4 232.0h1.9v1.9h-1.9zM546.5 200.6h1.9v1.9h-1.9zM548.9 199.5h1.9v1.9h-1.9zM539.9 205.8h1.9v1.9h-1.9zM518.8 223.8h1.9v1.9h-1.9zM510.2 235.2h1.9v1.9h-1.9zM518.8 224.5h1.9v1.9h-1.9zM523.6 217.1h1.9v1.9h-1.9zM533.9 209.1h1.9v1.9h-1.9zM574.9 185.4h1.9v1.9h-1.9zM584.0 180.4h1.9v1.9h-1.9zM539.0 205.0h1.9v1.9h-1.9zM543.5 204.1h1.9v1.9h-1.9zM523.8 217.6h1.9v1.9h-1.9zM582.7 181.0h1.9v1.9h-1.9zM530.7 212.0h1.9v1.9h-1.9zM516.7 226.4h1.9v1.9h-1.9zM512.2 230.4h1.9v1.9h-1.9zM576.4 185.1h1.9v1.9h-1.9zM509.4 235.9h1.9v1.9h-1.9zM542.7 202.3h1.9v1.9h-1.9zM512.4 234.6h1.9v1.9h-1.9zM578.1 182.8h1.9v1.9h-1.9zM576.0 184.6h1.9v1.9h-1.9zM513.6 227.8h1.9v1.9h-1.9zM581.2 181.5h1.9v1.9h-1.9zM509.4 235.2h1.9v1.9h-1.9zM547.0 199.5h1.9v1.9h-1.9zM525.3 216.1h1.9v1.9h-1.9zM524.3 217.0h1.9v1.9h-1.9zM566.2 189.6h1.9v1.9h-1.9zM509.1 235.8h1.9v1.9h-1.9zM532.2 211.2h1.9v1.9h-1.9zM566.3 190.4h1.9v1.9h-1.9zM510.1 235.6h1.9v1.9h-1.9zM519.8 223.4h1.9v1.9h-1.9zM555.0 195.6h1.9v1.9h-1.9zM568.0 189.0h1.9v1.9h-1.9zM529.6 212.6h1.9v1.9h-1.9zM515.6 225.4h1.9v1.9h-1.9zM515.2 228.4h1.9v1.9h-1.9zM544.3 203.0h1.9v1.9h-1.9zM563.7 190.3h1.9v1.9h-1.9zM509.4 235.9h1.9v1.9h-1.9zM514.1 227.9h1.9v1.9h-1.9zM527.8 214.2h1.9v1.9h-1.9zM550.4 198.8h1.9v1.9h-1.9zM510.0 233.6h1.9v1.9h-1.9zM559.6 194.3h1.9v1.9h-1.9zM541.8 205.8h1.9v1.9h-1.9zM546.7 201.3h1.9v1.9h-1.9zM512.9 229.2h1.9v1.9h-1.9zM518.9 222.6h1.9v1.9h-1.9zM572.4 185.6h1.9v1.9h-1.9zM524.7 216.1h1.9v1.9h-1.9zM583.8 179.2h1.9v1.9h-1.9zM515.9 226.0h1.9v1.9h-1.9zM576.3 184.7h1.9v1.9h-1.9zM520.0 221.7h1.9v1.9h-1.9zM538.3 206.3h1.9v1.9h-1.9zM577.1 184.3h1.9v1.9h-1.9zM544.5 202.9h1.9v1.9h-1.9zM533.8 210.7h1.9v1.9h-1.9zM544.9 202.2h1.9v1.9h-1.9zM584.3 181.0h1.9v1.9h-1.9zM536.1 206.7h1.9v1.9h-1.9zM519.6 222.0h1.9v1.9h-1.9zM569.4 188.0h1.9v1.9h-1.9zM510.3 236.5h1.9v1.9h-1.9zM536.0 205.6h1.9v1.9h-1.9zM554.6 197.8h1.9v1.9h-1.9zM520.7 223.3h1.9v1.9h-1.9zM516.0 227.6h1.9v1.9h-1.9zM520.7 222.2h1.9v1.9h-1.9zM515.5 228.9h1.9v1.9h-1.9zM515.4 226.8h1.9v1.9h-1.9zM518.3 222.3h1.9v1.9h-1.9zM548.1 201.4h1.9v1.9h-1.9zM560.5 192.8h1.9v1.9h-1.9zM567.2 190.5h1.9v1.9h-1.9zM542.7 203.3h1.9v1.9h-1.9zM532.3 209.8h1.9v1.9h-1.9zM581.4 182.2h1.9v1.9h-1.9zM547.4 200.8h1.9v1.9h-1.9zM577.6 183.2h1.9v1.9h-1.9zM579.7 181.1h1.9v1.9h-1.9zM563.7 190.7h1.9v1.9h-1.9zM511.8 232.8h1.9v1.9h-1.9zM569.2 186.8h1.9v1.9h-1.9zM577.0 184.4h1.9v1.9h-1.9zM511.5 233.3h1.9v1.9h-1.9zM517.0 225.0h1.9v1.9h-1.9zM522.4 219.9h1.9v1.9h-1.9zM538.3 205.1h1.9v1.9h-1.9zM572.5 187.6h1.9v1.9h-1.9zM549.2 198.6h1.9v1.9h-1.9zM574.4 185.9h1.9v1.9h-1.9zM534.7 210.6h1.9v1.9h-1.9zM571.4 188.1h1.9v1.9h-1.9zM535.0 208.1h1.9v1.9h-1.9zM509.1 234.7h1.9v1.9h-1.9zM529.9 213.7h1.9v1.9h-1.9zM555.6 196.6h1.9v1.9h-1.9zM524.0 217.5h1.9v1.9h-1.9zM580.2 182.9h1.9v1.9h-1.9zM576.7 184.7h1.9v1.9h-1.9zM532.4 210.6h1.9v1.9h-1.9zM507.8 236.6h1.9v1.9h-1.9zM513.7 229.4h1.9v1.9h-1.9zM527.9 215.3h1.9v1.9h-1.9zM510.6 233.4h1.9v1.9h-1.9zM511.2 234.5h1.9v1.9h-1.9zM532.8 212.5h1.9v1.9h-1.9zM542.9 201.5h1.9v1.9h-1.9zM554.2 196.2h1.9v1.9h-1.9zM536.7 205.0h1.9v1.9h-1.9zM521.0 220.9h1.9v1.9h-1.9zM571.0 185.6h1.9v1.9h-1.9zM523.6 218.4h1.9v1.9h-1.9zM571.6 188.7h1.9v1.9h-1.9zM520.6 219.4h1.9v1.9h-1.9zM539.7 204.7h1.9v1.9h-1.9zM542.4 205.4h1.9v1.9h-1.9zM509.5 237.3h1.9v1.9h-1.9zM574.8 186.0h1.9v1.9h-1.9zM576.5 183.4h1.9v1.9h-1.9zM564.3 191.6h1.9v1.9h-1.9zM556.2 197.0h1.9v1.9h-1.9zM559.2 193.3h1.9v1.9h-1.9zM562.0 192.5h1.9v1.9h-1.9zM524.5 217.7h1.9v1.9h-1.9z" fill="none" stroke="#e0262a" stroke-width="0.7"/>
<path d="M632.5 162.8h1.9v1.9h-1.9zM623.2 166.5h1.9v1.9h-1.9zM606.1 172.9h1.9v1.9h-1.9zM629.4 165.8h1.9v1.9h-1.9zM627.1 167.3h1.9v1.9h-1.9zM618.6 169.3h1.9v1.9h-1.9zM591.4 175.3h1.9v1.9h-1.9zM625.7 165.8h1.9v1.9h-1.9zM632.8 164.1h1.9v1.9h-1.9zM617.8 167.1h1.9v1.9h-1.9zM629.2 164.5h1.9v1.9h-1.9zM617.7 166.5h1.9v1.9h-1.9zM594.1 175.1h1.9v1.9h-1.9zM595.5 172.2h1.9v1.9h-1.9zM586.2 178.1h1.9v1.9h-1.9zM610.0 171.1h1.9v1.9h-1.9zM624.5 168.0h1.9v1.9h-1.9zM587.7 176.3h1.9v1.9h-1.9zM606.4 170.8h1.9v1.9h-1.9zM631.4 167.5h1.9v1.9h-1.9zM625.8 164.5h1.9v1.9h-1.9zM629.6 166.1h1.9v1.9h-1.9zM607.4 174.1h1.9v1.9h-1.9zM597.6 176.7h1.9v1.9h-1.9zM631.0 165.3h1.9v1.9h-1.9zM619.2 168.3h1.9v1.9h-1.9zM627.7 165.4h1.9v1.9h-1.9zM619.4 171.7h1.9v1.9h-1.9zM597.1 174.8h1.9v1.9h-1.9zM601.9 172.4h1.9v1.9h-1.9z" fill="none" stroke="#e0262a" stroke-width="0.7"/>
<path d="M604.8 178.4h1.9v1.9h-1.9zM597.1 180.8h1.9v1.9h-1.9zM605.8 178.8h1.9v1.9h-1.9zM596.7 182.1h1.9v1.9h-1.9zM599.3 180.4h1.9v1.9h-1.9zM599.4 181.1h1.9v1.9h-1.9zM591.3 182.9h1.9v1.9h-1.9zM600.6 182.0h1.9v1.9h-1.9zM606.2 180.2h1.9v1.9h-1.9zM591.9 183.8h1.9v1.9h-1.9zM605.4 178.9h1.9v1.9h-1.9zM605.2 181.1h1.9v1.9h-1.9zM598.2 178.8h1.9v1.9h-1.9zM595.7 181.2h1.9v1.9h-1.9z" fill="none" stroke="#e0262a" stroke-width="0.7"/>
<polyline points="509.9,237.3 513.1,232.3 516.3,227.9 519.5,224.1 522.7,220.7 525.9,217.8 529.1,215.0 532.3,212.5 535.5,210.2 538.6,208.0 541.8,205.8 545.0,203.8 548.2,201.9 551.4,200.0 554.6,198.1 557.8,196.3 561.0,194.5 564.2,192.6 567.4,190.8 570.6,188.9 573.8,187.1 577.0,185.3 580.2,183.6 583.4,182.0 586.6,180.4 589.7,179.0 592.9,177.7 596.1,176.5 599.3,175.3 602.5,174.2 605.7,173.2 608.9,172.2 612.1,171.2 615.3,170.3 618.5,169.4 621.7,168.6 624.9,167.7 628.1,167.0 631.3,166.3 634.5,165.6" fill="none" stroke="#e0262a" stroke-width="0.8"/>
<path d="M572.4 186.4l0.95 1.71h-1.9zM577.7 182.1l0.95 1.71h-1.9zM539.7 209.6l0.95 1.71h-1.9zM510.8 240.0l0.95 1.71h-1.9zM525.5 222.9l0.95 1.71h-1.9zM511.1 238.3l0.95 1.71h-1.9zM568.1 190.8l0.95 1.71h-1.9zM547.7 203.5l0.95 1.71h-1.9zM509.2 240.0l0.95 1.71h-1.9zM554.8 196.4l0.95 1.71h-1.9zM535.3 213.1l0.95 1.71h-1.9zM507.9 243.5l0.95 1.71h-1.9zM530.4 216.2l0.95 1.71h-1.9zM564.5 190.1l0.95 1.71h-1.9zM561.2 192.4l0.95 1.71h-1.9zM517.8 231.6l0.95 1.71h-1.9zM545.9 203.8l0.95 1.71h-1.9zM514.3 234.8l0.95 1.71h-1.9zM565.0 191.2l0.95 1.71h-1.9zM564.7 189.9l0.95 1.71h-1.9zM569.0 189.1l0.95 1.71h-1.9zM530.9 217.9l0.95 1.71h-1.9zM555.9 195.0l0.95 1.71h-1.9zM548.0 201.7l0.95 1.71h-1.9zM514.7 233.5l0.95 1.71h-1.9zM545.2 205.1l0.95 1.71h-1.9zM581.3 180.9l0.95 1.71h-1.9zM511.9 237.5l0.95 1.71h-1.9zM519.4 229.2l0.95 1.71h-1.9zM512.8 235.5l0.95 1.71h-1.9zM555.8 196.7l0.95 1.71h-1.9zM507.3 243.1l0.95 1.71h-1.9zM508.4 242.3l0.95 1.71h-1.9zM510.6 239.2l0.95 1.71h-1.9zM511.1 238.2l0.95 1.71h-1.9zM509.9 241.2l0.95 1.71h-1.9zM577.1 184.2l0.95 1.71h-1.9zM550.8 200.0l0.95 1.71h-1.9zM526.0 220.7l0.95 1.71h-1.9zM513.2 237.5l0.95 1.71h-1.9zM525.9 222.1l0.95 1.71h-1.9zM518.4 230.7l0.95 1.71h-1.9zM535.7 211.8l0.95 1.71h-1.9zM506.5 243.1l0.95 1.71h-1.9zM568.5 188.6l0.95 1.71h-1.9zM552.3 197.8l0.95 1.71h-1.9zM510.3 240.2l0.95 1.71h-1.9zM518.1 231.2l0.95 1.71h-1.9zM509.4 241.1l0.95 1.71h-1.9zM509.8 242.4l0.95 1.71h-1.9zM511.8 236.2l0.95 1.71h-1.9zM565.6 190.1l0.95 1.71h-1.9zM584.1 179.3l0.95 1.71h-1.9zM539.5 208.1l0.95 1.71h-1.9zM540.0 208.7l0.95 1.71h-1.9zM520.4 227.5l0.95 1.71h-1.9zM517.6 230.9l0.95 1.71h-1.9zM565.8 190.1l0.95 1.71h-1.9zM509.1 241.8l0.95 1.71h-1.9zM573.1 184.7l0.95 1.71h-1.9zM507.4 242.6l0.95 1.71h-1.9zM542.5 207.8l0.95 1.71h-1.9zM542.0 205.6l0.95 1.71h-1.9zM520.8 226.8l0.95 1.71h-1.9zM530.6 217.0l0.95 1.71h-1.9zM577.5 183.1l0.95 1.71h-1.9zM572.3 185.8l0.95 1.71h-1.9zM542.0 207.0l0.95 1.71h-1.9zM571.0 188.4l0.95 1.71h-1.9zM568.3 189.3l0.95 1.71h-1.9zM558.8 193.8l0.95 1.71h-1.9zM529.1 218.3l0.95 1.71h-1.9zM584.9 180.2l0.95 1.71h-1.9zM516.5 233.7l0.95 1.71h-1.9zM550.0 200.1l0.95 1.71h-1.9zM515.5 233.5l0.95 1.71h-1.9zM509.7 239.3l0.95 1.71h-1.9zM530.6 216.2l0.95 1.71h-1.9zM545.3 206.2l0.95 1.71h-1.9zM582.7 181.5l0.95 1.71h-1.9zM546.4 203.7l0.95 1.71h-1.9zM564.8 191.3l0.95 1.71h-1.9zM512.2 238.6l0.95 1.71h-1.9zM582.4 180.8l0.95 1.71h-1.9zM522.3 225.8l0.95 1.71h-1.9zM558.0 196.6l0.95 1.71h-1.9zM544.3 205.3l0.95 1.71h-1.9zM559.3 196.7l0.95 1.71h-1.9zM527.0 220.2l0.95 1.71h-1.9zM528.2 219.4l0.95 1.71h-1.9zM541.0 207.6l0.95 1.71h-1.9zM542.6 208.1l0.95 1.71h-1.9zM574.6 185.1l0.95 1.71h-1.9zM585.4 177.8l0.95 1.71h-1.9zM567.7 189.0l0.95 1.71h-1.9zM507.5 243.9l0.95 1.71h-1.9zM556.6 196.5l0.95 1.71h-1.9zM562.5 192.2l0.95 1.71h-1.9zM544.8 202.9l0.95 1.71h-1.9zM525.9 221.2l0.95 1.71h-1.9zM562.5 194.7l0.95 1.71h-1.9zM576.1 182.2l0.95 1.71h-1.9zM507.0 242.8l0.95 1.71h-1.9zM547.6 202.2l0.95 1.71h-1.9zM544.2 205.4l0.95 1.71h-1.9zM527.7 220.2l0.95 1.71h-1.9zM556.6 196.2l0.95 1.71h-1.9zM507.7 242.5l0.95 1.71h-1.9zM528.0 217.3l0.95 1.71h-1.9zM542.0 205.8l0.95 1.71h-1.9zM513.4 236.5l0.95 1.71h-1.9zM511.7 238.4l0.95 1.71h-1.9zM546.6 203.1l0.95 1.71h-1.9zM530.9 215.6l0.95 1.71h-1.9zM542.3 204.5l0.95 1.71h-1.9zM549.7 200.4l0.95 1.71h-1.9zM565.3 190.7l0.95 1.71h-1.9zM527.6 218.8l0.95 1.71h-1.9zM534.9 212.2l0.95 1.71h-1.9zM524.0 223.0l0.95 1.71h-1.9zM544.1 204.5l0.95 1.71h-1.9zM511.0 239.9l0.95 1.71h-1.9zM545.2 206.3l0.95 1.71h-1.9zM550.9 199.2l0.95 1.71h-1.9zM578.0 182.2l0.95 1.71h-1.9zM508.8 241.0l0.95 1.71h-1.9zM536.3 209.9l0.95 1.71h-1.9zM564.1 190.4l0.95 1.71h-1.9zM547.9 201.9l0.95 1.71h-1.9zM508.1 242.5l0.95 1.71h-1.9zM535.2 211.8l0.95 1.71h-1.9zM570.9 187.2l0.95 1.71h-1.9zM535.5 212.2l0.95 1.71h-1.9zM549.8 201.5l0.95 1.71h-1.9zM555.1 198.0l0.95 1.71h-1.9zM556.8 195.1l0.95 1.71h-1.9zM574.8 184.8l0.95 1.71h-1.9zM530.7 215.2l0.95 1.71h-1.9zM552.3 198.3l0.95 1.71h-1.9zM515.4 232.6l0.95 1.71h-1.9zM575.1 184.4l0.95 1.71h-1.9zM512.5 237.4l0.95 1.71h-1.9zM522.6 224.6l0.95 1.71h-1.9zM575.5 183.9l0.95 1.71h-1.9zM528.1 216.1l0.95 1.71h-1.9zM559.8 194.7l0.95 1.71h-1.9zM509.3 239.8l0.95 1.71h-1.9zM536.0 212.5l0.95 1.71h-1.9zM509.6 241.5l0.95 1.71h-1.9zM541.1 206.8l0.95 1.71h-1.9zM511.9 237.1l0.95 1.71h-1.9zM576.3 182.5l0.95 1.71h-1.9zM538.0 208.6l0.95 1.71h-1.9zM516.3 232.8l0.95 1.71h-1.9zM512.8 234.9l0.95 1.71h-1.9zM523.9 221.3l0.95 1.71h-1.9zM570.7 186.7l0.95 1.71h-1.9zM542.9 206.7l0.95 1.71h-1.9zM557.0 197.2l0.95 1.71h-1.9zM514.3 234.5l0.95 1.71h-1.9zM508.7 240.5l0.95 1.71h-1.9zM510.8 238.4l0.95 1.71h-1.9zM584.0 180.1l0.95 1.71h-1.9zM516.1 232.3l0.95 1.71h-1.9zM581.0 180.3l0.95 1.71h-1.9zM561.8 194.2l0.95 1.71h-1.9zM519.1 228.5l0.95 1.71h-1.9zM511.5 237.4l0.95 1.71h-1.9zM529.0 218.5l0.95 1.71h-1.9zM520.3 226.8l0.95 1.71h-1.9zM523.3 222.3l0.95 1.71h-1.9zM523.7 224.7l0.95 1.71h-1.9zM509.1 241.7l0.95 1.71h-1.9zM547.0 201.8l0.95 1.71h-1.9zM527.9 219.0l0.95 1.71h-1.9zM514.1 235.7l0.95 1.71h-1.9zM548.2 201.5l0.95 1.71h-1.9zM508.2 241.7l0.95 1.71h-1.9zM545.2 202.8l0.95 1.71h-1.9zM515.8 233.8l0.95 1.71h-1.9z" fill="none" stroke="#2ca14a" stroke-width="0.7"/>
<path d="M595.1 173.3l0.95 1.71h-1.9zM601.7 170.3l0.95 1.71h-1.9zM630.3 163.4l0.95 1.71h-1.9zM594.3 170.8l0.95 1.71h-1.9zM601.6 169.6l0.95 1.71h-1.9zM593.9 173.5l0.95 1.71h-1.9zM610.0 164.7l0.95 1.71h-1.9zM603.4 172.4l0.95 1.71h-1.9zM613.2 169.4l0.95 1.71h-1.9zM613.9 168.0l0.95 1.71h-1.9zM616.9 167.6l0.95 1.71h-1.9zM603.8 170.9l0.95 1.71h-1.9zM617.5 166.9l0.95 1.71h-1.9zM589.9 177.5l0.95 1.71h-1.9zM590.3 176.6l0.95 1.71h-1.9zM595.4 175.8l0.95 1.71h-1.9zM610.6 169.7l0.95 1.71h-1.9zM598.7 170.9l0.95 1.71h-1.9zM604.2 170.2l0.95 1.71h-1.9zM602.8 174.6l0.95 1.71h-1.9zM626.6 160.8l0.95 1.71h-1.9zM617.0 164.0l0.95 1.71h-1.9zM618.4 166.8l0.95 1.71h-1.9zM593.0 174.9l0.95 1.71h-1.9zM628.6 167.7l0.95 1.71h-1.9zM618.6 166.1l0.95 1.71h-1.9zM613.8 165.6l0.95 1.71h-1.9zM607.2 168.1l0.95 1.71h-1.9zM609.8 170.2l0.95 1.71h-1.9zM588.2 179.5l0.95 1.71h-1.9zM603.4 170.4l0.95 1.71h-1.9zM596.7 177.8l0.95 1.71h-1.9zM596.2 172.2l0.95 1.71h-1.9zM628.4 165.4l0.95 1.71h-1.9zM616.4 165.9l0.95 1.71h-1.9z" fill="none" stroke="#2ca14a" stroke-width="0.7"/>
<polyline points="506.8,244.9 510.0,241.2 513.2,237.4 516.3,233.6 519.5,229.5 522.7,225.4 525.9,221.7 529.1,218.5 532.3,215.5 535.5,212.8 538.7,210.2 541.8,207.7 545.0,205.3 548.2,203.0 551.4,200.8 554.6,198.7 557.8,196.6 561.0,194.5 564.2,192.5 567.3,190.4 570.5,188.5 573.7,186.5 576.9,184.6 580.1,182.8 583.3,181.1 586.5,179.5 589.7,177.9 592.8,176.3 596.0,174.8 599.2,173.3 602.4,171.9 605.6,170.6 608.8,169.4 612.0,168.3 615.2,167.3 618.3,166.3 621.5,165.4 624.7,164.6 627.9,163.9 631.1,163.2" fill="none" stroke="#2ca14a" stroke-width="0.8"/>
<path d="M513.7 235.0a0.95 0.95 0 1 0 1.9 0a0.95 0.95 0 1 0 -1.9 0M519.1 226.9a0.95 0.95 0 1 0 1.9 0a0.95 0.95 0 1 0 -1.9 0M519.5 230.1a0.95 0.95 0 1 0 1.9 0a0.95 0.95 0 1 0 -1.9 0M537.3 213.3a0.95 0.95 0 1 0 1.9 0a0.95 0.95 0 1 0 -1.9 0M529.5 216.4a0.95 0.95 0 1 0 1.9 0a0.95 0.95 0 1 0 -1.9 0M559.2 191.6a0.95 0.95 0 1 0 1.9 0a0.95 0.95 0 1 0 -1.9 0M515.1 232.3a0.95 0.95 0 1 0 1.9 0a0.95 0.95 0 1 0 -1.9 0M543.7 207.9a0.95 0.95 0 1 0 1.9 0a0.95 0.95 0 1 0 -1.9 0M575.7 178.3a0.95 0.95 0 1 0 1.9 0a0.95 0.95 0 1 0 -1.9 0M514.6 234.8a0.95 0.95 0 1 0 1.9 0a0.95 0.95 0 1 0 -1.9 0M554.1 196.5a0.95 0.95 0 1 0 1.9 0a0.95 0.95 0 1 0 -1.9 0M516.0 233.4a0.95 0.95 0 1 0 1.9 0a0.95 0.95 0 1 0 -1.9 0M523.3 222.5a0.95 0.95 0 1 0 1.9 0a0.95 0.95 0 1 0 -1.9 0M545.3 204.4a0.95 0.95 0 1 0 1.9 0a0.95 0.95 0 1 0 -1.9 0M552.3 197.8a0.95 0.95 0 1 0 1.9 0a0.95 0.95 0 1 0 -1.9 0M559.2 191.5a0.95 0.95 0 1 0 1.9 0a0.95 0.95 0 1 0 -1.9 0M563.9 187.7a0.95 0.95 0 1 0 1.9 0a0.95 0.95 0 1 0 -1.9 0M565.3 186.2a0.95 0.95 0 1 0 1.9 0a0.95 0.95 0 1 0 -1.9 0M560.1 190.7a0.95 0.95 0 1 0 1.9 0a0.95 0.95 0 1 0 -1.9 0M584.0 172.5a0.95 0.95 0 1 0 1.9 0a0.95 0.95 0 1 0 -1.9 0M561.6 188.1a0.95 0.95 0 1 0 1.9 0a0.95 0.95 0 1 0 -1.9 0M522.1 223.1a0.95 0.95 0 1 0 1.9 0a0.95 0.95 0 1 0 -1.9 0M579.9 173.9a0.95 0.95 0 1 0 1.9 0a0.95 0.95 0 1 0 -1.9 0M535.3 212.1a0.95 0.95 0 1 0 1.9 0a0.95 0.95 0 1 0 -1.9 0M531.0 217.4a0.95 0.95 0 1 0 1.9 0a0.95 0.95 0 1 0 -1.9 0M535.7 212.6a0.95 0.95 0 1 0 1.9 0a0.95 0.95 0 1 0 -1.9 0M569.3 182.3a0.95 0.95 0 1 0 1.9 0a0.95 0.95 0 1 0 -1.9 0M518.2 226.2a0.95 0.95 0 1 0 1.9 0a0.95 0.95 0 1 0 -1.9 0M524.8 222.7a0.95 0.95 0 1 0 1.9 0a0.95 0.95 0 1 0 -1.9 0M567.1 184.2a0.95 0.95 0 1 0 1.9 0a0.95 0.95 0 1 0 -1.9 0M582.3 173.9a0.95 0.95 0 1 0 1.9 0a0.95 0.95 0 1 0 -1.9 0M549.1 201.5a0.95 0.95 0 1 0 1.9 0a0.95 0.95 0 1 0 -1.9 0M541.3 210.9a0.95 0.95 0 1 0 1.9 0a0.95 0.95 0 1 0 -1.9 0M527.1 220.5a0.95 0.95 0 1 0 1.9 0a0.95 0.95 0 1 0 -1.9 0M526.3 222.2a0.95 0.95 0 1 0 1.9 0a0.95 0.95 0 1 0 -1.9 0M565.9 185.1a0.95 0.95 0 1 0 1.9 0a0.95 0.95 0 1 0 -1.9 0M517.3 231.0a0.95 0.95 0 1 0 1.9 0a0.95 0.95 0 1 0 -1.9 0M552.2 198.5a0.95 0.95 0 1 0 1.9 0a0.95 0.95 0 1 0 -1.9 0M564.8 187.1a0.95 0.95 0 1 0 1.9 0a0.95 0.95 0 1 0 -1.9 0M573.3 178.6a0.95 0.95 0 1 0 1.9 0a0.95 0.95 0 1 0 -1.9 0M535.8 213.2a0.95 0.95 0 1 0 1.9 0a0.95 0.95 0 1 0 -1.9 0M555.1 194.1a0.95 0.95 0 1 0 1.9 0a0.95 0.95 0 1 0 -1.9 0M524.9 224.2a0.95 0.95 0 1 0 1.9 0a0.95 0.95 0 1 0 -1.9 0M576.7 176.6a0.95 0.95 0 1 0 1.9 0a0.95 0.95 0 1 0 -1.9 0M538.0 212.5a0.95 0.95 0 1 0 1.9 0a0.95 0.95 0 1 0 -1.9 0M517.2 232.5a0.95 0.95 0 1 0 1.9 0a0.95 0.95 0 1 0 -1.9 0M534.5 213.5a0.95 0.95 0 1 0 1.9 0a0.95 0.95 0 1 0 -1.9 0M516.4 233.7a0.95 0.95 0 1 0 1.9 0a0.95 0.95 0 1 0 -1.9 0M566.4 182.3a0.95 0.95 0 1 0 1.9 0a0.95 0.95 0 1 0 -1.9 0M571.3 179.2a0.95 0.95 0 1 0 1.9 0a0.95 0.95 0 1 0 -1.9 0M573.4 179.1a0.95 0.95 0 1 0 1.9 0a0.95 0.95 0 1 0 -1.9 0M531.3 217.5a0.95 0.95 0 1 0 1.9 0a0.95 0.95 0 1 0 -1.9 0M551.6 197.3a0.95 0.95 0 1 0 1.9 0a0.95 0.95 0 1 0 -1.9 0M584.1 171.9a0.95 0.95 0 1 0 1.9 0a0.95 0.95 0 1 0 -1.9 0M538.4 209.0a0.95 0.95 0 1 0 1.9 0a0.95 0.95 0 1 0 -1.9 0M555.8 193.0a0.95 0.95 0 1 0 1.9 0a0.95 0.95 0 1 0 -1.9 0M561.0 189.2a0.95 0.95 0 1 0 1.9 0a0.95 0.95 0 1 0 -1.9 0M519.1 231.6a0.95 0.95 0 1 0 1.9 0a0.95 0.95 0 1 0 -1.9 0M546.0 204.8a0.95 0.95 0 1 0 1.9 0a0.95 0.95 0 1 0 -1.9 0M554.0 198.0a0.95 0.95 0 1 0 1.9 0a0.95 0.95 0 1 0 -1.9 0M514.0 234.9a0.95 0.95 0 1 0 1.9 0a0.95 0.95 0 1 0 -1.9 0M536.7 213.3a0.95 0.95 0 1 0 1.9 0a0.95 0.95 0 1 0 -1.9 0M571.4 179.4a0.95 0.95 0 1 0 1.9 0a0.95 0.95 0 1 0 -1.9 0M548.7 201.9a0.95 0.95 0 1 0 1.9 0a0.95 0.95 0 1 0 -1.9 0M536.5 212.7a0.95 0.95 0 1 0 1.9 0a0.95 0.95 0 1 0 -1.9 0M518.6 228.8a0.95 0.95 0 1 0 1.9 0a0.95 0.95 0 1 0 -1.9 0M575.3 176.4a0.95 0.95 0 1 0 1.9 0a0.95 0.95 0 1 0 -1.9 0M514.6 235.9a0.95 0.95 0 1 0 1.9 0a0.95 0.95 0 1 0 -1.9 0M522.2 227.1a0.95 0.95 0 1 0 1.9 0a0.95 0.95 0 1 0 -1.9 0M544.3 207.0a0.95 0.95 0 1 0 1.9 0a0.95 0.95 0 1 0 -1.9 0M519.5 228.2a0.95 0.95 0 1 0 1.9 0a0.95 0.95 0 1 0 -1.9 0M547.0 202.7a0.95 0.95 0 1 0 1.9 0a0.95 0.95 0 1 0 -1.9 0M548.7 201.5a0.95 0.95 0 1 0 1.9 0a0.95 0.95 0 1 0 -1.9 0M516.0 233.0a0.95 0.95 0 1 0 1.9 0a0.95 0.95 0 1 0 -1.9 0M532.8 216.3a0.95 0.95 0 1 0 1.9 0a0.95 0.95 0 1 0 -1.9 0M530.1 220.2a0.95 0.95 0 1 0 1.9 0a0.95 0.95 0 1 0 -1.9 0M513.5 235.5a0.95 0.95 0 1 0 1.9 0a0.95 0.95 0 1 0 -1.9 0M574.6 179.5a0.95 0.95 0 1 0 1.9 0a0.95 0.95 0 1 0 -1.9 0M541.4 208.3a0.95 0.95 0 1 0 1.9 0a0.95 0.95 0 1 0 -1.9 0M555.6 193.7a0.95 0.95 0 1 0 1.9 0a0.95 0.95 0 1 0 -1.9 0M531.6 215.6a0.95 0.95 0 1 0 1.9 0a0.95 0.95 0 1 0 -1.9 0M522.8 223.2a0.95 0.95 0 1 0 1.9 0a0.95 0.95 0 1 0 -1.9 0M544.2 205.8a0.95 0.95 0 1 0 1.9 0a0.95 0.95 0 1 0 -1.9 0M563.1 187.5a0.95 0.95 0 1 0 1.9 0a0.95 0.95 0 1 0 -1.9 0M523.3 224.2a0.95 0.95 0 1 0 1.9 0a0.95 0.95 0 1 0 -1.9 0M564.6 186.2a0.95 0.95 0 1 0 1.9 0a0.95 0.95 0 1 0 -1.9 0M547.3 202.5a0.95 0.95 0 1 0 1.9 0a0.95 0.95 0 1 0 -1.9 0M515.0 232.2a0.95 0.95 0 1 0 1.9 0a0.95 0.95 0 1 0 -1.9 0M524.3 222.9a0.95 0.95 0 1 0 1.9 0a0.95 0.95 0 1 0 -1.9 0M572.3 179.1a0.95 0.95 0 1 0 1.9 0a0.95 0.95 0 1 0 -1.9 0M517.8 230.2a0.95 0.95 0 1 0 1.9 0a0.95 0.95 0 1 0 -1.9 0M541.6 210.6a0.95 0.95 0 1 0 1.9 0a0.95 0.95 0 1 0 -1.9 0M583.7 173.5a0.95 0.95 0 1 0 1.9 0a0.95 0.95 0 1 0 -1.9 0M581.8 172.9a0.95 0.95 0 1 0 1.9 0a0.95 0.95 0 1 0 -1.9 0M552.9 198.9a0.95 0.95 0 1 0 1.9 0a0.95 0.95 0 1 0 -1.9 0M541.5 208.6a0.95 0.95 0 1 0 1.9 0a0.95 0.95 0 1 0 -1.9 0M548.1 203.5a0.95 0.95 0 1 0 1.9 0a0.95 0.95 0 1 0 -1.9 0M556.0 195.6a0.95 0.95 0 1 0 1.9 0a0.95 0.95 0 1 0 -1.9 0M518.1 229.6a0.95 0.95 0 1 0 1.9 0a0.95 0.95 0 1 0 -1.9 0M516.0 233.6a0.95 0.95 0 1 0 1.9 0a0.95 0.95 0 1 0 -1.9 0M553.2 197.1a0.95 0.95 0 1 0 1.9 0a0.95 0.95 0 1 0 -1.9 0M533.1 214.9a0.95 0.95 0 1 0 1.9 0a0.95 0.95 0 1 0 -1.9 0M553.1 197.3a0.95 0.95 0 1 0 1.9 0a0.95 0.95 0 1 0 -1.9 0M528.3 219.6a0.95 0.95 0 1 0 1.9 0a0.95 0.95 0 1 0 -1.9 0M525.3 224.3a0.95 0.95 0 1 0 1.9 0a0.95 0.95 0 1 0 -1.9 0M516.1 235.4a0.95 0.95 0 1 0 1.9 0a0.95 0.95 0 1 0 -1.9 0M571.7 179.9a0.95 0.95 0 1 0 1.9 0a0.95 0.95 0 1 0 -1.9 0M554.9 196.0a0.95 0.95 0 1 0 1.9 0a0.95 0.95 0 1 0 -1.9 0M563.5 185.8a0.95 0.95 0 1 0 1.9 0a0.95 0.95 0 1 0 -1.9 0M582.1 173.5a0.95 0.95 0 1 0 1.9 0a0.95 0.95 0 1 0 -1.9 0M530.8 217.0a0.95 0.95 0 1 0 1.9 0a0.95 0.95 0 1 0 -1.9 0M570.5 180.1a0.95 0.95 0 1 0 1.9 0a0.95 0.95 0 1 0 -1.9 0M575.5 176.3a0.95 0.95 0 1 0 1.9 0a0.95 0.95 0 1 0 -1.9 0M532.5 216.6a0.95 0.95 0 1 0 1.9 0a0.95 0.95 0 1 0 -1.9 0M535.0 211.3a0.95 0.95 0 1 0 1.9 0a0.95 0.95 0 1 0 -1.9 0M538.4 212.4a0.95 0.95 0 1 0 1.9 0a0.95 0.95 0 1 0 -1.9 0M520.3 227.3a0.95 0.95 0 1 0 1.9 0a0.95 0.95 0 1 0 -1.9 0M552.3 199.8a0.95 0.95 0 1 0 1.9 0a0.95 0.95 0 1 0 -1.9 0M545.4 204.2a0.95 0.95 0 1 0 1.9 0a0.95 0.95 0 1 0 -1.9 0M547.7 204.2a0.95 0.95 0 1 0 1.9 0a0.95 0.95 0 1 0 -1.9 0M569.5 179.8a0.95 0.95 0 1 0 1.9 0a0.95 0.95 0 1 0 -1.9 0M533.5 215.2a0.95 0.95 0 1 0 1.9 0a0.95 0.95 0 1 0 -1.9 0M565.9 183.7a0.95 0.95 0 1 0 1.9 0a0.95 0.95 0 1 0 -1.9 0M550.6 199.4a0.95 0.95 0 1 0 1.9 0a0.95 0.95 0 1 0 -1.9 0M578.2 177.7a0.95 0.95 0 1 0 1.9 0a0.95 0.95 0 1 0 -1.9 0M536.0 213.3a0.95 0.95 0 1 0 1.9 0a0.95 0.95 0 1 0 -1.9 0M513.5 235.2a0.95 0.95 0 1 0 1.9 0a0.95 0.95 0 1 0 -1.9 0M534.3 213.5a0.95 0.95 0 1 0 1.9 0a0.95 0.95 0 1 0 -1.9 0M573.8 180.7a0.95 0.95 0 1 0 1.9 0a0.95 0.95 0 1 0 -1.9 0M537.1 213.7a0.95 0.95 0 1 0 1.9 0a0.95 0.95 0 1 0 -1.9 0M550.6 198.6a0.95 0.95 0 1 0 1.9 0a0.95 0.95 0 1 0 -1.9 0M530.9 216.0a0.95 0.95 0 1 0 1.9 0a0.95 0.95 0 1 0 -1.9 0M574.8 177.4a0.95 0.95 0 1 0 1.9 0a0.95 0.95 0 1 0 -1.9 0M514.4 235.2a0.95 0.95 0 1 0 1.9 0a0.95 0.95 0 1 0 -1.9 0M556.8 193.5a0.95 0.95 0 1 0 1.9 0a0.95 0.95 0 1 0 -1.9 0M515.4 232.5a0.95 0.95 0 1 0 1.9 0a0.95 0.95 0 1 0 -1.9 0M558.3 190.8a0.95 0.95 0 1 0 1.9 0a0.95 0.95 0 1 0 -1.9 0M532.6 219.0a0.95 0.95 0 1 0 1.9 0a0.95 0.95 0 1 0 -1.9 0M558.8 192.2a0.95 0.95 0 1 0 1.9 0a0.95 0.95 0 1 0 -1.9 0M565.2 184.1a0.95 0.95 0 1 0 1.9 0a0.95 0.95 0 1 0 -1.9 0M579.9 176.3a0.95 0.95 0 1 0 1.9 0a0.95 0.95 0 1 0 -1.9 0M551.6 199.7a0.95 0.95 0 1 0 1.9 0a0.95 0.95 0 1 0 -1.9 0M555.9 196.1a0.95 0.95 0 1 0 1.9 0a0.95 0.95 0 1 0 -1.9 0M576.1 177.1a0.95 0.95 0 1 0 1.9 0a0.95 0.95 0 1 0 -1.9 0M572.2 180.0a0.95 0.95 0 1 0 1.9 0a0.95 0.95 0 1 0 -1.9 0M524.5 221.9a0.95 0.95 0 1 0 1.9 0a0.95 0.95 0 1 0 -1.9 0M527.4 218.6a0.95 0.95 0 1 0 1.9 0a0.95 0.95 0 1 0 -1.9 0M514.7 235.0a0.95 0.95 0 1 0 1.9 0a0.95 0.95 0 1 0 -1.9 0M534.3 213.6a0.95 0.95 0 1 0 1.9 0a0.95 0.95 0 1 0 -1.9 0M516.7 230.6a0.95 0.95 0 1 0 1.9 0a0.95 0.95 0 1 0 -1.9 0M520.5 226.8a0.95 0.95 0 1 0 1.9 0a0.95 0.95 0 1 0 -1.9 0M525.8 222.4a0.95 0.95 0 1 0 1.9 0a0.95 0.95 0 1 0 -1.9 0M523.5 223.8a0.95 0.95 0 1 0 1.9 0a0.95 0.95 0 1 0 -1.9 0M515.1 233.0a0.95 0.95 0 1 0 1.9 0a0.95 0.95 0 1 0 -1.9 0M533.2 214.9a0.95 0.95 0 1 0 1.9 0a0.95 0.95 0 1 0 -1.9 0M549.6 201.5a0.95 0.95 0 1 0 1.9 0a0.95 0.95 0 1 0 -1.9 0M513.9 236.6a0.95 0.95 0 1 0 1.9 0a0.95 0.95 0 1 0 -1.9 0M514.4 233.7a0.95 0.95 0 1 0 1.9 0a0.95 0.95 0 1 0 -1.9 0M530.3 216.8a0.95 0.95 0 1 0 1.9 0a0.95 0.95 0 1 0 -1.9 0M542.3 208.4a0.95 0.95 0 1 0 1.9 0a0.95 0.95 0 1 0 -1.9 0M535.9 212.2a0.95 0.95 0 1 0 1.9 0a0.95 0.95 0 1 0 -1.9 0M550.2 202.5a0.95 0.95 0 1 0 1.9 0a0.95 0.95 0 1 0 -1.9 0M524.3 221.7a0.95 0.95 0 1 0 1.9 0a0.95 0.95 0 1 0 -1.9 0M522.8 222.9a0.95 0.95 0 1 0 1.9 0a0.95 0.95 0 1 0 -1.9 0M535.4 213.9a0.95 0.95 0 1 0 1.9 0a0.95 0.95 0 1 0 -1.9 0M523.3 223.8a0.95 0.95 0 1 0 1.9 0a0.95 0.95 0 1 0 -1.9 0M526.5 219.1a0.95 0.95 0 1 0 1.9 0a0.95 0.95 0 1 0 -1.9 0M540.5 209.5a0.95 0.95 0 1 0 1.9 0a0.95 0.95 0 1 0 -1.9 0M573.8 179.6a0.95 0.95 0 1 0 1.9 0a0.95 0.95 0 1 0 -1.9 0M533.9 214.0a0.95 0.95 0 1 0 1.9 0a0.95 0.95 0 1 0 -1.9 0M517.0 231.2a0.95 0.95 0 1 0 1.9 0a0.95 0.95 0 1 0 -1.9 0M549.2 204.5a0.95 0.95 0 1 0 1.9 0a0.95 0.95 0 1 0 -1.9 0M533.0 215.1a0.95 0.95 0 1 0 1.9 0a0.95 0.95 0 1 0 -1.9 0M562.8 187.2a0.95 0.95 0 1 0 1.9 0a0.95 0.95 0 1 0 -1.9 0M529.6 217.3a0.95 0.95 0 1 0 1.9 0a0.95 0.95 0 1 0 -1.9 0M513.7 235.7a0.95 0.95 0 1 0 1.9 0a0.95 0.95 0 1 0 -1.9 0M563.5 188.7a0.95 0.95 0 1 0 1.9 0a0.95 0.95 0 1 0 -1.9 0M514.2 233.7a0.95 0.95 0 1 0 1.9 0a0.95 0.95 0 1 0 -1.9 0M538.2 210.7a0.95 0.95 0 1 0 1.9 0a0.95 0.95 0 1 0 -1.9 0M551.0 198.7a0.95 0.95 0 1 0 1.9 0a0.95 0.95 0 1 0 -1.9 0M582.4 173.3a0.95 0.95 0 1 0 1.9 0a0.95 0.95 0 1 0 -1.9 0M523.0 225.3a0.95 0.95 0 1 0 1.9 0a0.95 0.95 0 1 0 -1.9 0M518.0 228.4a0.95 0.95 0 1 0 1.9 0a0.95 0.95 0 1 0 -1.9 0M533.0 215.9a0.95 0.95 0 1 0 1.9 0a0.95 0.95 0 1 0 -1.9 0M543.5 205.0a0.95 0.95 0 1 0 1.9 0a0.95 0.95 0 1 0 -1.9 0M566.8 185.7a0.95 0.95 0 1 0 1.9 0a0.95 0.95 0 1 0 -1.9 0M548.4 202.0a0.95 0.95 0 1 0 1.9 0a0.95 0.95 0 1 0 -1.9 0M537.4 213.6a0.95 0.95 0 1 0 1.9 0a0.95 0.95 0 1 0 -1.9 0M513.1 236.1a0.95 0.95 0 1 0 1.9 0a0.95 0.95 0 1 0 -1.9 0M552.9 198.2a0.95 0.95 0 1 0 1.9 0a0.95 0.95 0 1 0 -1.9 0" fill="none" stroke="#5b2c91" stroke-width="0.7"/>
<path d="M594.7 167.6a0.95 0.95 0 1 0 1.9 0a0.95 0.95 0 1 0 -1.9 0M625.0 155.3a0.95 0.95 0 1 0 1.9 0a0.95 0.95 0 1 0 -1.9 0M596.8 160.9a0.95 0.95 0 1 0 1.9 0a0.95 0.95 0 1 0 -1.9 0M618.5 159.8a0.95 0.95 0 1 0 1.9 0a0.95 0.95 0 1 0 -1.9 0M610.3 161.1a0.95 0.95 0 1 0 1.9 0a0.95 0.95 0 1 0 -1.9 0M622.9 157.0a0.95 0.95 0 1 0 1.9 0a0.95 0.95 0 1 0 -1.9 0M618.9 158.6a0.95 0.95 0 1 0 1.9 0a0.95 0.95 0 1 0 -1.9 0M599.4 163.8a0.95 0.95 0 1 0 1.9 0a0.95 0.95 0 1 0 -1.9 0M620.9 158.4a0.95 0.95 0 1 0 1.9 0a0.95 0.95 0 1 0 -1.9 0M608.4 158.7a0.95 0.95 0 1 0 1.9 0a0.95 0.95 0 1 0 -1.9 0M586.0 169.7a0.95 0.95 0 1 0 1.9 0a0.95 0.95 0 1 0 -1.9 0M611.3 159.1a0.95 0.95 0 1 0 1.9 0a0.95 0.95 0 1 0 -1.9 0M613.5 162.4a0.95 0.95 0 1 0 1.9 0a0.95 0.95 0 1 0 -1.9 0M600.1 166.5a0.95 0.95 0 1 0 1.9 0a0.95 0.95 0 1 0 -1.9 0M622.1 159.0a0.95 0.95 0 1 0 1.9 0a0.95 0.95 0 1 0 -1.9 0M624.4 156.7a0.95 0.95 0 1 0 1.9 0a0.95 0.95 0 1 0 -1.9 0M608.3 163.2a0.95 0.95 0 1 0 1.9 0a0.95 0.95 0 1 0 -1.9 0M609.0 160.7a0.95 0.95 0 1 0 1.9 0a0.95 0.95 0 1 0 -1.9 0M617.4 159.4a0.95 0.95 0 1 0 1.9 0a0.95 0.95 0 1 0 -1.9 0M607.5 160.4a0.95 0.95 0 1 0 1.9 0a0.95 0.95 0 1 0 -1.9 0M603.4 158.7a0.95 0.95 0 1 0 1.9 0a0.95 0.95 0 1 0 -1.9 0M608.9 160.0a0.95 0.95 0 1 0 1.9 0a0.95 0.95 0 1 0 -1.9 0M617.7 156.4a0.95 0.95 0 1 0 1.9 0a0.95 0.95 0 1 0 -1.9 0M616.6 157.4a0.95 0.95 0 1 0 1.9 0a0.95 0.95 0 1 0 -1.9 0M598.5 166.2a0.95 0.95 0 1 0 1.9 0a0.95 0.95 0 1 0 -1.9 0M600.4 168.3a0.95 0.95 0 1 0 1.9 0a0.95 0.95 0 1 0 -1.9 0M623.2 162.4a0.95 0.95 0 1 0 1.9 0a0.95 0.95 0 1 0 -1.9 0M608.2 163.6a0.95 0.95 0 1 0 1.9 0a0.95 0.95 0 1 0 -1.9 0M606.9 162.3a0.95 0.95 0 1 0 1.9 0a0.95 0.95 0 1 0 -1.9 0M607.6 161.3a0.95 0.95 0 1 0 1.9 0a0.95 0.95 0 1 0 -1.9 0M602.2 165.1a0.95 0.95 0 1 0 1.9 0a0.95 0.95 0 1 0 -1.9 0M601.9 162.1a0.95 0.95 0 1 0 1.9 0a0.95 0.95 0 1 0 -1.9 0M608.5 163.4a0.95 0.95 0 1 0 1.9 0a0.95 0.95 0 1 0 -1.9 0M588.5 168.0a0.95 0.95 0 1 0 1.9 0a0.95 0.95 0 1 0 -1.9 0M591.8 169.8a0.95 0.95 0 1 0 1.9 0a0.95 0.95 0 1 0 -1.9 0M594.4 166.1a0.95 0.95 0 1 0 1.9 0a0.95 0.95 0 1 0 -1.9 0M594.3 168.4a0.95 0.95 0 1 0 1.9 0a0.95 0.95 0 1 0 -1.9 0M614.5 158.9a0.95 0.95 0 1 0 1.9 0a0.95 0.95 0 1 0 -1.9 0M620.5 160.6a0.95 0.95 0 1 0 1.9 0a0.95 0.95 0 1 0 -1.9 0M604.6 163.0a0.95 0.95 0 1 0 1.9 0a0.95 0.95 0 1 0 -1.9 0" fill="none" stroke="#5b2c91" stroke-width="0.7"/>
<path d="M540.9 212.0a0.95 0.95 0 1 0 1.9 0a0.95 0.95 0 1 0 -1.9 0M546.5 210.9a0.95 0.95 0 1 0 1.9 0a0.95 0.95 0 1 0 -1.9 0M545.0 211.2a0.95 0.95 0 1 0 1.9 0a0.95 0.95 0 1 0 -1.9 0M544.3 213.2a0.95 0.95 0 1 0 1.9 0a0.95 0.95 0 1 0 -1.9 0M548.0 209.0a0.95 0.95 0 1 0 1.9 0a0.95 0.95 0 1 0 -1.9 0M547.9 208.4a0.95 0.95 0 1 0 1.9 0a0.95 0.95 0 1 0 -1.9 0M547.1 208.2a0.95 0.95 0 1 0 1.9 0a0.95 0.95 0 1 0 -1.9 0M539.8 212.0a0.95 0.95 0 1 0 1.9 0a0.95 0.95 0 1 0 -1.9 0" fill="none" stroke="#5b2c91" stroke-width="0.7"/>
<polyline points="514.5,235.6 517.3,232.0 520.2,228.6 523.1,225.4 526.0,222.4 528.9,219.5 531.8,216.9 534.7,214.6 537.5,212.5 540.4,210.3 543.3,208.0 546.2,205.5 549.1,202.6 552.0,199.4 554.9,196.2 557.8,193.1 560.6,190.3 563.5,187.8 566.4,185.4 569.3,183.2 572.2,181.1 575.1,179.1 578.0,177.1 580.8,175.2 583.7,173.3 586.6,171.5 589.5,169.8 592.4,168.2 595.3,166.7 598.2,165.2 601.0,163.8 603.9,162.7 606.8,161.8 609.7,160.9 612.6,160.2 615.5,159.5 618.4,158.8 621.2,158.2 624.1,157.5 627.0,156.8" fill="none" stroke="#5b2c91" stroke-width="0.8"/></g>
<g clip-path="url(#cg)"><path d="M52.6 375.1l0.95 0.95 -0.95 0.95 -0.95 -0.95zM104.2 325.8l0.95 0.95 -0.95 0.95 -0.95 -0.95zM85.0 336.1l0.95 0.95 -0.95 0.95 -0.95 -0.95zM74.7 344.4l0.95 0.95 -0.95 0.95 -0.95 -0.95zM106.5 327.6l0.95 0.95 -0.95 0.95 -0.95 -0.95zM55.5 368.3l0.95 0.95 -0.95 0.95 -0.95 -0.95zM79.8 342.9l0.95 0.95 -0.95 0.95 -0.95 -0.95zM52.8 376.6l0.95 0.95 -0.95 0.95 -0.95 -0.95zM67.7 348.8l0.95 0.95 -0.95 0.95 -0.95 -0.95zM113.9 318.8l0.95 0.95 -0.95 0.95 -0.95 -0.95zM106.4 324.4l0.95 0.95 -0.95 0.95 -0.95 -0.95zM94.4 332.0l0.95 0.95 -0.95 0.95 -0.95 -0.95zM50.7 382.4l0.95 0.95 -0.95 0.95 -0.95 -0.95zM51.4 379.2l0.95 0.95 -0.95 0.95 -0.95 -0.95zM89.1 334.8l0.95 0.95 -0.95 0.95 -0.95 -0.95zM51.0 379.0l0.95 0.95 -0.95 0.95 -0.95 -0.95zM97.3 328.9l0.95 0.95 -0.95 0.95 -0.95 -0.95zM115.1 321.2l0.95 0.95 -0.95 0.95 -0.95 -0.95zM106.4 319.9l0.95 0.95 -0.95 0.95 -0.95 -0.95zM91.6 332.9l0.95 0.95 -0.95 0.95 -0.95 -0.95zM100.9 323.9l0.95 0.95 -0.95 0.95 -0.95 -0.95zM54.8 371.8l0.95 0.95 -0.95 0.95 -0.95 -0.95zM103.8 325.9l0.95 0.95 -0.95 0.95 -0.95 -0.95zM92.5 331.4l0.95 0.95 -0.95 0.95 -0.95 -0.95zM65.7 353.9l0.95 0.95 -0.95 0.95 -0.95 -0.95zM54.5 370.5l0.95 0.95 -0.95 0.95 -0.95 -0.95zM60.6 359.0l0.95 0.95 -0.95 0.95 -0.95 -0.95zM98.9 332.4l0.95 0.95 -0.95 0.95 -0.95 -0.95zM105.0 320.8l0.95 0.95 -0.95 0.95 -0.95 -0.95zM83.8 335.3l0.95 0.95 -0.95 0.95 -0.95 -0.95zM92.6 334.5l0.95 0.95 -0.95 0.95 -0.95 -0.95zM76.7 343.5l0.95 0.95 -0.95 0.95 -0.95 -0.95zM94.5 331.2l0.95 0.95 -0.95 0.95 -0.95 -0.95zM106.1 324.6l0.95 0.95 -0.95 0.95 -0.95 -0.95zM103.7 325.3l0.95 0.95 -0.95 0.95 -0.95 -0.95zM107.2 327.0l0.95 0.95 -0.95 0.95 -0.95 -0.95zM82.8 340.9l0.95 0.95 -0.95 0.95 -0.95 -0.95zM91.4 336.0l0.95 0.95 -0.95 0.95 -0.95 -0.95zM99.1 328.9l0.95 0.95 -0.95 0.95 -0.95 -0.95zM82.9 341.3l0.95 0.95 -0.95 0.95 -0.95 -0.95zM59.0 360.0l0.95 0.95 -0.95 0.95 -0.95 -0.95zM60.8 361.1l0.95 0.95 -0.95 0.95 -0.95 -0.95zM52.2 373.2l0.95 0.95 -0.95 0.95 -0.95 -0.95zM51.0 376.1l0.95 0.95 -0.95 0.95 -0.95 -0.95zM104.5 327.8l0.95 0.95 -0.95 0.95 -0.95 -0.95zM74.5 345.7l0.95 0.95 -0.95 0.95 -0.95 -0.95zM79.9 342.5l0.95 0.95 -0.95 0.95 -0.95 -0.95zM96.5 330.2l0.95 0.95 -0.95 0.95 -0.95 -0.95zM80.1 342.5l0.95 0.95 -0.95 0.95 -0.95 -0.95zM67.6 349.8l0.95 0.95 -0.95 0.95 -0.95 -0.95zM78.7 341.8l0.95 0.95 -0.95 0.95 -0.95 -0.95zM53.0 373.9l0.95 0.95 -0.95 0.95 -0.95 -0.95zM54.4 374.7l0.95 0.95 -0.95 0.95 -0.95 -0.95zM95.6 330.6l0.95 0.95 -0.95 0.95 -0.95 -0.95zM56.9 369.9l0.95 0.95 -0.95 0.95 -0.95 -0.95zM56.6 370.6l0.95 0.95 -0.95 0.95 -0.95 -0.95zM61.3 360.5l0.95 0.95 -0.95 0.95 -0.95 -0.95zM108.4 327.0l0.95 0.95 -0.95 0.95 -0.95 -0.95zM65.7 355.0l0.95 0.95 -0.95 0.95 -0.95 -0.95zM54.0 372.5l0.95 0.95 -0.95 0.95 -0.95 -0.95zM51.8 375.0l0.95 0.95 -0.95 0.95 -0.95 -0.95zM53.0 372.1l0.95 0.95 -0.95 0.95 -0.95 -0.95zM106.6 321.8l0.95 0.95 -0.95 0.95 -0.95 -0.95zM96.5 323.0l0.95 0.95 -0.95 0.95 -0.95 -0.95zM66.8 348.3l0.95 0.95 -0.95 0.95 -0.95 -0.95zM99.2 332.0l0.95 0.95 -0.95 0.95 -0.95 -0.95zM78.8 341.8l0.95 0.95 -0.95 0.95 -0.95 -0.95zM50.6 378.8l0.95 0.95 -0.95 0.95 -0.95 -0.95zM71.0 346.0l0.95 0.95 -0.95 0.95 -0.95 -0.95zM82.6 337.7l0.95 0.95 -0.95 0.95 -0.95 -0.95zM72.1 341.7l0.95 0.95 -0.95 0.95 -0.95 -0.95zM55.9 366.7l0.95 0.95 -0.95 0.95 -0.95 -0.95zM72.0 343.6l0.95 0.95 -0.95 0.95 -0.95 -0.95zM88.1 336.8l0.95 0.95 -0.95 0.95 -0.95 -0.95zM68.1 347.6l0.95 0.95 -0.95 0.95 -0.95 -0.95zM53.1 374.2l0.95 0.95 -0.95 0.95 -0.95 -0.95zM50.4 380.4l0.95 0.95 -0.95 0.95 -0.95 -0.95zM52.9 374.7l0.95 0.95 -0.95 0.95 -0.95 -0.95zM107.2 327.5l0.95 0.95 -0.95 0.95 -0.95 -0.95zM69.7 351.0l0.95 0.95 -0.95 0.95 -0.95 -0.95zM52.0 379.1l0.95 0.95 -0.95 0.95 -0.95 -0.95zM66.4 349.7l0.95 0.95 -0.95 0.95 -0.95 -0.95zM113.7 321.9l0.95 0.95 -0.95 0.95 -0.95 -0.95zM64.5 355.7l0.95 0.95 -0.95 0.95 -0.95 -0.95zM57.4 363.7l0.95 0.95 -0.95 0.95 -0.95 -0.95zM55.0 369.4l0.95 0.95 -0.95 0.95 -0.95 -0.95zM63.1 352.8l0.95 0.95 -0.95 0.95 -0.95 -0.95zM59.0 363.5l0.95 0.95 -0.95 0.95 -0.95 -0.95zM92.6 334.5l0.95 0.95 -0.95 0.95 -0.95 -0.95zM91.1 330.1l0.95 0.95 -0.95 0.95 -0.95 -0.95zM51.4 376.5l0.95 0.95 -0.95 0.95 -0.95 -0.95zM62.2 357.1l0.95 0.95 -0.95 0.95 -0.95 -0.95zM56.9 365.6l0.95 0.95 -0.95 0.95 -0.95 -0.95zM103.2 326.8l0.95 0.95 -0.95 0.95 -0.95 -0.95zM98.9 325.4l0.95 0.95 -0.95 0.95 -0.95 -0.95zM88.3 335.6l0.95 0.95 -0.95 0.95 -0.95 -0.95zM74.0 342.4l0.95 0.95 -0.95 0.95 -0.95 -0.95zM57.7 369.3l0.95 0.95 -0.95 0.95 -0.95 -0.95zM80.1 341.1l0.95 0.95 -0.95 0.95 -0.95 -0.95zM105.8 325.9l0.95 0.95 -0.95 0.95 -0.95 -0.95zM52.8 375.5l0.95 0.95 -0.95 0.95 -0.95 -0.95zM102.3 327.5l0.95 0.95 -0.95 0.95 -0.95 -0.95zM96.2 330.7l0.95 0.95 -0.95 0.95 -0.95 -0.95zM59.2 363.2l0.95 0.95 -0.95 0.95 -0.95 -0.95zM101.5 329.5l0.95 0.95 -0.95 0.95 -0.95 -0.95zM50.4 377.0l0.95 0.95 -0.95 0.95 -0.95 -0.95zM58.6 362.8l0.95 0.95 -0.95 0.95 -0.95 -0.95zM68.6 349.4l0.95 0.95 -0.95 0.95 -0.95 -0.95zM52.2 375.4l0.95 0.95 -0.95 0.95 -0.95 -0.95zM115.5 324.6l0.95 0.95 -0.95 0.95 -0.95 -0.95zM105.5 326.6l0.95 0.95 -0.95 0.95 -0.95 -0.95zM80.7 341.2l0.95 0.95 -0.95 0.95 -0.95 -0.95zM59.8 361.2l0.95 0.95 -0.95 0.95 -0.95 -0.95zM78.3 337.0l0.95 0.95 -0.95 0.95 -0.95 -0.95zM108.5 320.4l0.95 0.95 -0.95 0.95 -0.95 -0.95zM80.6 338.0l0.95 0.95 -0.95 0.95 -0.95 -0.95zM76.5 343.9l0.95 0.95 -0.95 0.95 -0.95 -0.95zM62.1 357.6l0.95 0.95 -0.95 0.95 -0.95 -0.95zM86.0 337.4l0.95 0.95 -0.95 0.95 -0.95 -0.95zM84.6 340.1l0.95 0.95 -0.95 0.95 -0.95 -0.95zM115.4 318.6l0.95 0.95 -0.95 0.95 -0.95 -0.95zM82.1 336.5l0.95 0.95 -0.95 0.95 -0.95 -0.95zM52.0 377.1l0.95 0.95 -0.95 0.95 -0.95 -0.95zM92.1 331.3l0.95 0.95 -0.95 0.95 -0.95 -0.95zM90.9 334.3l0.95 0.95 -0.95 0.95 -0.95 -0.95zM84.1 339.9l0.95 0.95 -0.95 0.95 -0.95 -0.95zM51.2 376.7l0.95 0.95 -0.95 0.95 -0.95 -0.95zM98.8 328.0l0.95 0.95 -0.95 0.95 -0.95 -0.95zM68.4 350.0l0.95 0.95 -0.95 0.95 -0.95 -0.95zM59.7 359.0l0.95 0.95 -0.95 0.95 -0.95 -0.95zM77.1 339.5l0.95 0.95 -0.95 0.95 -0.95 -0.95zM88.7 336.0l0.95 0.95 -0.95 0.95 -0.95 -0.95zM51.2 374.1l0.95 0.95 -0.95 0.95 -0.95 -0.95zM101.5 329.0l0.95 0.95 -0.95 0.95 -0.95 -0.95zM71.1 343.0l0.95 0.95 -0.95 0.95 -0.95 -0.95zM105.4 323.7l0.95 0.95 -0.95 0.95 -0.95 -0.95zM50.5 379.8l0.95 0.95 -0.95 0.95 -0.95 -0.95zM73.1 342.3l0.95 0.95 -0.95 0.95 -0.95 -0.95zM76.4 342.3l0.95 0.95 -0.95 0.95 -0.95 -0.95zM97.7 328.4l0.95 0.95 -0.95 0.95 -0.95 -0.95zM82.4 335.9l0.95 0.95 -0.95 0.95 -0.95 -0.95zM85.9 333.0l0.95 0.95 -0.95 0.95 -0.95 -0.95zM51.6 378.1l0.95 0.95 -0.95 0.95 -0.95 -0.95zM54.9 370.9l0.95 0.95 -0.95 0.95 -0.95 -0.95zM68.4 351.3l0.95 0.95 -0.95 0.95 -0.95 -0.95zM89.2 338.9l0.95 0.95 -0.95 0.95 -0.95 -0.95zM81.2 338.4l0.95 0.95 -0.95 0.95 -0.95 -0.95zM73.4 342.4l0.95 0.95 -0.95 0.95 -0.95 -0.95zM53.3 372.8l0.95 0.95 -0.95 0.95 -0.95 -0.95zM88.1 338.1l0.95 0.95 -0.95 0.95 -0.95 -0.95zM90.3 331.0l0.95 0.95 -0.95 0.95 -0.95 -0.95zM76.3 341.2l0.95 0.95 -0.95 0.95 -0.95 -0.95zM86.7 336.8l0.95 0.95 -0.95 0.95 -0.95 -0.95zM80.0 341.9l0.95 0.95 -0.95 0.95 -0.95 -0.95zM70.7 348.7l0.95 0.95 -0.95 0.95 -0.95 -0.95zM55.9 369.6l0.95 0.95 -0.95 0.95 -0.95 -0.95zM86.4 335.8l0.95 0.95 -0.95 0.95 -0.95 -0.95zM76.9 341.8l0.95 0.95 -0.95 0.95 -0.95 -0.95zM111.6 322.5l0.95 0.95 -0.95 0.95 -0.95 -0.95zM99.1 329.9l0.95 0.95 -0.95 0.95 -0.95 -0.95z" fill="none" stroke="#2f4f9f" stroke-width="0.7"/>
<path d="M117.3 322.1l0.95 0.95 -0.95 0.95 -0.95 -0.95zM178.7 303.6l0.95 0.95 -0.95 0.95 -0.95 -0.95zM120.2 314.7l0.95 0.95 -0.95 0.95 -0.95 -0.95zM162.2 308.3l0.95 0.95 -0.95 0.95 -0.95 -0.95zM152.8 307.7l0.95 0.95 -0.95 0.95 -0.95 -0.95zM143.6 312.5l0.95 0.95 -0.95 0.95 -0.95 -0.95zM177.9 303.8l0.95 0.95 -0.95 0.95 -0.95 -0.95zM156.4 306.6l0.95 0.95 -0.95 0.95 -0.95 -0.95zM158.8 303.3l0.95 0.95 -0.95 0.95 -0.95 -0.95zM125.8 310.8l0.95 0.95 -0.95 0.95 -0.95 -0.95zM123.7 313.8l0.95 0.95 -0.95 0.95 -0.95 -0.95zM151.9 314.0l0.95 0.95 -0.95 0.95 -0.95 -0.95zM181.2 296.7l0.95 0.95 -0.95 0.95 -0.95 -0.95zM125.5 310.0l0.95 0.95 -0.95 0.95 -0.95 -0.95zM158.8 308.5l0.95 0.95 -0.95 0.95 -0.95 -0.95zM118.9 324.9l0.95 0.95 -0.95 0.95 -0.95 -0.95zM144.2 313.6l0.95 0.95 -0.95 0.95 -0.95 -0.95zM149.5 304.8l0.95 0.95 -0.95 0.95 -0.95 -0.95zM133.3 315.5l0.95 0.95 -0.95 0.95 -0.95 -0.95zM142.7 315.1l0.95 0.95 -0.95 0.95 -0.95 -0.95zM129.2 315.3l0.95 0.95 -0.95 0.95 -0.95 -0.95zM168.5 302.8l0.95 0.95 -0.95 0.95 -0.95 -0.95zM163.5 307.0l0.95 0.95 -0.95 0.95 -0.95 -0.95zM167.6 305.6l0.95 0.95 -0.95 0.95 -0.95 -0.95zM141.5 308.1l0.95 0.95 -0.95 0.95 -0.95 -0.95zM142.1 304.8l0.95 0.95 -0.95 0.95 -0.95 -0.95zM167.5 306.9l0.95 0.95 -0.95 0.95 -0.95 -0.95zM129.7 314.6l0.95 0.95 -0.95 0.95 -0.95 -0.95zM181.8 291.9l0.95 0.95 -0.95 0.95 -0.95 -0.95zM135.4 311.3l0.95 0.95 -0.95 0.95 -0.95 -0.95zM177.7 298.8l0.95 0.95 -0.95 0.95 -0.95 -0.95zM134.8 317.6l0.95 0.95 -0.95 0.95 -0.95 -0.95zM144.2 307.1l0.95 0.95 -0.95 0.95 -0.95 -0.95zM183.4 306.1l0.95 0.95 -0.95 0.95 -0.95 -0.95zM129.5 312.7l0.95 0.95 -0.95 0.95 -0.95 -0.95zM136.3 314.9l0.95 0.95 -0.95 0.95 -0.95 -0.95zM119.3 320.5l0.95 0.95 -0.95 0.95 -0.95 -0.95zM180.2 304.3l0.95 0.95 -0.95 0.95 -0.95 -0.95zM138.5 314.3l0.95 0.95 -0.95 0.95 -0.95 -0.95zM186.1 298.6l0.95 0.95 -0.95 0.95 -0.95 -0.95z" fill="none" stroke="#2f4f9f" stroke-width="0.7"/>
<path d="M193.9 293.1l0.95 0.95 -0.95 0.95 -0.95 -0.95zM194.6 295.3l0.95 0.95 -0.95 0.95 -0.95 -0.95zM198.7 297.4l0.95 0.95 -0.95 0.95 -0.95 -0.95zM206.1 297.6l0.95 0.95 -0.95 0.95 -0.95 -0.95zM201.2 295.4l0.95 0.95 -0.95 0.95 -0.95 -0.95zM194.8 296.0l0.95 0.95 -0.95 0.95 -0.95 -0.95zM194.3 295.8l0.95 0.95 -0.95 0.95 -0.95 -0.95zM190.9 296.0l0.95 0.95 -0.95 0.95 -0.95 -0.95zM198.6 292.7l0.95 0.95 -0.95 0.95 -0.95 -0.95zM201.7 294.4l0.95 0.95 -0.95 0.95 -0.95 -0.95zM206.1 295.6l0.95 0.95 -0.95 0.95 -0.95 -0.95zM192.8 298.4l0.95 0.95 -0.95 0.95 -0.95 -0.95zM200.2 294.9l0.95 0.95 -0.95 0.95 -0.95 -0.95zM194.1 294.5l0.95 0.95 -0.95 0.95 -0.95 -0.95zM191.0 296.5l0.95 0.95 -0.95 0.95 -0.95 -0.95zM198.1 294.2l0.95 0.95 -0.95 0.95 -0.95 -0.95zM191.3 297.9l0.95 0.95 -0.95 0.95 -0.95 -0.95zM198.5 297.7l0.95 0.95 -0.95 0.95 -0.95 -0.95zM205.5 294.8l0.95 0.95 -0.95 0.95 -0.95 -0.95zM203.6 297.0l0.95 0.95 -0.95 0.95 -0.95 -0.95zM196.0 293.0l0.95 0.95 -0.95 0.95 -0.95 -0.95zM202.7 295.3l0.95 0.95 -0.95 0.95 -0.95 -0.95zM190.2 298.7l0.95 0.95 -0.95 0.95 -0.95 -0.95zM201.4 295.5l0.95 0.95 -0.95 0.95 -0.95 -0.95zM206.4 298.0l0.95 0.95 -0.95 0.95 -0.95 -0.95zM198.8 293.8l0.95 0.95 -0.95 0.95 -0.95 -0.95zM198.5 293.6l0.95 0.95 -0.95 0.95 -0.95 -0.95zM191.7 295.3l0.95 0.95 -0.95 0.95 -0.95 -0.95zM195.2 295.2l0.95 0.95 -0.95 0.95 -0.95 -0.95zM191.9 295.1l0.95 0.95 -0.95 0.95 -0.95 -0.95zM192.5 296.1l0.95 0.95 -0.95 0.95 -0.95 -0.95zM197.7 295.5l0.95 0.95 -0.95 0.95 -0.95 -0.95zM193.6 292.9l0.95 0.95 -0.95 0.95 -0.95 -0.95zM200.2 295.0l0.95 0.95 -0.95 0.95 -0.95 -0.95zM205.4 298.8l0.95 0.95 -0.95 0.95 -0.95 -0.95zM203.1 292.2l0.95 0.95 -0.95 0.95 -0.95 -0.95zM193.4 295.9l0.95 0.95 -0.95 0.95 -0.95 -0.95zM201.9 295.2l0.95 0.95 -0.95 0.95 -0.95 -0.95zM202.4 297.2l0.95 0.95 -0.95 0.95 -0.95 -0.95zM205.0 296.4l0.95 0.95 -0.95 0.95 -0.95 -0.95zM205.3 298.1l0.95 0.95 -0.95 0.95 -0.95 -0.95zM205.3 296.2l0.95 0.95 -0.95 0.95 -0.95 -0.95zM199.2 294.4l0.95 0.95 -0.95 0.95 -0.95 -0.95zM201.9 297.6l0.95 0.95 -0.95 0.95 -0.95 -0.95zM193.6 296.7l0.95 0.95 -0.95 0.95 -0.95 -0.95zM196.1 294.4l0.95 0.95 -0.95 0.95 -0.95 -0.95zM202.9 296.1l0.95 0.95 -0.95 0.95 -0.95 -0.95zM200.6 294.7l0.95 0.95 -0.95 0.95 -0.95 -0.95zM202.6 296.8l0.95 0.95 -0.95 0.95 -0.95 -0.95zM200.8 292.2l0.95 0.95 -0.95 0.95 -0.95 -0.95zM193.9 296.5l0.95 0.95 -0.95 0.95 -0.95 -0.95zM203.3 296.6l0.95 0.95 -0.95 0.95 -0.95 -0.95zM195.2 294.5l0.95 0.95 -0.95 0.95 -0.95 -0.95zM200.2 297.6l0.95 0.95 -0.95 0.95 -0.95 -0.95zM203.4 295.9l0.95 0.95 -0.95 0.95 -0.95 -0.95z" fill="none" stroke="#2f4f9f" stroke-width="0.7"/>
<path d="M127.1 308.6l0.95 0.95 -0.95 0.95 -0.95 -0.95zM123.5 306.8l0.95 0.95 -0.95 0.95 -0.95 -0.95zM148.2 301.8l0.95 0.95 -0.95 0.95 -0.95 -0.95zM119.9 309.1l0.95 0.95 -0.95 0.95 -0.95 -0.95zM143.5 305.1l0.95 0.95 -0.95 0.95 -0.95 -0.95zM152.5 303.0l0.95 0.95 -0.95 0.95 -0.95 -0.95zM129.5 308.1l0.95 0.95 -0.95 0.95 -0.95 -0.95z" fill="none" stroke="#2f4f9f" stroke-width="0.7"/>
<polyline points="50.7,379.3 54.7,372.2 58.7,365.2 62.6,358.3 66.6,352.2 70.6,346.7 74.6,343.4 78.5,341.6 82.5,340.0 86.5,337.6 90.5,334.8 94.4,332.4 98.4,330.1 102.4,327.9 106.4,325.9 110.3,323.9 114.3,322.1 118.3,320.4 122.3,318.8 126.2,317.4 130.2,315.9 134.2,314.6 138.2,313.3 142.1,312.0 146.1,310.7 150.1,309.5 154.1,308.4 158.0,307.3 162.0,306.2 166.0,305.2 170.0,304.2 173.9,303.3 177.9,302.4 181.9,301.6 185.9,300.9 189.8,300.2 193.8,299.6 197.8,299.1 201.8,298.6 205.7,298.2" fill="none" stroke="#2f4f9f" stroke-width="0.8"/>
<path d="M62.9 362.3h1.9v1.9h-1.9zM97.9 341.9h1.9v1.9h-1.9zM58.6 369.5h1.9v1.9h-1.9zM54.3 373.2h1.9v1.9h-1.9zM57.1 373.4h1.9v1.9h-1.9zM91.2 339.5h1.9v1.9h-1.9zM110.4 332.8h1.9v1.9h-1.9zM86.9 343.3h1.9v1.9h-1.9zM112.6 334.6h1.9v1.9h-1.9zM99.7 333.1h1.9v1.9h-1.9zM87.9 341.7h1.9v1.9h-1.9zM55.6 371.1h1.9v1.9h-1.9zM109.1 333.7h1.9v1.9h-1.9zM60.0 366.1h1.9v1.9h-1.9zM112.6 334.1h1.9v1.9h-1.9zM107.3 334.7h1.9v1.9h-1.9zM59.6 371.0h1.9v1.9h-1.9zM64.4 359.9h1.9v1.9h-1.9zM76.7 348.4h1.9v1.9h-1.9zM81.5 345.1h1.9v1.9h-1.9zM93.1 338.2h1.9v1.9h-1.9zM86.4 343.7h1.9v1.9h-1.9zM66.0 356.7h1.9v1.9h-1.9zM73.2 358.3h1.9v1.9h-1.9zM76.8 344.4h1.9v1.9h-1.9zM56.9 373.4h1.9v1.9h-1.9zM96.4 337.9h1.9v1.9h-1.9zM92.4 340.9h1.9v1.9h-1.9zM85.4 342.3h1.9v1.9h-1.9zM89.6 339.6h1.9v1.9h-1.9zM57.8 368.8h1.9v1.9h-1.9zM61.6 360.9h1.9v1.9h-1.9zM78.0 343.4h1.9v1.9h-1.9zM85.5 342.5h1.9v1.9h-1.9zM81.4 346.3h1.9v1.9h-1.9zM55.6 366.5h1.9v1.9h-1.9zM59.1 364.9h1.9v1.9h-1.9zM55.5 372.5h1.9v1.9h-1.9zM89.2 335.5h1.9v1.9h-1.9zM56.6 365.9h1.9v1.9h-1.9zM97.6 340.4h1.9v1.9h-1.9zM60.1 370.7h1.9v1.9h-1.9zM70.9 352.9h1.9v1.9h-1.9zM76.9 350.5h1.9v1.9h-1.9zM54.3 370.3h1.9v1.9h-1.9zM58.4 365.9h1.9v1.9h-1.9zM84.5 348.6h1.9v1.9h-1.9zM58.9 366.1h1.9v1.9h-1.9zM105.8 332.0h1.9v1.9h-1.9zM58.2 367.5h1.9v1.9h-1.9zM76.5 353.8h1.9v1.9h-1.9zM111.9 331.4h1.9v1.9h-1.9zM96.4 337.2h1.9v1.9h-1.9zM64.5 364.2h1.9v1.9h-1.9zM93.6 340.3h1.9v1.9h-1.9zM111.0 335.8h1.9v1.9h-1.9zM102.2 337.5h1.9v1.9h-1.9zM110.5 330.4h1.9v1.9h-1.9zM84.9 343.3h1.9v1.9h-1.9zM96.1 335.7h1.9v1.9h-1.9zM104.0 334.6h1.9v1.9h-1.9zM58.0 368.8h1.9v1.9h-1.9zM91.6 340.3h1.9v1.9h-1.9zM96.6 340.4h1.9v1.9h-1.9zM64.6 363.3h1.9v1.9h-1.9zM99.0 338.7h1.9v1.9h-1.9zM101.0 333.0h1.9v1.9h-1.9zM62.3 362.6h1.9v1.9h-1.9zM114.6 327.4h1.9v1.9h-1.9zM88.9 344.7h1.9v1.9h-1.9zM83.6 346.8h1.9v1.9h-1.9zM84.9 348.1h1.9v1.9h-1.9zM80.0 347.5h1.9v1.9h-1.9zM65.8 362.7h1.9v1.9h-1.9zM76.1 349.9h1.9v1.9h-1.9zM55.1 370.1h1.9v1.9h-1.9zM65.0 357.8h1.9v1.9h-1.9zM86.3 347.0h1.9v1.9h-1.9zM93.9 340.4h1.9v1.9h-1.9zM84.9 345.2h1.9v1.9h-1.9zM56.0 370.8h1.9v1.9h-1.9zM95.3 343.7h1.9v1.9h-1.9zM94.1 340.0h1.9v1.9h-1.9zM79.2 347.6h1.9v1.9h-1.9zM55.1 370.1h1.9v1.9h-1.9zM59.2 366.6h1.9v1.9h-1.9zM92.6 342.2h1.9v1.9h-1.9zM85.7 344.8h1.9v1.9h-1.9zM55.4 372.0h1.9v1.9h-1.9zM56.3 368.6h1.9v1.9h-1.9zM96.2 340.4h1.9v1.9h-1.9zM70.1 355.6h1.9v1.9h-1.9zM57.4 367.4h1.9v1.9h-1.9zM88.5 341.7h1.9v1.9h-1.9zM58.2 368.1h1.9v1.9h-1.9zM55.4 368.5h1.9v1.9h-1.9zM111.4 329.6h1.9v1.9h-1.9zM56.5 369.7h1.9v1.9h-1.9zM65.8 356.9h1.9v1.9h-1.9zM85.5 342.5h1.9v1.9h-1.9zM100.6 336.8h1.9v1.9h-1.9zM109.0 330.6h1.9v1.9h-1.9zM71.1 353.7h1.9v1.9h-1.9zM68.9 357.1h1.9v1.9h-1.9zM83.8 346.1h1.9v1.9h-1.9zM62.5 359.5h1.9v1.9h-1.9zM99.3 336.2h1.9v1.9h-1.9zM97.8 338.6h1.9v1.9h-1.9zM73.2 349.6h1.9v1.9h-1.9zM88.3 340.0h1.9v1.9h-1.9zM103.5 339.9h1.9v1.9h-1.9zM63.3 363.2h1.9v1.9h-1.9zM80.0 345.5h1.9v1.9h-1.9zM91.9 339.8h1.9v1.9h-1.9zM70.6 353.0h1.9v1.9h-1.9zM74.5 349.1h1.9v1.9h-1.9zM63.3 362.8h1.9v1.9h-1.9zM58.2 367.2h1.9v1.9h-1.9zM65.7 359.9h1.9v1.9h-1.9zM90.6 342.8h1.9v1.9h-1.9zM103.0 336.6h1.9v1.9h-1.9zM93.5 340.6h1.9v1.9h-1.9zM74.6 351.8h1.9v1.9h-1.9zM87.3 342.3h1.9v1.9h-1.9zM76.1 351.1h1.9v1.9h-1.9zM62.6 362.3h1.9v1.9h-1.9zM76.8 349.7h1.9v1.9h-1.9zM112.6 332.7h1.9v1.9h-1.9zM109.9 330.4h1.9v1.9h-1.9zM85.8 344.1h1.9v1.9h-1.9zM56.0 372.7h1.9v1.9h-1.9zM91.5 346.4h1.9v1.9h-1.9zM111.7 335.8h1.9v1.9h-1.9zM111.0 334.0h1.9v1.9h-1.9zM101.1 337.8h1.9v1.9h-1.9zM77.2 349.8h1.9v1.9h-1.9zM81.2 343.7h1.9v1.9h-1.9zM67.4 360.4h1.9v1.9h-1.9zM83.3 347.8h1.9v1.9h-1.9zM55.8 372.3h1.9v1.9h-1.9z" fill="none" stroke="#e0262a" stroke-width="0.7"/>
<path d="M118.4 335.5h1.9v1.9h-1.9zM120.6 329.3h1.9v1.9h-1.9zM133.6 326.5h1.9v1.9h-1.9zM131.6 320.8h1.9v1.9h-1.9zM174.7 313.4h1.9v1.9h-1.9zM171.2 309.5h1.9v1.9h-1.9zM133.9 325.9h1.9v1.9h-1.9zM133.6 319.0h1.9v1.9h-1.9zM183.2 313.1h1.9v1.9h-1.9zM165.1 320.5h1.9v1.9h-1.9zM145.6 318.5h1.9v1.9h-1.9zM185.4 314.8h1.9v1.9h-1.9zM159.6 316.6h1.9v1.9h-1.9zM160.1 311.9h1.9v1.9h-1.9zM122.3 329.9h1.9v1.9h-1.9zM119.9 327.2h1.9v1.9h-1.9zM114.6 328.6h1.9v1.9h-1.9zM148.0 320.8h1.9v1.9h-1.9zM154.2 318.9h1.9v1.9h-1.9zM134.6 322.5h1.9v1.9h-1.9zM131.2 324.0h1.9v1.9h-1.9zM165.8 315.4h1.9v1.9h-1.9zM171.1 316.1h1.9v1.9h-1.9zM166.8 309.5h1.9v1.9h-1.9zM157.6 312.3h1.9v1.9h-1.9zM170.6 312.8h1.9v1.9h-1.9zM135.6 320.8h1.9v1.9h-1.9zM168.9 315.4h1.9v1.9h-1.9zM165.8 312.2h1.9v1.9h-1.9zM122.2 334.2h1.9v1.9h-1.9zM160.5 314.4h1.9v1.9h-1.9zM185.6 313.7h1.9v1.9h-1.9zM127.0 326.1h1.9v1.9h-1.9zM121.6 327.7h1.9v1.9h-1.9zM150.3 317.9h1.9v1.9h-1.9zM123.9 328.3h1.9v1.9h-1.9zM147.6 322.2h1.9v1.9h-1.9zM172.7 309.0h1.9v1.9h-1.9zM177.0 310.7h1.9v1.9h-1.9zM154.4 320.7h1.9v1.9h-1.9zM128.1 324.2h1.9v1.9h-1.9zM125.3 324.7h1.9v1.9h-1.9zM125.3 325.5h1.9v1.9h-1.9zM144.0 324.4h1.9v1.9h-1.9zM153.5 315.4h1.9v1.9h-1.9zM180.2 312.2h1.9v1.9h-1.9zM148.9 319.2h1.9v1.9h-1.9zM177.2 316.1h1.9v1.9h-1.9zM133.1 323.2h1.9v1.9h-1.9zM141.4 319.0h1.9v1.9h-1.9z" fill="none" stroke="#e0262a" stroke-width="0.7"/>
<polyline points="55.5,373.5 58.9,369.1 62.3,365.1 65.7,361.3 69.2,357.8 72.6,354.6 76.0,351.6 79.4,349.1 82.8,347.0 86.2,345.3 89.7,343.7 93.1,342.1 96.5,340.5 99.9,339.0 103.3,337.4 106.7,335.8 110.1,334.2 113.6,332.6 117.0,331.0 120.4,329.5 123.8,328.0 127.2,326.6 130.6,325.3 134.1,324.1 137.5,322.9 140.9,321.8 144.3,320.7 147.7,319.8 151.1,318.9 154.5,318.2 158.0,317.4 161.4,316.8 164.8,316.1 168.2,315.5 171.6,314.9 175.0,314.3 178.5,313.9 181.9,313.4 185.3,313.1 188.7,312.8" fill="none" stroke="#e0262a" stroke-width="0.8"/>
<path d="M103.3 324.7l0.95 1.71h-1.9zM61.2 362.6l0.95 1.71h-1.9zM94.3 336.0l0.95 1.71h-1.9zM73.6 351.5l0.95 1.71h-1.9zM98.0 332.1l0.95 1.71h-1.9zM111.2 319.4l0.95 1.71h-1.9zM98.9 333.1l0.95 1.71h-1.9zM70.7 354.0l0.95 1.71h-1.9zM74.5 351.9l0.95 1.71h-1.9zM69.1 354.4l0.95 1.71h-1.9zM84.6 341.3l0.95 1.71h-1.9zM67.1 355.0l0.95 1.71h-1.9zM91.3 335.9l0.95 1.71h-1.9zM92.2 335.8l0.95 1.71h-1.9zM82.9 341.8l0.95 1.71h-1.9zM63.6 359.2l0.95 1.71h-1.9zM100.7 328.8l0.95 1.71h-1.9zM80.2 346.2l0.95 1.71h-1.9zM61.5 359.8l0.95 1.71h-1.9zM75.7 347.0l0.95 1.71h-1.9zM68.9 352.3l0.95 1.71h-1.9zM70.0 349.6l0.95 1.71h-1.9zM58.4 362.5l0.95 1.71h-1.9zM69.0 355.2l0.95 1.71h-1.9zM55.5 373.1l0.95 1.71h-1.9zM68.7 355.6l0.95 1.71h-1.9zM114.7 317.7l0.95 1.71h-1.9zM85.0 339.0l0.95 1.71h-1.9zM96.9 331.9l0.95 1.71h-1.9zM90.0 341.4l0.95 1.71h-1.9zM109.3 321.7l0.95 1.71h-1.9zM58.9 365.8l0.95 1.71h-1.9zM89.6 338.9l0.95 1.71h-1.9zM76.8 347.3l0.95 1.71h-1.9zM103.5 324.7l0.95 1.71h-1.9zM78.1 343.2l0.95 1.71h-1.9zM53.6 375.8l0.95 1.71h-1.9zM53.5 375.8l0.95 1.71h-1.9zM61.2 357.8l0.95 1.71h-1.9zM68.4 355.1l0.95 1.71h-1.9zM78.1 343.8l0.95 1.71h-1.9zM55.2 374.0l0.95 1.71h-1.9zM105.5 325.2l0.95 1.71h-1.9zM64.3 362.8l0.95 1.71h-1.9zM62.3 358.9l0.95 1.71h-1.9zM67.2 354.1l0.95 1.71h-1.9zM59.4 362.7l0.95 1.71h-1.9zM98.6 332.5l0.95 1.71h-1.9zM65.7 355.1l0.95 1.71h-1.9zM70.0 353.7l0.95 1.71h-1.9zM76.7 345.9l0.95 1.71h-1.9zM58.3 363.4l0.95 1.71h-1.9zM61.3 365.1l0.95 1.71h-1.9zM70.2 352.1l0.95 1.71h-1.9zM92.4 334.0l0.95 1.71h-1.9zM75.9 347.0l0.95 1.71h-1.9zM73.1 350.8l0.95 1.71h-1.9zM73.9 350.4l0.95 1.71h-1.9zM54.2 373.9l0.95 1.71h-1.9zM61.2 358.6l0.95 1.71h-1.9zM54.0 369.5l0.95 1.71h-1.9zM54.9 374.3l0.95 1.71h-1.9zM91.4 335.5l0.95 1.71h-1.9zM75.8 349.3l0.95 1.71h-1.9zM68.8 349.7l0.95 1.71h-1.9zM107.1 319.4l0.95 1.71h-1.9zM65.8 356.8l0.95 1.71h-1.9zM97.4 334.7l0.95 1.71h-1.9zM80.7 340.8l0.95 1.71h-1.9zM60.2 363.6l0.95 1.71h-1.9zM53.6 378.5l0.95 1.71h-1.9zM76.7 346.3l0.95 1.71h-1.9zM103.9 326.0l0.95 1.71h-1.9zM86.2 338.6l0.95 1.71h-1.9zM100.2 327.7l0.95 1.71h-1.9zM79.9 343.4l0.95 1.71h-1.9zM56.3 374.7l0.95 1.71h-1.9zM115.1 316.8l0.95 1.71h-1.9zM60.2 361.7l0.95 1.71h-1.9zM59.5 361.7l0.95 1.71h-1.9zM114.2 317.7l0.95 1.71h-1.9zM57.2 370.5l0.95 1.71h-1.9zM110.9 320.5l0.95 1.71h-1.9zM58.1 369.9l0.95 1.71h-1.9zM72.0 346.8l0.95 1.71h-1.9zM73.0 348.1l0.95 1.71h-1.9zM69.6 349.7l0.95 1.71h-1.9zM71.6 354.3l0.95 1.71h-1.9zM84.3 343.0l0.95 1.71h-1.9zM100.4 329.2l0.95 1.71h-1.9zM74.9 346.6l0.95 1.71h-1.9zM53.5 377.2l0.95 1.71h-1.9zM81.2 342.1l0.95 1.71h-1.9zM90.7 338.6l0.95 1.71h-1.9zM64.8 357.0l0.95 1.71h-1.9zM69.7 352.8l0.95 1.71h-1.9zM112.9 321.7l0.95 1.71h-1.9zM56.7 370.8l0.95 1.71h-1.9zM99.6 329.4l0.95 1.71h-1.9zM102.1 325.8l0.95 1.71h-1.9zM104.3 323.4l0.95 1.71h-1.9zM101.4 329.1l0.95 1.71h-1.9zM115.0 316.5l0.95 1.71h-1.9zM67.9 351.4l0.95 1.71h-1.9zM56.5 369.3l0.95 1.71h-1.9zM99.1 329.6l0.95 1.71h-1.9zM98.4 330.1l0.95 1.71h-1.9zM80.7 343.8l0.95 1.71h-1.9zM60.7 361.2l0.95 1.71h-1.9zM91.3 338.2l0.95 1.71h-1.9zM113.7 318.9l0.95 1.71h-1.9zM73.1 348.0l0.95 1.71h-1.9zM71.3 349.2l0.95 1.71h-1.9zM88.4 339.9l0.95 1.71h-1.9zM81.2 342.1l0.95 1.71h-1.9zM76.3 348.2l0.95 1.71h-1.9zM67.2 352.4l0.95 1.71h-1.9zM80.2 340.8l0.95 1.71h-1.9zM73.5 345.7l0.95 1.71h-1.9zM67.6 355.7l0.95 1.71h-1.9zM105.0 317.5l0.95 1.71h-1.9zM85.9 339.4l0.95 1.71h-1.9zM56.2 369.7l0.95 1.71h-1.9zM80.1 346.1l0.95 1.71h-1.9zM56.5 369.5l0.95 1.71h-1.9zM80.1 344.5l0.95 1.71h-1.9zM90.9 334.4l0.95 1.71h-1.9zM111.5 319.6l0.95 1.71h-1.9zM72.7 351.9l0.95 1.71h-1.9zM96.0 334.4l0.95 1.71h-1.9zM74.6 350.2l0.95 1.71h-1.9zM87.7 340.5l0.95 1.71h-1.9zM71.5 351.9l0.95 1.71h-1.9zM102.7 323.6l0.95 1.71h-1.9zM93.2 335.6l0.95 1.71h-1.9zM112.2 318.2l0.95 1.71h-1.9zM61.0 362.7l0.95 1.71h-1.9zM79.4 347.0l0.95 1.71h-1.9zM55.5 371.0l0.95 1.71h-1.9zM72.2 351.3l0.95 1.71h-1.9zM103.1 326.2l0.95 1.71h-1.9zM66.7 352.7l0.95 1.71h-1.9zM94.0 333.1l0.95 1.71h-1.9zM54.8 373.6l0.95 1.71h-1.9zM101.2 332.4l0.95 1.71h-1.9zM84.2 344.2l0.95 1.71h-1.9zM53.6 372.5l0.95 1.71h-1.9zM56.4 371.4l0.95 1.71h-1.9zM110.4 317.0l0.95 1.71h-1.9zM54.7 377.6l0.95 1.71h-1.9z" fill="none" stroke="#2ca14a" stroke-width="0.7"/>
<path d="M129.9 314.2l0.95 1.71h-1.9zM114.6 316.5l0.95 1.71h-1.9zM120.2 316.9l0.95 1.71h-1.9zM133.8 312.0l0.95 1.71h-1.9zM132.4 316.2l0.95 1.71h-1.9zM152.9 307.6l0.95 1.71h-1.9zM167.0 309.0l0.95 1.71h-1.9zM125.7 313.5l0.95 1.71h-1.9zM141.1 309.9l0.95 1.71h-1.9zM171.7 310.0l0.95 1.71h-1.9zM121.4 315.9l0.95 1.71h-1.9zM116.7 315.0l0.95 1.71h-1.9zM147.4 306.8l0.95 1.71h-1.9zM146.4 309.9l0.95 1.71h-1.9zM144.6 308.0l0.95 1.71h-1.9zM124.1 317.7l0.95 1.71h-1.9zM127.8 319.1l0.95 1.71h-1.9zM124.6 313.3l0.95 1.71h-1.9zM143.8 313.2l0.95 1.71h-1.9zM116.3 318.9l0.95 1.71h-1.9zM131.6 311.8l0.95 1.71h-1.9zM142.0 309.6l0.95 1.71h-1.9zM150.2 310.5l0.95 1.71h-1.9zM149.3 311.8l0.95 1.71h-1.9zM146.1 312.6l0.95 1.71h-1.9zM155.0 311.8l0.95 1.71h-1.9zM117.8 316.6l0.95 1.71h-1.9zM148.2 308.9l0.95 1.71h-1.9zM138.2 310.1l0.95 1.71h-1.9zM121.7 316.5l0.95 1.71h-1.9zM165.1 311.9l0.95 1.71h-1.9zM139.6 313.1l0.95 1.71h-1.9zM135.4 314.9l0.95 1.71h-1.9zM155.3 310.6l0.95 1.71h-1.9zM164.4 308.4l0.95 1.71h-1.9zM126.8 312.6l0.95 1.71h-1.9zM167.5 309.9l0.95 1.71h-1.9zM138.0 310.2l0.95 1.71h-1.9zM117.5 316.5l0.95 1.71h-1.9zM160.1 308.4l0.95 1.71h-1.9z" fill="none" stroke="#2ca14a" stroke-width="0.7"/>
<path d="M117.3 313.0l0.95 1.71h-1.9zM124.2 313.0l0.95 1.71h-1.9zM125.0 312.7l0.95 1.71h-1.9zM128.8 312.6l0.95 1.71h-1.9zM121.3 312.8l0.95 1.71h-1.9zM113.0 315.3l0.95 1.71h-1.9zM119.8 313.5l0.95 1.71h-1.9zM123.6 313.7l0.95 1.71h-1.9zM124.5 311.7l0.95 1.71h-1.9zM134.0 312.5l0.95 1.71h-1.9zM112.5 313.9l0.95 1.71h-1.9zM135.5 308.7l0.95 1.71h-1.9zM114.8 314.4l0.95 1.71h-1.9zM115.7 313.5l0.95 1.71h-1.9z" fill="none" stroke="#2ca14a" stroke-width="0.7"/>
<polyline points="53.1,379.9 56.2,371.5 59.2,365.1 62.3,361.0 65.3,358.0 68.4,355.1 71.5,352.3 74.5,349.6 77.6,347.0 80.6,344.7 83.7,342.6 86.7,340.6 89.8,338.6 92.9,336.2 95.9,333.5 99.0,330.7 102.0,328.0 105.1,325.6 108.2,323.2 111.2,321.0 114.3,319.2 117.3,318.0 120.4,316.9 123.4,316.0 126.5,315.2 129.6,314.5 132.6,313.8 135.7,313.2 138.7,312.4 141.8,311.7 144.9,311.0 147.9,310.4 151.0,310.0 154.0,309.7 157.1,309.4 160.1,309.2 163.2,309.0 166.3,308.9 169.3,308.8 172.4,308.8" fill="none" stroke="#2ca14a" stroke-width="0.8"/>
<path d="M67.3 359.9a0.95 0.95 0 1 0 1.9 0a0.95 0.95 0 1 0 -1.9 0M87.7 345.9a0.95 0.95 0 1 0 1.9 0a0.95 0.95 0 1 0 -1.9 0M59.6 367.6a0.95 0.95 0 1 0 1.9 0a0.95 0.95 0 1 0 -1.9 0M56.7 373.1a0.95 0.95 0 1 0 1.9 0a0.95 0.95 0 1 0 -1.9 0M91.9 340.2a0.95 0.95 0 1 0 1.9 0a0.95 0.95 0 1 0 -1.9 0M69.6 356.1a0.95 0.95 0 1 0 1.9 0a0.95 0.95 0 1 0 -1.9 0M85.1 346.9a0.95 0.95 0 1 0 1.9 0a0.95 0.95 0 1 0 -1.9 0M80.0 352.5a0.95 0.95 0 1 0 1.9 0a0.95 0.95 0 1 0 -1.9 0M94.2 337.8a0.95 0.95 0 1 0 1.9 0a0.95 0.95 0 1 0 -1.9 0M103.0 333.1a0.95 0.95 0 1 0 1.9 0a0.95 0.95 0 1 0 -1.9 0M109.0 329.2a0.95 0.95 0 1 0 1.9 0a0.95 0.95 0 1 0 -1.9 0M99.1 331.9a0.95 0.95 0 1 0 1.9 0a0.95 0.95 0 1 0 -1.9 0M90.8 344.5a0.95 0.95 0 1 0 1.9 0a0.95 0.95 0 1 0 -1.9 0M55.0 375.4a0.95 0.95 0 1 0 1.9 0a0.95 0.95 0 1 0 -1.9 0M79.6 352.2a0.95 0.95 0 1 0 1.9 0a0.95 0.95 0 1 0 -1.9 0M52.8 379.4a0.95 0.95 0 1 0 1.9 0a0.95 0.95 0 1 0 -1.9 0M103.1 332.6a0.95 0.95 0 1 0 1.9 0a0.95 0.95 0 1 0 -1.9 0M79.4 351.4a0.95 0.95 0 1 0 1.9 0a0.95 0.95 0 1 0 -1.9 0M63.9 361.7a0.95 0.95 0 1 0 1.9 0a0.95 0.95 0 1 0 -1.9 0M84.7 347.7a0.95 0.95 0 1 0 1.9 0a0.95 0.95 0 1 0 -1.9 0M68.6 357.8a0.95 0.95 0 1 0 1.9 0a0.95 0.95 0 1 0 -1.9 0M93.9 337.3a0.95 0.95 0 1 0 1.9 0a0.95 0.95 0 1 0 -1.9 0M79.2 353.6a0.95 0.95 0 1 0 1.9 0a0.95 0.95 0 1 0 -1.9 0M58.5 370.0a0.95 0.95 0 1 0 1.9 0a0.95 0.95 0 1 0 -1.9 0M68.3 357.8a0.95 0.95 0 1 0 1.9 0a0.95 0.95 0 1 0 -1.9 0M60.7 364.0a0.95 0.95 0 1 0 1.9 0a0.95 0.95 0 1 0 -1.9 0M57.2 372.9a0.95 0.95 0 1 0 1.9 0a0.95 0.95 0 1 0 -1.9 0M58.6 370.3a0.95 0.95 0 1 0 1.9 0a0.95 0.95 0 1 0 -1.9 0M80.4 351.8a0.95 0.95 0 1 0 1.9 0a0.95 0.95 0 1 0 -1.9 0M55.4 375.3a0.95 0.95 0 1 0 1.9 0a0.95 0.95 0 1 0 -1.9 0M58.5 368.6a0.95 0.95 0 1 0 1.9 0a0.95 0.95 0 1 0 -1.9 0M63.9 361.6a0.95 0.95 0 1 0 1.9 0a0.95 0.95 0 1 0 -1.9 0M55.2 375.8a0.95 0.95 0 1 0 1.9 0a0.95 0.95 0 1 0 -1.9 0M55.1 372.2a0.95 0.95 0 1 0 1.9 0a0.95 0.95 0 1 0 -1.9 0M102.2 336.6a0.95 0.95 0 1 0 1.9 0a0.95 0.95 0 1 0 -1.9 0M98.4 336.5a0.95 0.95 0 1 0 1.9 0a0.95 0.95 0 1 0 -1.9 0M66.9 364.3a0.95 0.95 0 1 0 1.9 0a0.95 0.95 0 1 0 -1.9 0M57.5 370.7a0.95 0.95 0 1 0 1.9 0a0.95 0.95 0 1 0 -1.9 0M53.3 375.9a0.95 0.95 0 1 0 1.9 0a0.95 0.95 0 1 0 -1.9 0M105.7 329.2a0.95 0.95 0 1 0 1.9 0a0.95 0.95 0 1 0 -1.9 0M57.8 370.8a0.95 0.95 0 1 0 1.9 0a0.95 0.95 0 1 0 -1.9 0M110.0 327.3a0.95 0.95 0 1 0 1.9 0a0.95 0.95 0 1 0 -1.9 0M78.5 353.4a0.95 0.95 0 1 0 1.9 0a0.95 0.95 0 1 0 -1.9 0M89.7 339.1a0.95 0.95 0 1 0 1.9 0a0.95 0.95 0 1 0 -1.9 0M59.4 367.0a0.95 0.95 0 1 0 1.9 0a0.95 0.95 0 1 0 -1.9 0M103.1 329.5a0.95 0.95 0 1 0 1.9 0a0.95 0.95 0 1 0 -1.9 0M82.8 350.9a0.95 0.95 0 1 0 1.9 0a0.95 0.95 0 1 0 -1.9 0M55.3 371.7a0.95 0.95 0 1 0 1.9 0a0.95 0.95 0 1 0 -1.9 0M91.8 335.4a0.95 0.95 0 1 0 1.9 0a0.95 0.95 0 1 0 -1.9 0M88.5 340.4a0.95 0.95 0 1 0 1.9 0a0.95 0.95 0 1 0 -1.9 0M98.9 335.7a0.95 0.95 0 1 0 1.9 0a0.95 0.95 0 1 0 -1.9 0M59.8 364.0a0.95 0.95 0 1 0 1.9 0a0.95 0.95 0 1 0 -1.9 0M110.5 323.2a0.95 0.95 0 1 0 1.9 0a0.95 0.95 0 1 0 -1.9 0M62.8 366.5a0.95 0.95 0 1 0 1.9 0a0.95 0.95 0 1 0 -1.9 0M82.7 347.4a0.95 0.95 0 1 0 1.9 0a0.95 0.95 0 1 0 -1.9 0M62.7 364.0a0.95 0.95 0 1 0 1.9 0a0.95 0.95 0 1 0 -1.9 0M99.5 333.3a0.95 0.95 0 1 0 1.9 0a0.95 0.95 0 1 0 -1.9 0M59.5 368.0a0.95 0.95 0 1 0 1.9 0a0.95 0.95 0 1 0 -1.9 0M56.9 372.3a0.95 0.95 0 1 0 1.9 0a0.95 0.95 0 1 0 -1.9 0M104.5 329.4a0.95 0.95 0 1 0 1.9 0a0.95 0.95 0 1 0 -1.9 0M96.6 337.1a0.95 0.95 0 1 0 1.9 0a0.95 0.95 0 1 0 -1.9 0M55.0 370.6a0.95 0.95 0 1 0 1.9 0a0.95 0.95 0 1 0 -1.9 0M101.9 327.0a0.95 0.95 0 1 0 1.9 0a0.95 0.95 0 1 0 -1.9 0M84.2 345.3a0.95 0.95 0 1 0 1.9 0a0.95 0.95 0 1 0 -1.9 0M98.5 336.8a0.95 0.95 0 1 0 1.9 0a0.95 0.95 0 1 0 -1.9 0M64.2 365.8a0.95 0.95 0 1 0 1.9 0a0.95 0.95 0 1 0 -1.9 0M114.6 324.7a0.95 0.95 0 1 0 1.9 0a0.95 0.95 0 1 0 -1.9 0M81.2 352.2a0.95 0.95 0 1 0 1.9 0a0.95 0.95 0 1 0 -1.9 0M90.7 340.2a0.95 0.95 0 1 0 1.9 0a0.95 0.95 0 1 0 -1.9 0M68.5 362.1a0.95 0.95 0 1 0 1.9 0a0.95 0.95 0 1 0 -1.9 0M72.3 357.0a0.95 0.95 0 1 0 1.9 0a0.95 0.95 0 1 0 -1.9 0M95.4 338.6a0.95 0.95 0 1 0 1.9 0a0.95 0.95 0 1 0 -1.9 0M94.9 336.7a0.95 0.95 0 1 0 1.9 0a0.95 0.95 0 1 0 -1.9 0M84.5 349.7a0.95 0.95 0 1 0 1.9 0a0.95 0.95 0 1 0 -1.9 0M98.2 334.7a0.95 0.95 0 1 0 1.9 0a0.95 0.95 0 1 0 -1.9 0M74.1 354.4a0.95 0.95 0 1 0 1.9 0a0.95 0.95 0 1 0 -1.9 0M62.0 366.1a0.95 0.95 0 1 0 1.9 0a0.95 0.95 0 1 0 -1.9 0M88.7 346.0a0.95 0.95 0 1 0 1.9 0a0.95 0.95 0 1 0 -1.9 0M78.1 355.6a0.95 0.95 0 1 0 1.9 0a0.95 0.95 0 1 0 -1.9 0M55.3 374.3a0.95 0.95 0 1 0 1.9 0a0.95 0.95 0 1 0 -1.9 0M91.7 339.9a0.95 0.95 0 1 0 1.9 0a0.95 0.95 0 1 0 -1.9 0M88.8 346.4a0.95 0.95 0 1 0 1.9 0a0.95 0.95 0 1 0 -1.9 0M57.4 371.9a0.95 0.95 0 1 0 1.9 0a0.95 0.95 0 1 0 -1.9 0M93.9 340.6a0.95 0.95 0 1 0 1.9 0a0.95 0.95 0 1 0 -1.9 0M59.1 366.2a0.95 0.95 0 1 0 1.9 0a0.95 0.95 0 1 0 -1.9 0M75.2 356.5a0.95 0.95 0 1 0 1.9 0a0.95 0.95 0 1 0 -1.9 0M82.8 349.3a0.95 0.95 0 1 0 1.9 0a0.95 0.95 0 1 0 -1.9 0M68.2 362.6a0.95 0.95 0 1 0 1.9 0a0.95 0.95 0 1 0 -1.9 0M87.6 345.1a0.95 0.95 0 1 0 1.9 0a0.95 0.95 0 1 0 -1.9 0M78.6 354.8a0.95 0.95 0 1 0 1.9 0a0.95 0.95 0 1 0 -1.9 0M59.7 370.6a0.95 0.95 0 1 0 1.9 0a0.95 0.95 0 1 0 -1.9 0M94.3 337.1a0.95 0.95 0 1 0 1.9 0a0.95 0.95 0 1 0 -1.9 0M67.3 358.2a0.95 0.95 0 1 0 1.9 0a0.95 0.95 0 1 0 -1.9 0M71.9 357.6a0.95 0.95 0 1 0 1.9 0a0.95 0.95 0 1 0 -1.9 0M72.5 359.4a0.95 0.95 0 1 0 1.9 0a0.95 0.95 0 1 0 -1.9 0M90.7 344.1a0.95 0.95 0 1 0 1.9 0a0.95 0.95 0 1 0 -1.9 0M110.6 329.2a0.95 0.95 0 1 0 1.9 0a0.95 0.95 0 1 0 -1.9 0M88.6 344.7a0.95 0.95 0 1 0 1.9 0a0.95 0.95 0 1 0 -1.9 0M96.4 334.0a0.95 0.95 0 1 0 1.9 0a0.95 0.95 0 1 0 -1.9 0M53.3 373.2a0.95 0.95 0 1 0 1.9 0a0.95 0.95 0 1 0 -1.9 0M97.7 334.0a0.95 0.95 0 1 0 1.9 0a0.95 0.95 0 1 0 -1.9 0M54.8 376.3a0.95 0.95 0 1 0 1.9 0a0.95 0.95 0 1 0 -1.9 0M93.8 339.7a0.95 0.95 0 1 0 1.9 0a0.95 0.95 0 1 0 -1.9 0M56.0 372.7a0.95 0.95 0 1 0 1.9 0a0.95 0.95 0 1 0 -1.9 0M106.7 322.9a0.95 0.95 0 1 0 1.9 0a0.95 0.95 0 1 0 -1.9 0M63.0 365.0a0.95 0.95 0 1 0 1.9 0a0.95 0.95 0 1 0 -1.9 0M103.7 329.2a0.95 0.95 0 1 0 1.9 0a0.95 0.95 0 1 0 -1.9 0M66.6 361.6a0.95 0.95 0 1 0 1.9 0a0.95 0.95 0 1 0 -1.9 0M96.9 334.3a0.95 0.95 0 1 0 1.9 0a0.95 0.95 0 1 0 -1.9 0M102.3 330.9a0.95 0.95 0 1 0 1.9 0a0.95 0.95 0 1 0 -1.9 0M97.9 336.8a0.95 0.95 0 1 0 1.9 0a0.95 0.95 0 1 0 -1.9 0M53.0 374.5a0.95 0.95 0 1 0 1.9 0a0.95 0.95 0 1 0 -1.9 0M58.3 369.4a0.95 0.95 0 1 0 1.9 0a0.95 0.95 0 1 0 -1.9 0M84.0 342.9a0.95 0.95 0 1 0 1.9 0a0.95 0.95 0 1 0 -1.9 0M74.1 353.3a0.95 0.95 0 1 0 1.9 0a0.95 0.95 0 1 0 -1.9 0M94.1 338.1a0.95 0.95 0 1 0 1.9 0a0.95 0.95 0 1 0 -1.9 0M110.0 327.4a0.95 0.95 0 1 0 1.9 0a0.95 0.95 0 1 0 -1.9 0M66.8 365.2a0.95 0.95 0 1 0 1.9 0a0.95 0.95 0 1 0 -1.9 0M85.7 347.8a0.95 0.95 0 1 0 1.9 0a0.95 0.95 0 1 0 -1.9 0M53.6 374.4a0.95 0.95 0 1 0 1.9 0a0.95 0.95 0 1 0 -1.9 0M54.5 376.3a0.95 0.95 0 1 0 1.9 0a0.95 0.95 0 1 0 -1.9 0M99.9 332.8a0.95 0.95 0 1 0 1.9 0a0.95 0.95 0 1 0 -1.9 0M80.1 349.5a0.95 0.95 0 1 0 1.9 0a0.95 0.95 0 1 0 -1.9 0M71.0 358.5a0.95 0.95 0 1 0 1.9 0a0.95 0.95 0 1 0 -1.9 0M75.7 358.7a0.95 0.95 0 1 0 1.9 0a0.95 0.95 0 1 0 -1.9 0M55.2 372.7a0.95 0.95 0 1 0 1.9 0a0.95 0.95 0 1 0 -1.9 0M101.8 331.2a0.95 0.95 0 1 0 1.9 0a0.95 0.95 0 1 0 -1.9 0M57.9 371.6a0.95 0.95 0 1 0 1.9 0a0.95 0.95 0 1 0 -1.9 0M53.7 374.9a0.95 0.95 0 1 0 1.9 0a0.95 0.95 0 1 0 -1.9 0M64.8 361.0a0.95 0.95 0 1 0 1.9 0a0.95 0.95 0 1 0 -1.9 0M58.7 370.1a0.95 0.95 0 1 0 1.9 0a0.95 0.95 0 1 0 -1.9 0M72.2 359.1a0.95 0.95 0 1 0 1.9 0a0.95 0.95 0 1 0 -1.9 0M81.0 351.5a0.95 0.95 0 1 0 1.9 0a0.95 0.95 0 1 0 -1.9 0M78.3 351.6a0.95 0.95 0 1 0 1.9 0a0.95 0.95 0 1 0 -1.9 0M75.6 354.5a0.95 0.95 0 1 0 1.9 0a0.95 0.95 0 1 0 -1.9 0M71.2 359.1a0.95 0.95 0 1 0 1.9 0a0.95 0.95 0 1 0 -1.9 0M92.1 340.2a0.95 0.95 0 1 0 1.9 0a0.95 0.95 0 1 0 -1.9 0M67.8 357.8a0.95 0.95 0 1 0 1.9 0a0.95 0.95 0 1 0 -1.9 0M69.8 359.7a0.95 0.95 0 1 0 1.9 0a0.95 0.95 0 1 0 -1.9 0M80.0 350.1a0.95 0.95 0 1 0 1.9 0a0.95 0.95 0 1 0 -1.9 0M71.0 356.3a0.95 0.95 0 1 0 1.9 0a0.95 0.95 0 1 0 -1.9 0M93.2 339.7a0.95 0.95 0 1 0 1.9 0a0.95 0.95 0 1 0 -1.9 0M70.0 354.7a0.95 0.95 0 1 0 1.9 0a0.95 0.95 0 1 0 -1.9 0M72.6 353.9a0.95 0.95 0 1 0 1.9 0a0.95 0.95 0 1 0 -1.9 0M105.1 331.4a0.95 0.95 0 1 0 1.9 0a0.95 0.95 0 1 0 -1.9 0M90.0 340.3a0.95 0.95 0 1 0 1.9 0a0.95 0.95 0 1 0 -1.9 0M53.0 370.7a0.95 0.95 0 1 0 1.9 0a0.95 0.95 0 1 0 -1.9 0M63.3 362.6a0.95 0.95 0 1 0 1.9 0a0.95 0.95 0 1 0 -1.9 0M57.1 370.6a0.95 0.95 0 1 0 1.9 0a0.95 0.95 0 1 0 -1.9 0M99.6 333.1a0.95 0.95 0 1 0 1.9 0a0.95 0.95 0 1 0 -1.9 0M112.3 323.5a0.95 0.95 0 1 0 1.9 0a0.95 0.95 0 1 0 -1.9 0M93.8 339.0a0.95 0.95 0 1 0 1.9 0a0.95 0.95 0 1 0 -1.9 0M100.8 328.7a0.95 0.95 0 1 0 1.9 0a0.95 0.95 0 1 0 -1.9 0M101.9 332.6a0.95 0.95 0 1 0 1.9 0a0.95 0.95 0 1 0 -1.9 0M87.6 344.4a0.95 0.95 0 1 0 1.9 0a0.95 0.95 0 1 0 -1.9 0M112.9 322.4a0.95 0.95 0 1 0 1.9 0a0.95 0.95 0 1 0 -1.9 0M77.6 354.4a0.95 0.95 0 1 0 1.9 0a0.95 0.95 0 1 0 -1.9 0M74.4 356.3a0.95 0.95 0 1 0 1.9 0a0.95 0.95 0 1 0 -1.9 0M91.8 339.6a0.95 0.95 0 1 0 1.9 0a0.95 0.95 0 1 0 -1.9 0M68.0 355.4a0.95 0.95 0 1 0 1.9 0a0.95 0.95 0 1 0 -1.9 0M77.9 351.9a0.95 0.95 0 1 0 1.9 0a0.95 0.95 0 1 0 -1.9 0M54.3 376.6a0.95 0.95 0 1 0 1.9 0a0.95 0.95 0 1 0 -1.9 0M61.2 365.6a0.95 0.95 0 1 0 1.9 0a0.95 0.95 0 1 0 -1.9 0M83.3 345.9a0.95 0.95 0 1 0 1.9 0a0.95 0.95 0 1 0 -1.9 0M106.2 331.2a0.95 0.95 0 1 0 1.9 0a0.95 0.95 0 1 0 -1.9 0M87.0 347.5a0.95 0.95 0 1 0 1.9 0a0.95 0.95 0 1 0 -1.9 0M54.0 371.6a0.95 0.95 0 1 0 1.9 0a0.95 0.95 0 1 0 -1.9 0M56.0 375.7a0.95 0.95 0 1 0 1.9 0a0.95 0.95 0 1 0 -1.9 0M86.1 343.1a0.95 0.95 0 1 0 1.9 0a0.95 0.95 0 1 0 -1.9 0M106.1 327.8a0.95 0.95 0 1 0 1.9 0a0.95 0.95 0 1 0 -1.9 0M59.1 369.3a0.95 0.95 0 1 0 1.9 0a0.95 0.95 0 1 0 -1.9 0M94.7 336.7a0.95 0.95 0 1 0 1.9 0a0.95 0.95 0 1 0 -1.9 0M64.3 361.2a0.95 0.95 0 1 0 1.9 0a0.95 0.95 0 1 0 -1.9 0M63.9 364.0a0.95 0.95 0 1 0 1.9 0a0.95 0.95 0 1 0 -1.9 0M62.7 361.0a0.95 0.95 0 1 0 1.9 0a0.95 0.95 0 1 0 -1.9 0M53.6 373.2a0.95 0.95 0 1 0 1.9 0a0.95 0.95 0 1 0 -1.9 0M103.0 331.0a0.95 0.95 0 1 0 1.9 0a0.95 0.95 0 1 0 -1.9 0M89.1 341.6a0.95 0.95 0 1 0 1.9 0a0.95 0.95 0 1 0 -1.9 0M71.3 359.3a0.95 0.95 0 1 0 1.9 0a0.95 0.95 0 1 0 -1.9 0M114.5 327.4a0.95 0.95 0 1 0 1.9 0a0.95 0.95 0 1 0 -1.9 0" fill="none" stroke="#5b2c91" stroke-width="0.7"/>
<path d="M158.4 311.0a0.95 0.95 0 1 0 1.9 0a0.95 0.95 0 1 0 -1.9 0M115.3 323.1a0.95 0.95 0 1 0 1.9 0a0.95 0.95 0 1 0 -1.9 0M135.3 310.1a0.95 0.95 0 1 0 1.9 0a0.95 0.95 0 1 0 -1.9 0M175.3 303.6a0.95 0.95 0 1 0 1.9 0a0.95 0.95 0 1 0 -1.9 0M159.0 307.6a0.95 0.95 0 1 0 1.9 0a0.95 0.95 0 1 0 -1.9 0M170.3 300.5a0.95 0.95 0 1 0 1.9 0a0.95 0.95 0 1 0 -1.9 0M176.9 299.1a0.95 0.95 0 1 0 1.9 0a0.95 0.95 0 1 0 -1.9 0M132.5 313.3a0.95 0.95 0 1 0 1.9 0a0.95 0.95 0 1 0 -1.9 0M141.3 310.7a0.95 0.95 0 1 0 1.9 0a0.95 0.95 0 1 0 -1.9 0M122.5 318.3a0.95 0.95 0 1 0 1.9 0a0.95 0.95 0 1 0 -1.9 0M135.9 311.9a0.95 0.95 0 1 0 1.9 0a0.95 0.95 0 1 0 -1.9 0M162.1 310.9a0.95 0.95 0 1 0 1.9 0a0.95 0.95 0 1 0 -1.9 0M163.4 301.5a0.95 0.95 0 1 0 1.9 0a0.95 0.95 0 1 0 -1.9 0M140.3 316.9a0.95 0.95 0 1 0 1.9 0a0.95 0.95 0 1 0 -1.9 0M151.1 312.6a0.95 0.95 0 1 0 1.9 0a0.95 0.95 0 1 0 -1.9 0M176.5 306.0a0.95 0.95 0 1 0 1.9 0a0.95 0.95 0 1 0 -1.9 0M179.5 298.4a0.95 0.95 0 1 0 1.9 0a0.95 0.95 0 1 0 -1.9 0M150.8 305.7a0.95 0.95 0 1 0 1.9 0a0.95 0.95 0 1 0 -1.9 0M159.7 312.9a0.95 0.95 0 1 0 1.9 0a0.95 0.95 0 1 0 -1.9 0M164.6 303.7a0.95 0.95 0 1 0 1.9 0a0.95 0.95 0 1 0 -1.9 0M144.7 313.4a0.95 0.95 0 1 0 1.9 0a0.95 0.95 0 1 0 -1.9 0M116.8 322.1a0.95 0.95 0 1 0 1.9 0a0.95 0.95 0 1 0 -1.9 0M139.2 308.5a0.95 0.95 0 1 0 1.9 0a0.95 0.95 0 1 0 -1.9 0M146.0 309.7a0.95 0.95 0 1 0 1.9 0a0.95 0.95 0 1 0 -1.9 0M160.2 306.9a0.95 0.95 0 1 0 1.9 0a0.95 0.95 0 1 0 -1.9 0M147.1 312.6a0.95 0.95 0 1 0 1.9 0a0.95 0.95 0 1 0 -1.9 0M115.8 326.5a0.95 0.95 0 1 0 1.9 0a0.95 0.95 0 1 0 -1.9 0M173.2 303.5a0.95 0.95 0 1 0 1.9 0a0.95 0.95 0 1 0 -1.9 0M162.7 309.9a0.95 0.95 0 1 0 1.9 0a0.95 0.95 0 1 0 -1.9 0M166.6 300.2a0.95 0.95 0 1 0 1.9 0a0.95 0.95 0 1 0 -1.9 0M173.8 304.5a0.95 0.95 0 1 0 1.9 0a0.95 0.95 0 1 0 -1.9 0M134.8 316.8a0.95 0.95 0 1 0 1.9 0a0.95 0.95 0 1 0 -1.9 0M176.8 305.9a0.95 0.95 0 1 0 1.9 0a0.95 0.95 0 1 0 -1.9 0M142.3 309.3a0.95 0.95 0 1 0 1.9 0a0.95 0.95 0 1 0 -1.9 0M168.7 302.8a0.95 0.95 0 1 0 1.9 0a0.95 0.95 0 1 0 -1.9 0M150.1 311.4a0.95 0.95 0 1 0 1.9 0a0.95 0.95 0 1 0 -1.9 0M135.5 308.8a0.95 0.95 0 1 0 1.9 0a0.95 0.95 0 1 0 -1.9 0M139.8 312.8a0.95 0.95 0 1 0 1.9 0a0.95 0.95 0 1 0 -1.9 0M116.9 322.6a0.95 0.95 0 1 0 1.9 0a0.95 0.95 0 1 0 -1.9 0M117.9 324.7a0.95 0.95 0 1 0 1.9 0a0.95 0.95 0 1 0 -1.9 0M122.7 318.3a0.95 0.95 0 1 0 1.9 0a0.95 0.95 0 1 0 -1.9 0M127.5 312.0a0.95 0.95 0 1 0 1.9 0a0.95 0.95 0 1 0 -1.9 0M172.6 302.5a0.95 0.95 0 1 0 1.9 0a0.95 0.95 0 1 0 -1.9 0M126.8 318.2a0.95 0.95 0 1 0 1.9 0a0.95 0.95 0 1 0 -1.9 0M174.7 306.0a0.95 0.95 0 1 0 1.9 0a0.95 0.95 0 1 0 -1.9 0M142.6 311.9a0.95 0.95 0 1 0 1.9 0a0.95 0.95 0 1 0 -1.9 0M145.0 305.5a0.95 0.95 0 1 0 1.9 0a0.95 0.95 0 1 0 -1.9 0M176.2 302.3a0.95 0.95 0 1 0 1.9 0a0.95 0.95 0 1 0 -1.9 0M153.4 308.6a0.95 0.95 0 1 0 1.9 0a0.95 0.95 0 1 0 -1.9 0M124.3 317.3a0.95 0.95 0 1 0 1.9 0a0.95 0.95 0 1 0 -1.9 0" fill="none" stroke="#5b2c91" stroke-width="0.7"/>
<polyline points="54.3,375.2 57.6,371.1 60.9,367.3 64.2,364.0 67.5,361.0 70.8,358.6 74.1,356.4 77.4,354.1 80.7,351.5 84.0,348.6 87.3,345.6 90.7,342.7 94.0,339.9 97.3,337.0 100.6,334.1 103.9,331.2 107.2,328.5 110.5,325.9 113.8,323.7 117.1,321.9 120.4,320.3 123.7,318.8 127.0,317.4 130.3,316.1 133.6,314.9 136.9,313.7 140.2,312.6 143.5,311.5 146.8,310.6 150.1,309.6 153.4,308.7 156.7,307.9 160.0,307.0 163.4,306.1 166.7,305.2 170.0,304.4 173.3,303.5 176.6,302.7 179.9,301.9 183.2,301.2" fill="none" stroke="#5b2c91" stroke-width="0.8"/></g>
<g clip-path="url(#ch)"><path d="M300.2 361.3l0.95 0.95 -0.95 0.95 -0.95 -0.95zM358.0 324.8l0.95 0.95 -0.95 0.95 -0.95 -0.95zM354.7 325.2l0.95 0.95 -0.95 0.95 -0.95 -0.95zM320.2 344.1l0.95 0.95 -0.95 0.95 -0.95 -0.95zM336.9 333.1l0.95 0.95 -0.95 0.95 -0.95 -0.95zM281.5 377.2l0.95 0.95 -0.95 0.95 -0.95 -0.95zM294.7 364.2l0.95 0.95 -0.95 0.95 -0.95 -0.95zM290.4 366.9l0.95 0.95 -0.95 0.95 -0.95 -0.95zM298.2 362.2l0.95 0.95 -0.95 0.95 -0.95 -0.95zM283.0 376.6l0.95 0.95 -0.95 0.95 -0.95 -0.95zM345.1 332.7l0.95 0.95 -0.95 0.95 -0.95 -0.95zM305.1 361.0l0.95 0.95 -0.95 0.95 -0.95 -0.95zM325.3 343.1l0.95 0.95 -0.95 0.95 -0.95 -0.95zM289.5 371.3l0.95 0.95 -0.95 0.95 -0.95 -0.95zM307.4 358.3l0.95 0.95 -0.95 0.95 -0.95 -0.95zM297.1 367.8l0.95 0.95 -0.95 0.95 -0.95 -0.95zM286.7 374.5l0.95 0.95 -0.95 0.95 -0.95 -0.95zM284.7 375.9l0.95 0.95 -0.95 0.95 -0.95 -0.95zM344.4 330.3l0.95 0.95 -0.95 0.95 -0.95 -0.95zM312.9 352.3l0.95 0.95 -0.95 0.95 -0.95 -0.95zM299.2 361.1l0.95 0.95 -0.95 0.95 -0.95 -0.95zM344.0 332.0l0.95 0.95 -0.95 0.95 -0.95 -0.95zM287.9 372.3l0.95 0.95 -0.95 0.95 -0.95 -0.95zM283.1 373.9l0.95 0.95 -0.95 0.95 -0.95 -0.95zM300.6 364.7l0.95 0.95 -0.95 0.95 -0.95 -0.95zM286.5 372.4l0.95 0.95 -0.95 0.95 -0.95 -0.95zM326.2 343.5l0.95 0.95 -0.95 0.95 -0.95 -0.95zM283.0 374.4l0.95 0.95 -0.95 0.95 -0.95 -0.95zM303.5 359.1l0.95 0.95 -0.95 0.95 -0.95 -0.95zM306.4 355.1l0.95 0.95 -0.95 0.95 -0.95 -0.95zM339.6 333.6l0.95 0.95 -0.95 0.95 -0.95 -0.95zM319.0 347.1l0.95 0.95 -0.95 0.95 -0.95 -0.95zM294.6 367.7l0.95 0.95 -0.95 0.95 -0.95 -0.95zM281.7 377.8l0.95 0.95 -0.95 0.95 -0.95 -0.95zM281.1 377.5l0.95 0.95 -0.95 0.95 -0.95 -0.95zM287.7 373.1l0.95 0.95 -0.95 0.95 -0.95 -0.95zM294.4 368.0l0.95 0.95 -0.95 0.95 -0.95 -0.95zM346.2 328.7l0.95 0.95 -0.95 0.95 -0.95 -0.95zM287.7 370.0l0.95 0.95 -0.95 0.95 -0.95 -0.95zM322.3 344.8l0.95 0.95 -0.95 0.95 -0.95 -0.95zM329.4 341.4l0.95 0.95 -0.95 0.95 -0.95 -0.95zM314.3 349.9l0.95 0.95 -0.95 0.95 -0.95 -0.95zM300.7 360.9l0.95 0.95 -0.95 0.95 -0.95 -0.95zM328.3 337.9l0.95 0.95 -0.95 0.95 -0.95 -0.95zM289.6 370.8l0.95 0.95 -0.95 0.95 -0.95 -0.95zM281.4 375.9l0.95 0.95 -0.95 0.95 -0.95 -0.95zM354.8 325.7l0.95 0.95 -0.95 0.95 -0.95 -0.95zM328.1 339.8l0.95 0.95 -0.95 0.95 -0.95 -0.95zM295.3 365.7l0.95 0.95 -0.95 0.95 -0.95 -0.95zM286.2 369.9l0.95 0.95 -0.95 0.95 -0.95 -0.95zM345.9 330.0l0.95 0.95 -0.95 0.95 -0.95 -0.95zM288.7 370.7l0.95 0.95 -0.95 0.95 -0.95 -0.95zM325.6 341.2l0.95 0.95 -0.95 0.95 -0.95 -0.95zM285.9 371.7l0.95 0.95 -0.95 0.95 -0.95 -0.95zM314.2 349.2l0.95 0.95 -0.95 0.95 -0.95 -0.95zM352.6 325.4l0.95 0.95 -0.95 0.95 -0.95 -0.95zM298.8 362.0l0.95 0.95 -0.95 0.95 -0.95 -0.95zM288.3 372.7l0.95 0.95 -0.95 0.95 -0.95 -0.95zM314.5 350.4l0.95 0.95 -0.95 0.95 -0.95 -0.95zM299.6 362.1l0.95 0.95 -0.95 0.95 -0.95 -0.95zM301.5 364.0l0.95 0.95 -0.95 0.95 -0.95 -0.95zM298.9 363.2l0.95 0.95 -0.95 0.95 -0.95 -0.95zM345.9 331.7l0.95 0.95 -0.95 0.95 -0.95 -0.95zM295.0 366.1l0.95 0.95 -0.95 0.95 -0.95 -0.95zM293.3 366.6l0.95 0.95 -0.95 0.95 -0.95 -0.95zM316.8 348.5l0.95 0.95 -0.95 0.95 -0.95 -0.95zM289.5 369.9l0.95 0.95 -0.95 0.95 -0.95 -0.95zM304.2 358.4l0.95 0.95 -0.95 0.95 -0.95 -0.95zM293.1 370.0l0.95 0.95 -0.95 0.95 -0.95 -0.95zM322.3 346.5l0.95 0.95 -0.95 0.95 -0.95 -0.95zM283.3 376.2l0.95 0.95 -0.95 0.95 -0.95 -0.95zM297.7 364.8l0.95 0.95 -0.95 0.95 -0.95 -0.95zM329.6 340.1l0.95 0.95 -0.95 0.95 -0.95 -0.95zM284.4 375.8l0.95 0.95 -0.95 0.95 -0.95 -0.95zM324.4 342.6l0.95 0.95 -0.95 0.95 -0.95 -0.95zM286.6 370.4l0.95 0.95 -0.95 0.95 -0.95 -0.95zM341.7 333.6l0.95 0.95 -0.95 0.95 -0.95 -0.95zM308.1 358.1l0.95 0.95 -0.95 0.95 -0.95 -0.95zM306.1 358.6l0.95 0.95 -0.95 0.95 -0.95 -0.95zM302.9 359.7l0.95 0.95 -0.95 0.95 -0.95 -0.95zM355.2 327.7l0.95 0.95 -0.95 0.95 -0.95 -0.95zM294.0 365.4l0.95 0.95 -0.95 0.95 -0.95 -0.95zM342.7 333.7l0.95 0.95 -0.95 0.95 -0.95 -0.95zM299.3 363.7l0.95 0.95 -0.95 0.95 -0.95 -0.95zM292.9 369.6l0.95 0.95 -0.95 0.95 -0.95 -0.95zM358.2 326.0l0.95 0.95 -0.95 0.95 -0.95 -0.95zM307.1 356.6l0.95 0.95 -0.95 0.95 -0.95 -0.95zM308.5 357.5l0.95 0.95 -0.95 0.95 -0.95 -0.95zM301.6 363.6l0.95 0.95 -0.95 0.95 -0.95 -0.95zM329.8 339.6l0.95 0.95 -0.95 0.95 -0.95 -0.95zM317.4 348.4l0.95 0.95 -0.95 0.95 -0.95 -0.95zM343.5 333.0l0.95 0.95 -0.95 0.95 -0.95 -0.95zM314.0 349.9l0.95 0.95 -0.95 0.95 -0.95 -0.95zM300.3 359.6l0.95 0.95 -0.95 0.95 -0.95 -0.95zM296.0 364.6l0.95 0.95 -0.95 0.95 -0.95 -0.95zM301.2 361.6l0.95 0.95 -0.95 0.95 -0.95 -0.95zM309.9 352.4l0.95 0.95 -0.95 0.95 -0.95 -0.95zM313.1 353.4l0.95 0.95 -0.95 0.95 -0.95 -0.95zM345.0 331.5l0.95 0.95 -0.95 0.95 -0.95 -0.95zM352.1 328.8l0.95 0.95 -0.95 0.95 -0.95 -0.95zM293.9 366.4l0.95 0.95 -0.95 0.95 -0.95 -0.95zM286.3 373.4l0.95 0.95 -0.95 0.95 -0.95 -0.95zM343.9 333.3l0.95 0.95 -0.95 0.95 -0.95 -0.95zM281.9 375.3l0.95 0.95 -0.95 0.95 -0.95 -0.95zM318.0 349.5l0.95 0.95 -0.95 0.95 -0.95 -0.95zM325.1 345.1l0.95 0.95 -0.95 0.95 -0.95 -0.95zM334.2 338.7l0.95 0.95 -0.95 0.95 -0.95 -0.95zM336.8 333.5l0.95 0.95 -0.95 0.95 -0.95 -0.95zM322.5 344.0l0.95 0.95 -0.95 0.95 -0.95 -0.95zM286.2 374.2l0.95 0.95 -0.95 0.95 -0.95 -0.95zM297.0 363.2l0.95 0.95 -0.95 0.95 -0.95 -0.95zM281.2 376.0l0.95 0.95 -0.95 0.95 -0.95 -0.95zM357.0 325.6l0.95 0.95 -0.95 0.95 -0.95 -0.95zM297.4 364.5l0.95 0.95 -0.95 0.95 -0.95 -0.95zM325.0 343.2l0.95 0.95 -0.95 0.95 -0.95 -0.95zM284.3 374.0l0.95 0.95 -0.95 0.95 -0.95 -0.95zM288.2 370.4l0.95 0.95 -0.95 0.95 -0.95 -0.95zM348.5 330.5l0.95 0.95 -0.95 0.95 -0.95 -0.95zM305.1 358.0l0.95 0.95 -0.95 0.95 -0.95 -0.95zM282.4 375.9l0.95 0.95 -0.95 0.95 -0.95 -0.95zM297.8 363.8l0.95 0.95 -0.95 0.95 -0.95 -0.95zM285.0 371.8l0.95 0.95 -0.95 0.95 -0.95 -0.95zM295.7 364.1l0.95 0.95 -0.95 0.95 -0.95 -0.95zM312.8 353.0l0.95 0.95 -0.95 0.95 -0.95 -0.95zM291.7 367.7l0.95 0.95 -0.95 0.95 -0.95 -0.95zM328.5 340.1l0.95 0.95 -0.95 0.95 -0.95 -0.95zM318.8 347.3l0.95 0.95 -0.95 0.95 -0.95 -0.95zM308.5 356.6l0.95 0.95 -0.95 0.95 -0.95 -0.95zM330.0 339.6l0.95 0.95 -0.95 0.95 -0.95 -0.95zM322.9 345.9l0.95 0.95 -0.95 0.95 -0.95 -0.95zM289.6 371.9l0.95 0.95 -0.95 0.95 -0.95 -0.95zM324.4 342.1l0.95 0.95 -0.95 0.95 -0.95 -0.95zM297.4 365.4l0.95 0.95 -0.95 0.95 -0.95 -0.95zM330.0 341.4l0.95 0.95 -0.95 0.95 -0.95 -0.95zM317.5 350.8l0.95 0.95 -0.95 0.95 -0.95 -0.95zM282.6 376.5l0.95 0.95 -0.95 0.95 -0.95 -0.95zM329.7 337.4l0.95 0.95 -0.95 0.95 -0.95 -0.95zM337.5 334.3l0.95 0.95 -0.95 0.95 -0.95 -0.95zM326.1 343.4l0.95 0.95 -0.95 0.95 -0.95 -0.95zM310.3 353.1l0.95 0.95 -0.95 0.95 -0.95 -0.95zM292.9 367.7l0.95 0.95 -0.95 0.95 -0.95 -0.95zM282.2 375.0l0.95 0.95 -0.95 0.95 -0.95 -0.95zM332.7 336.9l0.95 0.95 -0.95 0.95 -0.95 -0.95zM343.9 331.8l0.95 0.95 -0.95 0.95 -0.95 -0.95zM332.0 338.6l0.95 0.95 -0.95 0.95 -0.95 -0.95zM294.0 368.0l0.95 0.95 -0.95 0.95 -0.95 -0.95zM318.8 347.0l0.95 0.95 -0.95 0.95 -0.95 -0.95zM284.9 376.1l0.95 0.95 -0.95 0.95 -0.95 -0.95zM319.7 345.8l0.95 0.95 -0.95 0.95 -0.95 -0.95zM323.3 344.7l0.95 0.95 -0.95 0.95 -0.95 -0.95z" fill="none" stroke="#2f4f9f" stroke-width="0.7"/>
<path d="M395.2 308.9l0.95 0.95 -0.95 0.95 -0.95 -0.95zM379.6 313.5l0.95 0.95 -0.95 0.95 -0.95 -0.95zM372.2 318.8l0.95 0.95 -0.95 0.95 -0.95 -0.95zM360.3 321.0l0.95 0.95 -0.95 0.95 -0.95 -0.95zM374.0 318.2l0.95 0.95 -0.95 0.95 -0.95 -0.95zM398.6 311.2l0.95 0.95 -0.95 0.95 -0.95 -0.95zM360.7 322.7l0.95 0.95 -0.95 0.95 -0.95 -0.95zM377.7 313.7l0.95 0.95 -0.95 0.95 -0.95 -0.95zM360.8 323.3l0.95 0.95 -0.95 0.95 -0.95 -0.95zM397.3 309.1l0.95 0.95 -0.95 0.95 -0.95 -0.95zM397.4 306.7l0.95 0.95 -0.95 0.95 -0.95 -0.95zM368.8 318.8l0.95 0.95 -0.95 0.95 -0.95 -0.95zM385.9 311.1l0.95 0.95 -0.95 0.95 -0.95 -0.95zM399.5 304.9l0.95 0.95 -0.95 0.95 -0.95 -0.95zM396.3 309.0l0.95 0.95 -0.95 0.95 -0.95 -0.95zM368.4 320.7l0.95 0.95 -0.95 0.95 -0.95 -0.95zM362.6 323.9l0.95 0.95 -0.95 0.95 -0.95 -0.95zM359.4 324.2l0.95 0.95 -0.95 0.95 -0.95 -0.95zM399.1 305.0l0.95 0.95 -0.95 0.95 -0.95 -0.95zM386.4 310.9l0.95 0.95 -0.95 0.95 -0.95 -0.95zM379.7 315.3l0.95 0.95 -0.95 0.95 -0.95 -0.95zM369.1 321.7l0.95 0.95 -0.95 0.95 -0.95 -0.95zM387.5 312.2l0.95 0.95 -0.95 0.95 -0.95 -0.95zM363.1 323.2l0.95 0.95 -0.95 0.95 -0.95 -0.95zM363.1 326.1l0.95 0.95 -0.95 0.95 -0.95 -0.95zM361.3 322.9l0.95 0.95 -0.95 0.95 -0.95 -0.95zM374.3 314.7l0.95 0.95 -0.95 0.95 -0.95 -0.95zM371.0 315.8l0.95 0.95 -0.95 0.95 -0.95 -0.95zM365.6 323.1l0.95 0.95 -0.95 0.95 -0.95 -0.95zM365.6 321.5l0.95 0.95 -0.95 0.95 -0.95 -0.95zM377.0 314.0l0.95 0.95 -0.95 0.95 -0.95 -0.95zM376.2 311.3l0.95 0.95 -0.95 0.95 -0.95 -0.95zM392.0 309.0l0.95 0.95 -0.95 0.95 -0.95 -0.95zM393.4 309.2l0.95 0.95 -0.95 0.95 -0.95 -0.95zM387.3 308.5l0.95 0.95 -0.95 0.95 -0.95 -0.95zM378.9 320.0l0.95 0.95 -0.95 0.95 -0.95 -0.95zM361.2 320.4l0.95 0.95 -0.95 0.95 -0.95 -0.95zM380.8 314.6l0.95 0.95 -0.95 0.95 -0.95 -0.95zM388.2 311.8l0.95 0.95 -0.95 0.95 -0.95 -0.95zM397.8 308.4l0.95 0.95 -0.95 0.95 -0.95 -0.95z" fill="none" stroke="#2f4f9f" stroke-width="0.7"/>
<path d="M414.5 298.6l0.95 0.95 -0.95 0.95 -0.95 -0.95zM404.4 304.8l0.95 0.95 -0.95 0.95 -0.95 -0.95zM417.5 298.2l0.95 0.95 -0.95 0.95 -0.95 -0.95zM424.3 295.5l0.95 0.95 -0.95 0.95 -0.95 -0.95zM412.4 301.0l0.95 0.95 -0.95 0.95 -0.95 -0.95zM409.4 303.4l0.95 0.95 -0.95 0.95 -0.95 -0.95zM420.1 298.9l0.95 0.95 -0.95 0.95 -0.95 -0.95zM414.9 300.3l0.95 0.95 -0.95 0.95 -0.95 -0.95zM412.9 300.2l0.95 0.95 -0.95 0.95 -0.95 -0.95zM428.0 294.8l0.95 0.95 -0.95 0.95 -0.95 -0.95zM408.7 301.2l0.95 0.95 -0.95 0.95 -0.95 -0.95zM423.3 296.8l0.95 0.95 -0.95 0.95 -0.95 -0.95zM412.0 301.3l0.95 0.95 -0.95 0.95 -0.95 -0.95zM409.6 300.5l0.95 0.95 -0.95 0.95 -0.95 -0.95zM431.6 294.0l0.95 0.95 -0.95 0.95 -0.95 -0.95zM426.0 297.0l0.95 0.95 -0.95 0.95 -0.95 -0.95zM433.9 294.2l0.95 0.95 -0.95 0.95 -0.95 -0.95zM427.7 296.1l0.95 0.95 -0.95 0.95 -0.95 -0.95zM424.4 297.9l0.95 0.95 -0.95 0.95 -0.95 -0.95zM424.8 296.6l0.95 0.95 -0.95 0.95 -0.95 -0.95zM415.4 299.2l0.95 0.95 -0.95 0.95 -0.95 -0.95zM407.2 303.5l0.95 0.95 -0.95 0.95 -0.95 -0.95zM428.5 294.5l0.95 0.95 -0.95 0.95 -0.95 -0.95zM423.3 297.5l0.95 0.95 -0.95 0.95 -0.95 -0.95zM424.7 295.7l0.95 0.95 -0.95 0.95 -0.95 -0.95zM435.1 295.1l0.95 0.95 -0.95 0.95 -0.95 -0.95zM404.8 304.1l0.95 0.95 -0.95 0.95 -0.95 -0.95zM416.1 300.4l0.95 0.95 -0.95 0.95 -0.95 -0.95zM430.6 294.2l0.95 0.95 -0.95 0.95 -0.95 -0.95zM434.5 293.1l0.95 0.95 -0.95 0.95 -0.95 -0.95zM432.2 295.2l0.95 0.95 -0.95 0.95 -0.95 -0.95zM413.9 301.3l0.95 0.95 -0.95 0.95 -0.95 -0.95zM435.7 293.5l0.95 0.95 -0.95 0.95 -0.95 -0.95zM419.3 300.8l0.95 0.95 -0.95 0.95 -0.95 -0.95zM404.2 303.2l0.95 0.95 -0.95 0.95 -0.95 -0.95zM403.7 302.9l0.95 0.95 -0.95 0.95 -0.95 -0.95zM413.5 300.2l0.95 0.95 -0.95 0.95 -0.95 -0.95zM402.5 303.3l0.95 0.95 -0.95 0.95 -0.95 -0.95zM411.3 300.3l0.95 0.95 -0.95 0.95 -0.95 -0.95zM430.2 295.3l0.95 0.95 -0.95 0.95 -0.95 -0.95zM411.0 302.1l0.95 0.95 -0.95 0.95 -0.95 -0.95zM420.5 298.7l0.95 0.95 -0.95 0.95 -0.95 -0.95zM420.8 297.5l0.95 0.95 -0.95 0.95 -0.95 -0.95zM413.4 299.5l0.95 0.95 -0.95 0.95 -0.95 -0.95zM426.6 296.3l0.95 0.95 -0.95 0.95 -0.95 -0.95zM419.8 299.1l0.95 0.95 -0.95 0.95 -0.95 -0.95zM420.2 296.9l0.95 0.95 -0.95 0.95 -0.95 -0.95zM432.7 293.7l0.95 0.95 -0.95 0.95 -0.95 -0.95zM429.6 296.4l0.95 0.95 -0.95 0.95 -0.95 -0.95zM433.0 292.8l0.95 0.95 -0.95 0.95 -0.95 -0.95zM421.7 298.3l0.95 0.95 -0.95 0.95 -0.95 -0.95zM430.0 295.8l0.95 0.95 -0.95 0.95 -0.95 -0.95zM416.5 299.3l0.95 0.95 -0.95 0.95 -0.95 -0.95zM401.6 306.2l0.95 0.95 -0.95 0.95 -0.95 -0.95zM424.1 296.0l0.95 0.95 -0.95 0.95 -0.95 -0.95zM428.8 295.3l0.95 0.95 -0.95 0.95 -0.95 -0.95zM429.4 295.7l0.95 0.95 -0.95 0.95 -0.95 -0.95zM435.9 292.1l0.95 0.95 -0.95 0.95 -0.95 -0.95zM434.7 295.1l0.95 0.95 -0.95 0.95 -0.95 -0.95zM436.4 292.7l0.95 0.95 -0.95 0.95 -0.95 -0.95zM409.0 303.4l0.95 0.95 -0.95 0.95 -0.95 -0.95zM429.3 295.3l0.95 0.95 -0.95 0.95 -0.95 -0.95zM424.7 296.3l0.95 0.95 -0.95 0.95 -0.95 -0.95zM422.5 297.0l0.95 0.95 -0.95 0.95 -0.95 -0.95zM425.7 296.8l0.95 0.95 -0.95 0.95 -0.95 -0.95zM419.2 299.2l0.95 0.95 -0.95 0.95 -0.95 -0.95zM423.2 296.9l0.95 0.95 -0.95 0.95 -0.95 -0.95zM414.4 299.7l0.95 0.95 -0.95 0.95 -0.95 -0.95zM436.5 292.4l0.95 0.95 -0.95 0.95 -0.95 -0.95zM410.8 301.2l0.95 0.95 -0.95 0.95 -0.95 -0.95zM424.8 296.1l0.95 0.95 -0.95 0.95 -0.95 -0.95zM417.9 298.1l0.95 0.95 -0.95 0.95 -0.95 -0.95zM412.5 300.9l0.95 0.95 -0.95 0.95 -0.95 -0.95zM412.4 302.3l0.95 0.95 -0.95 0.95 -0.95 -0.95zM421.6 298.0l0.95 0.95 -0.95 0.95 -0.95 -0.95zM430.1 293.3l0.95 0.95 -0.95 0.95 -0.95 -0.95zM423.0 297.4l0.95 0.95 -0.95 0.95 -0.95 -0.95zM405.2 303.4l0.95 0.95 -0.95 0.95 -0.95 -0.95zM409.4 302.1l0.95 0.95 -0.95 0.95 -0.95 -0.95zM417.4 298.6l0.95 0.95 -0.95 0.95 -0.95 -0.95zM428.7 295.4l0.95 0.95 -0.95 0.95 -0.95 -0.95zM434.9 293.5l0.95 0.95 -0.95 0.95 -0.95 -0.95zM433.7 293.4l0.95 0.95 -0.95 0.95 -0.95 -0.95zM418.4 298.6l0.95 0.95 -0.95 0.95 -0.95 -0.95zM428.3 296.0l0.95 0.95 -0.95 0.95 -0.95 -0.95zM433.9 293.1l0.95 0.95 -0.95 0.95 -0.95 -0.95zM409.2 303.0l0.95 0.95 -0.95 0.95 -0.95 -0.95zM406.2 303.2l0.95 0.95 -0.95 0.95 -0.95 -0.95zM419.8 297.7l0.95 0.95 -0.95 0.95 -0.95 -0.95zM409.5 302.3l0.95 0.95 -0.95 0.95 -0.95 -0.95z" fill="none" stroke="#2f4f9f" stroke-width="0.7"/>
<polyline points="280.8,377.7 284.8,374.8 288.8,371.9 292.8,369.0 296.7,366.0 300.7,363.0 304.7,359.9 308.7,356.8 312.7,353.5 316.7,350.3 320.7,347.1 324.7,344.2 328.6,341.6 332.6,339.1 336.6,336.7 340.6,334.4 344.6,332.2 348.6,330.1 352.6,328.0 356.5,326.1 360.5,324.1 364.5,322.2 368.5,320.4 372.5,318.6 376.5,316.9 380.5,315.2 384.4,313.6 388.4,311.9 392.4,310.2 396.4,308.5 400.4,306.7 404.4,305.0 408.4,303.3 412.4,301.8 416.3,300.4 420.3,299.1 424.3,297.8 428.3,296.6 432.3,295.5 436.3,294.4" fill="none" stroke="#2f4f9f" stroke-width="0.8"/>
<path d="M319.9 341.3h1.9v1.9h-1.9zM286.1 372.8h1.9v1.9h-1.9zM291.2 367.9h1.9v1.9h-1.9zM295.6 364.1h1.9v1.9h-1.9zM332.0 332.6h1.9v1.9h-1.9zM319.0 342.8h1.9v1.9h-1.9zM305.4 356.1h1.9v1.9h-1.9zM341.9 331.1h1.9v1.9h-1.9zM346.3 326.8h1.9v1.9h-1.9zM351.2 326.4h1.9v1.9h-1.9zM350.2 324.6h1.9v1.9h-1.9zM345.1 326.5h1.9v1.9h-1.9zM347.5 327.2h1.9v1.9h-1.9zM303.6 357.0h1.9v1.9h-1.9zM316.4 345.6h1.9v1.9h-1.9zM349.0 326.1h1.9v1.9h-1.9zM340.7 328.5h1.9v1.9h-1.9zM352.7 325.4h1.9v1.9h-1.9zM356.2 321.9h1.9v1.9h-1.9zM322.0 340.7h1.9v1.9h-1.9zM312.2 350.6h1.9v1.9h-1.9zM317.6 343.7h1.9v1.9h-1.9zM327.8 336.3h1.9v1.9h-1.9zM292.5 366.2h1.9v1.9h-1.9zM304.2 357.4h1.9v1.9h-1.9zM327.7 336.3h1.9v1.9h-1.9zM286.9 373.0h1.9v1.9h-1.9zM285.8 374.0h1.9v1.9h-1.9zM341.6 330.6h1.9v1.9h-1.9zM320.7 342.8h1.9v1.9h-1.9zM287.7 372.1h1.9v1.9h-1.9zM351.0 324.2h1.9v1.9h-1.9zM284.4 373.3h1.9v1.9h-1.9zM286.1 370.7h1.9v1.9h-1.9zM286.0 369.1h1.9v1.9h-1.9zM325.9 337.5h1.9v1.9h-1.9zM282.8 375.6h1.9v1.9h-1.9zM290.1 370.4h1.9v1.9h-1.9zM288.1 369.7h1.9v1.9h-1.9zM355.5 322.9h1.9v1.9h-1.9zM341.3 329.5h1.9v1.9h-1.9zM311.1 348.4h1.9v1.9h-1.9zM301.2 362.3h1.9v1.9h-1.9zM286.4 373.9h1.9v1.9h-1.9zM283.9 373.2h1.9v1.9h-1.9zM349.4 326.5h1.9v1.9h-1.9zM309.7 351.3h1.9v1.9h-1.9zM322.0 341.9h1.9v1.9h-1.9zM337.8 329.7h1.9v1.9h-1.9zM353.6 323.3h1.9v1.9h-1.9zM316.1 344.8h1.9v1.9h-1.9zM282.3 372.8h1.9v1.9h-1.9zM289.5 368.2h1.9v1.9h-1.9zM284.9 370.8h1.9v1.9h-1.9zM344.4 329.1h1.9v1.9h-1.9zM299.4 359.2h1.9v1.9h-1.9zM295.7 363.4h1.9v1.9h-1.9zM286.5 369.8h1.9v1.9h-1.9zM331.5 336.3h1.9v1.9h-1.9zM347.0 328.0h1.9v1.9h-1.9zM296.7 361.6h1.9v1.9h-1.9zM318.6 341.0h1.9v1.9h-1.9zM297.9 363.1h1.9v1.9h-1.9zM346.0 326.9h1.9v1.9h-1.9zM353.1 323.9h1.9v1.9h-1.9zM350.2 326.2h1.9v1.9h-1.9zM299.6 360.6h1.9v1.9h-1.9zM340.8 328.7h1.9v1.9h-1.9zM341.6 327.4h1.9v1.9h-1.9zM301.3 358.9h1.9v1.9h-1.9zM291.9 367.5h1.9v1.9h-1.9zM356.0 324.2h1.9v1.9h-1.9zM350.0 325.3h1.9v1.9h-1.9zM335.9 330.4h1.9v1.9h-1.9zM329.5 335.0h1.9v1.9h-1.9zM318.8 344.3h1.9v1.9h-1.9zM342.6 327.8h1.9v1.9h-1.9zM330.8 335.3h1.9v1.9h-1.9zM293.6 365.4h1.9v1.9h-1.9zM318.7 343.2h1.9v1.9h-1.9zM326.4 337.1h1.9v1.9h-1.9zM297.2 364.4h1.9v1.9h-1.9zM327.2 338.0h1.9v1.9h-1.9zM326.9 336.4h1.9v1.9h-1.9zM310.7 352.7h1.9v1.9h-1.9zM292.3 369.1h1.9v1.9h-1.9zM325.5 338.8h1.9v1.9h-1.9zM318.7 342.4h1.9v1.9h-1.9zM285.2 372.2h1.9v1.9h-1.9zM303.9 357.9h1.9v1.9h-1.9zM283.3 373.4h1.9v1.9h-1.9zM299.8 360.1h1.9v1.9h-1.9zM281.7 375.7h1.9v1.9h-1.9zM318.7 342.0h1.9v1.9h-1.9zM349.8 327.9h1.9v1.9h-1.9zM292.5 365.3h1.9v1.9h-1.9zM293.4 364.8h1.9v1.9h-1.9zM328.2 337.9h1.9v1.9h-1.9zM320.3 340.9h1.9v1.9h-1.9zM348.7 324.9h1.9v1.9h-1.9zM305.4 357.3h1.9v1.9h-1.9zM335.0 332.6h1.9v1.9h-1.9zM320.9 339.6h1.9v1.9h-1.9zM340.6 329.9h1.9v1.9h-1.9zM293.0 369.4h1.9v1.9h-1.9zM303.7 358.7h1.9v1.9h-1.9zM302.5 358.7h1.9v1.9h-1.9zM347.6 326.0h1.9v1.9h-1.9zM350.8 325.8h1.9v1.9h-1.9zM282.9 373.2h1.9v1.9h-1.9zM334.3 331.9h1.9v1.9h-1.9zM281.9 376.6h1.9v1.9h-1.9zM346.7 326.9h1.9v1.9h-1.9zM286.3 372.1h1.9v1.9h-1.9zM326.7 337.1h1.9v1.9h-1.9zM314.5 347.0h1.9v1.9h-1.9zM354.8 322.9h1.9v1.9h-1.9zM350.3 325.3h1.9v1.9h-1.9zM296.6 365.2h1.9v1.9h-1.9zM301.2 359.6h1.9v1.9h-1.9zM295.9 363.7h1.9v1.9h-1.9zM338.0 331.5h1.9v1.9h-1.9zM343.7 329.2h1.9v1.9h-1.9zM350.6 325.8h1.9v1.9h-1.9zM301.3 359.5h1.9v1.9h-1.9zM317.4 345.0h1.9v1.9h-1.9zM300.0 363.4h1.9v1.9h-1.9zM339.5 329.9h1.9v1.9h-1.9zM292.1 365.4h1.9v1.9h-1.9zM304.1 356.9h1.9v1.9h-1.9zM345.9 328.9h1.9v1.9h-1.9zM330.8 334.4h1.9v1.9h-1.9zM302.3 359.3h1.9v1.9h-1.9zM301.7 357.5h1.9v1.9h-1.9zM356.2 321.3h1.9v1.9h-1.9zM324.0 341.5h1.9v1.9h-1.9zM298.6 363.3h1.9v1.9h-1.9zM335.9 330.7h1.9v1.9h-1.9zM340.8 329.0h1.9v1.9h-1.9zM297.9 363.0h1.9v1.9h-1.9zM335.4 330.5h1.9v1.9h-1.9zM287.4 367.3h1.9v1.9h-1.9zM305.8 356.7h1.9v1.9h-1.9zM349.4 324.3h1.9v1.9h-1.9zM320.1 342.5h1.9v1.9h-1.9zM304.5 357.0h1.9v1.9h-1.9zM298.2 361.8h1.9v1.9h-1.9zM330.5 334.6h1.9v1.9h-1.9zM290.0 370.8h1.9v1.9h-1.9zM287.5 370.5h1.9v1.9h-1.9zM345.7 327.9h1.9v1.9h-1.9zM314.5 347.6h1.9v1.9h-1.9zM287.5 369.8h1.9v1.9h-1.9zM343.6 329.1h1.9v1.9h-1.9zM350.9 327.5h1.9v1.9h-1.9zM321.9 339.1h1.9v1.9h-1.9zM353.9 324.3h1.9v1.9h-1.9zM298.0 363.5h1.9v1.9h-1.9zM314.7 344.5h1.9v1.9h-1.9zM332.9 333.2h1.9v1.9h-1.9z" fill="none" stroke="#e0262a" stroke-width="0.7"/>
<path d="M384.0 309.4h1.9v1.9h-1.9zM375.3 311.9h1.9v1.9h-1.9zM385.8 312.0h1.9v1.9h-1.9zM370.4 318.4h1.9v1.9h-1.9zM375.9 317.1h1.9v1.9h-1.9zM381.4 311.5h1.9v1.9h-1.9zM360.1 322.2h1.9v1.9h-1.9zM394.2 310.9h1.9v1.9h-1.9zM382.9 313.0h1.9v1.9h-1.9zM396.7 308.9h1.9v1.9h-1.9zM397.0 310.5h1.9v1.9h-1.9zM395.8 304.2h1.9v1.9h-1.9zM363.8 317.7h1.9v1.9h-1.9zM371.4 313.9h1.9v1.9h-1.9zM384.6 311.7h1.9v1.9h-1.9zM360.4 323.2h1.9v1.9h-1.9zM357.6 321.8h1.9v1.9h-1.9zM367.5 319.7h1.9v1.9h-1.9zM398.0 305.3h1.9v1.9h-1.9zM361.8 319.9h1.9v1.9h-1.9zM365.0 321.8h1.9v1.9h-1.9zM393.9 309.0h1.9v1.9h-1.9zM361.7 319.9h1.9v1.9h-1.9zM385.3 313.1h1.9v1.9h-1.9zM385.9 308.4h1.9v1.9h-1.9zM363.5 317.8h1.9v1.9h-1.9zM373.0 315.5h1.9v1.9h-1.9zM366.8 320.8h1.9v1.9h-1.9zM389.7 309.5h1.9v1.9h-1.9zM371.9 316.0h1.9v1.9h-1.9zM399.8 302.7h1.9v1.9h-1.9zM395.4 308.8h1.9v1.9h-1.9zM398.7 306.5h1.9v1.9h-1.9zM361.4 318.6h1.9v1.9h-1.9zM362.5 318.3h1.9v1.9h-1.9zM390.7 305.7h1.9v1.9h-1.9zM378.4 313.0h1.9v1.9h-1.9zM359.1 318.3h1.9v1.9h-1.9zM393.3 306.9h1.9v1.9h-1.9zM376.7 314.3h1.9v1.9h-1.9z" fill="none" stroke="#e0262a" stroke-width="0.7"/>
<polyline points="282.9,376.3 286.0,373.8 289.0,371.2 292.0,368.7 295.0,366.1 298.1,363.5 301.1,360.9 304.1,358.3 307.1,355.6 310.2,352.8 313.2,349.9 316.2,347.1 319.2,344.3 322.3,341.8 325.3,339.6 328.3,337.6 331.3,335.9 334.4,334.3 337.4,332.7 340.4,331.3 343.4,329.8 346.5,328.4 349.5,326.9 352.5,325.5 355.5,324.0 358.5,322.6 361.6,321.2 364.6,319.9 367.6,318.6 370.6,317.4 373.7,316.3 376.7,315.2 379.7,314.1 382.7,313.0 385.8,312.0 388.8,311.0 391.8,309.9 394.8,308.9 397.9,308.0 400.9,307.0" fill="none" stroke="#e0262a" stroke-width="0.8"/>
<path d="M293.3 368.4l0.95 1.71h-1.9zM348.5 330.3l0.95 1.71h-1.9zM319.4 344.0l0.95 1.71h-1.9zM303.8 359.2l0.95 1.71h-1.9zM346.5 329.9l0.95 1.71h-1.9zM321.8 347.6l0.95 1.71h-1.9zM310.0 354.8l0.95 1.71h-1.9zM325.6 343.8l0.95 1.71h-1.9zM286.8 374.4l0.95 1.71h-1.9zM356.2 326.4l0.95 1.71h-1.9zM310.5 352.1l0.95 1.71h-1.9zM294.7 366.5l0.95 1.71h-1.9zM311.5 354.8l0.95 1.71h-1.9zM321.5 347.8l0.95 1.71h-1.9zM317.6 346.3l0.95 1.71h-1.9zM299.1 364.3l0.95 1.71h-1.9zM287.7 376.9l0.95 1.71h-1.9zM300.4 362.2l0.95 1.71h-1.9zM343.1 331.8l0.95 1.71h-1.9zM331.5 334.8l0.95 1.71h-1.9zM288.7 373.1l0.95 1.71h-1.9zM348.0 330.0l0.95 1.71h-1.9zM344.8 332.5l0.95 1.71h-1.9zM299.0 365.9l0.95 1.71h-1.9zM299.3 366.4l0.95 1.71h-1.9zM285.0 375.7l0.95 1.71h-1.9zM301.6 359.6l0.95 1.71h-1.9zM288.1 375.2l0.95 1.71h-1.9zM354.6 323.9l0.95 1.71h-1.9zM294.9 367.9l0.95 1.71h-1.9zM329.7 340.8l0.95 1.71h-1.9zM317.6 345.2l0.95 1.71h-1.9zM324.6 341.7l0.95 1.71h-1.9zM287.8 375.4l0.95 1.71h-1.9zM345.8 329.4l0.95 1.71h-1.9zM289.2 377.8l0.95 1.71h-1.9zM320.5 343.3l0.95 1.71h-1.9zM349.2 329.1l0.95 1.71h-1.9zM292.5 371.3l0.95 1.71h-1.9zM318.9 347.1l0.95 1.71h-1.9zM286.2 377.6l0.95 1.71h-1.9zM288.2 378.0l0.95 1.71h-1.9zM331.7 338.4l0.95 1.71h-1.9zM290.2 373.0l0.95 1.71h-1.9zM311.3 354.4l0.95 1.71h-1.9zM331.0 339.0l0.95 1.71h-1.9zM333.6 335.7l0.95 1.71h-1.9zM346.9 329.7l0.95 1.71h-1.9zM349.9 329.0l0.95 1.71h-1.9zM298.2 365.7l0.95 1.71h-1.9zM327.3 342.2l0.95 1.71h-1.9zM318.3 349.6l0.95 1.71h-1.9zM292.4 368.1l0.95 1.71h-1.9zM296.1 364.4l0.95 1.71h-1.9zM285.1 376.2l0.95 1.71h-1.9zM293.1 371.2l0.95 1.71h-1.9zM313.9 351.6l0.95 1.71h-1.9zM356.3 324.4l0.95 1.71h-1.9zM352.5 326.4l0.95 1.71h-1.9zM342.9 333.4l0.95 1.71h-1.9zM330.2 340.7l0.95 1.71h-1.9zM326.7 340.2l0.95 1.71h-1.9zM302.7 360.2l0.95 1.71h-1.9zM314.7 349.7l0.95 1.71h-1.9zM355.2 326.8l0.95 1.71h-1.9zM318.3 351.2l0.95 1.71h-1.9zM332.0 340.6l0.95 1.71h-1.9zM284.9 377.2l0.95 1.71h-1.9zM289.3 372.9l0.95 1.71h-1.9zM293.2 368.8l0.95 1.71h-1.9zM304.3 360.7l0.95 1.71h-1.9zM300.7 363.6l0.95 1.71h-1.9zM307.2 357.5l0.95 1.71h-1.9zM303.6 357.6l0.95 1.71h-1.9zM309.3 353.7l0.95 1.71h-1.9zM291.5 369.7l0.95 1.71h-1.9zM339.3 333.4l0.95 1.71h-1.9zM340.8 332.7l0.95 1.71h-1.9zM288.2 376.3l0.95 1.71h-1.9zM333.4 336.5l0.95 1.71h-1.9zM329.1 341.0l0.95 1.71h-1.9zM294.2 366.9l0.95 1.71h-1.9zM291.7 372.8l0.95 1.71h-1.9zM331.1 337.4l0.95 1.71h-1.9zM346.3 329.1l0.95 1.71h-1.9zM337.5 334.9l0.95 1.71h-1.9zM333.5 336.7l0.95 1.71h-1.9zM341.0 331.7l0.95 1.71h-1.9zM286.7 375.9l0.95 1.71h-1.9zM329.0 343.0l0.95 1.71h-1.9zM357.1 322.8l0.95 1.71h-1.9zM330.8 338.5l0.95 1.71h-1.9zM314.4 350.3l0.95 1.71h-1.9zM287.8 374.0l0.95 1.71h-1.9zM301.3 361.5l0.95 1.71h-1.9zM288.8 372.1l0.95 1.71h-1.9zM346.0 328.5l0.95 1.71h-1.9zM317.8 351.2l0.95 1.71h-1.9zM338.3 335.6l0.95 1.71h-1.9zM287.5 371.8l0.95 1.71h-1.9zM290.1 372.5l0.95 1.71h-1.9zM309.1 355.9l0.95 1.71h-1.9zM290.3 371.0l0.95 1.71h-1.9zM335.1 338.1l0.95 1.71h-1.9zM317.1 349.7l0.95 1.71h-1.9zM311.4 353.4l0.95 1.71h-1.9zM350.3 329.6l0.95 1.71h-1.9zM292.9 370.4l0.95 1.71h-1.9zM291.3 372.2l0.95 1.71h-1.9zM286.5 376.1l0.95 1.71h-1.9z" fill="none" stroke="#2ca14a" stroke-width="0.7"/>
<path d="M371.8 320.9l0.95 1.71h-1.9zM390.0 314.7l0.95 1.71h-1.9zM385.2 311.8l0.95 1.71h-1.9zM400.4 306.4l0.95 1.71h-1.9zM361.6 324.3l0.95 1.71h-1.9zM393.8 312.8l0.95 1.71h-1.9zM384.6 314.1l0.95 1.71h-1.9zM359.1 321.6l0.95 1.71h-1.9zM380.1 315.3l0.95 1.71h-1.9zM363.5 322.3l0.95 1.71h-1.9zM362.4 327.3l0.95 1.71h-1.9zM377.8 312.3l0.95 1.71h-1.9zM399.2 308.7l0.95 1.71h-1.9zM366.5 320.2l0.95 1.71h-1.9zM367.1 321.4l0.95 1.71h-1.9zM367.7 318.8l0.95 1.71h-1.9zM375.8 315.5l0.95 1.71h-1.9zM368.6 319.9l0.95 1.71h-1.9zM388.6 311.0l0.95 1.71h-1.9zM388.7 311.1l0.95 1.71h-1.9zM400.5 307.0l0.95 1.71h-1.9zM389.2 310.2l0.95 1.71h-1.9zM377.5 315.8l0.95 1.71h-1.9zM366.2 321.7l0.95 1.71h-1.9zM384.8 316.3l0.95 1.71h-1.9zM381.4 312.8l0.95 1.71h-1.9zM384.4 314.6l0.95 1.71h-1.9zM384.1 315.1l0.95 1.71h-1.9zM376.6 310.9l0.95 1.71h-1.9zM374.0 315.4l0.95 1.71h-1.9z" fill="none" stroke="#2ca14a" stroke-width="0.7"/>
<polyline points="285.1,377.7 288.1,375.0 291.0,372.4 294.0,369.8 297.0,367.2 299.9,364.7 302.9,362.2 305.9,359.6 308.8,357.1 311.8,354.5 314.8,352.0 317.8,349.5 320.7,347.2 323.7,344.9 326.7,342.8 329.6,340.9 332.6,339.0 335.6,337.3 338.5,335.6 341.5,333.9 344.5,332.3 347.4,330.7 350.4,329.1 353.4,327.6 356.4,326.1 359.3,324.6 362.3,323.2 365.3,321.8 368.2,320.5 371.2,319.3 374.2,318.1 377.1,317.0 380.1,315.9 383.1,314.9 386.0,313.9 389.0,312.9 392.0,312.1 395.0,311.3 397.9,310.5 400.9,309.8" fill="none" stroke="#2ca14a" stroke-width="0.8"/>
<path d="M350.5 327.2a0.95 0.95 0 1 0 1.9 0a0.95 0.95 0 1 0 -1.9 0M351.6 326.5a0.95 0.95 0 1 0 1.9 0a0.95 0.95 0 1 0 -1.9 0M339.8 332.9a0.95 0.95 0 1 0 1.9 0a0.95 0.95 0 1 0 -1.9 0M290.9 368.0a0.95 0.95 0 1 0 1.9 0a0.95 0.95 0 1 0 -1.9 0M350.1 328.2a0.95 0.95 0 1 0 1.9 0a0.95 0.95 0 1 0 -1.9 0M304.3 355.9a0.95 0.95 0 1 0 1.9 0a0.95 0.95 0 1 0 -1.9 0M291.2 368.4a0.95 0.95 0 1 0 1.9 0a0.95 0.95 0 1 0 -1.9 0M347.6 330.0a0.95 0.95 0 1 0 1.9 0a0.95 0.95 0 1 0 -1.9 0M286.0 370.8a0.95 0.95 0 1 0 1.9 0a0.95 0.95 0 1 0 -1.9 0M337.1 336.9a0.95 0.95 0 1 0 1.9 0a0.95 0.95 0 1 0 -1.9 0M288.4 368.7a0.95 0.95 0 1 0 1.9 0a0.95 0.95 0 1 0 -1.9 0M303.9 358.6a0.95 0.95 0 1 0 1.9 0a0.95 0.95 0 1 0 -1.9 0M319.3 346.3a0.95 0.95 0 1 0 1.9 0a0.95 0.95 0 1 0 -1.9 0M297.5 364.2a0.95 0.95 0 1 0 1.9 0a0.95 0.95 0 1 0 -1.9 0M344.6 328.4a0.95 0.95 0 1 0 1.9 0a0.95 0.95 0 1 0 -1.9 0M357.5 323.7a0.95 0.95 0 1 0 1.9 0a0.95 0.95 0 1 0 -1.9 0M341.8 335.6a0.95 0.95 0 1 0 1.9 0a0.95 0.95 0 1 0 -1.9 0M332.2 338.6a0.95 0.95 0 1 0 1.9 0a0.95 0.95 0 1 0 -1.9 0M293.2 367.6a0.95 0.95 0 1 0 1.9 0a0.95 0.95 0 1 0 -1.9 0M325.0 342.9a0.95 0.95 0 1 0 1.9 0a0.95 0.95 0 1 0 -1.9 0M313.5 350.9a0.95 0.95 0 1 0 1.9 0a0.95 0.95 0 1 0 -1.9 0M285.7 370.3a0.95 0.95 0 1 0 1.9 0a0.95 0.95 0 1 0 -1.9 0M289.2 368.7a0.95 0.95 0 1 0 1.9 0a0.95 0.95 0 1 0 -1.9 0M283.6 374.8a0.95 0.95 0 1 0 1.9 0a0.95 0.95 0 1 0 -1.9 0M320.7 347.2a0.95 0.95 0 1 0 1.9 0a0.95 0.95 0 1 0 -1.9 0M320.7 345.1a0.95 0.95 0 1 0 1.9 0a0.95 0.95 0 1 0 -1.9 0M306.4 354.6a0.95 0.95 0 1 0 1.9 0a0.95 0.95 0 1 0 -1.9 0M296.5 359.4a0.95 0.95 0 1 0 1.9 0a0.95 0.95 0 1 0 -1.9 0M322.9 342.8a0.95 0.95 0 1 0 1.9 0a0.95 0.95 0 1 0 -1.9 0M336.5 335.9a0.95 0.95 0 1 0 1.9 0a0.95 0.95 0 1 0 -1.9 0M334.7 335.2a0.95 0.95 0 1 0 1.9 0a0.95 0.95 0 1 0 -1.9 0M285.9 371.3a0.95 0.95 0 1 0 1.9 0a0.95 0.95 0 1 0 -1.9 0M291.6 367.9a0.95 0.95 0 1 0 1.9 0a0.95 0.95 0 1 0 -1.9 0M333.7 336.4a0.95 0.95 0 1 0 1.9 0a0.95 0.95 0 1 0 -1.9 0M356.2 324.8a0.95 0.95 0 1 0 1.9 0a0.95 0.95 0 1 0 -1.9 0M285.3 372.3a0.95 0.95 0 1 0 1.9 0a0.95 0.95 0 1 0 -1.9 0M333.9 337.9a0.95 0.95 0 1 0 1.9 0a0.95 0.95 0 1 0 -1.9 0M285.6 370.4a0.95 0.95 0 1 0 1.9 0a0.95 0.95 0 1 0 -1.9 0M286.5 373.4a0.95 0.95 0 1 0 1.9 0a0.95 0.95 0 1 0 -1.9 0M290.3 366.6a0.95 0.95 0 1 0 1.9 0a0.95 0.95 0 1 0 -1.9 0M353.2 325.3a0.95 0.95 0 1 0 1.9 0a0.95 0.95 0 1 0 -1.9 0M288.5 369.1a0.95 0.95 0 1 0 1.9 0a0.95 0.95 0 1 0 -1.9 0M313.0 352.2a0.95 0.95 0 1 0 1.9 0a0.95 0.95 0 1 0 -1.9 0M294.2 364.8a0.95 0.95 0 1 0 1.9 0a0.95 0.95 0 1 0 -1.9 0M315.0 347.6a0.95 0.95 0 1 0 1.9 0a0.95 0.95 0 1 0 -1.9 0M324.9 343.6a0.95 0.95 0 1 0 1.9 0a0.95 0.95 0 1 0 -1.9 0M287.8 371.7a0.95 0.95 0 1 0 1.9 0a0.95 0.95 0 1 0 -1.9 0M312.8 351.6a0.95 0.95 0 1 0 1.9 0a0.95 0.95 0 1 0 -1.9 0M290.9 368.4a0.95 0.95 0 1 0 1.9 0a0.95 0.95 0 1 0 -1.9 0M301.5 358.5a0.95 0.95 0 1 0 1.9 0a0.95 0.95 0 1 0 -1.9 0M287.9 370.5a0.95 0.95 0 1 0 1.9 0a0.95 0.95 0 1 0 -1.9 0M306.5 356.2a0.95 0.95 0 1 0 1.9 0a0.95 0.95 0 1 0 -1.9 0M335.2 337.3a0.95 0.95 0 1 0 1.9 0a0.95 0.95 0 1 0 -1.9 0M329.5 342.1a0.95 0.95 0 1 0 1.9 0a0.95 0.95 0 1 0 -1.9 0M282.3 374.3a0.95 0.95 0 1 0 1.9 0a0.95 0.95 0 1 0 -1.9 0M304.7 358.1a0.95 0.95 0 1 0 1.9 0a0.95 0.95 0 1 0 -1.9 0M301.1 361.9a0.95 0.95 0 1 0 1.9 0a0.95 0.95 0 1 0 -1.9 0M344.3 330.1a0.95 0.95 0 1 0 1.9 0a0.95 0.95 0 1 0 -1.9 0M332.7 337.0a0.95 0.95 0 1 0 1.9 0a0.95 0.95 0 1 0 -1.9 0M282.2 375.8a0.95 0.95 0 1 0 1.9 0a0.95 0.95 0 1 0 -1.9 0M331.9 338.6a0.95 0.95 0 1 0 1.9 0a0.95 0.95 0 1 0 -1.9 0M312.7 352.1a0.95 0.95 0 1 0 1.9 0a0.95 0.95 0 1 0 -1.9 0M345.2 332.7a0.95 0.95 0 1 0 1.9 0a0.95 0.95 0 1 0 -1.9 0M283.6 375.0a0.95 0.95 0 1 0 1.9 0a0.95 0.95 0 1 0 -1.9 0M297.5 362.4a0.95 0.95 0 1 0 1.9 0a0.95 0.95 0 1 0 -1.9 0M335.8 337.6a0.95 0.95 0 1 0 1.9 0a0.95 0.95 0 1 0 -1.9 0M296.4 361.7a0.95 0.95 0 1 0 1.9 0a0.95 0.95 0 1 0 -1.9 0M338.8 334.0a0.95 0.95 0 1 0 1.9 0a0.95 0.95 0 1 0 -1.9 0M350.1 327.2a0.95 0.95 0 1 0 1.9 0a0.95 0.95 0 1 0 -1.9 0M318.8 347.5a0.95 0.95 0 1 0 1.9 0a0.95 0.95 0 1 0 -1.9 0M312.4 351.5a0.95 0.95 0 1 0 1.9 0a0.95 0.95 0 1 0 -1.9 0M313.3 349.3a0.95 0.95 0 1 0 1.9 0a0.95 0.95 0 1 0 -1.9 0M284.7 373.4a0.95 0.95 0 1 0 1.9 0a0.95 0.95 0 1 0 -1.9 0M315.3 349.5a0.95 0.95 0 1 0 1.9 0a0.95 0.95 0 1 0 -1.9 0M290.4 368.4a0.95 0.95 0 1 0 1.9 0a0.95 0.95 0 1 0 -1.9 0M339.0 334.5a0.95 0.95 0 1 0 1.9 0a0.95 0.95 0 1 0 -1.9 0M333.9 336.3a0.95 0.95 0 1 0 1.9 0a0.95 0.95 0 1 0 -1.9 0M292.2 365.0a0.95 0.95 0 1 0 1.9 0a0.95 0.95 0 1 0 -1.9 0M301.8 359.0a0.95 0.95 0 1 0 1.9 0a0.95 0.95 0 1 0 -1.9 0M342.5 334.9a0.95 0.95 0 1 0 1.9 0a0.95 0.95 0 1 0 -1.9 0M283.9 375.0a0.95 0.95 0 1 0 1.9 0a0.95 0.95 0 1 0 -1.9 0M338.4 337.6a0.95 0.95 0 1 0 1.9 0a0.95 0.95 0 1 0 -1.9 0M310.2 353.9a0.95 0.95 0 1 0 1.9 0a0.95 0.95 0 1 0 -1.9 0M319.0 347.6a0.95 0.95 0 1 0 1.9 0a0.95 0.95 0 1 0 -1.9 0M309.9 351.7a0.95 0.95 0 1 0 1.9 0a0.95 0.95 0 1 0 -1.9 0M294.6 365.0a0.95 0.95 0 1 0 1.9 0a0.95 0.95 0 1 0 -1.9 0M297.3 361.2a0.95 0.95 0 1 0 1.9 0a0.95 0.95 0 1 0 -1.9 0M346.5 329.6a0.95 0.95 0 1 0 1.9 0a0.95 0.95 0 1 0 -1.9 0M351.7 325.9a0.95 0.95 0 1 0 1.9 0a0.95 0.95 0 1 0 -1.9 0M343.2 332.6a0.95 0.95 0 1 0 1.9 0a0.95 0.95 0 1 0 -1.9 0M346.9 327.9a0.95 0.95 0 1 0 1.9 0a0.95 0.95 0 1 0 -1.9 0M308.6 352.9a0.95 0.95 0 1 0 1.9 0a0.95 0.95 0 1 0 -1.9 0M333.2 339.4a0.95 0.95 0 1 0 1.9 0a0.95 0.95 0 1 0 -1.9 0M353.4 328.1a0.95 0.95 0 1 0 1.9 0a0.95 0.95 0 1 0 -1.9 0M314.9 346.7a0.95 0.95 0 1 0 1.9 0a0.95 0.95 0 1 0 -1.9 0M295.9 364.8a0.95 0.95 0 1 0 1.9 0a0.95 0.95 0 1 0 -1.9 0M355.7 324.4a0.95 0.95 0 1 0 1.9 0a0.95 0.95 0 1 0 -1.9 0M285.0 375.6a0.95 0.95 0 1 0 1.9 0a0.95 0.95 0 1 0 -1.9 0M350.8 328.7a0.95 0.95 0 1 0 1.9 0a0.95 0.95 0 1 0 -1.9 0M308.1 356.0a0.95 0.95 0 1 0 1.9 0a0.95 0.95 0 1 0 -1.9 0M348.3 331.7a0.95 0.95 0 1 0 1.9 0a0.95 0.95 0 1 0 -1.9 0M289.2 370.7a0.95 0.95 0 1 0 1.9 0a0.95 0.95 0 1 0 -1.9 0M329.4 337.5a0.95 0.95 0 1 0 1.9 0a0.95 0.95 0 1 0 -1.9 0M308.4 354.6a0.95 0.95 0 1 0 1.9 0a0.95 0.95 0 1 0 -1.9 0M282.3 376.1a0.95 0.95 0 1 0 1.9 0a0.95 0.95 0 1 0 -1.9 0M316.3 350.6a0.95 0.95 0 1 0 1.9 0a0.95 0.95 0 1 0 -1.9 0M290.0 366.2a0.95 0.95 0 1 0 1.9 0a0.95 0.95 0 1 0 -1.9 0M294.2 363.9a0.95 0.95 0 1 0 1.9 0a0.95 0.95 0 1 0 -1.9 0M354.3 327.2a0.95 0.95 0 1 0 1.9 0a0.95 0.95 0 1 0 -1.9 0M291.7 366.0a0.95 0.95 0 1 0 1.9 0a0.95 0.95 0 1 0 -1.9 0M302.1 359.4a0.95 0.95 0 1 0 1.9 0a0.95 0.95 0 1 0 -1.9 0M336.3 336.3a0.95 0.95 0 1 0 1.9 0a0.95 0.95 0 1 0 -1.9 0M343.3 330.8a0.95 0.95 0 1 0 1.9 0a0.95 0.95 0 1 0 -1.9 0M356.6 325.5a0.95 0.95 0 1 0 1.9 0a0.95 0.95 0 1 0 -1.9 0M319.2 347.3a0.95 0.95 0 1 0 1.9 0a0.95 0.95 0 1 0 -1.9 0M310.6 353.0a0.95 0.95 0 1 0 1.9 0a0.95 0.95 0 1 0 -1.9 0M324.3 343.2a0.95 0.95 0 1 0 1.9 0a0.95 0.95 0 1 0 -1.9 0M330.8 340.2a0.95 0.95 0 1 0 1.9 0a0.95 0.95 0 1 0 -1.9 0M313.4 352.3a0.95 0.95 0 1 0 1.9 0a0.95 0.95 0 1 0 -1.9 0M313.8 349.7a0.95 0.95 0 1 0 1.9 0a0.95 0.95 0 1 0 -1.9 0M284.7 371.6a0.95 0.95 0 1 0 1.9 0a0.95 0.95 0 1 0 -1.9 0M292.9 366.5a0.95 0.95 0 1 0 1.9 0a0.95 0.95 0 1 0 -1.9 0M335.6 336.1a0.95 0.95 0 1 0 1.9 0a0.95 0.95 0 1 0 -1.9 0M287.0 368.0a0.95 0.95 0 1 0 1.9 0a0.95 0.95 0 1 0 -1.9 0M292.1 365.9a0.95 0.95 0 1 0 1.9 0a0.95 0.95 0 1 0 -1.9 0M349.4 327.3a0.95 0.95 0 1 0 1.9 0a0.95 0.95 0 1 0 -1.9 0M341.8 333.6a0.95 0.95 0 1 0 1.9 0a0.95 0.95 0 1 0 -1.9 0M281.6 374.2a0.95 0.95 0 1 0 1.9 0a0.95 0.95 0 1 0 -1.9 0M301.6 360.1a0.95 0.95 0 1 0 1.9 0a0.95 0.95 0 1 0 -1.9 0M303.1 357.2a0.95 0.95 0 1 0 1.9 0a0.95 0.95 0 1 0 -1.9 0M308.8 354.9a0.95 0.95 0 1 0 1.9 0a0.95 0.95 0 1 0 -1.9 0M308.8 354.2a0.95 0.95 0 1 0 1.9 0a0.95 0.95 0 1 0 -1.9 0M315.3 348.5a0.95 0.95 0 1 0 1.9 0a0.95 0.95 0 1 0 -1.9 0M326.9 339.9a0.95 0.95 0 1 0 1.9 0a0.95 0.95 0 1 0 -1.9 0M321.5 345.5a0.95 0.95 0 1 0 1.9 0a0.95 0.95 0 1 0 -1.9 0M351.3 324.3a0.95 0.95 0 1 0 1.9 0a0.95 0.95 0 1 0 -1.9 0M354.7 325.8a0.95 0.95 0 1 0 1.9 0a0.95 0.95 0 1 0 -1.9 0M284.2 372.3a0.95 0.95 0 1 0 1.9 0a0.95 0.95 0 1 0 -1.9 0M297.9 363.6a0.95 0.95 0 1 0 1.9 0a0.95 0.95 0 1 0 -1.9 0M321.4 344.9a0.95 0.95 0 1 0 1.9 0a0.95 0.95 0 1 0 -1.9 0M298.6 362.4a0.95 0.95 0 1 0 1.9 0a0.95 0.95 0 1 0 -1.9 0M333.1 336.1a0.95 0.95 0 1 0 1.9 0a0.95 0.95 0 1 0 -1.9 0M340.9 335.2a0.95 0.95 0 1 0 1.9 0a0.95 0.95 0 1 0 -1.9 0M327.4 342.1a0.95 0.95 0 1 0 1.9 0a0.95 0.95 0 1 0 -1.9 0M341.6 334.2a0.95 0.95 0 1 0 1.9 0a0.95 0.95 0 1 0 -1.9 0M327.8 342.8a0.95 0.95 0 1 0 1.9 0a0.95 0.95 0 1 0 -1.9 0M286.2 371.1a0.95 0.95 0 1 0 1.9 0a0.95 0.95 0 1 0 -1.9 0M309.9 353.2a0.95 0.95 0 1 0 1.9 0a0.95 0.95 0 1 0 -1.9 0M338.5 335.5a0.95 0.95 0 1 0 1.9 0a0.95 0.95 0 1 0 -1.9 0M288.2 370.5a0.95 0.95 0 1 0 1.9 0a0.95 0.95 0 1 0 -1.9 0" fill="none" stroke="#5b2c91" stroke-width="0.7"/>
<path d="M372.9 317.1a0.95 0.95 0 1 0 1.9 0a0.95 0.95 0 1 0 -1.9 0M381.4 311.9a0.95 0.95 0 1 0 1.9 0a0.95 0.95 0 1 0 -1.9 0M363.0 316.3a0.95 0.95 0 1 0 1.9 0a0.95 0.95 0 1 0 -1.9 0M357.8 322.9a0.95 0.95 0 1 0 1.9 0a0.95 0.95 0 1 0 -1.9 0M358.4 322.7a0.95 0.95 0 1 0 1.9 0a0.95 0.95 0 1 0 -1.9 0M381.6 313.5a0.95 0.95 0 1 0 1.9 0a0.95 0.95 0 1 0 -1.9 0M389.1 305.9a0.95 0.95 0 1 0 1.9 0a0.95 0.95 0 1 0 -1.9 0M374.4 316.2a0.95 0.95 0 1 0 1.9 0a0.95 0.95 0 1 0 -1.9 0M385.9 309.8a0.95 0.95 0 1 0 1.9 0a0.95 0.95 0 1 0 -1.9 0M383.2 309.1a0.95 0.95 0 1 0 1.9 0a0.95 0.95 0 1 0 -1.9 0M375.2 313.2a0.95 0.95 0 1 0 1.9 0a0.95 0.95 0 1 0 -1.9 0M385.5 308.2a0.95 0.95 0 1 0 1.9 0a0.95 0.95 0 1 0 -1.9 0M365.3 321.0a0.95 0.95 0 1 0 1.9 0a0.95 0.95 0 1 0 -1.9 0M370.7 318.6a0.95 0.95 0 1 0 1.9 0a0.95 0.95 0 1 0 -1.9 0M378.4 313.9a0.95 0.95 0 1 0 1.9 0a0.95 0.95 0 1 0 -1.9 0M376.4 310.6a0.95 0.95 0 1 0 1.9 0a0.95 0.95 0 1 0 -1.9 0M369.8 317.8a0.95 0.95 0 1 0 1.9 0a0.95 0.95 0 1 0 -1.9 0M371.3 315.2a0.95 0.95 0 1 0 1.9 0a0.95 0.95 0 1 0 -1.9 0M371.9 317.7a0.95 0.95 0 1 0 1.9 0a0.95 0.95 0 1 0 -1.9 0M359.6 324.6a0.95 0.95 0 1 0 1.9 0a0.95 0.95 0 1 0 -1.9 0M378.9 310.2a0.95 0.95 0 1 0 1.9 0a0.95 0.95 0 1 0 -1.9 0M362.8 317.3a0.95 0.95 0 1 0 1.9 0a0.95 0.95 0 1 0 -1.9 0M359.5 324.3a0.95 0.95 0 1 0 1.9 0a0.95 0.95 0 1 0 -1.9 0M385.6 311.6a0.95 0.95 0 1 0 1.9 0a0.95 0.95 0 1 0 -1.9 0M358.4 321.5a0.95 0.95 0 1 0 1.9 0a0.95 0.95 0 1 0 -1.9 0" fill="none" stroke="#5b2c91" stroke-width="0.7"/>
<path d="M393.7 303.5a0.95 0.95 0 1 0 1.9 0a0.95 0.95 0 1 0 -1.9 0M395.2 301.0a0.95 0.95 0 1 0 1.9 0a0.95 0.95 0 1 0 -1.9 0M390.3 308.2a0.95 0.95 0 1 0 1.9 0a0.95 0.95 0 1 0 -1.9 0M399.0 302.3a0.95 0.95 0 1 0 1.9 0a0.95 0.95 0 1 0 -1.9 0M397.4 304.4a0.95 0.95 0 1 0 1.9 0a0.95 0.95 0 1 0 -1.9 0M410.0 299.7a0.95 0.95 0 1 0 1.9 0a0.95 0.95 0 1 0 -1.9 0M395.8 302.7a0.95 0.95 0 1 0 1.9 0a0.95 0.95 0 1 0 -1.9 0M398.4 300.8a0.95 0.95 0 1 0 1.9 0a0.95 0.95 0 1 0 -1.9 0M393.1 304.0a0.95 0.95 0 1 0 1.9 0a0.95 0.95 0 1 0 -1.9 0M409.6 297.8a0.95 0.95 0 1 0 1.9 0a0.95 0.95 0 1 0 -1.9 0M391.9 304.3a0.95 0.95 0 1 0 1.9 0a0.95 0.95 0 1 0 -1.9 0M399.7 299.9a0.95 0.95 0 1 0 1.9 0a0.95 0.95 0 1 0 -1.9 0M391.5 307.7a0.95 0.95 0 1 0 1.9 0a0.95 0.95 0 1 0 -1.9 0M407.4 298.3a0.95 0.95 0 1 0 1.9 0a0.95 0.95 0 1 0 -1.9 0M390.4 306.7a0.95 0.95 0 1 0 1.9 0a0.95 0.95 0 1 0 -1.9 0M409.3 298.0a0.95 0.95 0 1 0 1.9 0a0.95 0.95 0 1 0 -1.9 0M390.2 306.8a0.95 0.95 0 1 0 1.9 0a0.95 0.95 0 1 0 -1.9 0M402.4 299.1a0.95 0.95 0 1 0 1.9 0a0.95 0.95 0 1 0 -1.9 0M409.9 299.8a0.95 0.95 0 1 0 1.9 0a0.95 0.95 0 1 0 -1.9 0M406.9 298.9a0.95 0.95 0 1 0 1.9 0a0.95 0.95 0 1 0 -1.9 0M397.8 302.3a0.95 0.95 0 1 0 1.9 0a0.95 0.95 0 1 0 -1.9 0M407.8 296.0a0.95 0.95 0 1 0 1.9 0a0.95 0.95 0 1 0 -1.9 0M402.7 299.2a0.95 0.95 0 1 0 1.9 0a0.95 0.95 0 1 0 -1.9 0M407.7 299.8a0.95 0.95 0 1 0 1.9 0a0.95 0.95 0 1 0 -1.9 0M402.6 299.1a0.95 0.95 0 1 0 1.9 0a0.95 0.95 0 1 0 -1.9 0M391.5 302.1a0.95 0.95 0 1 0 1.9 0a0.95 0.95 0 1 0 -1.9 0M392.5 308.1a0.95 0.95 0 1 0 1.9 0a0.95 0.95 0 1 0 -1.9 0M390.2 307.8a0.95 0.95 0 1 0 1.9 0a0.95 0.95 0 1 0 -1.9 0M391.1 306.1a0.95 0.95 0 1 0 1.9 0a0.95 0.95 0 1 0 -1.9 0M389.8 302.8a0.95 0.95 0 1 0 1.9 0a0.95 0.95 0 1 0 -1.9 0" fill="none" stroke="#5b2c91" stroke-width="0.7"/>
<polyline points="282.9,374.9 286.2,372.2 289.5,369.6 292.8,367.0 296.1,364.4 299.4,361.8 302.7,359.3 306.0,356.9 309.3,354.4 312.6,351.9 315.9,349.5 319.2,347.2 322.5,344.9 325.8,342.7 329.1,340.6 332.4,338.6 335.7,336.6 339.0,334.7 342.3,332.9 345.6,331.0 348.9,329.2 352.2,327.4 355.5,325.7 358.8,323.9 362.1,322.2 365.4,320.6 368.7,318.9 372.0,317.2 375.3,315.6 378.6,313.9 381.9,312.3 385.2,310.7 388.5,309.2 391.8,307.7 395.1,306.2 398.4,304.7 401.7,303.3 405.0,302.0 408.3,300.6 411.6,299.3" fill="none" stroke="#5b2c91" stroke-width="0.8"/></g>
<rect x="31.5" y="5.0" width="192.0" height="104.5" fill="none" stroke="#4a4a4a" stroke-width="1"/>
<text x="31.5" y="121.8" text-anchor="middle">0</text>
<line x1="63.5" y1="109.5" x2="63.5" y2="107.0" stroke="#4a4a4a" stroke-width="1"/>
<text x="63.5" y="121.8" text-anchor="middle">1</text>
<line x1="95.5" y1="109.5" x2="95.5" y2="107.0" stroke="#4a4a4a" stroke-width="1"/>
<text x="95.5" y="121.8" text-anchor="middle">2</text>
<line x1="127.5" y1="109.5" x2="127.5" y2="107.0" stroke="#4a4a4a" stroke-width="1"/>
<text x="127.5" y="121.8" text-anchor="middle">3</text>
<line x1="159.5" y1="109.5" x2="159.5" y2="107.0" stroke="#4a4a4a" stroke-width="1"/>
<text x="159.5" y="121.8" text-anchor="middle">4</text>
<line x1="191.5" y1="109.5" x2="191.5" y2="107.0" stroke="#4a4a4a" stroke-width="1"/>
<text x="191.5" y="121.8" text-anchor="middle">5</text>
<text x="223.5" y="121.8" text-anchor="middle">6</text>
<text x="28.2" y="113.6" text-anchor="end">37</text>
<line x1="31.5" y1="92.5" x2="34.0" y2="92.5" stroke="#4a4a4a" stroke-width="1"/>
<text x="28.2" y="96.1" text-anchor="end">40</text>
<line x1="31.5" y1="74.5" x2="34.0" y2="74.5" stroke="#4a4a4a" stroke-width="1"/>
<text x="28.2" y="78.6" text-anchor="end">43</text>
<line x1="31.5" y1="56.5" x2="34.0" y2="56.5" stroke="#4a4a4a" stroke-width="1"/>
<text x="28.2" y="61.1" text-anchor="end">46</text>
<line x1="31.5" y1="39.5" x2="34.0" y2="39.5" stroke="#4a4a4a" stroke-width="1"/>
<text x="28.2" y="43.6" text-anchor="end">49</text>
<line x1="31.5" y1="22.5" x2="34.0" y2="22.5" stroke="#4a4a4a" stroke-width="1"/>
<text x="28.2" y="26.1" text-anchor="end">52</text>
<text x="28.2" y="8.6" text-anchor="end">55</text>
<text x="32.3" y="15.6" font-size="12">(a)Yichang  (10km)</text>
<text x="127.5" y="135.5" text-anchor="middle" font-size="11.6">Flow (10<tspan font-size="4.6" dy="-5.3">4</tspan><tspan dy="5.3">m</tspan><tspan font-size="4.6" dy="-5.3">3</tspan><tspan dy="5.3" dx="1">/</tspan><tspan dx="2.5">s)</tspan></text>
<g transform="translate(10.7,91.1) rotate(-90)"><text x="0" y="0" textLength="26" lengthAdjust="spacingAndGlyphs">Water</text><text x="31" y="0" textLength="21.6" lengthAdjust="spacingAndGlyphs">level</text><line x1="53.2" y1="-1.3" x2="59.6" y2="-9.6" stroke="#222" stroke-width="0.9"/><text x="60.6" y="0" textLength="7.1" lengthAdjust="spacingAndGlyphs">m</text></g>
<rect x="261.5" y="5.0" width="193.0" height="104.5" fill="none" stroke="#4a4a4a" stroke-width="1"/>
<text x="261.5" y="121.8" text-anchor="middle">0</text>
<line x1="289.5" y1="109.5" x2="289.5" y2="107.0" stroke="#4a4a4a" stroke-width="1"/>
<text x="289.1" y="121.8" text-anchor="middle">1</text>
<line x1="316.5" y1="109.5" x2="316.5" y2="107.0" stroke="#4a4a4a" stroke-width="1"/>
<text x="316.6" y="121.8" text-anchor="middle">2</text>
<line x1="344.5" y1="109.5" x2="344.5" y2="107.0" stroke="#4a4a4a" stroke-width="1"/>
<text x="344.2" y="121.8" text-anchor="middle">3</text>
<line x1="371.5" y1="109.5" x2="371.5" y2="107.0" stroke="#4a4a4a" stroke-width="1"/>
<text x="371.8" y="121.8" text-anchor="middle">4</text>
<line x1="399.5" y1="109.5" x2="399.5" y2="107.0" stroke="#4a4a4a" stroke-width="1"/>
<text x="399.4" y="121.8" text-anchor="middle">5</text>
<line x1="426.5" y1="109.5" x2="426.5" y2="107.0" stroke="#4a4a4a" stroke-width="1"/>
<text x="426.9" y="121.8" text-anchor="middle">6</text>
<text x="454.5" y="121.8" text-anchor="middle">7</text>
<text x="258.2" y="113.6" text-anchor="end">36</text>
<line x1="261.5" y1="88.5" x2="264.0" y2="88.5" stroke="#4a4a4a" stroke-width="1"/>
<text x="258.2" y="92.6" text-anchor="end">39</text>
<line x1="261.5" y1="67.5" x2="264.0" y2="67.5" stroke="#4a4a4a" stroke-width="1"/>
<text x="258.2" y="71.6" text-anchor="end">42</text>
<line x1="261.5" y1="46.5" x2="264.0" y2="46.5" stroke="#4a4a4a" stroke-width="1"/>
<text x="258.2" y="50.6" text-anchor="end">45</text>
<line x1="261.5" y1="25.5" x2="264.0" y2="25.5" stroke="#4a4a4a" stroke-width="1"/>
<text x="258.2" y="29.6" text-anchor="end">48</text>
<text x="258.2" y="8.6" text-anchor="end">51</text>
<text x="262.9" y="15.4" font-size="11.7">(b)Zhicheng (66km)</text>
<text x="358.0" y="135.5" text-anchor="middle" font-size="11.6">Flow (10<tspan font-size="4.6" dy="-5.3">4</tspan><tspan dy="5.3">m</tspan><tspan font-size="4.6" dy="-5.3">3</tspan><tspan dy="5.3" dx="1">/</tspan><tspan dx="2.5">s)</tspan></text>
<g transform="translate(241,91.9) rotate(-90)"><text x="0" y="0" textLength="26" lengthAdjust="spacingAndGlyphs">Water</text><text x="31" y="0" textLength="21.6" lengthAdjust="spacingAndGlyphs">level</text><line x1="53.2" y1="-1.3" x2="59.6" y2="-9.6" stroke="#222" stroke-width="0.9"/><text x="60.6" y="0" textLength="7.1" lengthAdjust="spacingAndGlyphs">m</text></g>
<rect x="490.5" y="5.5" width="191.0" height="104.0" fill="none" stroke="#4a4a4a" stroke-width="1"/>
<text x="490.5" y="121.8" text-anchor="middle">0</text>
<line x1="522.5" y1="109.5" x2="522.5" y2="107.0" stroke="#4a4a4a" stroke-width="1"/>
<text x="522.3" y="121.8" text-anchor="middle">1</text>
<line x1="554.5" y1="109.5" x2="554.5" y2="107.0" stroke="#4a4a4a" stroke-width="1"/>
<text x="554.2" y="121.8" text-anchor="middle">2</text>
<line x1="586.5" y1="109.5" x2="586.5" y2="107.0" stroke="#4a4a4a" stroke-width="1"/>
<text x="586.0" y="121.8" text-anchor="middle">3</text>
<line x1="617.5" y1="109.5" x2="617.5" y2="107.0" stroke="#4a4a4a" stroke-width="1"/>
<text x="617.8" y="121.8" text-anchor="middle">4</text>
<line x1="649.5" y1="109.5" x2="649.5" y2="107.0" stroke="#4a4a4a" stroke-width="1"/>
<text x="649.7" y="121.8" text-anchor="middle">5</text>
<text x="681.5" y="121.8" text-anchor="middle">6</text>
<text x="487.2" y="113.6" text-anchor="end">29</text>
<line x1="490.5" y1="92.5" x2="493.0" y2="92.5" stroke="#4a4a4a" stroke-width="1"/>
<text x="487.2" y="96.3" text-anchor="end">32</text>
<line x1="490.5" y1="74.5" x2="493.0" y2="74.5" stroke="#4a4a4a" stroke-width="1"/>
<text x="487.2" y="78.9" text-anchor="end">35</text>
<line x1="490.5" y1="57.5" x2="493.0" y2="57.5" stroke="#4a4a4a" stroke-width="1"/>
<text x="487.2" y="61.6" text-anchor="end">38</text>
<line x1="490.5" y1="40.5" x2="493.0" y2="40.5" stroke="#4a4a4a" stroke-width="1"/>
<text x="487.2" y="44.3" text-anchor="end">41</text>
<line x1="490.5" y1="22.5" x2="493.0" y2="22.5" stroke="#4a4a4a" stroke-width="1"/>
<text x="487.2" y="26.9" text-anchor="end">44</text>
<text x="487.2" y="9.6" text-anchor="end">47</text>
<text x="492.8" y="15.7" font-size="11.7">(c)Shashi (158km)</text>
<text x="586.0" y="135.5" text-anchor="middle" font-size="11.6">Flow (10<tspan font-size="4.6" dy="-5.3">4</tspan><tspan dy="5.3">m</tspan><tspan font-size="4.6" dy="-5.3">3</tspan><tspan dy="5.3" dx="1">/</tspan><tspan dx="2.5">s)</tspan></text>
<g transform="translate(471,92.4) rotate(-90)"><text x="0" y="0" textLength="26" lengthAdjust="spacingAndGlyphs">Water</text><text x="31" y="0" textLength="21.6" lengthAdjust="spacingAndGlyphs">level</text><line x1="53.2" y1="-1.3" x2="59.6" y2="-9.6" stroke="#222" stroke-width="0.9"/><text x="60.6" y="0" textLength="7.1" lengthAdjust="spacingAndGlyphs">m</text></g>
<rect x="31.5" y="147.5" width="192.0" height="105.0" fill="none" stroke="#4a4a4a" stroke-width="1"/>
<text x="31.5" y="264.8" text-anchor="middle">0</text>
<line x1="69.5" y1="252.5" x2="69.5" y2="250.0" stroke="#4a4a4a" stroke-width="1"/>
<text x="69.9" y="264.8" text-anchor="middle">1</text>
<line x1="108.5" y1="252.5" x2="108.5" y2="250.0" stroke="#4a4a4a" stroke-width="1"/>
<text x="108.3" y="264.8" text-anchor="middle">2</text>
<line x1="146.5" y1="252.5" x2="146.5" y2="250.0" stroke="#4a4a4a" stroke-width="1"/>
<text x="146.7" y="264.8" text-anchor="middle">3</text>
<line x1="185.5" y1="252.5" x2="185.5" y2="250.0" stroke="#4a4a4a" stroke-width="1"/>
<text x="185.1" y="264.8" text-anchor="middle">4</text>
<text x="223.5" y="264.8" text-anchor="middle">5</text>
<text x="28.2" y="256.6" text-anchor="end">23</text>
<line x1="31.5" y1="232.5" x2="34.0" y2="232.5" stroke="#4a4a4a" stroke-width="1"/>
<text x="28.2" y="236.9" text-anchor="end">26</text>
<line x1="31.5" y1="213.5" x2="34.0" y2="213.5" stroke="#4a4a4a" stroke-width="1"/>
<text x="28.2" y="217.2" text-anchor="end">29</text>
<line x1="31.5" y1="193.5" x2="34.0" y2="193.5" stroke="#4a4a4a" stroke-width="1"/>
<text x="28.2" y="197.5" text-anchor="end">32</text>
<line x1="31.5" y1="173.5" x2="34.0" y2="173.5" stroke="#4a4a4a" stroke-width="1"/>
<text x="28.2" y="177.8" text-anchor="end">35</text>
<line x1="31.5" y1="154.5" x2="34.0" y2="154.5" stroke="#4a4a4a" stroke-width="1"/>
<text x="28.2" y="158.2" text-anchor="end">38</text>
<text x="34.8" y="159.9" font-size="11.7">(d)Jianli (323km)</text>
<text x="127.5" y="276.5" text-anchor="middle" font-size="11.6">Flow (10<tspan font-size="4.6" dy="-5.3">4</tspan><tspan dy="5.3">m</tspan><tspan font-size="4.6" dy="-5.3">3</tspan><tspan dy="5.3" dx="1">/</tspan><tspan dx="2.5">s)</tspan></text>
<g transform="translate(10.7,236.9) rotate(-90)"><text x="0" y="0" textLength="26" lengthAdjust="spacingAndGlyphs">Water</text><text x="31" y="0" textLength="21.6" lengthAdjust="spacingAndGlyphs">level</text><line x1="53.2" y1="-1.3" x2="59.6" y2="-9.6" stroke="#222" stroke-width="0.9"/><text x="60.6" y="0" textLength="7.1" lengthAdjust="spacingAndGlyphs">m</text></g>
<rect x="261.5" y="147.5" width="193.0" height="105.0" fill="none" stroke="#4a4a4a" stroke-width="1"/>
<text x="261.5" y="264.8" text-anchor="middle">0</text>
<line x1="289.5" y1="252.5" x2="289.5" y2="250.0" stroke="#4a4a4a" stroke-width="1"/>
<text x="289.1" y="264.8" text-anchor="middle">1</text>
<line x1="316.5" y1="252.5" x2="316.5" y2="250.0" stroke="#4a4a4a" stroke-width="1"/>
<text x="316.6" y="264.8" text-anchor="middle">2</text>
<line x1="344.5" y1="252.5" x2="344.5" y2="250.0" stroke="#4a4a4a" stroke-width="1"/>
<text x="344.2" y="264.8" text-anchor="middle">3</text>
<line x1="371.5" y1="252.5" x2="371.5" y2="250.0" stroke="#4a4a4a" stroke-width="1"/>
<text x="371.8" y="264.8" text-anchor="middle">4</text>
<line x1="399.5" y1="252.5" x2="399.5" y2="250.0" stroke="#4a4a4a" stroke-width="1"/>
<text x="399.4" y="264.8" text-anchor="middle">5</text>
<line x1="426.5" y1="252.5" x2="426.5" y2="250.0" stroke="#4a4a4a" stroke-width="1"/>
<text x="426.9" y="264.8" text-anchor="middle">6</text>
<text x="454.5" y="264.8" text-anchor="middle">7</text>
<text x="258.2" y="256.6" text-anchor="end">18</text>
<line x1="261.5" y1="234.5" x2="264.0" y2="234.5" stroke="#4a4a4a" stroke-width="1"/>
<text x="258.2" y="239.1" text-anchor="end">21</text>
<line x1="261.5" y1="217.5" x2="264.0" y2="217.5" stroke="#4a4a4a" stroke-width="1"/>
<text x="258.2" y="221.6" text-anchor="end">24</text>
<line x1="261.5" y1="200.5" x2="264.0" y2="200.5" stroke="#4a4a4a" stroke-width="1"/>
<text x="258.2" y="204.1" text-anchor="end">27</text>
<line x1="261.5" y1="182.5" x2="264.0" y2="182.5" stroke="#4a4a4a" stroke-width="1"/>
<text x="258.2" y="186.6" text-anchor="end">30</text>
<line x1="261.5" y1="164.5" x2="264.0" y2="164.5" stroke="#4a4a4a" stroke-width="1"/>
<text x="258.2" y="169.1" text-anchor="end">33</text>
<text x="258.2" y="151.6" text-anchor="end">36</text>
<text x="264.1" y="158.4" font-size="11.7">(e)Luoshan (457km)</text>
<text x="358.0" y="276.5" text-anchor="middle" font-size="11.6">Flow (10<tspan font-size="4.6" dy="-5.3">4</tspan><tspan dy="5.3">m</tspan><tspan font-size="4.6" dy="-5.3">3</tspan><tspan dy="5.3" dx="1">/</tspan><tspan dx="2.5">s)</tspan></text>
<g transform="translate(241.2,234.6) rotate(-90)"><text x="0" y="0" textLength="26" lengthAdjust="spacingAndGlyphs">Water</text><text x="31" y="0" textLength="21.6" lengthAdjust="spacingAndGlyphs">level</text><line x1="53.2" y1="-1.3" x2="59.6" y2="-9.6" stroke="#222" stroke-width="0.9"/><text x="60.6" y="0" textLength="7.1" lengthAdjust="spacingAndGlyphs">m</text></g>
<rect x="489.5" y="147.5" width="192.0" height="105.0" fill="none" stroke="#4a4a4a" stroke-width="1"/>
<text x="489.5" y="264.8" text-anchor="middle">0</text>
<line x1="513.5" y1="252.5" x2="513.5" y2="250.0" stroke="#4a4a4a" stroke-width="1"/>
<text x="513.5" y="264.8" text-anchor="middle">1</text>
<line x1="537.5" y1="252.5" x2="537.5" y2="250.0" stroke="#4a4a4a" stroke-width="1"/>
<text x="537.5" y="264.8" text-anchor="middle">2</text>
<line x1="561.5" y1="252.5" x2="561.5" y2="250.0" stroke="#4a4a4a" stroke-width="1"/>
<text x="561.5" y="264.8" text-anchor="middle">3</text>
<line x1="585.5" y1="252.5" x2="585.5" y2="250.0" stroke="#4a4a4a" stroke-width="1"/>
<text x="585.5" y="264.8" text-anchor="middle">4</text>
<line x1="609.5" y1="252.5" x2="609.5" y2="250.0" stroke="#4a4a4a" stroke-width="1"/>
<text x="609.5" y="264.8" text-anchor="middle">5</text>
<line x1="633.5" y1="252.5" x2="633.5" y2="250.0" stroke="#4a4a4a" stroke-width="1"/>
<text x="633.5" y="264.8" text-anchor="middle">6</text>
<line x1="657.5" y1="252.5" x2="657.5" y2="250.0" stroke="#4a4a4a" stroke-width="1"/>
<text x="657.5" y="264.8" text-anchor="middle">7</text>
<text x="681.5" y="264.8" text-anchor="middle">8</text>
<text x="486.2" y="256.6" text-anchor="end">12</text>
<line x1="489.5" y1="234.5" x2="492.0" y2="234.5" stroke="#4a4a4a" stroke-width="1"/>
<text x="486.2" y="239.1" text-anchor="end">15</text>
<line x1="489.5" y1="217.5" x2="492.0" y2="217.5" stroke="#4a4a4a" stroke-width="1"/>
<text x="486.2" y="221.6" text-anchor="end">18</text>
<line x1="489.5" y1="200.5" x2="492.0" y2="200.5" stroke="#4a4a4a" stroke-width="1"/>
<text x="486.2" y="204.1" text-anchor="end">21</text>
<line x1="489.5" y1="182.5" x2="492.0" y2="182.5" stroke="#4a4a4a" stroke-width="1"/>
<text x="486.2" y="186.6" text-anchor="end">24</text>
<line x1="489.5" y1="164.5" x2="492.0" y2="164.5" stroke="#4a4a4a" stroke-width="1"/>
<text x="486.2" y="169.1" text-anchor="end">27</text>
<text x="486.2" y="151.6" text-anchor="end">30</text>
<text x="493.2" y="158.4" font-size="11.7">(f)Hankou (636km)</text>
<text x="585.5" y="276.5" text-anchor="middle" font-size="11.6">Flow (10<tspan font-size="4.6" dy="-5.3">4</tspan><tspan dy="5.3">m</tspan><tspan font-size="4.6" dy="-5.3">3</tspan><tspan dy="5.3" dx="1">/</tspan><tspan dx="2.5">s)</tspan></text>
<g transform="translate(470.2,233.9) rotate(-90)"><text x="0" y="0" textLength="26" lengthAdjust="spacingAndGlyphs">Water</text><text x="31" y="0" textLength="21.6" lengthAdjust="spacingAndGlyphs">level</text><line x1="53.2" y1="-1.3" x2="59.6" y2="-9.6" stroke="#222" stroke-width="0.9"/><text x="60.6" y="0" textLength="7.1" lengthAdjust="spacingAndGlyphs">m</text></g>
<rect x="31.5" y="289.5" width="192.0" height="105.0" fill="none" stroke="#4a4a4a" stroke-width="1"/>
<text x="31.5" y="406.8" text-anchor="middle">0</text>
<line x1="55.5" y1="394.5" x2="55.5" y2="392.0" stroke="#4a4a4a" stroke-width="1"/>
<text x="55.5" y="406.8" text-anchor="middle">1</text>
<line x1="79.5" y1="394.5" x2="79.5" y2="392.0" stroke="#4a4a4a" stroke-width="1"/>
<text x="79.5" y="406.8" text-anchor="middle">2</text>
<line x1="103.5" y1="394.5" x2="103.5" y2="392.0" stroke="#4a4a4a" stroke-width="1"/>
<text x="103.5" y="406.8" text-anchor="middle">3</text>
<line x1="127.5" y1="394.5" x2="127.5" y2="392.0" stroke="#4a4a4a" stroke-width="1"/>
<text x="127.5" y="406.8" text-anchor="middle">4</text>
<line x1="151.5" y1="394.5" x2="151.5" y2="392.0" stroke="#4a4a4a" stroke-width="1"/>
<text x="151.5" y="406.8" text-anchor="middle">5</text>
<line x1="175.5" y1="394.5" x2="175.5" y2="392.0" stroke="#4a4a4a" stroke-width="1"/>
<text x="175.5" y="406.8" text-anchor="middle">6</text>
<line x1="199.5" y1="394.5" x2="199.5" y2="392.0" stroke="#4a4a4a" stroke-width="1"/>
<text x="199.5" y="406.8" text-anchor="middle">7</text>
<text x="223.5" y="406.8" text-anchor="middle">8</text>
<text x="28.2" y="398.6" text-anchor="end">6</text>
<line x1="31.5" y1="376.5" x2="34.0" y2="376.5" stroke="#4a4a4a" stroke-width="1"/>
<text x="28.2" y="381.1" text-anchor="end">9</text>
<line x1="31.5" y1="359.5" x2="34.0" y2="359.5" stroke="#4a4a4a" stroke-width="1"/>
<text x="28.2" y="363.6" text-anchor="end">12</text>
<line x1="31.5" y1="342.5" x2="34.0" y2="342.5" stroke="#4a4a4a" stroke-width="1"/>
<text x="28.2" y="346.1" text-anchor="end">15</text>
<line x1="31.5" y1="324.5" x2="34.0" y2="324.5" stroke="#4a4a4a" stroke-width="1"/>
<text x="28.2" y="328.6" text-anchor="end">18</text>
<line x1="31.5" y1="306.5" x2="34.0" y2="306.5" stroke="#4a4a4a" stroke-width="1"/>
<text x="28.2" y="311.1" text-anchor="end">21</text>
<text x="28.2" y="293.6" text-anchor="end">24</text>
<text x="35.2" y="301.1" font-size="11.7">(g)Jiujiang (905km)</text>
<text x="127.5" y="420.5" text-anchor="middle" font-size="11.6">Flow (10<tspan font-size="4.6" dy="-5.3">4</tspan><tspan dy="5.3">m</tspan><tspan font-size="4.6" dy="-5.3">3</tspan><tspan dy="5.3" dx="1">/</tspan><tspan dx="2.5">s)</tspan></text>
<g transform="translate(10.7,375.5) rotate(-90)"><text x="0" y="0" textLength="26" lengthAdjust="spacingAndGlyphs">Water</text><text x="31" y="0" textLength="21.6" lengthAdjust="spacingAndGlyphs">level</text><line x1="53.2" y1="-1.3" x2="59.6" y2="-9.6" stroke="#222" stroke-width="0.9"/><text x="60.6" y="0" textLength="7.1" lengthAdjust="spacingAndGlyphs">m</text></g>
<rect x="261.5" y="289.5" width="193.0" height="105.0" fill="none" stroke="#4a4a4a" stroke-width="1"/>
<text x="261.5" y="406.8" text-anchor="middle">0</text>
<line x1="282.5" y1="394.5" x2="282.5" y2="392.0" stroke="#4a4a4a" stroke-width="1"/>
<text x="282.9" y="406.8" text-anchor="middle">1</text>
<line x1="304.5" y1="394.5" x2="304.5" y2="392.0" stroke="#4a4a4a" stroke-width="1"/>
<text x="304.4" y="406.8" text-anchor="middle">2</text>
<line x1="325.5" y1="394.5" x2="325.5" y2="392.0" stroke="#4a4a4a" stroke-width="1"/>
<text x="325.8" y="406.8" text-anchor="middle">3</text>
<line x1="347.5" y1="394.5" x2="347.5" y2="392.0" stroke="#4a4a4a" stroke-width="1"/>
<text x="347.3" y="406.8" text-anchor="middle">4</text>
<line x1="368.5" y1="394.5" x2="368.5" y2="392.0" stroke="#4a4a4a" stroke-width="1"/>
<text x="368.7" y="406.8" text-anchor="middle">5</text>
<line x1="390.5" y1="394.5" x2="390.5" y2="392.0" stroke="#4a4a4a" stroke-width="1"/>
<text x="390.2" y="406.8" text-anchor="middle">6</text>
<line x1="411.5" y1="394.5" x2="411.5" y2="392.0" stroke="#4a4a4a" stroke-width="1"/>
<text x="411.6" y="406.8" text-anchor="middle">7</text>
<line x1="433.5" y1="394.5" x2="433.5" y2="392.0" stroke="#4a4a4a" stroke-width="1"/>
<text x="433.1" y="406.8" text-anchor="middle">8</text>
<text x="454.5" y="406.8" text-anchor="middle">9</text>
<text x="258.2" y="398.6" text-anchor="end">2</text>
<line x1="261.5" y1="373.5" x2="264.0" y2="373.5" stroke="#4a4a4a" stroke-width="1"/>
<text x="258.2" y="377.6" text-anchor="end">5</text>
<line x1="261.5" y1="352.5" x2="264.0" y2="352.5" stroke="#4a4a4a" stroke-width="1"/>
<text x="258.2" y="356.6" text-anchor="end">8</text>
<line x1="261.5" y1="331.5" x2="264.0" y2="331.5" stroke="#4a4a4a" stroke-width="1"/>
<text x="258.2" y="335.6" text-anchor="end">11</text>
<line x1="261.5" y1="310.5" x2="264.0" y2="310.5" stroke="#4a4a4a" stroke-width="1"/>
<text x="258.2" y="314.6" text-anchor="end">14</text>
<text x="258.2" y="293.6" text-anchor="end">17</text>
<text x="264.1" y="300.4" font-size="11.7">(h)Datong (1193km)</text>
<text x="358.0" y="420.5" text-anchor="middle" font-size="11.6">Flow (10<tspan font-size="4.6" dy="-5.3">4</tspan><tspan dy="5.3">m</tspan><tspan font-size="4.6" dy="-5.3">3</tspan><tspan dy="5.3" dx="1">/</tspan><tspan dx="2.5">s)</tspan></text>
<g transform="translate(241.2,373.9) rotate(-90)"><text x="0" y="0" textLength="26" lengthAdjust="spacingAndGlyphs">Water</text><text x="31" y="0" textLength="21.6" lengthAdjust="spacingAndGlyphs">level</text><line x1="53.2" y1="-1.3" x2="59.6" y2="-9.6" stroke="#222" stroke-width="0.9"/><text x="60.6" y="0" textLength="7.1" lengthAdjust="spacingAndGlyphs">m</text></g>
<text x="504.9" y="304.6" font-size="12" letter-spacing="0.5">legend:</text>
<path d="M505.4 315.0L507.4 317.0L505.4 319.0L503.4 317.0Z" fill="none" stroke="#2f4f9f" stroke-width="1.1"/>
<text x="511.8" y="321.1" font-size="12">1998</text>
<line x1="551" y1="317.3" x2="562" y2="317.3" stroke="#2f4f9f" stroke-width="1.3"/>
<text x="566" y="321.1" font-size="12">1998, the fitting curve</text>
<rect x="503.4" y="331.7" width="4.0" height="4.0" fill="none" stroke="#e0262a" stroke-width="1.1"/>
<text x="511.8" y="337.8" font-size="12">2003</text>
<line x1="551" y1="334.0" x2="562" y2="334.0" stroke="#e0262a" stroke-width="1.3"/>
<text x="566" y="337.8" font-size="12">2003, the fitting curve</text>
<path d="M505.4 348.6L507.4 352.2L503.4 352.2Z" fill="none" stroke="#2ca14a" stroke-width="1.1"/>
<text x="511.8" y="354.7" font-size="12">2010</text>
<line x1="551" y1="350.9" x2="562" y2="350.9" stroke="#2ca14a" stroke-width="1.3"/>
<text x="566" y="354.7" font-size="12">2010, the fitting curve</text>
<circle cx="505.4" cy="367.8" r="2.0" fill="none" stroke="#5b2c91" stroke-width="1.1"/>
<text x="511.8" y="371.9" font-size="12">2016</text>
<line x1="551" y1="368.1" x2="562" y2="368.1" stroke="#5b2c91" stroke-width="1.3"/>
<text x="566" y="371.9" font-size="12">2016, the fitting curve</text>
</svg>
</body></html>
